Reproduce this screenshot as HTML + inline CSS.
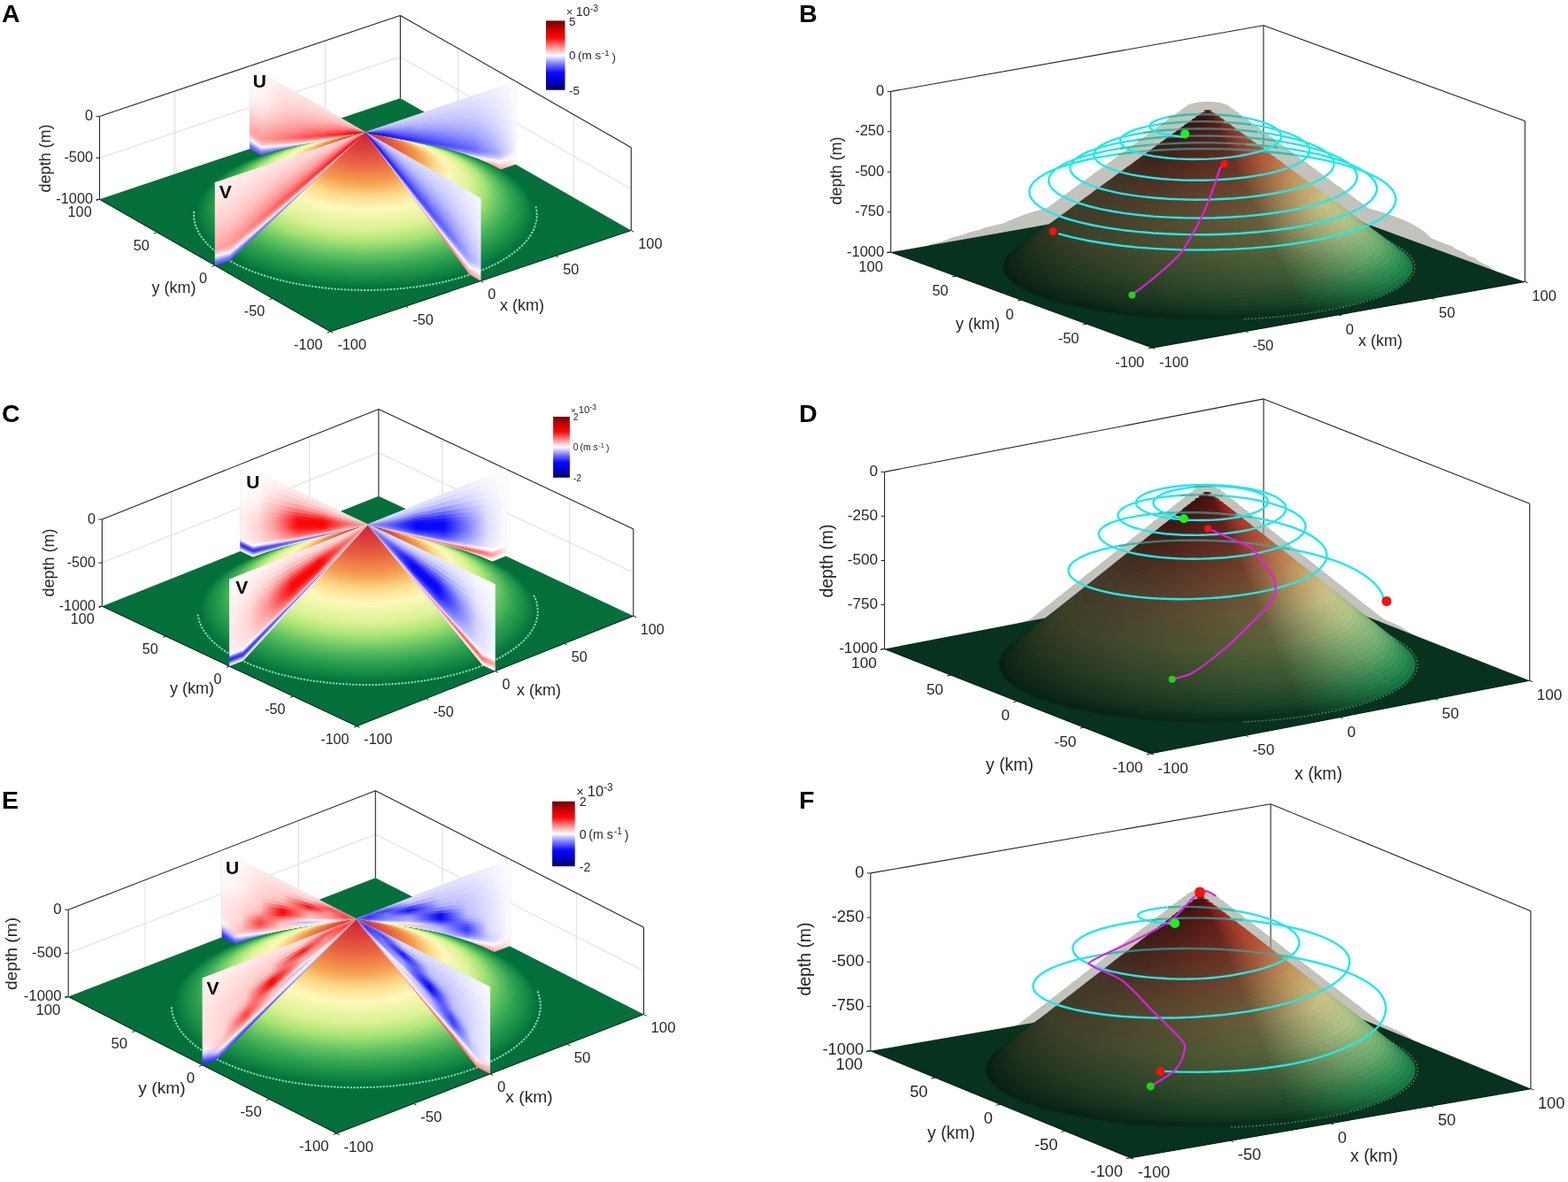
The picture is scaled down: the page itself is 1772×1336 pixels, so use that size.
<!DOCTYPE html><html><head><meta charset="utf-8"><title>Seamount flow figure</title><style>html,body{margin:0;padding:0;background:#fff;overflow:hidden}svg{display:block}</style></head><body><svg width="1772" height="1336" viewBox="0 0 1772 1336" font-family='"Liberation Sans", Arial, Helvetica, sans-serif'><defs><linearGradient id="cb1" x1="0" y1="0" x2="0" y2="1"><stop offset="0.000" stop-color="#6e0000"/><stop offset="0.050" stop-color="#920000"/><stop offset="0.100" stop-color="#b60000"/><stop offset="0.150" stop-color="#d30202"/><stop offset="0.200" stop-color="#e90606"/><stop offset="0.250" stop-color="#ff0a0a"/><stop offset="0.300" stop-color="#ff3e3e"/><stop offset="0.350" stop-color="#ff7272"/><stop offset="0.400" stop-color="#ffa3a3"/><stop offset="0.450" stop-color="#ffd1d1"/><stop offset="0.500" stop-color="#ffffff"/><stop offset="0.550" stop-color="#c9c9ff"/><stop offset="0.600" stop-color="#9393ff"/><stop offset="0.650" stop-color="#6262ff"/><stop offset="0.700" stop-color="#3636ff"/><stop offset="0.750" stop-color="#0a0aff"/><stop offset="0.800" stop-color="#0606e9"/><stop offset="0.850" stop-color="#0202d3"/><stop offset="0.900" stop-color="#0000b2"/><stop offset="0.950" stop-color="#000086"/><stop offset="1.000" stop-color="#00005a"/></linearGradient><linearGradient id="v2" x1="1" x2="0"><stop offset="0" stop-color="#ffffff"/><stop offset=".08" stop-color="#f0f0ff"/><stop offset=".2" stop-color="#bfbfff"/><stop offset=".35" stop-color="#9696ff"/><stop offset=".55" stop-color="#7575ff"/><stop offset=".72" stop-color="#6363ff"/><stop offset=".86" stop-color="#5c5cff"/><stop offset="1" stop-color="#5b5bff"/></linearGradient><linearGradient id="v3" x1="1" x2="0"><stop offset="0" stop-color="#ffecec"/><stop offset=".08" stop-color="#fff9f9"/><stop offset=".2" stop-color="#d4d4ff"/><stop offset=".35" stop-color="#aaaaff"/><stop offset=".55" stop-color="#8585ff"/><stop offset=".72" stop-color="#6e6eff"/><stop offset=".86" stop-color="#6565ff"/><stop offset="1" stop-color="#6161ff"/></linearGradient><linearGradient id="v4" x1="1" x2="0"><stop offset="0" stop-color="#ffd1d1"/><stop offset=".08" stop-color="#ffdddd"/><stop offset=".2" stop-color="#f4f4ff"/><stop offset=".35" stop-color="#c9c9ff"/><stop offset=".55" stop-color="#a0a0ff"/><stop offset=".72" stop-color="#8080ff"/><stop offset=".86" stop-color="#7272ff"/><stop offset="1" stop-color="#6b6bff"/></linearGradient><linearGradient id="v5" x1="1" x2="0"><stop offset="0" stop-color="#ffb3b3"/><stop offset=".08" stop-color="#ffbfbf"/><stop offset=".2" stop-color="#ffeaea"/><stop offset=".35" stop-color="#ededff"/><stop offset=".55" stop-color="#c1c1ff"/><stop offset=".72" stop-color="#9c9cff"/><stop offset=".86" stop-color="#8686ff"/><stop offset="1" stop-color="#7979ff"/></linearGradient><linearGradient id="v6" x1="1" x2="0"><stop offset="0" stop-color="#ff9898"/><stop offset=".08" stop-color="#ffa4a4"/><stop offset=".2" stop-color="#ffcece"/><stop offset=".35" stop-color="#fff0f0"/><stop offset=".55" stop-color="#e4e4ff"/><stop offset=".72" stop-color="#bbbbff"/><stop offset=".86" stop-color="#a0a0ff"/><stop offset="1" stop-color="#8e8eff"/></linearGradient><linearGradient id="v7" x1="1" x2="0"><stop offset="0" stop-color="#ff7c7c"/><stop offset=".08" stop-color="#ff8989"/><stop offset=".2" stop-color="#ffb2b2"/><stop offset=".35" stop-color="#ffd2d2"/><stop offset=".55" stop-color="#fff5f5"/><stop offset=".72" stop-color="#dfdfff"/><stop offset=".86" stop-color="#c0c0ff"/><stop offset="1" stop-color="#a8a8ff"/></linearGradient><linearGradient id="v8" x1="1" x2="0"><stop offset="0" stop-color="#ff6161"/><stop offset=".08" stop-color="#ff6d6d"/><stop offset=".2" stop-color="#ff9898"/><stop offset=".35" stop-color="#ffb5b5"/><stop offset=".55" stop-color="#ffd4d4"/><stop offset=".72" stop-color="#fff8f8"/><stop offset=".86" stop-color="#e4e4ff"/><stop offset="1" stop-color="#c7c7ff"/></linearGradient><linearGradient id="v9" x1="1" x2="0"><stop offset="0" stop-color="#ff4949"/><stop offset=".08" stop-color="#ff5454"/><stop offset=".2" stop-color="#ff8181"/><stop offset=".35" stop-color="#ff9d9d"/><stop offset=".55" stop-color="#ffb8b8"/><stop offset=".72" stop-color="#ffdada"/><stop offset=".86" stop-color="#fff9f9"/><stop offset="1" stop-color="#e6e6ff"/></linearGradient><linearGradient id="v10" x1="1" x2="0"><stop offset="0" stop-color="#ff3232"/><stop offset=".08" stop-color="#ff3d3d"/><stop offset=".2" stop-color="#ff6969"/><stop offset=".35" stop-color="#ff8888"/><stop offset=".55" stop-color="#ffa1a1"/><stop offset=".72" stop-color="#ffc0c0"/><stop offset=".86" stop-color="#ffdede"/><stop offset="1" stop-color="#fffafa"/></linearGradient><linearGradient id="v11" x1="1" x2="0"><stop offset="0" stop-color="#ff1212"/><stop offset=".08" stop-color="#ff1c1c"/><stop offset=".2" stop-color="#ff4949"/><stop offset=".35" stop-color="#ff6868"/><stop offset=".55" stop-color="#ff8484"/><stop offset=".72" stop-color="#ffa2a2"/><stop offset=".86" stop-color="#ffbdbd"/><stop offset="1" stop-color="#ffd9d9"/></linearGradient><linearGradient id="v12" x1="1" x2="0"><stop offset="0" stop-color="#f40808"/><stop offset=".08" stop-color="#f80909"/><stop offset=".2" stop-color="#ff2727"/><stop offset=".35" stop-color="#ff4848"/><stop offset=".55" stop-color="#ff6767"/><stop offset=".72" stop-color="#ff8888"/><stop offset=".86" stop-color="#ffa0a0"/><stop offset="1" stop-color="#ffb8b8"/></linearGradient><linearGradient id="v13" x1="1" x2="0"><stop offset="0" stop-color="#ed0707"/><stop offset=".08" stop-color="#f00707"/><stop offset=".2" stop-color="#ff1717"/><stop offset=".35" stop-color="#ff3a3a"/><stop offset=".55" stop-color="#ff5b5b"/><stop offset=".72" stop-color="#ff7c7c"/><stop offset=".86" stop-color="#ff9494"/><stop offset="1" stop-color="#ffa8a8"/></linearGradient><linearGradient id="v14" x1="1" x2="0"><stop offset="0" stop-color="#f10707"/><stop offset=".08" stop-color="#f50808"/><stop offset=".2" stop-color="#ff2323"/><stop offset=".35" stop-color="#ff4646"/><stop offset=".55" stop-color="#ff6565"/><stop offset=".72" stop-color="#ff8484"/><stop offset=".86" stop-color="#ff9999"/><stop offset="1" stop-color="#ffa9a9"/></linearGradient><linearGradient id="v15" x1="1" x2="0"><stop offset="0" stop-color="#f60808"/><stop offset=".08" stop-color="#fb0909"/><stop offset=".2" stop-color="#ff3232"/><stop offset=".35" stop-color="#ff5555"/><stop offset=".55" stop-color="#ff7272"/><stop offset=".72" stop-color="#ff8e8e"/><stop offset=".86" stop-color="#ffa0a0"/><stop offset="1" stop-color="#ffaeae"/></linearGradient><linearGradient id="v16" x1="1" x2="0"><stop offset="0" stop-color="#fb0909"/><stop offset=".08" stop-color="#ff0d0d"/><stop offset=".2" stop-color="#ff4040"/><stop offset=".35" stop-color="#ff6262"/><stop offset=".55" stop-color="#ff7e7e"/><stop offset=".72" stop-color="#ff9797"/><stop offset=".86" stop-color="#ffa8a8"/><stop offset="1" stop-color="#ffb5b5"/></linearGradient><linearGradient id="v17" x1="1" x2="0"><stop offset="0" stop-color="#ff0e0e"/><stop offset=".08" stop-color="#ff1a1a"/><stop offset=".2" stop-color="#ff4d4d"/><stop offset=".35" stop-color="#ff6f6f"/><stop offset=".55" stop-color="#ff8888"/><stop offset=".72" stop-color="#ff9f9f"/><stop offset=".86" stop-color="#ffb1b1"/><stop offset="1" stop-color="#ffbebe"/></linearGradient><linearGradient id="v18" x1="1" x2="0"><stop offset="0" stop-color="#ff1c1c"/><stop offset=".08" stop-color="#ff2828"/><stop offset=".2" stop-color="#ff5b5b"/><stop offset=".35" stop-color="#ff7c7c"/><stop offset=".55" stop-color="#ff9292"/><stop offset=".72" stop-color="#ffa7a7"/><stop offset=".86" stop-color="#ffbaba"/><stop offset="1" stop-color="#ffc7c7"/></linearGradient><linearGradient id="v19" x1="1" x2="0"><stop offset="0" stop-color="#ff2c2c"/><stop offset=".08" stop-color="#ff3838"/><stop offset=".2" stop-color="#ff6969"/><stop offset=".35" stop-color="#ff8989"/><stop offset=".55" stop-color="#ff9c9c"/><stop offset=".72" stop-color="#ffb0b0"/><stop offset=".86" stop-color="#ffc4c4"/><stop offset="1" stop-color="#ffd1d1"/></linearGradient><linearGradient id="v20" x1="1" x2="0"><stop offset="0" stop-color="#ff3e3e"/><stop offset=".08" stop-color="#ff4949"/><stop offset=".2" stop-color="#ff7878"/><stop offset=".35" stop-color="#ff9595"/><stop offset=".55" stop-color="#ffa6a6"/><stop offset=".72" stop-color="#ffb9b9"/><stop offset=".86" stop-color="#ffcfcf"/><stop offset="1" stop-color="#ffdbdb"/></linearGradient><linearGradient id="v21" x1="1" x2="0"><stop offset="0" stop-color="#ff5151"/><stop offset=".08" stop-color="#ff5c5c"/><stop offset=".2" stop-color="#ff8888"/><stop offset=".35" stop-color="#ffa0a0"/><stop offset=".55" stop-color="#ffb0b0"/><stop offset=".72" stop-color="#ffc1c1"/><stop offset=".86" stop-color="#ffd9d9"/><stop offset="1" stop-color="#ffe6e6"/></linearGradient><linearGradient id="v22" x1="1" x2="0"><stop offset="0" stop-color="#ff6767"/><stop offset=".08" stop-color="#ff7171"/><stop offset=".2" stop-color="#ff9696"/><stop offset=".35" stop-color="#ffacac"/><stop offset=".55" stop-color="#ffb9b9"/><stop offset=".72" stop-color="#ffc9c9"/><stop offset=".86" stop-color="#ffe2e2"/><stop offset="1" stop-color="#ffeeee"/></linearGradient><linearGradient id="v23" x1="1" x2="0"><stop offset="0" stop-color="#ff7e7e"/><stop offset=".08" stop-color="#ff8686"/><stop offset=".2" stop-color="#ffa4a4"/><stop offset=".35" stop-color="#ffb7b7"/><stop offset=".55" stop-color="#ffc3c3"/><stop offset=".72" stop-color="#ffd1d1"/><stop offset=".86" stop-color="#ffe9e9"/><stop offset="1" stop-color="#fff6f6"/></linearGradient><linearGradient id="v24" x1="1" x2="0"><stop offset="0" stop-color="#ff9696"/><stop offset=".08" stop-color="#ff9c9c"/><stop offset=".2" stop-color="#ffb3b3"/><stop offset=".35" stop-color="#ffc2c2"/><stop offset=".55" stop-color="#ffcccc"/><stop offset=".72" stop-color="#ffd9d9"/><stop offset=".86" stop-color="#ffefef"/><stop offset="1" stop-color="#fffafa"/></linearGradient><linearGradient id="v25" x1="1" x2="0"><stop offset="0" stop-color="#ffacac"/><stop offset=".08" stop-color="#ffb0b0"/><stop offset=".2" stop-color="#ffc1c1"/><stop offset=".35" stop-color="#ffcdcd"/><stop offset=".55" stop-color="#ffd5d5"/><stop offset=".72" stop-color="#ffdfdf"/><stop offset=".86" stop-color="#fff2f2"/><stop offset="1" stop-color="#fffbfb"/></linearGradient><linearGradient id="v26" x1="1" x2="0"><stop offset="0" stop-color="#ffbfbf"/><stop offset=".08" stop-color="#ffc2c2"/><stop offset=".2" stop-color="#ffcdcd"/><stop offset=".35" stop-color="#ffd5d5"/><stop offset=".55" stop-color="#ffdcdc"/><stop offset=".72" stop-color="#ffe5e5"/><stop offset=".86" stop-color="#fff4f4"/><stop offset="1" stop-color="#fffcfc"/></linearGradient><linearGradient id="v27" x1="1" x2="0"><stop offset="0" stop-color="#ffcece"/><stop offset=".08" stop-color="#ffcfcf"/><stop offset=".2" stop-color="#ffd7d7"/><stop offset=".35" stop-color="#ffdcdc"/><stop offset=".55" stop-color="#ffe2e2"/><stop offset=".72" stop-color="#ffe9e9"/><stop offset=".86" stop-color="#fff6f6"/><stop offset="1" stop-color="#fffcfc"/></linearGradient><linearGradient id="v28" x1="1" x2="0"><stop offset="0" stop-color="#ffffff"/><stop offset=".08" stop-color="#f0f0ff"/><stop offset=".2" stop-color="#bfbfff"/><stop offset=".35" stop-color="#9696ff"/><stop offset=".55" stop-color="#7575ff"/><stop offset=".72" stop-color="#6363ff"/><stop offset=".86" stop-color="#5c5cff"/><stop offset="1" stop-color="#5b5bff"/></linearGradient><linearGradient id="v29" x1="1" x2="0"><stop offset="0" stop-color="#ffecec"/><stop offset=".08" stop-color="#fff9f9"/><stop offset=".2" stop-color="#d4d4ff"/><stop offset=".35" stop-color="#aaaaff"/><stop offset=".55" stop-color="#8585ff"/><stop offset=".72" stop-color="#6e6eff"/><stop offset=".86" stop-color="#6565ff"/><stop offset="1" stop-color="#6161ff"/></linearGradient><linearGradient id="v30" x1="1" x2="0"><stop offset="0" stop-color="#ffd1d1"/><stop offset=".08" stop-color="#ffdddd"/><stop offset=".2" stop-color="#f4f4ff"/><stop offset=".35" stop-color="#c9c9ff"/><stop offset=".55" stop-color="#a0a0ff"/><stop offset=".72" stop-color="#8080ff"/><stop offset=".86" stop-color="#7272ff"/><stop offset="1" stop-color="#6b6bff"/></linearGradient><linearGradient id="v31" x1="1" x2="0"><stop offset="0" stop-color="#ffb3b3"/><stop offset=".08" stop-color="#ffbfbf"/><stop offset=".2" stop-color="#ffeaea"/><stop offset=".35" stop-color="#ededff"/><stop offset=".55" stop-color="#c1c1ff"/><stop offset=".72" stop-color="#9c9cff"/><stop offset=".86" stop-color="#8686ff"/><stop offset="1" stop-color="#7979ff"/></linearGradient><linearGradient id="v32" x1="1" x2="0"><stop offset="0" stop-color="#ff9898"/><stop offset=".08" stop-color="#ffa4a4"/><stop offset=".2" stop-color="#ffcece"/><stop offset=".35" stop-color="#fff0f0"/><stop offset=".55" stop-color="#e4e4ff"/><stop offset=".72" stop-color="#bbbbff"/><stop offset=".86" stop-color="#a0a0ff"/><stop offset="1" stop-color="#8e8eff"/></linearGradient><linearGradient id="v33" x1="1" x2="0"><stop offset="0" stop-color="#ff7c7c"/><stop offset=".08" stop-color="#ff8989"/><stop offset=".2" stop-color="#ffb2b2"/><stop offset=".35" stop-color="#ffd2d2"/><stop offset=".55" stop-color="#fff5f5"/><stop offset=".72" stop-color="#dfdfff"/><stop offset=".86" stop-color="#c0c0ff"/><stop offset="1" stop-color="#a8a8ff"/></linearGradient><linearGradient id="v34" x1="1" x2="0"><stop offset="0" stop-color="#ff6161"/><stop offset=".08" stop-color="#ff6d6d"/><stop offset=".2" stop-color="#ff9898"/><stop offset=".35" stop-color="#ffb5b5"/><stop offset=".55" stop-color="#ffd4d4"/><stop offset=".72" stop-color="#fff8f8"/><stop offset=".86" stop-color="#e4e4ff"/><stop offset="1" stop-color="#c7c7ff"/></linearGradient><linearGradient id="v35" x1="1" x2="0"><stop offset="0" stop-color="#ff4949"/><stop offset=".08" stop-color="#ff5454"/><stop offset=".2" stop-color="#ff8181"/><stop offset=".35" stop-color="#ff9d9d"/><stop offset=".55" stop-color="#ffb8b8"/><stop offset=".72" stop-color="#ffdada"/><stop offset=".86" stop-color="#fff9f9"/><stop offset="1" stop-color="#e6e6ff"/></linearGradient><linearGradient id="v36" x1="1" x2="0"><stop offset="0" stop-color="#ff3232"/><stop offset=".08" stop-color="#ff3d3d"/><stop offset=".2" stop-color="#ff6969"/><stop offset=".35" stop-color="#ff8888"/><stop offset=".55" stop-color="#ffa1a1"/><stop offset=".72" stop-color="#ffc0c0"/><stop offset=".86" stop-color="#ffdede"/><stop offset="1" stop-color="#fffafa"/></linearGradient><linearGradient id="v37" x1="1" x2="0"><stop offset="0" stop-color="#ff1212"/><stop offset=".08" stop-color="#ff1c1c"/><stop offset=".2" stop-color="#ff4949"/><stop offset=".35" stop-color="#ff6868"/><stop offset=".55" stop-color="#ff8484"/><stop offset=".72" stop-color="#ffa2a2"/><stop offset=".86" stop-color="#ffbdbd"/><stop offset="1" stop-color="#ffd9d9"/></linearGradient><linearGradient id="v38" x1="1" x2="0"><stop offset="0" stop-color="#f40808"/><stop offset=".08" stop-color="#f80909"/><stop offset=".2" stop-color="#ff2727"/><stop offset=".35" stop-color="#ff4848"/><stop offset=".55" stop-color="#ff6767"/><stop offset=".72" stop-color="#ff8888"/><stop offset=".86" stop-color="#ffa0a0"/><stop offset="1" stop-color="#ffb8b8"/></linearGradient><linearGradient id="v39" x1="1" x2="0"><stop offset="0" stop-color="#ed0707"/><stop offset=".08" stop-color="#f00707"/><stop offset=".2" stop-color="#ff1717"/><stop offset=".35" stop-color="#ff3a3a"/><stop offset=".55" stop-color="#ff5b5b"/><stop offset=".72" stop-color="#ff7c7c"/><stop offset=".86" stop-color="#ff9494"/><stop offset="1" stop-color="#ffa8a8"/></linearGradient><linearGradient id="v40" x1="1" x2="0"><stop offset="0" stop-color="#f10707"/><stop offset=".08" stop-color="#f50808"/><stop offset=".2" stop-color="#ff2323"/><stop offset=".35" stop-color="#ff4646"/><stop offset=".55" stop-color="#ff6565"/><stop offset=".72" stop-color="#ff8484"/><stop offset=".86" stop-color="#ff9999"/><stop offset="1" stop-color="#ffa9a9"/></linearGradient><linearGradient id="v41" x1="1" x2="0"><stop offset="0" stop-color="#f60808"/><stop offset=".08" stop-color="#fb0909"/><stop offset=".2" stop-color="#ff3232"/><stop offset=".35" stop-color="#ff5555"/><stop offset=".55" stop-color="#ff7272"/><stop offset=".72" stop-color="#ff8e8e"/><stop offset=".86" stop-color="#ffa0a0"/><stop offset="1" stop-color="#ffaeae"/></linearGradient><linearGradient id="v42" x1="1" x2="0"><stop offset="0" stop-color="#fb0909"/><stop offset=".08" stop-color="#ff0d0d"/><stop offset=".2" stop-color="#ff4040"/><stop offset=".35" stop-color="#ff6262"/><stop offset=".55" stop-color="#ff7e7e"/><stop offset=".72" stop-color="#ff9696"/><stop offset=".86" stop-color="#ffa7a7"/><stop offset="1" stop-color="#ffb4b4"/></linearGradient><linearGradient id="v43" x1="1" x2="0"><stop offset="0" stop-color="#ff0e0e"/><stop offset=".08" stop-color="#ff1a1a"/><stop offset=".2" stop-color="#ff4d4d"/><stop offset=".35" stop-color="#ff6f6f"/><stop offset=".55" stop-color="#ff8888"/><stop offset=".72" stop-color="#ff9e9e"/><stop offset=".86" stop-color="#ffaeae"/><stop offset="1" stop-color="#ffb9b9"/></linearGradient><linearGradient id="v44" x1="1" x2="0"><stop offset="0" stop-color="#ff1c1c"/><stop offset=".08" stop-color="#ff2828"/><stop offset=".2" stop-color="#ff5b5b"/><stop offset=".35" stop-color="#ff7c7c"/><stop offset=".55" stop-color="#ff9292"/><stop offset=".72" stop-color="#ffa6a6"/><stop offset=".86" stop-color="#ffb4b4"/><stop offset="1" stop-color="#ffbfbf"/></linearGradient><linearGradient id="v45" x1="1" x2="0"><stop offset="0" stop-color="#ff2c2c"/><stop offset=".08" stop-color="#ff3838"/><stop offset=".2" stop-color="#ff6969"/><stop offset=".35" stop-color="#ff8989"/><stop offset=".55" stop-color="#ff9c9c"/><stop offset=".72" stop-color="#ffaeae"/><stop offset=".86" stop-color="#ffbbbb"/><stop offset="1" stop-color="#ffc5c5"/></linearGradient><linearGradient id="v46" x1="1" x2="0"><stop offset="0" stop-color="#ff3e3e"/><stop offset=".08" stop-color="#ff4949"/><stop offset=".2" stop-color="#ff7878"/><stop offset=".35" stop-color="#ff9595"/><stop offset=".55" stop-color="#ffa6a6"/><stop offset=".72" stop-color="#ffb6b6"/><stop offset=".86" stop-color="#ffc2c2"/><stop offset="1" stop-color="#ffcaca"/></linearGradient><linearGradient id="v47" x1="1" x2="0"><stop offset="0" stop-color="#ff5151"/><stop offset=".08" stop-color="#ff5c5c"/><stop offset=".2" stop-color="#ff8888"/><stop offset=".35" stop-color="#ffa0a0"/><stop offset=".55" stop-color="#ffb0b0"/><stop offset=".72" stop-color="#ffbebe"/><stop offset=".86" stop-color="#ffc9c9"/><stop offset="1" stop-color="#ffd0d0"/></linearGradient><linearGradient id="v48" x1="1" x2="0"><stop offset="0" stop-color="#ff6767"/><stop offset=".08" stop-color="#ff7171"/><stop offset=".2" stop-color="#ff9696"/><stop offset=".35" stop-color="#ffacac"/><stop offset=".55" stop-color="#ffb9b9"/><stop offset=".72" stop-color="#ffc6c6"/><stop offset=".86" stop-color="#ffcfcf"/><stop offset="1" stop-color="#ffd6d6"/></linearGradient><linearGradient id="v49" x1="1" x2="0"><stop offset="0" stop-color="#ff7e7e"/><stop offset=".08" stop-color="#ff8686"/><stop offset=".2" stop-color="#ffa4a4"/><stop offset=".35" stop-color="#ffb7b7"/><stop offset=".55" stop-color="#ffc3c3"/><stop offset=".72" stop-color="#ffcece"/><stop offset=".86" stop-color="#ffd5d5"/><stop offset="1" stop-color="#ffdbdb"/></linearGradient><linearGradient id="v50" x1="1" x2="0"><stop offset="0" stop-color="#ff9696"/><stop offset=".08" stop-color="#ff9c9c"/><stop offset=".2" stop-color="#ffb3b3"/><stop offset=".35" stop-color="#ffc2c2"/><stop offset=".55" stop-color="#ffcccc"/><stop offset=".72" stop-color="#ffd5d5"/><stop offset=".86" stop-color="#ffdcdc"/><stop offset="1" stop-color="#ffe1e1"/></linearGradient><linearGradient id="v51" x1="1" x2="0"><stop offset="0" stop-color="#ffacac"/><stop offset=".08" stop-color="#ffb0b0"/><stop offset=".2" stop-color="#ffc1c1"/><stop offset=".35" stop-color="#ffcdcd"/><stop offset=".55" stop-color="#ffd5d5"/><stop offset=".72" stop-color="#ffdcdc"/><stop offset=".86" stop-color="#ffe2e2"/><stop offset="1" stop-color="#ffe6e6"/></linearGradient><linearGradient id="v52" x1="1" x2="0"><stop offset="0" stop-color="#ffbfbf"/><stop offset=".08" stop-color="#ffc2c2"/><stop offset=".2" stop-color="#ffcdcd"/><stop offset=".35" stop-color="#ffd5d5"/><stop offset=".55" stop-color="#ffdcdc"/><stop offset=".72" stop-color="#ffe2e2"/><stop offset=".86" stop-color="#ffe7e7"/><stop offset="1" stop-color="#ffeaea"/></linearGradient><linearGradient id="v53" x1="1" x2="0"><stop offset="0" stop-color="#ffcece"/><stop offset=".08" stop-color="#ffcfcf"/><stop offset=".2" stop-color="#ffd7d7"/><stop offset=".35" stop-color="#ffdcdc"/><stop offset=".55" stop-color="#ffe2e2"/><stop offset=".72" stop-color="#ffe7e7"/><stop offset=".86" stop-color="#ffebeb"/><stop offset="1" stop-color="#ffeeee"/></linearGradient><linearGradient id="v54" x1="0" x2="1"><stop offset="0" stop-color="#ffffff"/><stop offset=".08" stop-color="#fff3f3"/><stop offset=".2" stop-color="#ffc8c8"/><stop offset=".35" stop-color="#ffa6a6"/><stop offset=".55" stop-color="#ff8989"/><stop offset=".72" stop-color="#ff7373"/><stop offset=".86" stop-color="#ff9696"/><stop offset="1" stop-color="#fff0f0"/></linearGradient><linearGradient id="v55" x1="0" x2="1"><stop offset="0" stop-color="#e9e9ff"/><stop offset=".08" stop-color="#f7f7ff"/><stop offset=".2" stop-color="#ffdbdb"/><stop offset=".35" stop-color="#ffb7b7"/><stop offset=".55" stop-color="#ff9797"/><stop offset=".72" stop-color="#ff8080"/><stop offset=".86" stop-color="#ff9c9c"/><stop offset="1" stop-color="#fff1f1"/></linearGradient><linearGradient id="v56" x1="0" x2="1"><stop offset="0" stop-color="#c9c9ff"/><stop offset=".08" stop-color="#d7d7ff"/><stop offset=".2" stop-color="#fff5f5"/><stop offset=".35" stop-color="#ffd1d1"/><stop offset=".55" stop-color="#ffaeae"/><stop offset=".72" stop-color="#ff9393"/><stop offset=".86" stop-color="#ffa7a7"/><stop offset="1" stop-color="#fff2f2"/></linearGradient><linearGradient id="v57" x1="0" x2="1"><stop offset="0" stop-color="#a6a6ff"/><stop offset=".08" stop-color="#b4b4ff"/><stop offset=".2" stop-color="#e7e7ff"/><stop offset=".35" stop-color="#ffefef"/><stop offset=".55" stop-color="#ffcaca"/><stop offset=".72" stop-color="#ffaaaa"/><stop offset=".86" stop-color="#ffb4b4"/><stop offset="1" stop-color="#fff4f4"/></linearGradient><linearGradient id="v58" x1="0" x2="1"><stop offset="0" stop-color="#8686ff"/><stop offset=".08" stop-color="#9494ff"/><stop offset=".2" stop-color="#c5c5ff"/><stop offset=".35" stop-color="#eeeeff"/><stop offset=".55" stop-color="#ffe8e8"/><stop offset=".72" stop-color="#ffc5c5"/><stop offset=".86" stop-color="#ffc4c4"/><stop offset="1" stop-color="#fff5f5"/></linearGradient><linearGradient id="v59" x1="0" x2="1"><stop offset="0" stop-color="#6b6bff"/><stop offset=".08" stop-color="#7575ff"/><stop offset=".2" stop-color="#a4a4ff"/><stop offset=".35" stop-color="#cacaff"/><stop offset=".55" stop-color="#f3f3ff"/><stop offset=".72" stop-color="#ffe4e4"/><stop offset=".86" stop-color="#ffd8d8"/><stop offset="1" stop-color="#fff8f8"/></linearGradient><linearGradient id="v60" x1="0" x2="1"><stop offset="0" stop-color="#5454ff"/><stop offset=".08" stop-color="#5e5eff"/><stop offset=".2" stop-color="#8686ff"/><stop offset=".35" stop-color="#a8a8ff"/><stop offset=".55" stop-color="#ccccff"/><stop offset=".72" stop-color="#f7f7ff"/><stop offset=".86" stop-color="#ffeeee"/><stop offset="1" stop-color="#fffafa"/></linearGradient><linearGradient id="v61" x1="0" x2="1"><stop offset="0" stop-color="#3f3fff"/><stop offset=".08" stop-color="#4949ff"/><stop offset=".2" stop-color="#6e6eff"/><stop offset=".35" stop-color="#8c8cff"/><stop offset=".55" stop-color="#ababff"/><stop offset=".72" stop-color="#d4d4ff"/><stop offset=".86" stop-color="#fafaff"/><stop offset="1" stop-color="#fffdfd"/></linearGradient><linearGradient id="v62" x1="0" x2="1"><stop offset="0" stop-color="#2c2cff"/><stop offset=".08" stop-color="#3535ff"/><stop offset=".2" stop-color="#5b5bff"/><stop offset=".35" stop-color="#7474ff"/><stop offset=".55" stop-color="#9090ff"/><stop offset=".72" stop-color="#b5b5ff"/><stop offset=".86" stop-color="#e3e3ff"/><stop offset="1" stop-color="#fefeff"/></linearGradient><linearGradient id="v63" x1="0" x2="1"><stop offset="0" stop-color="#1111ff"/><stop offset=".08" stop-color="#1919ff"/><stop offset=".2" stop-color="#3f3fff"/><stop offset=".35" stop-color="#5a5aff"/><stop offset=".55" stop-color="#7171ff"/><stop offset=".72" stop-color="#9292ff"/><stop offset=".86" stop-color="#c7c7ff"/><stop offset="1" stop-color="#fbfbff"/></linearGradient><linearGradient id="v64" x1="0" x2="1"><stop offset="0" stop-color="#0808f4"/><stop offset=".08" stop-color="#0909f8"/><stop offset=".2" stop-color="#2222ff"/><stop offset=".35" stop-color="#3f3fff"/><stop offset=".55" stop-color="#5959ff"/><stop offset=".72" stop-color="#7474ff"/><stop offset=".86" stop-color="#aeaeff"/><stop offset="1" stop-color="#f7f7ff"/></linearGradient><linearGradient id="v65" x1="0" x2="1"><stop offset="0" stop-color="#0707ed"/><stop offset=".08" stop-color="#0707f0"/><stop offset=".2" stop-color="#1515ff"/><stop offset=".35" stop-color="#3232ff"/><stop offset=".55" stop-color="#4e4eff"/><stop offset=".72" stop-color="#6a6aff"/><stop offset=".86" stop-color="#a3a3ff"/><stop offset="1" stop-color="#f5f5ff"/></linearGradient><linearGradient id="v66" x1="0" x2="1"><stop offset="0" stop-color="#0707f1"/><stop offset=".08" stop-color="#0808f5"/><stop offset=".2" stop-color="#1f1fff"/><stop offset=".35" stop-color="#3d3dff"/><stop offset=".55" stop-color="#5757ff"/><stop offset=".72" stop-color="#7171ff"/><stop offset=".86" stop-color="#a7a7ff"/><stop offset="1" stop-color="#f5f5ff"/></linearGradient><linearGradient id="v67" x1="0" x2="1"><stop offset="0" stop-color="#0808f6"/><stop offset=".08" stop-color="#0909fb"/><stop offset=".2" stop-color="#2c2cff"/><stop offset=".35" stop-color="#4949ff"/><stop offset=".55" stop-color="#6262ff"/><stop offset=".72" stop-color="#7a7aff"/><stop offset=".86" stop-color="#aeaeff"/><stop offset="1" stop-color="#f5f5ff"/></linearGradient><linearGradient id="v68" x1="0" x2="1"><stop offset="0" stop-color="#0909fb"/><stop offset=".08" stop-color="#0d0dff"/><stop offset=".2" stop-color="#3838ff"/><stop offset=".35" stop-color="#5555ff"/><stop offset=".55" stop-color="#6c6cff"/><stop offset=".72" stop-color="#8484ff"/><stop offset=".86" stop-color="#b4b4ff"/><stop offset="1" stop-color="#f6f6ff"/></linearGradient><linearGradient id="v69" x1="0" x2="1"><stop offset="0" stop-color="#0e0eff"/><stop offset=".08" stop-color="#1818ff"/><stop offset=".2" stop-color="#4343ff"/><stop offset=".35" stop-color="#6060ff"/><stop offset=".55" stop-color="#7575ff"/><stop offset=".72" stop-color="#8d8dff"/><stop offset=".86" stop-color="#b9b9ff"/><stop offset="1" stop-color="#f7f7ff"/></linearGradient><linearGradient id="v70" x1="0" x2="1"><stop offset="0" stop-color="#1919ff"/><stop offset=".08" stop-color="#2424ff"/><stop offset=".2" stop-color="#4e4eff"/><stop offset=".35" stop-color="#6a6aff"/><stop offset=".55" stop-color="#7f7fff"/><stop offset=".72" stop-color="#9696ff"/><stop offset=".86" stop-color="#bfbfff"/><stop offset="1" stop-color="#f7f7ff"/></linearGradient><linearGradient id="v71" x1="0" x2="1"><stop offset="0" stop-color="#2727ff"/><stop offset=".08" stop-color="#3131ff"/><stop offset=".2" stop-color="#5a5aff"/><stop offset=".35" stop-color="#7575ff"/><stop offset=".55" stop-color="#8b8bff"/><stop offset=".72" stop-color="#a0a0ff"/><stop offset=".86" stop-color="#c5c5ff"/><stop offset="1" stop-color="#f8f8ff"/></linearGradient><linearGradient id="v72" x1="0" x2="1"><stop offset="0" stop-color="#3636ff"/><stop offset=".08" stop-color="#4040ff"/><stop offset=".2" stop-color="#6767ff"/><stop offset=".35" stop-color="#8282ff"/><stop offset=".55" stop-color="#9696ff"/><stop offset=".72" stop-color="#a9a9ff"/><stop offset=".86" stop-color="#cbcbff"/><stop offset="1" stop-color="#f9f9ff"/></linearGradient><linearGradient id="v73" x1="0" x2="1"><stop offset="0" stop-color="#4646ff"/><stop offset=".08" stop-color="#5050ff"/><stop offset=".2" stop-color="#7474ff"/><stop offset=".35" stop-color="#9090ff"/><stop offset=".55" stop-color="#a2a2ff"/><stop offset=".72" stop-color="#b3b3ff"/><stop offset=".86" stop-color="#d0d0ff"/><stop offset="1" stop-color="#fafaff"/></linearGradient><linearGradient id="v74" x1="0" x2="1"><stop offset="0" stop-color="#5858ff"/><stop offset=".08" stop-color="#6161ff"/><stop offset=".2" stop-color="#8484ff"/><stop offset=".35" stop-color="#9d9dff"/><stop offset=".55" stop-color="#adadff"/><stop offset=".72" stop-color="#bcbcff"/><stop offset=".86" stop-color="#d6d6ff"/><stop offset="1" stop-color="#fafaff"/></linearGradient><linearGradient id="v75" x1="0" x2="1"><stop offset="0" stop-color="#6c6cff"/><stop offset=".08" stop-color="#7373ff"/><stop offset=".2" stop-color="#9595ff"/><stop offset=".35" stop-color="#aaaaff"/><stop offset=".55" stop-color="#b8b8ff"/><stop offset=".72" stop-color="#c5c5ff"/><stop offset=".86" stop-color="#dbdbff"/><stop offset="1" stop-color="#fbfbff"/></linearGradient><linearGradient id="v76" x1="0" x2="1"><stop offset="0" stop-color="#8484ff"/><stop offset=".08" stop-color="#8b8bff"/><stop offset=".2" stop-color="#a6a6ff"/><stop offset=".35" stop-color="#b7b7ff"/><stop offset=".55" stop-color="#c3c3ff"/><stop offset=".72" stop-color="#ceceff"/><stop offset=".86" stop-color="#e1e1ff"/><stop offset="1" stop-color="#fbfbff"/></linearGradient><linearGradient id="v77" x1="0" x2="1"><stop offset="0" stop-color="#9e9eff"/><stop offset=".08" stop-color="#a3a3ff"/><stop offset=".2" stop-color="#b7b7ff"/><stop offset=".35" stop-color="#c4c4ff"/><stop offset=".55" stop-color="#cdcdff"/><stop offset=".72" stop-color="#d6d6ff"/><stop offset=".86" stop-color="#e6e6ff"/><stop offset="1" stop-color="#fcfcff"/></linearGradient><linearGradient id="v78" x1="0" x2="1"><stop offset="0" stop-color="#b4b4ff"/><stop offset=".08" stop-color="#b7b7ff"/><stop offset=".2" stop-color="#c5c5ff"/><stop offset=".35" stop-color="#ceceff"/><stop offset=".55" stop-color="#d6d6ff"/><stop offset=".72" stop-color="#ddddff"/><stop offset=".86" stop-color="#eaeaff"/><stop offset="1" stop-color="#fdfdff"/></linearGradient><linearGradient id="v79" x1="0" x2="1"><stop offset="0" stop-color="#c5c5ff"/><stop offset=".08" stop-color="#c7c7ff"/><stop offset=".2" stop-color="#d0d0ff"/><stop offset=".35" stop-color="#d6d6ff"/><stop offset=".55" stop-color="#ddddff"/><stop offset=".72" stop-color="#e3e3ff"/><stop offset=".86" stop-color="#eeeeff"/><stop offset="1" stop-color="#fdfdff"/></linearGradient><linearGradient id="v80" x1="0" x2="1"><stop offset="0" stop-color="#ffffff"/><stop offset=".08" stop-color="#fff3f3"/><stop offset=".2" stop-color="#ffc8c8"/><stop offset=".35" stop-color="#ffa6a6"/><stop offset=".55" stop-color="#ff8989"/><stop offset=".72" stop-color="#ff7373"/><stop offset=".86" stop-color="#ff8686"/><stop offset="1" stop-color="#ffbdbd"/></linearGradient><linearGradient id="v81" x1="0" x2="1"><stop offset="0" stop-color="#e9e9ff"/><stop offset=".08" stop-color="#f7f7ff"/><stop offset=".2" stop-color="#ffdbdb"/><stop offset=".35" stop-color="#ffb7b7"/><stop offset=".55" stop-color="#ff9797"/><stop offset=".72" stop-color="#ff8080"/><stop offset=".86" stop-color="#ff8e8e"/><stop offset="1" stop-color="#ffc0c0"/></linearGradient><linearGradient id="v82" x1="0" x2="1"><stop offset="0" stop-color="#c9c9ff"/><stop offset=".08" stop-color="#d7d7ff"/><stop offset=".2" stop-color="#fff5f5"/><stop offset=".35" stop-color="#ffd1d1"/><stop offset=".55" stop-color="#ffaeae"/><stop offset=".72" stop-color="#ff9393"/><stop offset=".86" stop-color="#ff9a9a"/><stop offset="1" stop-color="#ffc5c5"/></linearGradient><linearGradient id="v83" x1="0" x2="1"><stop offset="0" stop-color="#a6a6ff"/><stop offset=".08" stop-color="#b4b4ff"/><stop offset=".2" stop-color="#e7e7ff"/><stop offset=".35" stop-color="#ffefef"/><stop offset=".55" stop-color="#ffcaca"/><stop offset=".72" stop-color="#ffaaaa"/><stop offset=".86" stop-color="#ffa9a9"/><stop offset="1" stop-color="#ffcccc"/></linearGradient><linearGradient id="v84" x1="0" x2="1"><stop offset="0" stop-color="#8686ff"/><stop offset=".08" stop-color="#9494ff"/><stop offset=".2" stop-color="#c5c5ff"/><stop offset=".35" stop-color="#eeeeff"/><stop offset=".55" stop-color="#ffe8e8"/><stop offset=".72" stop-color="#ffc5c5"/><stop offset=".86" stop-color="#ffbcbc"/><stop offset="1" stop-color="#ffd4d4"/></linearGradient><linearGradient id="v85" x1="0" x2="1"><stop offset="0" stop-color="#6b6bff"/><stop offset=".08" stop-color="#7575ff"/><stop offset=".2" stop-color="#a4a4ff"/><stop offset=".35" stop-color="#cacaff"/><stop offset=".55" stop-color="#f3f3ff"/><stop offset=".72" stop-color="#ffe4e4"/><stop offset=".86" stop-color="#ffd2d2"/><stop offset="1" stop-color="#ffdede"/></linearGradient><linearGradient id="v86" x1="0" x2="1"><stop offset="0" stop-color="#5454ff"/><stop offset=".08" stop-color="#5e5eff"/><stop offset=".2" stop-color="#8686ff"/><stop offset=".35" stop-color="#a8a8ff"/><stop offset=".55" stop-color="#ccccff"/><stop offset=".72" stop-color="#f7f7ff"/><stop offset=".86" stop-color="#ffecec"/><stop offset="1" stop-color="#ffeaea"/></linearGradient><linearGradient id="v87" x1="0" x2="1"><stop offset="0" stop-color="#3f3fff"/><stop offset=".08" stop-color="#4949ff"/><stop offset=".2" stop-color="#6e6eff"/><stop offset=".35" stop-color="#8c8cff"/><stop offset=".55" stop-color="#ababff"/><stop offset=".72" stop-color="#d4d4ff"/><stop offset=".86" stop-color="#f9f9ff"/><stop offset="1" stop-color="#fff6f6"/></linearGradient><linearGradient id="v88" x1="0" x2="1"><stop offset="0" stop-color="#2c2cff"/><stop offset=".08" stop-color="#3535ff"/><stop offset=".2" stop-color="#5b5bff"/><stop offset=".35" stop-color="#7474ff"/><stop offset=".55" stop-color="#9090ff"/><stop offset=".72" stop-color="#b5b5ff"/><stop offset=".86" stop-color="#dfdfff"/><stop offset="1" stop-color="#fdfdff"/></linearGradient><linearGradient id="v89" x1="0" x2="1"><stop offset="0" stop-color="#1111ff"/><stop offset=".08" stop-color="#1919ff"/><stop offset=".2" stop-color="#3f3fff"/><stop offset=".35" stop-color="#5a5aff"/><stop offset=".55" stop-color="#7171ff"/><stop offset=".72" stop-color="#9292ff"/><stop offset=".86" stop-color="#bebeff"/><stop offset="1" stop-color="#ebebff"/></linearGradient><linearGradient id="v90" x1="0" x2="1"><stop offset="0" stop-color="#0808f4"/><stop offset=".08" stop-color="#0909f8"/><stop offset=".2" stop-color="#2222ff"/><stop offset=".35" stop-color="#3f3fff"/><stop offset=".55" stop-color="#5959ff"/><stop offset=".72" stop-color="#7474ff"/><stop offset=".86" stop-color="#a2a2ff"/><stop offset="1" stop-color="#dadaff"/></linearGradient><linearGradient id="v91" x1="0" x2="1"><stop offset="0" stop-color="#0707ed"/><stop offset=".08" stop-color="#0707f0"/><stop offset=".2" stop-color="#1515ff"/><stop offset=".35" stop-color="#3232ff"/><stop offset=".55" stop-color="#4e4eff"/><stop offset=".72" stop-color="#6a6aff"/><stop offset=".86" stop-color="#9696ff"/><stop offset="1" stop-color="#d1d1ff"/></linearGradient><linearGradient id="v92" x1="0" x2="1"><stop offset="0" stop-color="#0707f1"/><stop offset=".08" stop-color="#0808f5"/><stop offset=".2" stop-color="#1f1fff"/><stop offset=".35" stop-color="#3d3dff"/><stop offset=".55" stop-color="#5757ff"/><stop offset=".72" stop-color="#7171ff"/><stop offset=".86" stop-color="#9b9bff"/><stop offset="1" stop-color="#d2d2ff"/></linearGradient><linearGradient id="v93" x1="0" x2="1"><stop offset="0" stop-color="#0808f6"/><stop offset=".08" stop-color="#0909fb"/><stop offset=".2" stop-color="#2c2cff"/><stop offset=".35" stop-color="#4949ff"/><stop offset=".55" stop-color="#6262ff"/><stop offset=".72" stop-color="#7a7aff"/><stop offset=".86" stop-color="#a2a2ff"/><stop offset="1" stop-color="#d4d4ff"/></linearGradient><linearGradient id="v94" x1="0" x2="1"><stop offset="0" stop-color="#0909fb"/><stop offset=".08" stop-color="#0d0dff"/><stop offset=".2" stop-color="#3838ff"/><stop offset=".35" stop-color="#5555ff"/><stop offset=".55" stop-color="#6c6cff"/><stop offset=".72" stop-color="#8484ff"/><stop offset=".86" stop-color="#a9a9ff"/><stop offset="1" stop-color="#d7d7ff"/></linearGradient><linearGradient id="v95" x1="0" x2="1"><stop offset="0" stop-color="#0e0eff"/><stop offset=".08" stop-color="#1818ff"/><stop offset=".2" stop-color="#4343ff"/><stop offset=".35" stop-color="#6060ff"/><stop offset=".55" stop-color="#7575ff"/><stop offset=".72" stop-color="#8d8dff"/><stop offset=".86" stop-color="#afafff"/><stop offset="1" stop-color="#dadaff"/></linearGradient><linearGradient id="v96" x1="0" x2="1"><stop offset="0" stop-color="#1919ff"/><stop offset=".08" stop-color="#2424ff"/><stop offset=".2" stop-color="#4e4eff"/><stop offset=".35" stop-color="#6a6aff"/><stop offset=".55" stop-color="#7f7fff"/><stop offset=".72" stop-color="#9696ff"/><stop offset=".86" stop-color="#b6b6ff"/><stop offset="1" stop-color="#ddddff"/></linearGradient><linearGradient id="v97" x1="0" x2="1"><stop offset="0" stop-color="#2727ff"/><stop offset=".08" stop-color="#3131ff"/><stop offset=".2" stop-color="#5a5aff"/><stop offset=".35" stop-color="#7575ff"/><stop offset=".55" stop-color="#8b8bff"/><stop offset=".72" stop-color="#a0a0ff"/><stop offset=".86" stop-color="#bcbcff"/><stop offset="1" stop-color="#e0e0ff"/></linearGradient><linearGradient id="v98" x1="0" x2="1"><stop offset="0" stop-color="#3636ff"/><stop offset=".08" stop-color="#4040ff"/><stop offset=".2" stop-color="#6767ff"/><stop offset=".35" stop-color="#8282ff"/><stop offset=".55" stop-color="#9696ff"/><stop offset=".72" stop-color="#a9a9ff"/><stop offset=".86" stop-color="#c3c3ff"/><stop offset="1" stop-color="#e3e3ff"/></linearGradient><linearGradient id="v99" x1="0" x2="1"><stop offset="0" stop-color="#4646ff"/><stop offset=".08" stop-color="#5050ff"/><stop offset=".2" stop-color="#7474ff"/><stop offset=".35" stop-color="#9090ff"/><stop offset=".55" stop-color="#a2a2ff"/><stop offset=".72" stop-color="#b3b3ff"/><stop offset=".86" stop-color="#cacaff"/><stop offset="1" stop-color="#e6e6ff"/></linearGradient><linearGradient id="v100" x1="0" x2="1"><stop offset="0" stop-color="#5858ff"/><stop offset=".08" stop-color="#6161ff"/><stop offset=".2" stop-color="#8484ff"/><stop offset=".35" stop-color="#9d9dff"/><stop offset=".55" stop-color="#adadff"/><stop offset=".72" stop-color="#bcbcff"/><stop offset=".86" stop-color="#d0d0ff"/><stop offset="1" stop-color="#e9e9ff"/></linearGradient><linearGradient id="v101" x1="0" x2="1"><stop offset="0" stop-color="#6c6cff"/><stop offset=".08" stop-color="#7373ff"/><stop offset=".2" stop-color="#9595ff"/><stop offset=".35" stop-color="#aaaaff"/><stop offset=".55" stop-color="#b8b8ff"/><stop offset=".72" stop-color="#c5c5ff"/><stop offset=".86" stop-color="#d6d6ff"/><stop offset="1" stop-color="#ececff"/></linearGradient><linearGradient id="v102" x1="0" x2="1"><stop offset="0" stop-color="#8484ff"/><stop offset=".08" stop-color="#8b8bff"/><stop offset=".2" stop-color="#a6a6ff"/><stop offset=".35" stop-color="#b7b7ff"/><stop offset=".55" stop-color="#c3c3ff"/><stop offset=".72" stop-color="#ceceff"/><stop offset=".86" stop-color="#ddddff"/><stop offset="1" stop-color="#efefff"/></linearGradient><linearGradient id="v103" x1="0" x2="1"><stop offset="0" stop-color="#9e9eff"/><stop offset=".08" stop-color="#a3a3ff"/><stop offset=".2" stop-color="#b7b7ff"/><stop offset=".35" stop-color="#c4c4ff"/><stop offset=".55" stop-color="#cdcdff"/><stop offset=".72" stop-color="#d6d6ff"/><stop offset=".86" stop-color="#e2e2ff"/><stop offset="1" stop-color="#f2f2ff"/></linearGradient><linearGradient id="v104" x1="0" x2="1"><stop offset="0" stop-color="#b4b4ff"/><stop offset=".08" stop-color="#b7b7ff"/><stop offset=".2" stop-color="#c5c5ff"/><stop offset=".35" stop-color="#ceceff"/><stop offset=".55" stop-color="#d6d6ff"/><stop offset=".72" stop-color="#ddddff"/><stop offset=".86" stop-color="#e7e7ff"/><stop offset="1" stop-color="#f4f4ff"/></linearGradient><linearGradient id="v105" x1="0" x2="1"><stop offset="0" stop-color="#c5c5ff"/><stop offset=".08" stop-color="#c7c7ff"/><stop offset=".2" stop-color="#d0d0ff"/><stop offset=".35" stop-color="#d6d6ff"/><stop offset=".55" stop-color="#ddddff"/><stop offset=".72" stop-color="#e3e3ff"/><stop offset=".86" stop-color="#ebebff"/><stop offset="1" stop-color="#f6f6ff"/></linearGradient><linearGradient id="s106" gradientUnits="userSpaceOnUse" x1="-0.788" y1="0.616" x2="0.788" y2="-0.616"><stop offset="0" stop-color="#082014"/><stop offset="0.25" stop-color="#092416"/><stop offset="0.5" stop-color="#0a2818"/><stop offset="0.75" stop-color="#0c311d"/><stop offset="1.0" stop-color="#197d44"/></linearGradient><linearGradient id="s107" gradientUnits="userSpaceOnUse" x1="-0.788" y1="0.616" x2="0.788" y2="-0.616"><stop offset="0" stop-color="#0c2215"/><stop offset="0.25" stop-color="#0d2819"/><stop offset="0.5" stop-color="#0f2f1c"/><stop offset="0.75" stop-color="#113821"/><stop offset="1.0" stop-color="#21854b"/></linearGradient><linearGradient id="s108" gradientUnits="userSpaceOnUse" x1="-0.788" y1="0.616" x2="0.788" y2="-0.616"><stop offset="0" stop-color="#0f2517"/><stop offset="0.25" stop-color="#112d1b"/><stop offset="0.5" stop-color="#133620"/><stop offset="0.75" stop-color="#164025"/><stop offset="1.0" stop-color="#298d52"/></linearGradient><linearGradient id="s109" gradientUnits="userSpaceOnUse" x1="-0.788" y1="0.616" x2="0.788" y2="-0.616"><stop offset="0" stop-color="#132718"/><stop offset="0.25" stop-color="#16311d"/><stop offset="0.5" stop-color="#183b22"/><stop offset="0.75" stop-color="#1b4528"/><stop offset="1.0" stop-color="#349458"/></linearGradient><linearGradient id="s110" gradientUnits="userSpaceOnUse" x1="-0.788" y1="0.616" x2="0.788" y2="-0.616"><stop offset="0" stop-color="#162a19"/><stop offset="0.25" stop-color="#1a341f"/><stop offset="0.5" stop-color="#1d3e24"/><stop offset="0.75" stop-color="#21482a"/><stop offset="1.0" stop-color="#409a5d"/></linearGradient><linearGradient id="s111" gradientUnits="userSpaceOnUse" x1="-0.788" y1="0.616" x2="0.788" y2="-0.616"><stop offset="0" stop-color="#1a2c1b"/><stop offset="0.25" stop-color="#1e3620"/><stop offset="0.5" stop-color="#234125"/><stop offset="0.75" stop-color="#284c2c"/><stop offset="1.0" stop-color="#4ea062"/></linearGradient><linearGradient id="s112" gradientUnits="userSpaceOnUse" x1="-0.788" y1="0.616" x2="0.788" y2="-0.616"><stop offset="0" stop-color="#1e2e1c"/><stop offset="0.25" stop-color="#233922"/><stop offset="0.5" stop-color="#284427"/><stop offset="0.75" stop-color="#2e4f2e"/><stop offset="1.0" stop-color="#5aa668"/></linearGradient><linearGradient id="s113" gradientUnits="userSpaceOnUse" x1="-0.788" y1="0.616" x2="0.788" y2="-0.616"><stop offset="0" stop-color="#21311d"/><stop offset="0.25" stop-color="#273c23"/><stop offset="0.5" stop-color="#2d4729"/><stop offset="0.75" stop-color="#345330"/><stop offset="1.0" stop-color="#68ac6d"/></linearGradient><linearGradient id="s114" gradientUnits="userSpaceOnUse" x1="-0.788" y1="0.616" x2="0.788" y2="-0.616"><stop offset="0" stop-color="#25331f"/><stop offset="0.25" stop-color="#2b3e24"/><stop offset="0.5" stop-color="#314a2a"/><stop offset="0.75" stop-color="#395632"/><stop offset="1.0" stop-color="#73b172"/></linearGradient><linearGradient id="s115" gradientUnits="userSpaceOnUse" x1="-0.788" y1="0.616" x2="0.788" y2="-0.616"><stop offset="0" stop-color="#283420"/><stop offset="0.25" stop-color="#2e4026"/><stop offset="0.5" stop-color="#354b2b"/><stop offset="0.75" stop-color="#3d5733"/><stop offset="1.0" stop-color="#7cb475"/></linearGradient><linearGradient id="s116" gradientUnits="userSpaceOnUse" x1="-0.788" y1="0.616" x2="0.788" y2="-0.616"><stop offset="0" stop-color="#2b3621"/><stop offset="0.25" stop-color="#324127"/><stop offset="0.5" stop-color="#384d2c"/><stop offset="0.75" stop-color="#415935"/><stop offset="1.0" stop-color="#85b779"/></linearGradient><linearGradient id="s117" gradientUnits="userSpaceOnUse" x1="-0.788" y1="0.616" x2="0.788" y2="-0.616"><stop offset="0" stop-color="#2f3823"/><stop offset="0.25" stop-color="#354328"/><stop offset="0.5" stop-color="#3c4e2d"/><stop offset="0.75" stop-color="#455b36"/><stop offset="1.0" stop-color="#8fba7c"/></linearGradient><linearGradient id="s118" gradientUnits="userSpaceOnUse" x1="-0.788" y1="0.616" x2="0.788" y2="-0.616"><stop offset="0" stop-color="#323924"/><stop offset="0.25" stop-color="#394529"/><stop offset="0.5" stop-color="#40502e"/><stop offset="0.75" stop-color="#4a5d37"/><stop offset="1.0" stop-color="#98bd80"/></linearGradient><linearGradient id="s119" gradientUnits="userSpaceOnUse" x1="-0.788" y1="0.616" x2="0.788" y2="-0.616"><stop offset="0" stop-color="#353b25"/><stop offset="0.25" stop-color="#3c462a"/><stop offset="0.5" stop-color="#43522f"/><stop offset="0.75" stop-color="#4e5e39"/><stop offset="1.0" stop-color="#a1c083"/></linearGradient><linearGradient id="s120" gradientUnits="userSpaceOnUse" x1="-0.788" y1="0.616" x2="0.788" y2="-0.616"><stop offset="0" stop-color="#393c27"/><stop offset="0.25" stop-color="#40482c"/><stop offset="0.5" stop-color="#475330"/><stop offset="0.75" stop-color="#52603a"/><stop offset="1.0" stop-color="#abc387"/></linearGradient><linearGradient id="s121" gradientUnits="userSpaceOnUse" x1="-0.788" y1="0.616" x2="0.788" y2="-0.616"><stop offset="0" stop-color="#3c3e28"/><stop offset="0.25" stop-color="#43492d"/><stop offset="0.5" stop-color="#4a5532"/><stop offset="0.75" stop-color="#56623b"/><stop offset="1.0" stop-color="#b4c68a"/></linearGradient><linearGradient id="s122" gradientUnits="userSpaceOnUse" x1="-0.788" y1="0.616" x2="0.788" y2="-0.616"><stop offset="0" stop-color="#3d3d28"/><stop offset="0.25" stop-color="#45492d"/><stop offset="0.5" stop-color="#4d5432"/><stop offset="0.75" stop-color="#59613b"/><stop offset="1.0" stop-color="#b8c68a"/></linearGradient><linearGradient id="s123" gradientUnits="userSpaceOnUse" x1="-0.788" y1="0.616" x2="0.788" y2="-0.616"><stop offset="0" stop-color="#3e3d28"/><stop offset="0.25" stop-color="#47482d"/><stop offset="0.5" stop-color="#4f5332"/><stop offset="0.75" stop-color="#5c603b"/><stop offset="1.0" stop-color="#bcc68a"/></linearGradient><linearGradient id="s124" gradientUnits="userSpaceOnUse" x1="-0.788" y1="0.616" x2="0.788" y2="-0.616"><stop offset="0" stop-color="#3e3c28"/><stop offset="0.25" stop-color="#48472d"/><stop offset="0.5" stop-color="#525232"/><stop offset="0.75" stop-color="#5f603b"/><stop offset="1.0" stop-color="#c0c68a"/></linearGradient><linearGradient id="s125" gradientUnits="userSpaceOnUse" x1="-0.788" y1="0.616" x2="0.788" y2="-0.616"><stop offset="0" stop-color="#3f3c28"/><stop offset="0.25" stop-color="#4a472d"/><stop offset="0.5" stop-color="#555232"/><stop offset="0.75" stop-color="#615f3b"/><stop offset="1.0" stop-color="#c5c68a"/></linearGradient><linearGradient id="s126" gradientUnits="userSpaceOnUse" x1="-0.788" y1="0.616" x2="0.788" y2="-0.616"><stop offset="0" stop-color="#403b28"/><stop offset="0.25" stop-color="#4c462d"/><stop offset="0.5" stop-color="#575132"/><stop offset="0.75" stop-color="#645e3b"/><stop offset="1.0" stop-color="#c9c68a"/></linearGradient><linearGradient id="s127" gradientUnits="userSpaceOnUse" x1="-0.788" y1="0.616" x2="0.788" y2="-0.616"><stop offset="0" stop-color="#413a28"/><stop offset="0.25" stop-color="#4d452d"/><stop offset="0.5" stop-color="#5a5032"/><stop offset="0.75" stop-color="#675e3b"/><stop offset="1.0" stop-color="#cdc68a"/></linearGradient><linearGradient id="s128" gradientUnits="userSpaceOnUse" x1="-0.788" y1="0.616" x2="0.788" y2="-0.616"><stop offset="0" stop-color="#423a28"/><stop offset="0.25" stop-color="#4f452d"/><stop offset="0.5" stop-color="#5c4f32"/><stop offset="0.75" stop-color="#695c3b"/><stop offset="1.0" stop-color="#ccc084"/></linearGradient><linearGradient id="s129" gradientUnits="userSpaceOnUse" x1="-0.788" y1="0.616" x2="0.788" y2="-0.616"><stop offset="0" stop-color="#423928"/><stop offset="0.25" stop-color="#50432d"/><stop offset="0.5" stop-color="#5e4e31"/><stop offset="0.75" stop-color="#6b5a3a"/><stop offset="1.0" stop-color="#cbba7e"/></linearGradient><linearGradient id="s130" gradientUnits="userSpaceOnUse" x1="-0.788" y1="0.616" x2="0.788" y2="-0.616"><stop offset="0" stop-color="#433928"/><stop offset="0.25" stop-color="#51422c"/><stop offset="0.5" stop-color="#5f4b30"/><stop offset="0.75" stop-color="#6b5738"/><stop offset="1.0" stop-color="#cbb478"/></linearGradient><linearGradient id="s131" gradientUnits="userSpaceOnUse" x1="-0.788" y1="0.616" x2="0.788" y2="-0.616"><stop offset="0" stop-color="#443828"/><stop offset="0.25" stop-color="#52412b"/><stop offset="0.5" stop-color="#5f492f"/><stop offset="0.75" stop-color="#6c5536"/><stop offset="1.0" stop-color="#caaf73"/></linearGradient><linearGradient id="s132" gradientUnits="userSpaceOnUse" x1="-0.788" y1="0.616" x2="0.788" y2="-0.616"><stop offset="0" stop-color="#433627"/><stop offset="0.25" stop-color="#523e2a"/><stop offset="0.5" stop-color="#60472e"/><stop offset="0.75" stop-color="#6c5235"/><stop offset="1.0" stop-color="#c9a96d"/></linearGradient><linearGradient id="s133" gradientUnits="userSpaceOnUse" x1="-0.788" y1="0.616" x2="0.788" y2="-0.616"><stop offset="0" stop-color="#433425"/><stop offset="0.25" stop-color="#523c29"/><stop offset="0.5" stop-color="#61442d"/><stop offset="0.75" stop-color="#6d4f33"/><stop offset="1.0" stop-color="#c8a367"/></linearGradient><linearGradient id="s134" gradientUnits="userSpaceOnUse" x1="-0.788" y1="0.616" x2="0.788" y2="-0.616"><stop offset="0" stop-color="#423124"/><stop offset="0.25" stop-color="#523a28"/><stop offset="0.5" stop-color="#61422c"/><stop offset="0.75" stop-color="#6d4c32"/><stop offset="1.0" stop-color="#c79c62"/></linearGradient><linearGradient id="s135" gradientUnits="userSpaceOnUse" x1="-0.788" y1="0.616" x2="0.788" y2="-0.616"><stop offset="0" stop-color="#422f22"/><stop offset="0.25" stop-color="#523727"/><stop offset="0.5" stop-color="#62402b"/><stop offset="0.75" stop-color="#6e4930"/><stop offset="1.0" stop-color="#c6945d"/></linearGradient><linearGradient id="s136" gradientUnits="userSpaceOnUse" x1="-0.788" y1="0.616" x2="0.788" y2="-0.616"><stop offset="0" stop-color="#412d21"/><stop offset="0.25" stop-color="#523525"/><stop offset="0.5" stop-color="#623d2a"/><stop offset="0.75" stop-color="#6e462f"/><stop offset="1.0" stop-color="#c58b58"/></linearGradient><linearGradient id="s137" gradientUnits="userSpaceOnUse" x1="-0.788" y1="0.616" x2="0.788" y2="-0.616"><stop offset="0" stop-color="#402b20"/><stop offset="0.25" stop-color="#513324"/><stop offset="0.5" stop-color="#623a28"/><stop offset="0.75" stop-color="#6e432d"/><stop offset="1.0" stop-color="#c48354"/></linearGradient><linearGradient id="s138" gradientUnits="userSpaceOnUse" x1="-0.788" y1="0.616" x2="0.788" y2="-0.616"><stop offset="0" stop-color="#40291e"/><stop offset="0.25" stop-color="#503022"/><stop offset="0.5" stop-color="#613726"/><stop offset="0.75" stop-color="#6d3f2b"/><stop offset="1.0" stop-color="#c37b4f"/></linearGradient><linearGradient id="s139" gradientUnits="userSpaceOnUse" x1="-0.788" y1="0.616" x2="0.788" y2="-0.616"><stop offset="0" stop-color="#3f261d"/><stop offset="0.25" stop-color="#502d21"/><stop offset="0.5" stop-color="#603425"/><stop offset="0.75" stop-color="#6c3c29"/><stop offset="1.0" stop-color="#c2734a"/></linearGradient><linearGradient id="s140" gradientUnits="userSpaceOnUse" x1="-0.788" y1="0.616" x2="0.788" y2="-0.616"><stop offset="0" stop-color="#3f241b"/><stop offset="0.25" stop-color="#4f2b1f"/><stop offset="0.5" stop-color="#603223"/><stop offset="0.75" stop-color="#6b3827"/><stop offset="1.0" stop-color="#c06a45"/></linearGradient><linearGradient id="s141" gradientUnits="userSpaceOnUse" x1="-0.788" y1="0.616" x2="0.788" y2="-0.616"><stop offset="0" stop-color="#3e221a"/><stop offset="0.25" stop-color="#4f281e"/><stop offset="0.5" stop-color="#5f2f22"/><stop offset="0.75" stop-color="#6b3525"/><stop offset="1.0" stop-color="#bf6241"/></linearGradient><linearGradient id="s142" gradientUnits="userSpaceOnUse" x1="-0.788" y1="0.616" x2="0.788" y2="-0.616"><stop offset="0" stop-color="#3d2119"/><stop offset="0.25" stop-color="#4e261d"/><stop offset="0.5" stop-color="#5e2c20"/><stop offset="0.75" stop-color="#6a3123"/><stop offset="1.0" stop-color="#be5a3c"/></linearGradient><linearGradient id="s143" gradientUnits="userSpaceOnUse" x1="-0.788" y1="0.616" x2="0.788" y2="-0.616"><stop offset="0" stop-color="#3c1f18"/><stop offset="0.25" stop-color="#4d241b"/><stop offset="0.5" stop-color="#5e291e"/><stop offset="0.75" stop-color="#692e22"/><stop offset="1.0" stop-color="#bc5439"/></linearGradient><linearGradient id="s144" gradientUnits="userSpaceOnUse" x1="-0.788" y1="0.616" x2="0.788" y2="-0.616"><stop offset="0" stop-color="#3c1e17"/><stop offset="0.25" stop-color="#4c221a"/><stop offset="0.5" stop-color="#5d261d"/><stop offset="0.75" stop-color="#682b20"/><stop offset="1.0" stop-color="#ba4f36"/></linearGradient><linearGradient id="s145" gradientUnits="userSpaceOnUse" x1="-0.788" y1="0.616" x2="0.788" y2="-0.616"><stop offset="0" stop-color="#3b1c16"/><stop offset="0.25" stop-color="#4b2019"/><stop offset="0.5" stop-color="#5b241c"/><stop offset="0.75" stop-color="#67281f"/><stop offset="1.0" stop-color="#b74934"/></linearGradient><linearGradient id="s146" gradientUnits="userSpaceOnUse" x1="-0.788" y1="0.616" x2="0.788" y2="-0.616"><stop offset="0" stop-color="#3a1b15"/><stop offset="0.25" stop-color="#4a1e18"/><stop offset="0.5" stop-color="#5a221a"/><stop offset="0.75" stop-color="#65261d"/><stop offset="1.0" stop-color="#b54431"/></linearGradient><linearGradient id="s147" gradientUnits="userSpaceOnUse" x1="-0.788" y1="0.616" x2="0.788" y2="-0.616"><stop offset="0" stop-color="#391914"/><stop offset="0.25" stop-color="#491c17"/><stop offset="0.5" stop-color="#591f19"/><stop offset="0.75" stop-color="#64231c"/><stop offset="1.0" stop-color="#b33e2e"/></linearGradient><linearGradient id="s148" gradientUnits="userSpaceOnUse" x1="-0.788" y1="0.616" x2="0.788" y2="-0.616"><stop offset="0" stop-color="#381813"/><stop offset="0.25" stop-color="#481a16"/><stop offset="0.5" stop-color="#571d18"/><stop offset="0.75" stop-color="#62201a"/><stop offset="1.0" stop-color="#b1392b"/></linearGradient><linearGradient id="s149" gradientUnits="userSpaceOnUse" x1="-0.788" y1="0.616" x2="0.788" y2="-0.616"><stop offset="0" stop-color="#381613"/><stop offset="0.25" stop-color="#471815"/><stop offset="0.5" stop-color="#561b16"/><stop offset="0.75" stop-color="#611d19"/><stop offset="1.0" stop-color="#ae3329"/></linearGradient><linearGradient id="s150" gradientUnits="userSpaceOnUse" x1="-0.788" y1="0.616" x2="0.788" y2="-0.616"><stop offset="0" stop-color="#371512"/><stop offset="0.25" stop-color="#461713"/><stop offset="0.5" stop-color="#551815"/><stop offset="0.75" stop-color="#5f1b17"/><stop offset="1.0" stop-color="#ac2e26"/></linearGradient><linearGradient id="s151" gradientUnits="userSpaceOnUse" x1="-0.788" y1="0.616" x2="0.788" y2="-0.616"><stop offset="0" stop-color="#361311"/><stop offset="0.25" stop-color="#451512"/><stop offset="0.5" stop-color="#541614"/><stop offset="0.75" stop-color="#5e1816"/><stop offset="1.0" stop-color="#aa2823"/></linearGradient><linearGradient id="s152" gradientUnits="userSpaceOnUse" x1="-0.788" y1="0.616" x2="0.788" y2="-0.616"><stop offset="0" stop-color="#351210"/><stop offset="0.25" stop-color="#431311"/><stop offset="0.5" stop-color="#511412"/><stop offset="0.75" stop-color="#5b1614"/><stop offset="1.0" stop-color="#a62521"/></linearGradient><linearGradient id="s153" gradientUnits="userSpaceOnUse" x1="-0.788" y1="0.616" x2="0.788" y2="-0.616"><stop offset="0" stop-color="#34100f"/><stop offset="0.25" stop-color="#411110"/><stop offset="0.5" stop-color="#4e1211"/><stop offset="0.75" stop-color="#581412"/><stop offset="1.0" stop-color="#a2221f"/></linearGradient><linearGradient id="s154" gradientUnits="userSpaceOnUse" x1="-0.788" y1="0.616" x2="0.788" y2="-0.616"><stop offset="0" stop-color="#340f0e"/><stop offset="0.25" stop-color="#3f0f0f"/><stop offset="0.5" stop-color="#4b100f"/><stop offset="0.75" stop-color="#551211"/><stop offset="1.0" stop-color="#9e1f1d"/></linearGradient><linearGradient id="s155" gradientUnits="userSpaceOnUse" x1="-0.788" y1="0.616" x2="0.788" y2="-0.616"><stop offset="0" stop-color="#330d0d"/><stop offset="0.25" stop-color="#3d0e0d"/><stop offset="0.5" stop-color="#480e0e"/><stop offset="0.75" stop-color="#520f0f"/><stop offset="1.0" stop-color="#9a1c1b"/></linearGradient><linearGradient id="cb156" x1="0" y1="0" x2="0" y2="1"><stop offset="0.000" stop-color="#6e0000"/><stop offset="0.050" stop-color="#920000"/><stop offset="0.100" stop-color="#b60000"/><stop offset="0.150" stop-color="#d30202"/><stop offset="0.200" stop-color="#e90606"/><stop offset="0.250" stop-color="#ff0a0a"/><stop offset="0.300" stop-color="#ff3e3e"/><stop offset="0.350" stop-color="#ff7272"/><stop offset="0.400" stop-color="#ffa3a3"/><stop offset="0.450" stop-color="#ffd1d1"/><stop offset="0.500" stop-color="#ffffff"/><stop offset="0.550" stop-color="#c9c9ff"/><stop offset="0.600" stop-color="#9393ff"/><stop offset="0.650" stop-color="#6262ff"/><stop offset="0.700" stop-color="#3636ff"/><stop offset="0.750" stop-color="#0a0aff"/><stop offset="0.800" stop-color="#0606e9"/><stop offset="0.850" stop-color="#0202d3"/><stop offset="0.900" stop-color="#0000b2"/><stop offset="0.950" stop-color="#000086"/><stop offset="1.000" stop-color="#00005a"/></linearGradient><linearGradient id="v157" x1="1" x2="0"><stop offset="0" stop-color="#ffdddd"/><stop offset=".08" stop-color="#ffd5d5"/><stop offset=".2" stop-color="#ffd6d6"/><stop offset=".35" stop-color="#ffcccc"/><stop offset=".55" stop-color="#ffd1d1"/><stop offset=".72" stop-color="#ffeaea"/><stop offset=".86" stop-color="#fffafa"/><stop offset="1" stop-color="#fafaff"/></linearGradient><linearGradient id="v158" x1="1" x2="0"><stop offset="0" stop-color="#ffdbdb"/><stop offset=".08" stop-color="#ffd4d4"/><stop offset=".2" stop-color="#ffdfdf"/><stop offset=".35" stop-color="#ffdada"/><stop offset=".55" stop-color="#ffdfdf"/><stop offset=".72" stop-color="#fffbfb"/><stop offset=".86" stop-color="#efefff"/><stop offset="1" stop-color="#e4e4ff"/></linearGradient><linearGradient id="v159" x1="1" x2="0"><stop offset="0" stop-color="#ffdada"/><stop offset=".08" stop-color="#ffd4d4"/><stop offset=".2" stop-color="#fff2f2"/><stop offset=".35" stop-color="#fff6f6"/><stop offset=".55" stop-color="#fffcfc"/><stop offset=".72" stop-color="#e0e0ff"/><stop offset=".86" stop-color="#cacaff"/><stop offset="1" stop-color="#bebeff"/></linearGradient><linearGradient id="v160" x1="1" x2="0"><stop offset="0" stop-color="#ffd8d8"/><stop offset=".08" stop-color="#ffd5d5"/><stop offset=".2" stop-color="#ededff"/><stop offset=".35" stop-color="#d9d9ff"/><stop offset=".55" stop-color="#d3d3ff"/><stop offset=".72" stop-color="#acacff"/><stop offset=".86" stop-color="#9595ff"/><stop offset="1" stop-color="#8888ff"/></linearGradient><linearGradient id="v161" x1="1" x2="0"><stop offset="0" stop-color="#ffd7d7"/><stop offset=".08" stop-color="#ffd6d6"/><stop offset=".2" stop-color="#cacaff"/><stop offset=".35" stop-color="#a5a5ff"/><stop offset=".55" stop-color="#9e9eff"/><stop offset=".72" stop-color="#7575ff"/><stop offset=".86" stop-color="#6161ff"/><stop offset="1" stop-color="#5656ff"/></linearGradient><linearGradient id="v162" x1="1" x2="0"><stop offset="0" stop-color="#ffd5d5"/><stop offset=".08" stop-color="#ffd6d6"/><stop offset=".2" stop-color="#b0b0ff"/><stop offset=".35" stop-color="#7f7fff"/><stop offset=".55" stop-color="#7777ff"/><stop offset=".72" stop-color="#5252ff"/><stop offset=".86" stop-color="#3c3cff"/><stop offset="1" stop-color="#3131ff"/></linearGradient><linearGradient id="v163" x1="1" x2="0"><stop offset="0" stop-color="#ffd3d3"/><stop offset=".08" stop-color="#ffd3d3"/><stop offset=".2" stop-color="#b5b5ff"/><stop offset=".35" stop-color="#8888ff"/><stop offset=".55" stop-color="#8080ff"/><stop offset=".72" stop-color="#5555ff"/><stop offset=".86" stop-color="#3d3dff"/><stop offset="1" stop-color="#3131ff"/></linearGradient><linearGradient id="v164" x1="1" x2="0"><stop offset="0" stop-color="#ffd1d1"/><stop offset=".08" stop-color="#ffcdcd"/><stop offset=".2" stop-color="#dedeff"/><stop offset=".35" stop-color="#c6c6ff"/><stop offset=".55" stop-color="#bebeff"/><stop offset=".72" stop-color="#8686ff"/><stop offset=".86" stop-color="#6a6aff"/><stop offset="1" stop-color="#5d5dff"/></linearGradient><linearGradient id="v165" x1="1" x2="0"><stop offset="0" stop-color="#ffcfcf"/><stop offset=".08" stop-color="#ffc6c6"/><stop offset=".2" stop-color="#ffecec"/><stop offset=".35" stop-color="#ffe9e9"/><stop offset=".55" stop-color="#fff1f1"/><stop offset=".72" stop-color="#d3d3ff"/><stop offset=".86" stop-color="#b1b1ff"/><stop offset="1" stop-color="#a0a0ff"/></linearGradient><linearGradient id="v166" x1="1" x2="0"><stop offset="0" stop-color="#ffcccc"/><stop offset=".08" stop-color="#ffbdbd"/><stop offset=".2" stop-color="#ffb8b8"/><stop offset=".35" stop-color="#ff9999"/><stop offset=".55" stop-color="#ffa1a1"/><stop offset=".72" stop-color="#ffdcdc"/><stop offset=".86" stop-color="#fffdfd"/><stop offset="1" stop-color="#efefff"/></linearGradient><linearGradient id="v167" x1="1" x2="0"><stop offset="0" stop-color="#ffc8c8"/><stop offset=".08" stop-color="#ffb5b5"/><stop offset=".2" stop-color="#ff9c9c"/><stop offset=".35" stop-color="#ff6969"/><stop offset=".55" stop-color="#ff7474"/><stop offset=".72" stop-color="#ffbcbc"/><stop offset=".86" stop-color="#ffe2e2"/><stop offset="1" stop-color="#fff3f3"/></linearGradient><linearGradient id="v168" x1="1" x2="0"><stop offset="0" stop-color="#ffc4c4"/><stop offset=".08" stop-color="#ffafaf"/><stop offset=".2" stop-color="#ff9090"/><stop offset=".35" stop-color="#ff5050"/><stop offset=".55" stop-color="#ff5d5d"/><stop offset=".72" stop-color="#ffb2b2"/><stop offset=".86" stop-color="#ffdede"/><stop offset="1" stop-color="#fff1f1"/></linearGradient><linearGradient id="v169" x1="1" x2="0"><stop offset="0" stop-color="#ffbfbf"/><stop offset=".08" stop-color="#ffa8a8"/><stop offset=".2" stop-color="#ff8383"/><stop offset=".35" stop-color="#ff3838"/><stop offset=".55" stop-color="#ff4646"/><stop offset=".72" stop-color="#ffaaaa"/><stop offset=".86" stop-color="#ffdbdb"/><stop offset="1" stop-color="#fff0f0"/></linearGradient><linearGradient id="v170" x1="1" x2="0"><stop offset="0" stop-color="#ffbbbb"/><stop offset=".08" stop-color="#ffa2a2"/><stop offset=".2" stop-color="#ff7676"/><stop offset=".35" stop-color="#ff1f1f"/><stop offset=".55" stop-color="#ff2f2f"/><stop offset=".72" stop-color="#ffa2a2"/><stop offset=".86" stop-color="#ffd9d9"/><stop offset="1" stop-color="#ffefef"/></linearGradient><linearGradient id="v171" x1="1" x2="0"><stop offset="0" stop-color="#ffb7b7"/><stop offset=".08" stop-color="#ff9c9c"/><stop offset=".2" stop-color="#ff6a6a"/><stop offset=".35" stop-color="#ff0a0a"/><stop offset=".55" stop-color="#ff1b1b"/><stop offset=".72" stop-color="#ff9b9b"/><stop offset=".86" stop-color="#ffd7d7"/><stop offset="1" stop-color="#ffefef"/></linearGradient><linearGradient id="v172" x1="1" x2="0"><stop offset="0" stop-color="#ffb4b4"/><stop offset=".08" stop-color="#ff9797"/><stop offset=".2" stop-color="#ff6161"/><stop offset=".35" stop-color="#f80909"/><stop offset=".55" stop-color="#ff0c0c"/><stop offset=".72" stop-color="#ff9696"/><stop offset=".86" stop-color="#ffd6d6"/><stop offset="1" stop-color="#ffefef"/></linearGradient><linearGradient id="v173" x1="1" x2="0"><stop offset="0" stop-color="#ffb2b2"/><stop offset=".08" stop-color="#ff9494"/><stop offset=".2" stop-color="#ff5b5b"/><stop offset=".35" stop-color="#f40808"/><stop offset=".55" stop-color="#fb0909"/><stop offset=".72" stop-color="#ff9393"/><stop offset=".86" stop-color="#ffd7d7"/><stop offset="1" stop-color="#fff0f0"/></linearGradient><linearGradient id="v174" x1="1" x2="0"><stop offset="0" stop-color="#ffb1b1"/><stop offset=".08" stop-color="#ff9292"/><stop offset=".2" stop-color="#ff5959"/><stop offset=".35" stop-color="#f30808"/><stop offset=".55" stop-color="#fb0909"/><stop offset=".72" stop-color="#ff9393"/><stop offset=".86" stop-color="#ffd9d9"/><stop offset="1" stop-color="#fff1f1"/></linearGradient><linearGradient id="v175" x1="1" x2="0"><stop offset="0" stop-color="#ffb1b1"/><stop offset=".08" stop-color="#ff9393"/><stop offset=".2" stop-color="#ff5e5e"/><stop offset=".35" stop-color="#f70909"/><stop offset=".55" stop-color="#ff0a0a"/><stop offset=".72" stop-color="#ff9898"/><stop offset=".86" stop-color="#ffdddd"/><stop offset="1" stop-color="#fff3f3"/></linearGradient><linearGradient id="v176" x1="1" x2="0"><stop offset="0" stop-color="#ffb3b3"/><stop offset=".08" stop-color="#ff9898"/><stop offset=".2" stop-color="#ff6b6b"/><stop offset=".35" stop-color="#ff1010"/><stop offset=".55" stop-color="#ff2020"/><stop offset=".72" stop-color="#ffa1a1"/><stop offset=".86" stop-color="#ffe3e3"/><stop offset="1" stop-color="#fff6f6"/></linearGradient><linearGradient id="v177" x1="1" x2="0"><stop offset="0" stop-color="#ffb7b7"/><stop offset=".08" stop-color="#ff9f9f"/><stop offset=".2" stop-color="#ff7f7f"/><stop offset=".35" stop-color="#ff3636"/><stop offset=".55" stop-color="#ff4444"/><stop offset=".72" stop-color="#ffafaf"/><stop offset=".86" stop-color="#ffe9e9"/><stop offset="1" stop-color="#fff9f9"/></linearGradient><linearGradient id="v178" x1="1" x2="0"><stop offset="0" stop-color="#ffbebe"/><stop offset=".08" stop-color="#ffabab"/><stop offset=".2" stop-color="#ff9797"/><stop offset=".35" stop-color="#ff6666"/><stop offset=".55" stop-color="#ff7272"/><stop offset=".72" stop-color="#ffbfbf"/><stop offset=".86" stop-color="#ffefef"/><stop offset="1" stop-color="#fffbfb"/></linearGradient><linearGradient id="v179" x1="1" x2="0"><stop offset="0" stop-color="#ffc7c7"/><stop offset=".08" stop-color="#ffb9b9"/><stop offset=".2" stop-color="#ffb1b1"/><stop offset=".35" stop-color="#ff9898"/><stop offset=".55" stop-color="#ff9f9f"/><stop offset=".72" stop-color="#ffd0d0"/><stop offset=".86" stop-color="#fff4f4"/><stop offset="1" stop-color="#fffdfd"/></linearGradient><linearGradient id="v180" x1="1" x2="0"><stop offset="0" stop-color="#ffd2d2"/><stop offset=".08" stop-color="#ffc8c8"/><stop offset=".2" stop-color="#ffc8c8"/><stop offset=".35" stop-color="#ffbebe"/><stop offset=".55" stop-color="#ffc3c3"/><stop offset=".72" stop-color="#ffdfdf"/><stop offset=".86" stop-color="#fff7f7"/><stop offset="1" stop-color="#fffefe"/></linearGradient><linearGradient id="v181" x1="1" x2="0"><stop offset="0" stop-color="#ffdcdc"/><stop offset=".08" stop-color="#ffd6d6"/><stop offset=".2" stop-color="#ffd9d9"/><stop offset=".35" stop-color="#ffd7d7"/><stop offset=".55" stop-color="#ffdada"/><stop offset=".72" stop-color="#ffeaea"/><stop offset=".86" stop-color="#fff9f9"/><stop offset="1" stop-color="#fffefe"/></linearGradient><linearGradient id="v182" x1="1" x2="0"><stop offset="0" stop-color="#ffe5e5"/><stop offset=".08" stop-color="#ffe0e0"/><stop offset=".2" stop-color="#ffe4e4"/><stop offset=".35" stop-color="#ffe5e5"/><stop offset=".55" stop-color="#ffe7e7"/><stop offset=".72" stop-color="#fff0f0"/><stop offset=".86" stop-color="#fffafa"/><stop offset="1" stop-color="#fffefe"/></linearGradient><linearGradient id="v183" x1="1" x2="0"><stop offset="0" stop-color="#ffdddd"/><stop offset=".08" stop-color="#ffd5d5"/><stop offset=".2" stop-color="#ffd6d6"/><stop offset=".35" stop-color="#ffcccc"/><stop offset=".55" stop-color="#ffd1d1"/><stop offset=".72" stop-color="#ffeaea"/><stop offset=".86" stop-color="#fffafa"/><stop offset="1" stop-color="#fafaff"/></linearGradient><linearGradient id="v184" x1="1" x2="0"><stop offset="0" stop-color="#ffdbdb"/><stop offset=".08" stop-color="#ffd4d4"/><stop offset=".2" stop-color="#ffdfdf"/><stop offset=".35" stop-color="#ffdada"/><stop offset=".55" stop-color="#ffdfdf"/><stop offset=".72" stop-color="#fffbfb"/><stop offset=".86" stop-color="#efefff"/><stop offset="1" stop-color="#e4e4ff"/></linearGradient><linearGradient id="v185" x1="1" x2="0"><stop offset="0" stop-color="#ffdada"/><stop offset=".08" stop-color="#ffd4d4"/><stop offset=".2" stop-color="#fff2f2"/><stop offset=".35" stop-color="#fff6f6"/><stop offset=".55" stop-color="#fffcfc"/><stop offset=".72" stop-color="#e0e0ff"/><stop offset=".86" stop-color="#cacaff"/><stop offset="1" stop-color="#bebeff"/></linearGradient><linearGradient id="v186" x1="1" x2="0"><stop offset="0" stop-color="#ffd8d8"/><stop offset=".08" stop-color="#ffd5d5"/><stop offset=".2" stop-color="#ededff"/><stop offset=".35" stop-color="#d9d9ff"/><stop offset=".55" stop-color="#d3d3ff"/><stop offset=".72" stop-color="#acacff"/><stop offset=".86" stop-color="#9595ff"/><stop offset="1" stop-color="#8888ff"/></linearGradient><linearGradient id="v187" x1="1" x2="0"><stop offset="0" stop-color="#ffd7d7"/><stop offset=".08" stop-color="#ffd6d6"/><stop offset=".2" stop-color="#cacaff"/><stop offset=".35" stop-color="#a5a5ff"/><stop offset=".55" stop-color="#9e9eff"/><stop offset=".72" stop-color="#7575ff"/><stop offset=".86" stop-color="#6161ff"/><stop offset="1" stop-color="#5656ff"/></linearGradient><linearGradient id="v188" x1="1" x2="0"><stop offset="0" stop-color="#ffd5d5"/><stop offset=".08" stop-color="#ffd6d6"/><stop offset=".2" stop-color="#b0b0ff"/><stop offset=".35" stop-color="#7f7fff"/><stop offset=".55" stop-color="#7777ff"/><stop offset=".72" stop-color="#5252ff"/><stop offset=".86" stop-color="#3c3cff"/><stop offset="1" stop-color="#3131ff"/></linearGradient><linearGradient id="v189" x1="1" x2="0"><stop offset="0" stop-color="#ffd3d3"/><stop offset=".08" stop-color="#ffd3d3"/><stop offset=".2" stop-color="#b5b5ff"/><stop offset=".35" stop-color="#8888ff"/><stop offset=".55" stop-color="#8080ff"/><stop offset=".72" stop-color="#5555ff"/><stop offset=".86" stop-color="#3d3dff"/><stop offset="1" stop-color="#3131ff"/></linearGradient><linearGradient id="v190" x1="1" x2="0"><stop offset="0" stop-color="#ffd1d1"/><stop offset=".08" stop-color="#ffcdcd"/><stop offset=".2" stop-color="#dedeff"/><stop offset=".35" stop-color="#c6c6ff"/><stop offset=".55" stop-color="#bebeff"/><stop offset=".72" stop-color="#8686ff"/><stop offset=".86" stop-color="#6a6aff"/><stop offset="1" stop-color="#5d5dff"/></linearGradient><linearGradient id="v191" x1="1" x2="0"><stop offset="0" stop-color="#ffcfcf"/><stop offset=".08" stop-color="#ffc6c6"/><stop offset=".2" stop-color="#ffecec"/><stop offset=".35" stop-color="#ffe9e9"/><stop offset=".55" stop-color="#fff1f1"/><stop offset=".72" stop-color="#d3d3ff"/><stop offset=".86" stop-color="#b1b1ff"/><stop offset="1" stop-color="#a0a0ff"/></linearGradient><linearGradient id="v192" x1="1" x2="0"><stop offset="0" stop-color="#ffcccc"/><stop offset=".08" stop-color="#ffbdbd"/><stop offset=".2" stop-color="#ffb8b8"/><stop offset=".35" stop-color="#ff9999"/><stop offset=".55" stop-color="#ffa1a1"/><stop offset=".72" stop-color="#ffdcdc"/><stop offset=".86" stop-color="#fffdfd"/><stop offset="1" stop-color="#efefff"/></linearGradient><linearGradient id="v193" x1="1" x2="0"><stop offset="0" stop-color="#ffc8c8"/><stop offset=".08" stop-color="#ffb5b5"/><stop offset=".2" stop-color="#ff9c9c"/><stop offset=".35" stop-color="#ff6969"/><stop offset=".55" stop-color="#ff7474"/><stop offset=".72" stop-color="#ffbcbc"/><stop offset=".86" stop-color="#ffe2e2"/><stop offset="1" stop-color="#fff3f3"/></linearGradient><linearGradient id="v194" x1="1" x2="0"><stop offset="0" stop-color="#ffc4c4"/><stop offset=".08" stop-color="#ffafaf"/><stop offset=".2" stop-color="#ff9090"/><stop offset=".35" stop-color="#ff5050"/><stop offset=".55" stop-color="#ff5d5d"/><stop offset=".72" stop-color="#ffb2b2"/><stop offset=".86" stop-color="#ffdede"/><stop offset="1" stop-color="#fff1f1"/></linearGradient><linearGradient id="v195" x1="1" x2="0"><stop offset="0" stop-color="#ffbfbf"/><stop offset=".08" stop-color="#ffa8a8"/><stop offset=".2" stop-color="#ff8383"/><stop offset=".35" stop-color="#ff3838"/><stop offset=".55" stop-color="#ff4646"/><stop offset=".72" stop-color="#ffaaaa"/><stop offset=".86" stop-color="#ffdbdb"/><stop offset="1" stop-color="#fff0f0"/></linearGradient><linearGradient id="v196" x1="1" x2="0"><stop offset="0" stop-color="#ffbbbb"/><stop offset=".08" stop-color="#ffa2a2"/><stop offset=".2" stop-color="#ff7676"/><stop offset=".35" stop-color="#ff1f1f"/><stop offset=".55" stop-color="#ff2f2f"/><stop offset=".72" stop-color="#ffa2a2"/><stop offset=".86" stop-color="#ffd9d9"/><stop offset="1" stop-color="#ffefef"/></linearGradient><linearGradient id="v197" x1="1" x2="0"><stop offset="0" stop-color="#ffb7b7"/><stop offset=".08" stop-color="#ff9c9c"/><stop offset=".2" stop-color="#ff6a6a"/><stop offset=".35" stop-color="#ff0a0a"/><stop offset=".55" stop-color="#ff1b1b"/><stop offset=".72" stop-color="#ff9a9a"/><stop offset=".86" stop-color="#ffd6d6"/><stop offset="1" stop-color="#ffeeee"/></linearGradient><linearGradient id="v198" x1="1" x2="0"><stop offset="0" stop-color="#ffb4b4"/><stop offset=".08" stop-color="#ff9797"/><stop offset=".2" stop-color="#ff6161"/><stop offset=".35" stop-color="#f80909"/><stop offset=".55" stop-color="#ff0c0c"/><stop offset=".72" stop-color="#ff9595"/><stop offset=".86" stop-color="#ffd5d5"/><stop offset="1" stop-color="#ffeeee"/></linearGradient><linearGradient id="v199" x1="1" x2="0"><stop offset="0" stop-color="#ffb2b2"/><stop offset=".08" stop-color="#ff9494"/><stop offset=".2" stop-color="#ff5b5b"/><stop offset=".35" stop-color="#f40808"/><stop offset=".55" stop-color="#fb0909"/><stop offset=".72" stop-color="#ff9191"/><stop offset=".86" stop-color="#ffd4d4"/><stop offset="1" stop-color="#ffeeee"/></linearGradient><linearGradient id="v200" x1="1" x2="0"><stop offset="0" stop-color="#ffb1b1"/><stop offset=".08" stop-color="#ff9292"/><stop offset=".2" stop-color="#ff5959"/><stop offset=".35" stop-color="#f30808"/><stop offset=".55" stop-color="#fb0909"/><stop offset=".72" stop-color="#ff9191"/><stop offset=".86" stop-color="#ffd4d4"/><stop offset="1" stop-color="#ffeeee"/></linearGradient><linearGradient id="v201" x1="1" x2="0"><stop offset="0" stop-color="#ffb1b1"/><stop offset=".08" stop-color="#ff9393"/><stop offset=".2" stop-color="#ff5e5e"/><stop offset=".35" stop-color="#f70909"/><stop offset=".55" stop-color="#ff0a0a"/><stop offset=".72" stop-color="#ff9494"/><stop offset=".86" stop-color="#ffd5d5"/><stop offset="1" stop-color="#ffeeee"/></linearGradient><linearGradient id="v202" x1="1" x2="0"><stop offset="0" stop-color="#ffb3b3"/><stop offset=".08" stop-color="#ff9898"/><stop offset=".2" stop-color="#ff6b6b"/><stop offset=".35" stop-color="#ff1010"/><stop offset=".55" stop-color="#ff2020"/><stop offset=".72" stop-color="#ff9c9c"/><stop offset=".86" stop-color="#ffd7d7"/><stop offset="1" stop-color="#ffefef"/></linearGradient><linearGradient id="v203" x1="1" x2="0"><stop offset="0" stop-color="#ffb7b7"/><stop offset=".08" stop-color="#ff9f9f"/><stop offset=".2" stop-color="#ff7f7f"/><stop offset=".35" stop-color="#ff3636"/><stop offset=".55" stop-color="#ff4444"/><stop offset=".72" stop-color="#ffa9a9"/><stop offset=".86" stop-color="#ffdbdb"/><stop offset="1" stop-color="#fff0f0"/></linearGradient><linearGradient id="v204" x1="1" x2="0"><stop offset="0" stop-color="#ffbebe"/><stop offset=".08" stop-color="#ffabab"/><stop offset=".2" stop-color="#ff9797"/><stop offset=".35" stop-color="#ff6666"/><stop offset=".55" stop-color="#ff7272"/><stop offset=".72" stop-color="#ffbaba"/><stop offset=".86" stop-color="#ffe0e0"/><stop offset="1" stop-color="#fff1f1"/></linearGradient><linearGradient id="v205" x1="1" x2="0"><stop offset="0" stop-color="#ffc7c7"/><stop offset=".08" stop-color="#ffb9b9"/><stop offset=".2" stop-color="#ffb1b1"/><stop offset=".35" stop-color="#ff9898"/><stop offset=".55" stop-color="#ff9f9f"/><stop offset=".72" stop-color="#ffcccc"/><stop offset=".86" stop-color="#ffe6e6"/><stop offset="1" stop-color="#fff3f3"/></linearGradient><linearGradient id="v206" x1="1" x2="0"><stop offset="0" stop-color="#ffd2d2"/><stop offset=".08" stop-color="#ffc8c8"/><stop offset=".2" stop-color="#ffc8c8"/><stop offset=".35" stop-color="#ffbebe"/><stop offset=".55" stop-color="#ffc3c3"/><stop offset=".72" stop-color="#ffdcdc"/><stop offset=".86" stop-color="#ffecec"/><stop offset="1" stop-color="#fff6f6"/></linearGradient><linearGradient id="v207" x1="1" x2="0"><stop offset="0" stop-color="#ffdcdc"/><stop offset=".08" stop-color="#ffd6d6"/><stop offset=".2" stop-color="#ffd9d9"/><stop offset=".35" stop-color="#ffd7d7"/><stop offset=".55" stop-color="#ffdada"/><stop offset=".72" stop-color="#ffe7e7"/><stop offset=".86" stop-color="#fff1f1"/><stop offset="1" stop-color="#fff8f8"/></linearGradient><linearGradient id="v208" x1="1" x2="0"><stop offset="0" stop-color="#ffe5e5"/><stop offset=".08" stop-color="#ffe0e0"/><stop offset=".2" stop-color="#ffe4e4"/><stop offset=".35" stop-color="#ffe5e5"/><stop offset=".55" stop-color="#ffe7e7"/><stop offset=".72" stop-color="#ffefef"/><stop offset=".86" stop-color="#fff5f5"/><stop offset="1" stop-color="#fffafa"/></linearGradient><linearGradient id="v209" x1="0" x2="1"><stop offset="0" stop-color="#d7d7ff"/><stop offset=".08" stop-color="#cdcdff"/><stop offset=".2" stop-color="#ceceff"/><stop offset=".35" stop-color="#c3c3ff"/><stop offset=".55" stop-color="#c9c9ff"/><stop offset=".72" stop-color="#e6e6ff"/><stop offset=".86" stop-color="#fbfbff"/><stop offset="1" stop-color="#ffffff"/></linearGradient><linearGradient id="v210" x1="0" x2="1"><stop offset="0" stop-color="#d5d5ff"/><stop offset=".08" stop-color="#ccccff"/><stop offset=".2" stop-color="#dadaff"/><stop offset=".35" stop-color="#d4d4ff"/><stop offset=".55" stop-color="#dadaff"/><stop offset=".72" stop-color="#fafaff"/><stop offset=".86" stop-color="#fff5f5"/><stop offset="1" stop-color="#fffdfd"/></linearGradient><linearGradient id="v211" x1="0" x2="1"><stop offset="0" stop-color="#d3d3ff"/><stop offset=".08" stop-color="#ccccff"/><stop offset=".2" stop-color="#f0f0ff"/><stop offset=".35" stop-color="#f5f5ff"/><stop offset=".55" stop-color="#fbfbff"/><stop offset=".72" stop-color="#ffe4e4"/><stop offset=".86" stop-color="#ffdede"/><stop offset="1" stop-color="#fff9f9"/></linearGradient><linearGradient id="v212" x1="0" x2="1"><stop offset="0" stop-color="#d1d1ff"/><stop offset=".08" stop-color="#cdcdff"/><stop offset=".2" stop-color="#fff0f0"/><stop offset=".35" stop-color="#ffdfdf"/><stop offset=".55" stop-color="#ffd9d9"/><stop offset=".72" stop-color="#ffb9b9"/><stop offset=".86" stop-color="#ffbdbd"/><stop offset="1" stop-color="#fff5f5"/></linearGradient><linearGradient id="v213" x1="0" x2="1"><stop offset="0" stop-color="#d0d0ff"/><stop offset=".08" stop-color="#ceceff"/><stop offset=".2" stop-color="#ffd2d2"/><stop offset=".35" stop-color="#ffb3b3"/><stop offset=".55" stop-color="#ffadad"/><stop offset=".72" stop-color="#ff8989"/><stop offset=".86" stop-color="#ff9999"/><stop offset="1" stop-color="#fff0f0"/></linearGradient><linearGradient id="v214" x1="0" x2="1"><stop offset="0" stop-color="#ceceff"/><stop offset=".08" stop-color="#ceceff"/><stop offset=".2" stop-color="#ffbcbc"/><stop offset=".35" stop-color="#ff9292"/><stop offset=".55" stop-color="#ff8b8b"/><stop offset=".72" stop-color="#ff6060"/><stop offset=".86" stop-color="#ff7c7c"/><stop offset="1" stop-color="#ffecec"/></linearGradient><linearGradient id="v215" x1="0" x2="1"><stop offset="0" stop-color="#cbcbff"/><stop offset=".08" stop-color="#cbcbff"/><stop offset=".2" stop-color="#ffc0c0"/><stop offset=".35" stop-color="#ff9a9a"/><stop offset=".55" stop-color="#ff9393"/><stop offset=".72" stop-color="#ff6363"/><stop offset=".86" stop-color="#ff7d7d"/><stop offset="1" stop-color="#ffecec"/></linearGradient><linearGradient id="v216" x1="0" x2="1"><stop offset="0" stop-color="#c9c9ff"/><stop offset=".08" stop-color="#c4c4ff"/><stop offset=".2" stop-color="#ffe3e3"/><stop offset=".35" stop-color="#ffcfcf"/><stop offset=".55" stop-color="#ffc7c7"/><stop offset=".72" stop-color="#ff9898"/><stop offset=".86" stop-color="#ffa0a0"/><stop offset="1" stop-color="#fff1f1"/></linearGradient><linearGradient id="v217" x1="0" x2="1"><stop offset="0" stop-color="#c6c6ff"/><stop offset=".08" stop-color="#bcbcff"/><stop offset=".2" stop-color="#e9e9ff"/><stop offset=".35" stop-color="#e5e5ff"/><stop offset=".55" stop-color="#eeeeff"/><stop offset=".72" stop-color="#ffdada"/><stop offset=".86" stop-color="#ffcece"/><stop offset="1" stop-color="#fff7f7"/></linearGradient><linearGradient id="v218" x1="0" x2="1"><stop offset="0" stop-color="#c3c3ff"/><stop offset=".08" stop-color="#b2b2ff"/><stop offset=".2" stop-color="#acacff"/><stop offset=".35" stop-color="#8787ff"/><stop offset=".55" stop-color="#9191ff"/><stop offset=".72" stop-color="#d6d6ff"/><stop offset=".86" stop-color="#fefeff"/><stop offset="1" stop-color="#fffefe"/></linearGradient><linearGradient id="v219" x1="0" x2="1"><stop offset="0" stop-color="#bebeff"/><stop offset=".08" stop-color="#a8a8ff"/><stop offset=".2" stop-color="#8b8bff"/><stop offset=".35" stop-color="#5a5aff"/><stop offset=".55" stop-color="#6464ff"/><stop offset=".72" stop-color="#b0b0ff"/><stop offset=".86" stop-color="#e6e6ff"/><stop offset="1" stop-color="#fefeff"/></linearGradient><linearGradient id="v220" x1="0" x2="1"><stop offset="0" stop-color="#b9b9ff"/><stop offset=".08" stop-color="#a1a1ff"/><stop offset=".2" stop-color="#7d7dff"/><stop offset=".35" stop-color="#4545ff"/><stop offset=".55" stop-color="#5050ff"/><stop offset=".72" stop-color="#a5a5ff"/><stop offset=".86" stop-color="#e2e2ff"/><stop offset="1" stop-color="#fdfdff"/></linearGradient><linearGradient id="v221" x1="0" x2="1"><stop offset="0" stop-color="#b4b4ff"/><stop offset=".08" stop-color="#9999ff"/><stop offset=".2" stop-color="#7070ff"/><stop offset=".35" stop-color="#3131ff"/><stop offset=".55" stop-color="#3d3dff"/><stop offset=".72" stop-color="#9b9bff"/><stop offset=".86" stop-color="#e0e0ff"/><stop offset="1" stop-color="#fdfdff"/></linearGradient><linearGradient id="v222" x1="0" x2="1"><stop offset="0" stop-color="#afafff"/><stop offset=".08" stop-color="#9191ff"/><stop offset=".2" stop-color="#6565ff"/><stop offset=".35" stop-color="#1c1cff"/><stop offset=".55" stop-color="#2929ff"/><stop offset=".72" stop-color="#9191ff"/><stop offset=".86" stop-color="#dedeff"/><stop offset="1" stop-color="#fdfdff"/></linearGradient><linearGradient id="v223" x1="0" x2="1"><stop offset="0" stop-color="#ababff"/><stop offset=".08" stop-color="#8b8bff"/><stop offset=".2" stop-color="#5b5bff"/><stop offset=".35" stop-color="#0a0aff"/><stop offset=".55" stop-color="#1818ff"/><stop offset=".72" stop-color="#8989ff"/><stop offset=".86" stop-color="#dcdcff"/><stop offset="1" stop-color="#fdfdff"/></linearGradient><linearGradient id="v224" x1="0" x2="1"><stop offset="0" stop-color="#a8a8ff"/><stop offset=".08" stop-color="#8585ff"/><stop offset=".2" stop-color="#5353ff"/><stop offset=".35" stop-color="#0909f8"/><stop offset=".55" stop-color="#0b0bff"/><stop offset=".72" stop-color="#8282ff"/><stop offset=".86" stop-color="#dbdbff"/><stop offset="1" stop-color="#fdfdff"/></linearGradient><linearGradient id="v225" x1="0" x2="1"><stop offset="0" stop-color="#a5a5ff"/><stop offset=".08" stop-color="#8181ff"/><stop offset=".2" stop-color="#4e4eff"/><stop offset=".35" stop-color="#0808f4"/><stop offset=".55" stop-color="#0909fb"/><stop offset=".72" stop-color="#7e7eff"/><stop offset=".86" stop-color="#dadaff"/><stop offset="1" stop-color="#fdfdff"/></linearGradient><linearGradient id="v226" x1="0" x2="1"><stop offset="0" stop-color="#a3a3ff"/><stop offset=".08" stop-color="#7f7fff"/><stop offset=".2" stop-color="#4d4dff"/><stop offset=".35" stop-color="#0808f3"/><stop offset=".55" stop-color="#0909fb"/><stop offset=".72" stop-color="#7d7dff"/><stop offset=".86" stop-color="#dadaff"/><stop offset="1" stop-color="#fdfdff"/></linearGradient><linearGradient id="v227" x1="0" x2="1"><stop offset="0" stop-color="#a3a3ff"/><stop offset=".08" stop-color="#8181ff"/><stop offset=".2" stop-color="#5151ff"/><stop offset=".35" stop-color="#0909f7"/><stop offset=".55" stop-color="#0a0aff"/><stop offset=".72" stop-color="#8181ff"/><stop offset=".86" stop-color="#dbdbff"/><stop offset="1" stop-color="#fdfdff"/></linearGradient><linearGradient id="v228" x1="0" x2="1"><stop offset="0" stop-color="#a6a6ff"/><stop offset=".08" stop-color="#8686ff"/><stop offset=".2" stop-color="#5c5cff"/><stop offset=".35" stop-color="#0f0fff"/><stop offset=".55" stop-color="#1d1dff"/><stop offset=".72" stop-color="#8b8bff"/><stop offset=".86" stop-color="#ddddff"/><stop offset="1" stop-color="#fdfdff"/></linearGradient><linearGradient id="v229" x1="0" x2="1"><stop offset="0" stop-color="#ababff"/><stop offset=".08" stop-color="#8f8fff"/><stop offset=".2" stop-color="#6d6dff"/><stop offset=".35" stop-color="#2f2fff"/><stop offset=".55" stop-color="#3b3bff"/><stop offset=".72" stop-color="#9a9aff"/><stop offset=".86" stop-color="#e0e0ff"/><stop offset="1" stop-color="#fdfdff"/></linearGradient><linearGradient id="v230" x1="0" x2="1"><stop offset="0" stop-color="#b3b3ff"/><stop offset=".08" stop-color="#9c9cff"/><stop offset=".2" stop-color="#8585ff"/><stop offset=".35" stop-color="#5858ff"/><stop offset=".55" stop-color="#6262ff"/><stop offset=".72" stop-color="#aeaeff"/><stop offset=".86" stop-color="#e5e5ff"/><stop offset="1" stop-color="#fdfdff"/></linearGradient><linearGradient id="v231" x1="0" x2="1"><stop offset="0" stop-color="#bdbdff"/><stop offset=".08" stop-color="#adadff"/><stop offset=".2" stop-color="#a3a3ff"/><stop offset=".35" stop-color="#8686ff"/><stop offset=".55" stop-color="#8e8eff"/><stop offset=".72" stop-color="#c3c3ff"/><stop offset=".86" stop-color="#eaeaff"/><stop offset="1" stop-color="#fefeff"/></linearGradient><linearGradient id="v232" x1="0" x2="1"><stop offset="0" stop-color="#cacaff"/><stop offset=".08" stop-color="#bfbfff"/><stop offset=".2" stop-color="#bfbfff"/><stop offset=".35" stop-color="#b3b3ff"/><stop offset=".55" stop-color="#b9b9ff"/><stop offset=".72" stop-color="#d6d6ff"/><stop offset=".86" stop-color="#efefff"/><stop offset="1" stop-color="#fefeff"/></linearGradient><linearGradient id="v233" x1="0" x2="1"><stop offset="0" stop-color="#d6d6ff"/><stop offset=".08" stop-color="#ceceff"/><stop offset=".2" stop-color="#d2d2ff"/><stop offset=".35" stop-color="#d0d0ff"/><stop offset=".55" stop-color="#d4d4ff"/><stop offset=".72" stop-color="#e3e3ff"/><stop offset=".86" stop-color="#f3f3ff"/><stop offset="1" stop-color="#fefeff"/></linearGradient><linearGradient id="v234" x1="0" x2="1"><stop offset="0" stop-color="#e0e0ff"/><stop offset=".08" stop-color="#dbdbff"/><stop offset=".2" stop-color="#dfdfff"/><stop offset=".35" stop-color="#e0e0ff"/><stop offset=".55" stop-color="#e3e3ff"/><stop offset=".72" stop-color="#ececff"/><stop offset=".86" stop-color="#f6f6ff"/><stop offset="1" stop-color="#fefeff"/></linearGradient><linearGradient id="v235" x1="0" x2="1"><stop offset="0" stop-color="#d7d7ff"/><stop offset=".08" stop-color="#cdcdff"/><stop offset=".2" stop-color="#ceceff"/><stop offset=".35" stop-color="#c3c3ff"/><stop offset=".55" stop-color="#c9c9ff"/><stop offset=".72" stop-color="#e6e6ff"/><stop offset=".86" stop-color="#fafaff"/><stop offset="1" stop-color="#fffdfd"/></linearGradient><linearGradient id="v236" x1="0" x2="1"><stop offset="0" stop-color="#d5d5ff"/><stop offset=".08" stop-color="#ccccff"/><stop offset=".2" stop-color="#dadaff"/><stop offset=".35" stop-color="#d4d4ff"/><stop offset=".55" stop-color="#dadaff"/><stop offset=".72" stop-color="#fafaff"/><stop offset=".86" stop-color="#fff4f4"/><stop offset="1" stop-color="#fff5f5"/></linearGradient><linearGradient id="v237" x1="0" x2="1"><stop offset="0" stop-color="#d3d3ff"/><stop offset=".08" stop-color="#ccccff"/><stop offset=".2" stop-color="#f0f0ff"/><stop offset=".35" stop-color="#f5f5ff"/><stop offset=".55" stop-color="#fbfbff"/><stop offset=".72" stop-color="#ffe4e4"/><stop offset=".86" stop-color="#ffd9d9"/><stop offset="1" stop-color="#ffe6e6"/></linearGradient><linearGradient id="v238" x1="0" x2="1"><stop offset="0" stop-color="#d1d1ff"/><stop offset=".08" stop-color="#cdcdff"/><stop offset=".2" stop-color="#fff0f0"/><stop offset=".35" stop-color="#ffdfdf"/><stop offset=".55" stop-color="#ffd9d9"/><stop offset=".72" stop-color="#ffb9b9"/><stop offset=".86" stop-color="#ffb3b3"/><stop offset="1" stop-color="#ffd1d1"/></linearGradient><linearGradient id="v239" x1="0" x2="1"><stop offset="0" stop-color="#d0d0ff"/><stop offset=".08" stop-color="#ceceff"/><stop offset=".2" stop-color="#ffd2d2"/><stop offset=".35" stop-color="#ffb3b3"/><stop offset=".55" stop-color="#ffadad"/><stop offset=".72" stop-color="#ff8989"/><stop offset=".86" stop-color="#ff8b8b"/><stop offset="1" stop-color="#ffbbbb"/></linearGradient><linearGradient id="v240" x1="0" x2="1"><stop offset="0" stop-color="#ceceff"/><stop offset=".08" stop-color="#ceceff"/><stop offset=".2" stop-color="#ffbcbc"/><stop offset=".35" stop-color="#ff9292"/><stop offset=".55" stop-color="#ff8b8b"/><stop offset=".72" stop-color="#ff6060"/><stop offset=".86" stop-color="#ff6767"/><stop offset="1" stop-color="#ffaaaa"/></linearGradient><linearGradient id="v241" x1="0" x2="1"><stop offset="0" stop-color="#cbcbff"/><stop offset=".08" stop-color="#cbcbff"/><stop offset=".2" stop-color="#ffc0c0"/><stop offset=".35" stop-color="#ff9a9a"/><stop offset=".55" stop-color="#ff9393"/><stop offset=".72" stop-color="#ff6363"/><stop offset=".86" stop-color="#ff6868"/><stop offset="1" stop-color="#ffaaaa"/></linearGradient><linearGradient id="v242" x1="0" x2="1"><stop offset="0" stop-color="#c9c9ff"/><stop offset=".08" stop-color="#c4c4ff"/><stop offset=".2" stop-color="#ffe3e3"/><stop offset=".35" stop-color="#ffcfcf"/><stop offset=".55" stop-color="#ffc7c7"/><stop offset=".72" stop-color="#ff9898"/><stop offset=".86" stop-color="#ff9292"/><stop offset="1" stop-color="#ffbebe"/></linearGradient><linearGradient id="v243" x1="0" x2="1"><stop offset="0" stop-color="#c6c6ff"/><stop offset=".08" stop-color="#bcbcff"/><stop offset=".2" stop-color="#e9e9ff"/><stop offset=".35" stop-color="#e5e5ff"/><stop offset=".55" stop-color="#eeeeff"/><stop offset=".72" stop-color="#ffdada"/><stop offset=".86" stop-color="#ffc7c7"/><stop offset="1" stop-color="#ffdbdb"/></linearGradient><linearGradient id="v244" x1="0" x2="1"><stop offset="0" stop-color="#c3c3ff"/><stop offset=".08" stop-color="#b2b2ff"/><stop offset=".2" stop-color="#acacff"/><stop offset=".35" stop-color="#8787ff"/><stop offset=".55" stop-color="#9191ff"/><stop offset=".72" stop-color="#d6d6ff"/><stop offset=".86" stop-color="#fefeff"/><stop offset="1" stop-color="#fff9f9"/></linearGradient><linearGradient id="v245" x1="0" x2="1"><stop offset="0" stop-color="#bebeff"/><stop offset=".08" stop-color="#a8a8ff"/><stop offset=".2" stop-color="#8b8bff"/><stop offset=".35" stop-color="#5a5aff"/><stop offset=".55" stop-color="#6464ff"/><stop offset=".72" stop-color="#b0b0ff"/><stop offset=".86" stop-color="#e3e3ff"/><stop offset="1" stop-color="#f9f9ff"/></linearGradient><linearGradient id="v246" x1="0" x2="1"><stop offset="0" stop-color="#b9b9ff"/><stop offset=".08" stop-color="#a1a1ff"/><stop offset=".2" stop-color="#7d7dff"/><stop offset=".35" stop-color="#4545ff"/><stop offset=".55" stop-color="#5050ff"/><stop offset=".72" stop-color="#a5a5ff"/><stop offset=".86" stop-color="#dedeff"/><stop offset="1" stop-color="#f7f7ff"/></linearGradient><linearGradient id="v247" x1="0" x2="1"><stop offset="0" stop-color="#b4b4ff"/><stop offset=".08" stop-color="#9999ff"/><stop offset=".2" stop-color="#7070ff"/><stop offset=".35" stop-color="#3131ff"/><stop offset=".55" stop-color="#3d3dff"/><stop offset=".72" stop-color="#9b9bff"/><stop offset=".86" stop-color="#dcdcff"/><stop offset="1" stop-color="#f7f7ff"/></linearGradient><linearGradient id="v248" x1="0" x2="1"><stop offset="0" stop-color="#afafff"/><stop offset=".08" stop-color="#9191ff"/><stop offset=".2" stop-color="#6565ff"/><stop offset=".35" stop-color="#1c1cff"/><stop offset=".55" stop-color="#2929ff"/><stop offset=".72" stop-color="#9191ff"/><stop offset=".86" stop-color="#d9d9ff"/><stop offset="1" stop-color="#f7f7ff"/></linearGradient><linearGradient id="v249" x1="0" x2="1"><stop offset="0" stop-color="#ababff"/><stop offset=".08" stop-color="#8b8bff"/><stop offset=".2" stop-color="#5b5bff"/><stop offset=".35" stop-color="#0a0aff"/><stop offset=".55" stop-color="#1818ff"/><stop offset=".72" stop-color="#8989ff"/><stop offset=".86" stop-color="#d7d7ff"/><stop offset="1" stop-color="#f6f6ff"/></linearGradient><linearGradient id="v250" x1="0" x2="1"><stop offset="0" stop-color="#a8a8ff"/><stop offset=".08" stop-color="#8585ff"/><stop offset=".2" stop-color="#5353ff"/><stop offset=".35" stop-color="#0909f8"/><stop offset=".55" stop-color="#0b0bff"/><stop offset=".72" stop-color="#8282ff"/><stop offset=".86" stop-color="#d6d6ff"/><stop offset="1" stop-color="#f6f6ff"/></linearGradient><linearGradient id="v251" x1="0" x2="1"><stop offset="0" stop-color="#a5a5ff"/><stop offset=".08" stop-color="#8181ff"/><stop offset=".2" stop-color="#4e4eff"/><stop offset=".35" stop-color="#0808f4"/><stop offset=".55" stop-color="#0909fb"/><stop offset=".72" stop-color="#7e7eff"/><stop offset=".86" stop-color="#d5d5ff"/><stop offset="1" stop-color="#f6f6ff"/></linearGradient><linearGradient id="v252" x1="0" x2="1"><stop offset="0" stop-color="#a3a3ff"/><stop offset=".08" stop-color="#7f7fff"/><stop offset=".2" stop-color="#4d4dff"/><stop offset=".35" stop-color="#0808f3"/><stop offset=".55" stop-color="#0909fb"/><stop offset=".72" stop-color="#7d7dff"/><stop offset=".86" stop-color="#d4d4ff"/><stop offset="1" stop-color="#f6f6ff"/></linearGradient><linearGradient id="v253" x1="0" x2="1"><stop offset="0" stop-color="#a3a3ff"/><stop offset=".08" stop-color="#8181ff"/><stop offset=".2" stop-color="#5151ff"/><stop offset=".35" stop-color="#0909f7"/><stop offset=".55" stop-color="#0a0aff"/><stop offset=".72" stop-color="#8181ff"/><stop offset=".86" stop-color="#d5d5ff"/><stop offset="1" stop-color="#f6f6ff"/></linearGradient><linearGradient id="v254" x1="0" x2="1"><stop offset="0" stop-color="#a6a6ff"/><stop offset=".08" stop-color="#8686ff"/><stop offset=".2" stop-color="#5c5cff"/><stop offset=".35" stop-color="#0f0fff"/><stop offset=".55" stop-color="#1d1dff"/><stop offset=".72" stop-color="#8b8bff"/><stop offset=".86" stop-color="#d8d8ff"/><stop offset="1" stop-color="#f6f6ff"/></linearGradient><linearGradient id="v255" x1="0" x2="1"><stop offset="0" stop-color="#ababff"/><stop offset=".08" stop-color="#8f8fff"/><stop offset=".2" stop-color="#6d6dff"/><stop offset=".35" stop-color="#2f2fff"/><stop offset=".55" stop-color="#3b3bff"/><stop offset=".72" stop-color="#9a9aff"/><stop offset=".86" stop-color="#dcdcff"/><stop offset="1" stop-color="#f7f7ff"/></linearGradient><linearGradient id="v256" x1="0" x2="1"><stop offset="0" stop-color="#b3b3ff"/><stop offset=".08" stop-color="#9c9cff"/><stop offset=".2" stop-color="#8585ff"/><stop offset=".35" stop-color="#5858ff"/><stop offset=".55" stop-color="#6262ff"/><stop offset=".72" stop-color="#aeaeff"/><stop offset=".86" stop-color="#e1e1ff"/><stop offset="1" stop-color="#f8f8ff"/></linearGradient><linearGradient id="v257" x1="0" x2="1"><stop offset="0" stop-color="#bdbdff"/><stop offset=".08" stop-color="#adadff"/><stop offset=".2" stop-color="#a3a3ff"/><stop offset=".35" stop-color="#8686ff"/><stop offset=".55" stop-color="#8e8eff"/><stop offset=".72" stop-color="#c3c3ff"/><stop offset=".86" stop-color="#e7e7ff"/><stop offset="1" stop-color="#f9f9ff"/></linearGradient><linearGradient id="v258" x1="0" x2="1"><stop offset="0" stop-color="#cacaff"/><stop offset=".08" stop-color="#bfbfff"/><stop offset=".2" stop-color="#bfbfff"/><stop offset=".35" stop-color="#b3b3ff"/><stop offset=".55" stop-color="#b9b9ff"/><stop offset=".72" stop-color="#d6d6ff"/><stop offset=".86" stop-color="#ededff"/><stop offset="1" stop-color="#fafaff"/></linearGradient><linearGradient id="v259" x1="0" x2="1"><stop offset="0" stop-color="#d6d6ff"/><stop offset=".08" stop-color="#ceceff"/><stop offset=".2" stop-color="#d2d2ff"/><stop offset=".35" stop-color="#d0d0ff"/><stop offset=".55" stop-color="#d4d4ff"/><stop offset=".72" stop-color="#e3e3ff"/><stop offset=".86" stop-color="#f2f2ff"/><stop offset="1" stop-color="#fbfbff"/></linearGradient><linearGradient id="v260" x1="0" x2="1"><stop offset="0" stop-color="#e0e0ff"/><stop offset=".08" stop-color="#dbdbff"/><stop offset=".2" stop-color="#dfdfff"/><stop offset=".35" stop-color="#e0e0ff"/><stop offset=".55" stop-color="#e3e3ff"/><stop offset=".72" stop-color="#ececff"/><stop offset=".86" stop-color="#f5f5ff"/><stop offset="1" stop-color="#fcfcff"/></linearGradient><linearGradient id="s261" gradientUnits="userSpaceOnUse" x1="-0.788" y1="0.616" x2="0.788" y2="-0.616"><stop offset="0" stop-color="#082014"/><stop offset="0.25" stop-color="#092416"/><stop offset="0.5" stop-color="#0a2818"/><stop offset="0.75" stop-color="#0c311d"/><stop offset="1.0" stop-color="#197d44"/></linearGradient><linearGradient id="s262" gradientUnits="userSpaceOnUse" x1="-0.788" y1="0.616" x2="0.788" y2="-0.616"><stop offset="0" stop-color="#0c2215"/><stop offset="0.25" stop-color="#0d2819"/><stop offset="0.5" stop-color="#0f2f1c"/><stop offset="0.75" stop-color="#113821"/><stop offset="1.0" stop-color="#21854b"/></linearGradient><linearGradient id="s263" gradientUnits="userSpaceOnUse" x1="-0.788" y1="0.616" x2="0.788" y2="-0.616"><stop offset="0" stop-color="#0f2517"/><stop offset="0.25" stop-color="#112d1b"/><stop offset="0.5" stop-color="#133620"/><stop offset="0.75" stop-color="#164025"/><stop offset="1.0" stop-color="#298d52"/></linearGradient><linearGradient id="s264" gradientUnits="userSpaceOnUse" x1="-0.788" y1="0.616" x2="0.788" y2="-0.616"><stop offset="0" stop-color="#132718"/><stop offset="0.25" stop-color="#16311d"/><stop offset="0.5" stop-color="#183b22"/><stop offset="0.75" stop-color="#1b4528"/><stop offset="1.0" stop-color="#349458"/></linearGradient><linearGradient id="s265" gradientUnits="userSpaceOnUse" x1="-0.788" y1="0.616" x2="0.788" y2="-0.616"><stop offset="0" stop-color="#162a19"/><stop offset="0.25" stop-color="#1a341f"/><stop offset="0.5" stop-color="#1d3e24"/><stop offset="0.75" stop-color="#21482a"/><stop offset="1.0" stop-color="#409a5d"/></linearGradient><linearGradient id="s266" gradientUnits="userSpaceOnUse" x1="-0.788" y1="0.616" x2="0.788" y2="-0.616"><stop offset="0" stop-color="#1a2c1b"/><stop offset="0.25" stop-color="#1e3620"/><stop offset="0.5" stop-color="#234125"/><stop offset="0.75" stop-color="#284c2c"/><stop offset="1.0" stop-color="#4ea062"/></linearGradient><linearGradient id="s267" gradientUnits="userSpaceOnUse" x1="-0.788" y1="0.616" x2="0.788" y2="-0.616"><stop offset="0" stop-color="#1e2e1c"/><stop offset="0.25" stop-color="#233922"/><stop offset="0.5" stop-color="#284427"/><stop offset="0.75" stop-color="#2e4f2e"/><stop offset="1.0" stop-color="#5aa668"/></linearGradient><linearGradient id="s268" gradientUnits="userSpaceOnUse" x1="-0.788" y1="0.616" x2="0.788" y2="-0.616"><stop offset="0" stop-color="#21311d"/><stop offset="0.25" stop-color="#273c23"/><stop offset="0.5" stop-color="#2d4729"/><stop offset="0.75" stop-color="#345330"/><stop offset="1.0" stop-color="#68ac6d"/></linearGradient><linearGradient id="s269" gradientUnits="userSpaceOnUse" x1="-0.788" y1="0.616" x2="0.788" y2="-0.616"><stop offset="0" stop-color="#25331f"/><stop offset="0.25" stop-color="#2b3e24"/><stop offset="0.5" stop-color="#314a2a"/><stop offset="0.75" stop-color="#395632"/><stop offset="1.0" stop-color="#73b172"/></linearGradient><linearGradient id="s270" gradientUnits="userSpaceOnUse" x1="-0.788" y1="0.616" x2="0.788" y2="-0.616"><stop offset="0" stop-color="#283420"/><stop offset="0.25" stop-color="#2e4026"/><stop offset="0.5" stop-color="#354b2b"/><stop offset="0.75" stop-color="#3d5733"/><stop offset="1.0" stop-color="#7cb475"/></linearGradient><linearGradient id="s271" gradientUnits="userSpaceOnUse" x1="-0.788" y1="0.616" x2="0.788" y2="-0.616"><stop offset="0" stop-color="#2b3621"/><stop offset="0.25" stop-color="#324127"/><stop offset="0.5" stop-color="#384d2c"/><stop offset="0.75" stop-color="#415935"/><stop offset="1.0" stop-color="#85b779"/></linearGradient><linearGradient id="s272" gradientUnits="userSpaceOnUse" x1="-0.788" y1="0.616" x2="0.788" y2="-0.616"><stop offset="0" stop-color="#2f3823"/><stop offset="0.25" stop-color="#354328"/><stop offset="0.5" stop-color="#3c4e2d"/><stop offset="0.75" stop-color="#455b36"/><stop offset="1.0" stop-color="#8fba7c"/></linearGradient><linearGradient id="s273" gradientUnits="userSpaceOnUse" x1="-0.788" y1="0.616" x2="0.788" y2="-0.616"><stop offset="0" stop-color="#323924"/><stop offset="0.25" stop-color="#394529"/><stop offset="0.5" stop-color="#40502e"/><stop offset="0.75" stop-color="#4a5d37"/><stop offset="1.0" stop-color="#98bd80"/></linearGradient><linearGradient id="s274" gradientUnits="userSpaceOnUse" x1="-0.788" y1="0.616" x2="0.788" y2="-0.616"><stop offset="0" stop-color="#353b25"/><stop offset="0.25" stop-color="#3c462a"/><stop offset="0.5" stop-color="#43522f"/><stop offset="0.75" stop-color="#4e5e39"/><stop offset="1.0" stop-color="#a1c083"/></linearGradient><linearGradient id="s275" gradientUnits="userSpaceOnUse" x1="-0.788" y1="0.616" x2="0.788" y2="-0.616"><stop offset="0" stop-color="#393c27"/><stop offset="0.25" stop-color="#40482c"/><stop offset="0.5" stop-color="#475330"/><stop offset="0.75" stop-color="#52603a"/><stop offset="1.0" stop-color="#abc387"/></linearGradient><linearGradient id="s276" gradientUnits="userSpaceOnUse" x1="-0.788" y1="0.616" x2="0.788" y2="-0.616"><stop offset="0" stop-color="#3c3e28"/><stop offset="0.25" stop-color="#43492d"/><stop offset="0.5" stop-color="#4a5532"/><stop offset="0.75" stop-color="#56623b"/><stop offset="1.0" stop-color="#b4c68a"/></linearGradient><linearGradient id="s277" gradientUnits="userSpaceOnUse" x1="-0.788" y1="0.616" x2="0.788" y2="-0.616"><stop offset="0" stop-color="#3d3d28"/><stop offset="0.25" stop-color="#45492d"/><stop offset="0.5" stop-color="#4d5432"/><stop offset="0.75" stop-color="#59613b"/><stop offset="1.0" stop-color="#b8c68a"/></linearGradient><linearGradient id="s278" gradientUnits="userSpaceOnUse" x1="-0.788" y1="0.616" x2="0.788" y2="-0.616"><stop offset="0" stop-color="#3e3d28"/><stop offset="0.25" stop-color="#47482d"/><stop offset="0.5" stop-color="#4f5332"/><stop offset="0.75" stop-color="#5c603b"/><stop offset="1.0" stop-color="#bcc68a"/></linearGradient><linearGradient id="s279" gradientUnits="userSpaceOnUse" x1="-0.788" y1="0.616" x2="0.788" y2="-0.616"><stop offset="0" stop-color="#3e3c28"/><stop offset="0.25" stop-color="#48472d"/><stop offset="0.5" stop-color="#525232"/><stop offset="0.75" stop-color="#5f603b"/><stop offset="1.0" stop-color="#c0c68a"/></linearGradient><linearGradient id="s280" gradientUnits="userSpaceOnUse" x1="-0.788" y1="0.616" x2="0.788" y2="-0.616"><stop offset="0" stop-color="#3f3c28"/><stop offset="0.25" stop-color="#4a472d"/><stop offset="0.5" stop-color="#555232"/><stop offset="0.75" stop-color="#615f3b"/><stop offset="1.0" stop-color="#c5c68a"/></linearGradient><linearGradient id="s281" gradientUnits="userSpaceOnUse" x1="-0.788" y1="0.616" x2="0.788" y2="-0.616"><stop offset="0" stop-color="#403b28"/><stop offset="0.25" stop-color="#4c462d"/><stop offset="0.5" stop-color="#575132"/><stop offset="0.75" stop-color="#645e3b"/><stop offset="1.0" stop-color="#c9c68a"/></linearGradient><linearGradient id="s282" gradientUnits="userSpaceOnUse" x1="-0.788" y1="0.616" x2="0.788" y2="-0.616"><stop offset="0" stop-color="#413a28"/><stop offset="0.25" stop-color="#4d452d"/><stop offset="0.5" stop-color="#5a5032"/><stop offset="0.75" stop-color="#675e3b"/><stop offset="1.0" stop-color="#cdc68a"/></linearGradient><linearGradient id="s283" gradientUnits="userSpaceOnUse" x1="-0.788" y1="0.616" x2="0.788" y2="-0.616"><stop offset="0" stop-color="#423a28"/><stop offset="0.25" stop-color="#4f452d"/><stop offset="0.5" stop-color="#5c4f32"/><stop offset="0.75" stop-color="#695c3b"/><stop offset="1.0" stop-color="#ccc084"/></linearGradient><linearGradient id="s284" gradientUnits="userSpaceOnUse" x1="-0.788" y1="0.616" x2="0.788" y2="-0.616"><stop offset="0" stop-color="#423928"/><stop offset="0.25" stop-color="#50432d"/><stop offset="0.5" stop-color="#5e4e31"/><stop offset="0.75" stop-color="#6b5a3a"/><stop offset="1.0" stop-color="#cbba7e"/></linearGradient><linearGradient id="s285" gradientUnits="userSpaceOnUse" x1="-0.788" y1="0.616" x2="0.788" y2="-0.616"><stop offset="0" stop-color="#433928"/><stop offset="0.25" stop-color="#51422c"/><stop offset="0.5" stop-color="#5f4b30"/><stop offset="0.75" stop-color="#6b5738"/><stop offset="1.0" stop-color="#cbb478"/></linearGradient><linearGradient id="s286" gradientUnits="userSpaceOnUse" x1="-0.788" y1="0.616" x2="0.788" y2="-0.616"><stop offset="0" stop-color="#443828"/><stop offset="0.25" stop-color="#52412b"/><stop offset="0.5" stop-color="#5f492f"/><stop offset="0.75" stop-color="#6c5536"/><stop offset="1.0" stop-color="#caaf73"/></linearGradient><linearGradient id="s287" gradientUnits="userSpaceOnUse" x1="-0.788" y1="0.616" x2="0.788" y2="-0.616"><stop offset="0" stop-color="#433627"/><stop offset="0.25" stop-color="#523e2a"/><stop offset="0.5" stop-color="#60472e"/><stop offset="0.75" stop-color="#6c5235"/><stop offset="1.0" stop-color="#c9a96d"/></linearGradient><linearGradient id="s288" gradientUnits="userSpaceOnUse" x1="-0.788" y1="0.616" x2="0.788" y2="-0.616"><stop offset="0" stop-color="#433425"/><stop offset="0.25" stop-color="#523c29"/><stop offset="0.5" stop-color="#61442d"/><stop offset="0.75" stop-color="#6d4f33"/><stop offset="1.0" stop-color="#c8a367"/></linearGradient><linearGradient id="s289" gradientUnits="userSpaceOnUse" x1="-0.788" y1="0.616" x2="0.788" y2="-0.616"><stop offset="0" stop-color="#423124"/><stop offset="0.25" stop-color="#523a28"/><stop offset="0.5" stop-color="#61422c"/><stop offset="0.75" stop-color="#6d4c32"/><stop offset="1.0" stop-color="#c79c62"/></linearGradient><linearGradient id="s290" gradientUnits="userSpaceOnUse" x1="-0.788" y1="0.616" x2="0.788" y2="-0.616"><stop offset="0" stop-color="#422f22"/><stop offset="0.25" stop-color="#523727"/><stop offset="0.5" stop-color="#62402b"/><stop offset="0.75" stop-color="#6e4930"/><stop offset="1.0" stop-color="#c6945d"/></linearGradient><linearGradient id="s291" gradientUnits="userSpaceOnUse" x1="-0.788" y1="0.616" x2="0.788" y2="-0.616"><stop offset="0" stop-color="#412d21"/><stop offset="0.25" stop-color="#523525"/><stop offset="0.5" stop-color="#623d2a"/><stop offset="0.75" stop-color="#6e462f"/><stop offset="1.0" stop-color="#c58b58"/></linearGradient><linearGradient id="s292" gradientUnits="userSpaceOnUse" x1="-0.788" y1="0.616" x2="0.788" y2="-0.616"><stop offset="0" stop-color="#402b20"/><stop offset="0.25" stop-color="#513324"/><stop offset="0.5" stop-color="#623a28"/><stop offset="0.75" stop-color="#6e432d"/><stop offset="1.0" stop-color="#c48354"/></linearGradient><linearGradient id="s293" gradientUnits="userSpaceOnUse" x1="-0.788" y1="0.616" x2="0.788" y2="-0.616"><stop offset="0" stop-color="#40291e"/><stop offset="0.25" stop-color="#503022"/><stop offset="0.5" stop-color="#613726"/><stop offset="0.75" stop-color="#6d3f2b"/><stop offset="1.0" stop-color="#c37b4f"/></linearGradient><linearGradient id="s294" gradientUnits="userSpaceOnUse" x1="-0.788" y1="0.616" x2="0.788" y2="-0.616"><stop offset="0" stop-color="#3f261d"/><stop offset="0.25" stop-color="#502d21"/><stop offset="0.5" stop-color="#603425"/><stop offset="0.75" stop-color="#6c3c29"/><stop offset="1.0" stop-color="#c2734a"/></linearGradient><linearGradient id="s295" gradientUnits="userSpaceOnUse" x1="-0.788" y1="0.616" x2="0.788" y2="-0.616"><stop offset="0" stop-color="#3f241b"/><stop offset="0.25" stop-color="#4f2b1f"/><stop offset="0.5" stop-color="#603223"/><stop offset="0.75" stop-color="#6b3827"/><stop offset="1.0" stop-color="#c06a45"/></linearGradient><linearGradient id="s296" gradientUnits="userSpaceOnUse" x1="-0.788" y1="0.616" x2="0.788" y2="-0.616"><stop offset="0" stop-color="#3e221a"/><stop offset="0.25" stop-color="#4f281e"/><stop offset="0.5" stop-color="#5f2f22"/><stop offset="0.75" stop-color="#6b3525"/><stop offset="1.0" stop-color="#bf6241"/></linearGradient><linearGradient id="s297" gradientUnits="userSpaceOnUse" x1="-0.788" y1="0.616" x2="0.788" y2="-0.616"><stop offset="0" stop-color="#3d2119"/><stop offset="0.25" stop-color="#4e261d"/><stop offset="0.5" stop-color="#5e2c20"/><stop offset="0.75" stop-color="#6a3123"/><stop offset="1.0" stop-color="#be5a3c"/></linearGradient><linearGradient id="s298" gradientUnits="userSpaceOnUse" x1="-0.788" y1="0.616" x2="0.788" y2="-0.616"><stop offset="0" stop-color="#3c1f18"/><stop offset="0.25" stop-color="#4d241b"/><stop offset="0.5" stop-color="#5e291e"/><stop offset="0.75" stop-color="#692e22"/><stop offset="1.0" stop-color="#bc5439"/></linearGradient><linearGradient id="s299" gradientUnits="userSpaceOnUse" x1="-0.788" y1="0.616" x2="0.788" y2="-0.616"><stop offset="0" stop-color="#3c1e17"/><stop offset="0.25" stop-color="#4c221a"/><stop offset="0.5" stop-color="#5d261d"/><stop offset="0.75" stop-color="#682b20"/><stop offset="1.0" stop-color="#ba4f36"/></linearGradient><linearGradient id="s300" gradientUnits="userSpaceOnUse" x1="-0.788" y1="0.616" x2="0.788" y2="-0.616"><stop offset="0" stop-color="#3b1c16"/><stop offset="0.25" stop-color="#4b2019"/><stop offset="0.5" stop-color="#5b241c"/><stop offset="0.75" stop-color="#67281f"/><stop offset="1.0" stop-color="#b74934"/></linearGradient><linearGradient id="s301" gradientUnits="userSpaceOnUse" x1="-0.788" y1="0.616" x2="0.788" y2="-0.616"><stop offset="0" stop-color="#3a1b15"/><stop offset="0.25" stop-color="#4a1e18"/><stop offset="0.5" stop-color="#5a221a"/><stop offset="0.75" stop-color="#65261d"/><stop offset="1.0" stop-color="#b54431"/></linearGradient><linearGradient id="s302" gradientUnits="userSpaceOnUse" x1="-0.788" y1="0.616" x2="0.788" y2="-0.616"><stop offset="0" stop-color="#391914"/><stop offset="0.25" stop-color="#491c17"/><stop offset="0.5" stop-color="#591f19"/><stop offset="0.75" stop-color="#64231c"/><stop offset="1.0" stop-color="#b33e2e"/></linearGradient><linearGradient id="s303" gradientUnits="userSpaceOnUse" x1="-0.788" y1="0.616" x2="0.788" y2="-0.616"><stop offset="0" stop-color="#381813"/><stop offset="0.25" stop-color="#481a16"/><stop offset="0.5" stop-color="#571d18"/><stop offset="0.75" stop-color="#62201a"/><stop offset="1.0" stop-color="#b1392b"/></linearGradient><linearGradient id="s304" gradientUnits="userSpaceOnUse" x1="-0.788" y1="0.616" x2="0.788" y2="-0.616"><stop offset="0" stop-color="#381613"/><stop offset="0.25" stop-color="#471815"/><stop offset="0.5" stop-color="#561b16"/><stop offset="0.75" stop-color="#611d19"/><stop offset="1.0" stop-color="#ae3329"/></linearGradient><linearGradient id="s305" gradientUnits="userSpaceOnUse" x1="-0.788" y1="0.616" x2="0.788" y2="-0.616"><stop offset="0" stop-color="#371512"/><stop offset="0.25" stop-color="#461713"/><stop offset="0.5" stop-color="#551815"/><stop offset="0.75" stop-color="#5f1b17"/><stop offset="1.0" stop-color="#ac2e26"/></linearGradient><linearGradient id="s306" gradientUnits="userSpaceOnUse" x1="-0.788" y1="0.616" x2="0.788" y2="-0.616"><stop offset="0" stop-color="#361311"/><stop offset="0.25" stop-color="#451512"/><stop offset="0.5" stop-color="#541614"/><stop offset="0.75" stop-color="#5e1816"/><stop offset="1.0" stop-color="#aa2823"/></linearGradient><linearGradient id="s307" gradientUnits="userSpaceOnUse" x1="-0.788" y1="0.616" x2="0.788" y2="-0.616"><stop offset="0" stop-color="#351210"/><stop offset="0.25" stop-color="#431311"/><stop offset="0.5" stop-color="#511412"/><stop offset="0.75" stop-color="#5b1614"/><stop offset="1.0" stop-color="#a62521"/></linearGradient><linearGradient id="s308" gradientUnits="userSpaceOnUse" x1="-0.788" y1="0.616" x2="0.788" y2="-0.616"><stop offset="0" stop-color="#34100f"/><stop offset="0.25" stop-color="#411110"/><stop offset="0.5" stop-color="#4e1211"/><stop offset="0.75" stop-color="#581412"/><stop offset="1.0" stop-color="#a2221f"/></linearGradient><linearGradient id="s309" gradientUnits="userSpaceOnUse" x1="-0.788" y1="0.616" x2="0.788" y2="-0.616"><stop offset="0" stop-color="#340f0e"/><stop offset="0.25" stop-color="#3f0f0f"/><stop offset="0.5" stop-color="#4b100f"/><stop offset="0.75" stop-color="#551211"/><stop offset="1.0" stop-color="#9e1f1d"/></linearGradient><linearGradient id="s310" gradientUnits="userSpaceOnUse" x1="-0.788" y1="0.616" x2="0.788" y2="-0.616"><stop offset="0" stop-color="#330d0d"/><stop offset="0.25" stop-color="#3d0e0d"/><stop offset="0.5" stop-color="#480e0e"/><stop offset="0.75" stop-color="#520f0f"/><stop offset="1.0" stop-color="#9a1c1b"/></linearGradient><linearGradient id="cb311" x1="0" y1="0" x2="0" y2="1"><stop offset="0.000" stop-color="#6e0000"/><stop offset="0.050" stop-color="#920000"/><stop offset="0.100" stop-color="#b60000"/><stop offset="0.150" stop-color="#d30202"/><stop offset="0.200" stop-color="#e90606"/><stop offset="0.250" stop-color="#ff0a0a"/><stop offset="0.300" stop-color="#ff3e3e"/><stop offset="0.350" stop-color="#ff7272"/><stop offset="0.400" stop-color="#ffa3a3"/><stop offset="0.450" stop-color="#ffd1d1"/><stop offset="0.500" stop-color="#ffffff"/><stop offset="0.550" stop-color="#c9c9ff"/><stop offset="0.600" stop-color="#9393ff"/><stop offset="0.650" stop-color="#6262ff"/><stop offset="0.700" stop-color="#3636ff"/><stop offset="0.750" stop-color="#0a0aff"/><stop offset="0.800" stop-color="#0606e9"/><stop offset="0.850" stop-color="#0202d3"/><stop offset="0.900" stop-color="#0000b2"/><stop offset="0.950" stop-color="#000086"/><stop offset="1.000" stop-color="#00005a"/></linearGradient><linearGradient id="v312" x1="1" x2="0"><stop offset="0" stop-color="#9d9dff"/><stop offset=".08" stop-color="#a6a6ff"/><stop offset=".2" stop-color="#9595ff"/><stop offset=".35" stop-color="#7878ff"/><stop offset=".55" stop-color="#5353ff"/><stop offset=".72" stop-color="#3838ff"/><stop offset=".86" stop-color="#5353ff"/><stop offset="1" stop-color="#2929ff"/></linearGradient><linearGradient id="v313" x1="1" x2="0"><stop offset="0" stop-color="#b2b2ff"/><stop offset=".08" stop-color="#bcbcff"/><stop offset=".2" stop-color="#aaaaff"/><stop offset=".35" stop-color="#8b8bff"/><stop offset=".55" stop-color="#6161ff"/><stop offset=".72" stop-color="#4444ff"/><stop offset=".86" stop-color="#6060ff"/><stop offset="1" stop-color="#2d2dff"/></linearGradient><linearGradient id="v314" x1="1" x2="0"><stop offset="0" stop-color="#d3d3ff"/><stop offset=".08" stop-color="#dfdfff"/><stop offset=".2" stop-color="#cbcbff"/><stop offset=".35" stop-color="#acacff"/><stop offset=".55" stop-color="#7979ff"/><stop offset=".72" stop-color="#5959ff"/><stop offset=".86" stop-color="#7373ff"/><stop offset="1" stop-color="#3535ff"/></linearGradient><linearGradient id="v315" x1="1" x2="0"><stop offset="0" stop-color="#f6f6ff"/><stop offset=".08" stop-color="#fffcfc"/><stop offset=".2" stop-color="#f0f0ff"/><stop offset=".35" stop-color="#d1d1ff"/><stop offset=".55" stop-color="#9d9dff"/><stop offset=".72" stop-color="#7575ff"/><stop offset=".86" stop-color="#8e8eff"/><stop offset="1" stop-color="#4242ff"/></linearGradient><linearGradient id="v316" x1="1" x2="0"><stop offset="0" stop-color="#ffeded"/><stop offset=".08" stop-color="#ffe2e2"/><stop offset=".2" stop-color="#fff2f2"/><stop offset=".35" stop-color="#f3f3ff"/><stop offset=".55" stop-color="#c4c4ff"/><stop offset=".72" stop-color="#9c9cff"/><stop offset=".86" stop-color="#adadff"/><stop offset="1" stop-color="#5252ff"/></linearGradient><linearGradient id="v317" x1="1" x2="0"><stop offset="0" stop-color="#ffdbdb"/><stop offset=".08" stop-color="#ffcece"/><stop offset=".2" stop-color="#ffdede"/><stop offset=".35" stop-color="#fff1f1"/><stop offset=".55" stop-color="#ebebff"/><stop offset=".72" stop-color="#cacaff"/><stop offset=".86" stop-color="#d1d1ff"/><stop offset="1" stop-color="#6767ff"/></linearGradient><linearGradient id="v318" x1="1" x2="0"><stop offset="0" stop-color="#ffcfcf"/><stop offset=".08" stop-color="#ffc2c2"/><stop offset=".2" stop-color="#ffd5d5"/><stop offset=".35" stop-color="#ffe4e4"/><stop offset=".55" stop-color="#fff3f3"/><stop offset=".72" stop-color="#fafaff"/><stop offset=".86" stop-color="#f6f6ff"/><stop offset="1" stop-color="#8282ff"/></linearGradient><linearGradient id="v319" x1="1" x2="0"><stop offset="0" stop-color="#ffcaca"/><stop offset=".08" stop-color="#ffbcbc"/><stop offset=".2" stop-color="#ffd5d5"/><stop offset=".35" stop-color="#ffe4e4"/><stop offset=".55" stop-color="#ffe0e0"/><stop offset=".72" stop-color="#ffdede"/><stop offset=".86" stop-color="#ffecec"/><stop offset="1" stop-color="#a0a0ff"/></linearGradient><linearGradient id="v320" x1="1" x2="0"><stop offset="0" stop-color="#ffc6c6"/><stop offset=".08" stop-color="#ffb9b9"/><stop offset=".2" stop-color="#ffdada"/><stop offset=".35" stop-color="#ffecec"/><stop offset=".55" stop-color="#ffd4d4"/><stop offset=".72" stop-color="#ffbebe"/><stop offset=".86" stop-color="#ffd8d8"/><stop offset="1" stop-color="#bbbbff"/></linearGradient><linearGradient id="v321" x1="1" x2="0"><stop offset="0" stop-color="#ffc3c3"/><stop offset=".08" stop-color="#ffb6b6"/><stop offset=".2" stop-color="#ffe9e9"/><stop offset=".35" stop-color="#fbfbff"/><stop offset=".55" stop-color="#ffcccc"/><stop offset=".72" stop-color="#ff9898"/><stop offset=".86" stop-color="#ffc6c6"/><stop offset="1" stop-color="#dedeff"/></linearGradient><linearGradient id="v322" x1="1" x2="0"><stop offset="0" stop-color="#ffbdbd"/><stop offset=".08" stop-color="#ffb2b2"/><stop offset=".2" stop-color="#fefeff"/><stop offset=".35" stop-color="#d1d1ff"/><stop offset=".55" stop-color="#ffc9c9"/><stop offset=".72" stop-color="#ff6e6e"/><stop offset=".86" stop-color="#ffc0c0"/><stop offset="1" stop-color="#fefeff"/></linearGradient><linearGradient id="v323" x1="1" x2="0"><stop offset="0" stop-color="#ffb8b8"/><stop offset=".08" stop-color="#ffacac"/><stop offset=".2" stop-color="#f2f2ff"/><stop offset=".35" stop-color="#bbbbff"/><stop offset=".55" stop-color="#ffc4c4"/><stop offset=".72" stop-color="#ff5050"/><stop offset=".86" stop-color="#ffc6c6"/><stop offset="1" stop-color="#fff1f1"/></linearGradient><linearGradient id="v324" x1="1" x2="0"><stop offset="0" stop-color="#ffb1b1"/><stop offset=".08" stop-color="#ffa0a0"/><stop offset=".2" stop-color="#fffcfc"/><stop offset=".35" stop-color="#ceceff"/><stop offset=".55" stop-color="#ffb9b9"/><stop offset=".72" stop-color="#ff4141"/><stop offset=".86" stop-color="#ffcdcd"/><stop offset="1" stop-color="#ffe9e9"/></linearGradient><linearGradient id="v325" x1="1" x2="0"><stop offset="0" stop-color="#ffa8a8"/><stop offset=".08" stop-color="#ff8f8f"/><stop offset=".2" stop-color="#ffd8d8"/><stop offset=".35" stop-color="#fffcfc"/><stop offset=".55" stop-color="#ffa1a1"/><stop offset=".72" stop-color="#ff4a4a"/><stop offset=".86" stop-color="#ffd3d3"/><stop offset="1" stop-color="#ffe6e6"/></linearGradient><linearGradient id="v326" x1="1" x2="0"><stop offset="0" stop-color="#ffa0a0"/><stop offset=".08" stop-color="#ff7d7d"/><stop offset=".2" stop-color="#ffb6b6"/><stop offset=".35" stop-color="#ffd3d3"/><stop offset=".55" stop-color="#ff7979"/><stop offset=".72" stop-color="#ff6666"/><stop offset=".86" stop-color="#ffd6d6"/><stop offset="1" stop-color="#ffe5e5"/></linearGradient><linearGradient id="v327" x1="1" x2="0"><stop offset="0" stop-color="#ff9898"/><stop offset=".08" stop-color="#ff6e6e"/><stop offset=".2" stop-color="#ffa3a3"/><stop offset=".35" stop-color="#ffbebe"/><stop offset=".55" stop-color="#ff4444"/><stop offset=".72" stop-color="#ff8a8a"/><stop offset=".86" stop-color="#ffd8d8"/><stop offset="1" stop-color="#ffe6e6"/></linearGradient><linearGradient id="v328" x1="1" x2="0"><stop offset="0" stop-color="#ff9090"/><stop offset=".08" stop-color="#ff6060"/><stop offset=".2" stop-color="#ff9a9a"/><stop offset=".35" stop-color="#ffb6b6"/><stop offset=".55" stop-color="#ff0d0d"/><stop offset=".72" stop-color="#ffa8a8"/><stop offset=".86" stop-color="#ffd9d9"/><stop offset="1" stop-color="#ffe7e7"/></linearGradient><linearGradient id="v329" x1="1" x2="0"><stop offset="0" stop-color="#ff8888"/><stop offset=".08" stop-color="#ff5252"/><stop offset=".2" stop-color="#ff9494"/><stop offset=".35" stop-color="#ffb2b2"/><stop offset=".55" stop-color="#f20808"/><stop offset=".72" stop-color="#ffbcbc"/><stop offset=".86" stop-color="#ffdcdc"/><stop offset="1" stop-color="#ffeaea"/></linearGradient><linearGradient id="v330" x1="1" x2="0"><stop offset="0" stop-color="#ff8181"/><stop offset=".08" stop-color="#ff4646"/><stop offset=".2" stop-color="#ff9191"/><stop offset=".35" stop-color="#ffa7a7"/><stop offset=".55" stop-color="#fb0909"/><stop offset=".72" stop-color="#ffc7c7"/><stop offset=".86" stop-color="#ffdfdf"/><stop offset="1" stop-color="#ffeded"/></linearGradient><linearGradient id="v331" x1="1" x2="0"><stop offset="0" stop-color="#ff7b7b"/><stop offset=".08" stop-color="#ff3d3d"/><stop offset=".2" stop-color="#ff8f8f"/><stop offset=".35" stop-color="#ff8787"/><stop offset=".55" stop-color="#ff4c4c"/><stop offset=".72" stop-color="#ffcccc"/><stop offset=".86" stop-color="#ffe3e3"/><stop offset="1" stop-color="#fff1f1"/></linearGradient><linearGradient id="v332" x1="1" x2="0"><stop offset="0" stop-color="#ff7979"/><stop offset=".08" stop-color="#ff3939"/><stop offset=".2" stop-color="#ff8e8e"/><stop offset=".35" stop-color="#ff4545"/><stop offset=".55" stop-color="#ff9797"/><stop offset=".72" stop-color="#ffcfcf"/><stop offset=".86" stop-color="#ffe8e8"/><stop offset="1" stop-color="#fff5f5"/></linearGradient><linearGradient id="v333" x1="1" x2="0"><stop offset="0" stop-color="#ff7d7d"/><stop offset=".08" stop-color="#ff3d3d"/><stop offset=".2" stop-color="#ff8989"/><stop offset=".35" stop-color="#ff1212"/><stop offset=".55" stop-color="#ffbcbc"/><stop offset=".72" stop-color="#ffd3d3"/><stop offset=".86" stop-color="#ffeded"/><stop offset="1" stop-color="#fff9f9"/></linearGradient><linearGradient id="v334" x1="1" x2="0"><stop offset="0" stop-color="#ff8888"/><stop offset=".08" stop-color="#ff4c4c"/><stop offset=".2" stop-color="#ff6d6d"/><stop offset=".35" stop-color="#ff4747"/><stop offset=".55" stop-color="#ffc9c9"/><stop offset=".72" stop-color="#ffd8d8"/><stop offset=".86" stop-color="#fff1f1"/><stop offset="1" stop-color="#fffcfc"/></linearGradient><linearGradient id="v335" x1="1" x2="0"><stop offset="0" stop-color="#ff9a9a"/><stop offset=".08" stop-color="#ff6060"/><stop offset=".2" stop-color="#ff4a4a"/><stop offset=".35" stop-color="#ffaeae"/><stop offset=".55" stop-color="#ffd2d2"/><stop offset=".72" stop-color="#ffdede"/><stop offset=".86" stop-color="#fff3f3"/><stop offset="1" stop-color="#fffcfc"/></linearGradient><linearGradient id="v336" x1="1" x2="0"><stop offset="0" stop-color="#ffabab"/><stop offset=".08" stop-color="#ff6767"/><stop offset=".2" stop-color="#ff7777"/><stop offset=".35" stop-color="#ffd5d5"/><stop offset=".55" stop-color="#ffdbdb"/><stop offset=".72" stop-color="#ffe4e4"/><stop offset=".86" stop-color="#fff5f5"/><stop offset="1" stop-color="#fffdfd"/></linearGradient><linearGradient id="v337" x1="1" x2="0"><stop offset="0" stop-color="#ffb3b3"/><stop offset=".08" stop-color="#ff7b7b"/><stop offset=".2" stop-color="#ffb8b8"/><stop offset=".35" stop-color="#ffe0e0"/><stop offset=".55" stop-color="#ffe2e2"/><stop offset=".72" stop-color="#ffeaea"/><stop offset=".86" stop-color="#fff7f7"/><stop offset="1" stop-color="#fffdfd"/></linearGradient><linearGradient id="v338" x1="1" x2="0"><stop offset="0" stop-color="#9d9dff"/><stop offset=".08" stop-color="#a6a6ff"/><stop offset=".2" stop-color="#9595ff"/><stop offset=".35" stop-color="#7878ff"/><stop offset=".55" stop-color="#5353ff"/><stop offset=".72" stop-color="#3838ff"/><stop offset=".86" stop-color="#5353ff"/><stop offset="1" stop-color="#2929ff"/></linearGradient><linearGradient id="v339" x1="1" x2="0"><stop offset="0" stop-color="#b2b2ff"/><stop offset=".08" stop-color="#bcbcff"/><stop offset=".2" stop-color="#aaaaff"/><stop offset=".35" stop-color="#8b8bff"/><stop offset=".55" stop-color="#6161ff"/><stop offset=".72" stop-color="#4444ff"/><stop offset=".86" stop-color="#6060ff"/><stop offset="1" stop-color="#2d2dff"/></linearGradient><linearGradient id="v340" x1="1" x2="0"><stop offset="0" stop-color="#d3d3ff"/><stop offset=".08" stop-color="#dfdfff"/><stop offset=".2" stop-color="#cbcbff"/><stop offset=".35" stop-color="#acacff"/><stop offset=".55" stop-color="#7979ff"/><stop offset=".72" stop-color="#5959ff"/><stop offset=".86" stop-color="#7373ff"/><stop offset="1" stop-color="#3535ff"/></linearGradient><linearGradient id="v341" x1="1" x2="0"><stop offset="0" stop-color="#f6f6ff"/><stop offset=".08" stop-color="#fffcfc"/><stop offset=".2" stop-color="#f0f0ff"/><stop offset=".35" stop-color="#d1d1ff"/><stop offset=".55" stop-color="#9d9dff"/><stop offset=".72" stop-color="#7575ff"/><stop offset=".86" stop-color="#8e8eff"/><stop offset="1" stop-color="#4242ff"/></linearGradient><linearGradient id="v342" x1="1" x2="0"><stop offset="0" stop-color="#ffeded"/><stop offset=".08" stop-color="#ffe2e2"/><stop offset=".2" stop-color="#fff2f2"/><stop offset=".35" stop-color="#f3f3ff"/><stop offset=".55" stop-color="#c4c4ff"/><stop offset=".72" stop-color="#9c9cff"/><stop offset=".86" stop-color="#adadff"/><stop offset="1" stop-color="#5252ff"/></linearGradient><linearGradient id="v343" x1="1" x2="0"><stop offset="0" stop-color="#ffdbdb"/><stop offset=".08" stop-color="#ffcece"/><stop offset=".2" stop-color="#ffdede"/><stop offset=".35" stop-color="#fff1f1"/><stop offset=".55" stop-color="#ebebff"/><stop offset=".72" stop-color="#cacaff"/><stop offset=".86" stop-color="#d1d1ff"/><stop offset="1" stop-color="#6767ff"/></linearGradient><linearGradient id="v344" x1="1" x2="0"><stop offset="0" stop-color="#ffcfcf"/><stop offset=".08" stop-color="#ffc2c2"/><stop offset=".2" stop-color="#ffd5d5"/><stop offset=".35" stop-color="#ffe4e4"/><stop offset=".55" stop-color="#fff3f3"/><stop offset=".72" stop-color="#fafaff"/><stop offset=".86" stop-color="#f6f6ff"/><stop offset="1" stop-color="#8282ff"/></linearGradient><linearGradient id="v345" x1="1" x2="0"><stop offset="0" stop-color="#ffcaca"/><stop offset=".08" stop-color="#ffbcbc"/><stop offset=".2" stop-color="#ffd5d5"/><stop offset=".35" stop-color="#ffe4e4"/><stop offset=".55" stop-color="#ffe0e0"/><stop offset=".72" stop-color="#ffdede"/><stop offset=".86" stop-color="#ffecec"/><stop offset="1" stop-color="#a0a0ff"/></linearGradient><linearGradient id="v346" x1="1" x2="0"><stop offset="0" stop-color="#ffc6c6"/><stop offset=".08" stop-color="#ffb9b9"/><stop offset=".2" stop-color="#ffdada"/><stop offset=".35" stop-color="#ffecec"/><stop offset=".55" stop-color="#ffd4d4"/><stop offset=".72" stop-color="#ffbebe"/><stop offset=".86" stop-color="#ffd8d8"/><stop offset="1" stop-color="#bbbbff"/></linearGradient><linearGradient id="v347" x1="1" x2="0"><stop offset="0" stop-color="#ffc3c3"/><stop offset=".08" stop-color="#ffb6b6"/><stop offset=".2" stop-color="#ffe9e9"/><stop offset=".35" stop-color="#fbfbff"/><stop offset=".55" stop-color="#ffcccc"/><stop offset=".72" stop-color="#ff9898"/><stop offset=".86" stop-color="#ffc6c6"/><stop offset="1" stop-color="#dedeff"/></linearGradient><linearGradient id="v348" x1="1" x2="0"><stop offset="0" stop-color="#ffbdbd"/><stop offset=".08" stop-color="#ffb2b2"/><stop offset=".2" stop-color="#fefeff"/><stop offset=".35" stop-color="#d1d1ff"/><stop offset=".55" stop-color="#ffc9c9"/><stop offset=".72" stop-color="#ff6e6e"/><stop offset=".86" stop-color="#ffc0c0"/><stop offset="1" stop-color="#fefeff"/></linearGradient><linearGradient id="v349" x1="1" x2="0"><stop offset="0" stop-color="#ffb8b8"/><stop offset=".08" stop-color="#ffacac"/><stop offset=".2" stop-color="#f2f2ff"/><stop offset=".35" stop-color="#bbbbff"/><stop offset=".55" stop-color="#ffc4c4"/><stop offset=".72" stop-color="#ff5050"/><stop offset=".86" stop-color="#ffc6c6"/><stop offset="1" stop-color="#fff1f1"/></linearGradient><linearGradient id="v350" x1="1" x2="0"><stop offset="0" stop-color="#ffb1b1"/><stop offset=".08" stop-color="#ffa0a0"/><stop offset=".2" stop-color="#fffcfc"/><stop offset=".35" stop-color="#ceceff"/><stop offset=".55" stop-color="#ffb9b9"/><stop offset=".72" stop-color="#ff4141"/><stop offset=".86" stop-color="#ffcdcd"/><stop offset="1" stop-color="#ffe9e9"/></linearGradient><linearGradient id="v351" x1="1" x2="0"><stop offset="0" stop-color="#ffa8a8"/><stop offset=".08" stop-color="#ff8f8f"/><stop offset=".2" stop-color="#ffd8d8"/><stop offset=".35" stop-color="#fffcfc"/><stop offset=".55" stop-color="#ffa1a1"/><stop offset=".72" stop-color="#ff4a4a"/><stop offset=".86" stop-color="#ffd3d3"/><stop offset="1" stop-color="#ffe6e6"/></linearGradient><linearGradient id="v352" x1="1" x2="0"><stop offset="0" stop-color="#ffa0a0"/><stop offset=".08" stop-color="#ff7d7d"/><stop offset=".2" stop-color="#ffb6b6"/><stop offset=".35" stop-color="#ffd3d3"/><stop offset=".55" stop-color="#ff7979"/><stop offset=".72" stop-color="#ff6666"/><stop offset=".86" stop-color="#ffd5d5"/><stop offset="1" stop-color="#ffe5e5"/></linearGradient><linearGradient id="v353" x1="1" x2="0"><stop offset="0" stop-color="#ff9898"/><stop offset=".08" stop-color="#ff6e6e"/><stop offset=".2" stop-color="#ffa3a3"/><stop offset=".35" stop-color="#ffbebe"/><stop offset=".55" stop-color="#ff4444"/><stop offset=".72" stop-color="#ff8989"/><stop offset=".86" stop-color="#ffd6d6"/><stop offset="1" stop-color="#ffe4e4"/></linearGradient><linearGradient id="v354" x1="1" x2="0"><stop offset="0" stop-color="#ff9090"/><stop offset=".08" stop-color="#ff6060"/><stop offset=".2" stop-color="#ff9a9a"/><stop offset=".35" stop-color="#ffb6b6"/><stop offset=".55" stop-color="#ff0d0d"/><stop offset=".72" stop-color="#ffa6a6"/><stop offset=".86" stop-color="#ffd6d6"/><stop offset="1" stop-color="#ffe4e4"/></linearGradient><linearGradient id="v355" x1="1" x2="0"><stop offset="0" stop-color="#ff8888"/><stop offset=".08" stop-color="#ff5252"/><stop offset=".2" stop-color="#ff9494"/><stop offset=".35" stop-color="#ffb2b2"/><stop offset=".55" stop-color="#f20808"/><stop offset=".72" stop-color="#ffbbbb"/><stop offset=".86" stop-color="#ffd6d6"/><stop offset="1" stop-color="#ffe4e4"/></linearGradient><linearGradient id="v356" x1="1" x2="0"><stop offset="0" stop-color="#ff8181"/><stop offset=".08" stop-color="#ff4646"/><stop offset=".2" stop-color="#ff9191"/><stop offset=".35" stop-color="#ffa7a7"/><stop offset=".55" stop-color="#fb0909"/><stop offset=".72" stop-color="#ffc5c5"/><stop offset=".86" stop-color="#ffd7d7"/><stop offset="1" stop-color="#ffe4e4"/></linearGradient><linearGradient id="v357" x1="1" x2="0"><stop offset="0" stop-color="#ff7b7b"/><stop offset=".08" stop-color="#ff3d3d"/><stop offset=".2" stop-color="#ff8f8f"/><stop offset=".35" stop-color="#ff8787"/><stop offset=".55" stop-color="#ff4c4c"/><stop offset=".72" stop-color="#ffc9c9"/><stop offset=".86" stop-color="#ffd8d8"/><stop offset="1" stop-color="#ffe5e5"/></linearGradient><linearGradient id="v358" x1="1" x2="0"><stop offset="0" stop-color="#ff7979"/><stop offset=".08" stop-color="#ff3939"/><stop offset=".2" stop-color="#ff8e8e"/><stop offset=".35" stop-color="#ff4545"/><stop offset=".55" stop-color="#ff9797"/><stop offset=".72" stop-color="#ffcccc"/><stop offset=".86" stop-color="#ffd9d9"/><stop offset="1" stop-color="#ffe6e6"/></linearGradient><linearGradient id="v359" x1="1" x2="0"><stop offset="0" stop-color="#ff7d7d"/><stop offset=".08" stop-color="#ff3d3d"/><stop offset=".2" stop-color="#ff8989"/><stop offset=".35" stop-color="#ff1212"/><stop offset=".55" stop-color="#ffbcbc"/><stop offset=".72" stop-color="#ffcfcf"/><stop offset=".86" stop-color="#ffdcdc"/><stop offset="1" stop-color="#ffe8e8"/></linearGradient><linearGradient id="v360" x1="1" x2="0"><stop offset="0" stop-color="#ff8888"/><stop offset=".08" stop-color="#ff4c4c"/><stop offset=".2" stop-color="#ff6d6d"/><stop offset=".35" stop-color="#ff4747"/><stop offset=".55" stop-color="#ffc9c9"/><stop offset=".72" stop-color="#ffd5d5"/><stop offset=".86" stop-color="#ffe0e0"/><stop offset="1" stop-color="#ffeaea"/></linearGradient><linearGradient id="v361" x1="1" x2="0"><stop offset="0" stop-color="#ff9a9a"/><stop offset=".08" stop-color="#ff6060"/><stop offset=".2" stop-color="#ff4a4a"/><stop offset=".35" stop-color="#ffaeae"/><stop offset=".55" stop-color="#ffd2d2"/><stop offset=".72" stop-color="#ffdbdb"/><stop offset=".86" stop-color="#ffe4e4"/><stop offset="1" stop-color="#ffeded"/></linearGradient><linearGradient id="v362" x1="1" x2="0"><stop offset="0" stop-color="#ffabab"/><stop offset=".08" stop-color="#ff6767"/><stop offset=".2" stop-color="#ff7777"/><stop offset=".35" stop-color="#ffd5d5"/><stop offset=".55" stop-color="#ffdbdb"/><stop offset=".72" stop-color="#ffe2e2"/><stop offset=".86" stop-color="#ffe9e9"/><stop offset="1" stop-color="#fff1f1"/></linearGradient><linearGradient id="v363" x1="1" x2="0"><stop offset="0" stop-color="#ffb3b3"/><stop offset=".08" stop-color="#ff7b7b"/><stop offset=".2" stop-color="#ffb8b8"/><stop offset=".35" stop-color="#ffe0e0"/><stop offset=".55" stop-color="#ffe2e2"/><stop offset=".72" stop-color="#ffe8e8"/><stop offset=".86" stop-color="#ffeeee"/><stop offset="1" stop-color="#fff4f4"/></linearGradient><linearGradient id="v364" x1="0" x2="1"><stop offset="0" stop-color="#ffabab"/><stop offset=".08" stop-color="#ffb3b3"/><stop offset=".2" stop-color="#ffa4a4"/><stop offset=".35" stop-color="#ff8c8c"/><stop offset=".55" stop-color="#ff6060"/><stop offset=".72" stop-color="#ff4040"/><stop offset=".86" stop-color="#ff8f8f"/><stop offset="1" stop-color="#ffebeb"/></linearGradient><linearGradient id="v365" x1="0" x2="1"><stop offset="0" stop-color="#ffbdbd"/><stop offset=".08" stop-color="#ffc6c6"/><stop offset=".2" stop-color="#ffb6b6"/><stop offset=".35" stop-color="#ff9c9c"/><stop offset=".55" stop-color="#ff7070"/><stop offset=".72" stop-color="#ff4e4e"/><stop offset=".86" stop-color="#ff9999"/><stop offset="1" stop-color="#ffecec"/></linearGradient><linearGradient id="v366" x1="0" x2="1"><stop offset="0" stop-color="#ffdada"/><stop offset=".08" stop-color="#ffe3e3"/><stop offset=".2" stop-color="#ffd3d3"/><stop offset=".35" stop-color="#ffb8b8"/><stop offset=".55" stop-color="#ff8d8d"/><stop offset=".72" stop-color="#ff6767"/><stop offset=".86" stop-color="#ffa7a7"/><stop offset="1" stop-color="#ffeded"/></linearGradient><linearGradient id="v367" x1="0" x2="1"><stop offset="0" stop-color="#fff8f8"/><stop offset=".08" stop-color="#fbfbff"/><stop offset=".2" stop-color="#fff2f2"/><stop offset=".35" stop-color="#ffd8d8"/><stop offset=".55" stop-color="#ffacac"/><stop offset=".72" stop-color="#ff8888"/><stop offset=".86" stop-color="#ffb9b9"/><stop offset="1" stop-color="#ffeeee"/></linearGradient><linearGradient id="v368" x1="0" x2="1"><stop offset="0" stop-color="#eaeaff"/><stop offset=".08" stop-color="#ddddff"/><stop offset=".2" stop-color="#f0f0ff"/><stop offset=".35" stop-color="#fff5f5"/><stop offset=".55" stop-color="#ffcdcd"/><stop offset=".72" stop-color="#ffaaaa"/><stop offset=".86" stop-color="#ffcccc"/><stop offset="1" stop-color="#fff0f0"/></linearGradient><linearGradient id="v369" x1="0" x2="1"><stop offset="0" stop-color="#d4d4ff"/><stop offset=".08" stop-color="#c6c6ff"/><stop offset=".2" stop-color="#d9d9ff"/><stop offset=".35" stop-color="#efefff"/><stop offset=".55" stop-color="#ffeeee"/><stop offset=".72" stop-color="#ffd1d1"/><stop offset=".86" stop-color="#ffe3e3"/><stop offset="1" stop-color="#fff2f2"/></linearGradient><linearGradient id="v370" x1="0" x2="1"><stop offset="0" stop-color="#c7c7ff"/><stop offset=".08" stop-color="#b7b7ff"/><stop offset=".2" stop-color="#ceceff"/><stop offset=".35" stop-color="#e0e0ff"/><stop offset=".55" stop-color="#f1f1ff"/><stop offset=".72" stop-color="#fffbfb"/><stop offset=".86" stop-color="#fffafa"/><stop offset="1" stop-color="#fff4f4"/></linearGradient><linearGradient id="v371" x1="0" x2="1"><stop offset="0" stop-color="#c1c1ff"/><stop offset=".08" stop-color="#b0b0ff"/><stop offset=".2" stop-color="#cdcdff"/><stop offset=".35" stop-color="#dfdfff"/><stop offset=".55" stop-color="#dadaff"/><stop offset=".72" stop-color="#d8d8ff"/><stop offset=".86" stop-color="#eeeeff"/><stop offset="1" stop-color="#fff7f7"/></linearGradient><linearGradient id="v372" x1="0" x2="1"><stop offset="0" stop-color="#bdbdff"/><stop offset=".08" stop-color="#adadff"/><stop offset=".2" stop-color="#d4d4ff"/><stop offset=".35" stop-color="#e9e9ff"/><stop offset=".55" stop-color="#cdcdff"/><stop offset=".72" stop-color="#b3b3ff"/><stop offset=".86" stop-color="#ddddff"/><stop offset="1" stop-color="#fff9f9"/></linearGradient><linearGradient id="v373" x1="0" x2="1"><stop offset="0" stop-color="#b8b8ff"/><stop offset=".08" stop-color="#a9a9ff"/><stop offset=".2" stop-color="#e6e6ff"/><stop offset=".35" stop-color="#fffbfb"/><stop offset=".55" stop-color="#c4c4ff"/><stop offset=".72" stop-color="#8686ff"/><stop offset=".86" stop-color="#ceceff"/><stop offset="1" stop-color="#fffcfc"/></linearGradient><linearGradient id="v374" x1="0" x2="1"><stop offset="0" stop-color="#b2b2ff"/><stop offset=".08" stop-color="#a5a5ff"/><stop offset=".2" stop-color="#fffefe"/><stop offset=".35" stop-color="#ffd8d8"/><stop offset=".55" stop-color="#c0c0ff"/><stop offset=".72" stop-color="#5e5eff"/><stop offset=".86" stop-color="#c9c9ff"/><stop offset="1" stop-color="#ffffff"/></linearGradient><linearGradient id="v375" x1="0" x2="1"><stop offset="0" stop-color="#ababff"/><stop offset=".08" stop-color="#9e9eff"/><stop offset=".2" stop-color="#fff4f4"/><stop offset=".35" stop-color="#ffc5c5"/><stop offset=".55" stop-color="#babaff"/><stop offset=".72" stop-color="#4545ff"/><stop offset=".86" stop-color="#ceceff"/><stop offset="1" stop-color="#fdfdff"/></linearGradient><linearGradient id="v376" x1="0" x2="1"><stop offset="0" stop-color="#a3a3ff"/><stop offset=".08" stop-color="#9090ff"/><stop offset=".2" stop-color="#fbfbff"/><stop offset=".35" stop-color="#ffd5d5"/><stop offset=".55" stop-color="#acacff"/><stop offset=".72" stop-color="#3939ff"/><stop offset=".86" stop-color="#d4d4ff"/><stop offset="1" stop-color="#fcfcff"/></linearGradient><linearGradient id="v377" x1="0" x2="1"><stop offset="0" stop-color="#9999ff"/><stop offset=".08" stop-color="#7c7cff"/><stop offset=".2" stop-color="#d1d1ff"/><stop offset=".35" stop-color="#fcfcff"/><stop offset=".55" stop-color="#9090ff"/><stop offset=".72" stop-color="#4040ff"/><stop offset=".86" stop-color="#d9d9ff"/><stop offset="1" stop-color="#fcfcff"/></linearGradient><linearGradient id="v378" x1="0" x2="1"><stop offset="0" stop-color="#8f8fff"/><stop offset=".08" stop-color="#6c6cff"/><stop offset=".2" stop-color="#aaaaff"/><stop offset=".35" stop-color="#ccccff"/><stop offset=".55" stop-color="#6868ff"/><stop offset=".72" stop-color="#5858ff"/><stop offset=".86" stop-color="#dbdbff"/><stop offset="1" stop-color="#fcfcff"/></linearGradient><linearGradient id="v379" x1="0" x2="1"><stop offset="0" stop-color="#8686ff"/><stop offset=".08" stop-color="#5e5eff"/><stop offset=".2" stop-color="#9393ff"/><stop offset=".35" stop-color="#b3b3ff"/><stop offset=".55" stop-color="#3b3bff"/><stop offset=".72" stop-color="#7676ff"/><stop offset=".86" stop-color="#dcdcff"/><stop offset="1" stop-color="#fcfcff"/></linearGradient><linearGradient id="v380" x1="0" x2="1"><stop offset="0" stop-color="#7d7dff"/><stop offset=".08" stop-color="#5252ff"/><stop offset=".2" stop-color="#8888ff"/><stop offset=".35" stop-color="#a9a9ff"/><stop offset=".55" stop-color="#0c0cff"/><stop offset=".72" stop-color="#9797ff"/><stop offset=".86" stop-color="#dcdcff"/><stop offset="1" stop-color="#fcfcff"/></linearGradient><linearGradient id="v381" x1="0" x2="1"><stop offset="0" stop-color="#7575ff"/><stop offset=".08" stop-color="#4747ff"/><stop offset=".2" stop-color="#8282ff"/><stop offset=".35" stop-color="#a4a4ff"/><stop offset=".55" stop-color="#0808f2"/><stop offset=".72" stop-color="#afafff"/><stop offset=".86" stop-color="#dcdcff"/><stop offset="1" stop-color="#fcfcff"/></linearGradient><linearGradient id="v382" x1="0" x2="1"><stop offset="0" stop-color="#6e6eff"/><stop offset=".08" stop-color="#3d3dff"/><stop offset=".2" stop-color="#7e7eff"/><stop offset=".35" stop-color="#9797ff"/><stop offset=".55" stop-color="#0909fb"/><stop offset=".72" stop-color="#bbbbff"/><stop offset=".86" stop-color="#dcdcff"/><stop offset="1" stop-color="#fcfcff"/></linearGradient><linearGradient id="v383" x1="0" x2="1"><stop offset="0" stop-color="#6a6aff"/><stop offset=".08" stop-color="#3535ff"/><stop offset=".2" stop-color="#7b7bff"/><stop offset=".35" stop-color="#7474ff"/><stop offset=".55" stop-color="#4242ff"/><stop offset=".72" stop-color="#c0c0ff"/><stop offset=".86" stop-color="#ddddff"/><stop offset="1" stop-color="#fcfcff"/></linearGradient><linearGradient id="v384" x1="0" x2="1"><stop offset="0" stop-color="#6868ff"/><stop offset=".08" stop-color="#3232ff"/><stop offset=".2" stop-color="#7b7bff"/><stop offset=".35" stop-color="#3c3cff"/><stop offset=".55" stop-color="#8585ff"/><stop offset=".72" stop-color="#c3c3ff"/><stop offset=".86" stop-color="#dfdfff"/><stop offset="1" stop-color="#fcfcff"/></linearGradient><linearGradient id="v385" x1="0" x2="1"><stop offset="0" stop-color="#6b6bff"/><stop offset=".08" stop-color="#3636ff"/><stop offset=".2" stop-color="#7676ff"/><stop offset=".35" stop-color="#1010ff"/><stop offset=".55" stop-color="#b0b0ff"/><stop offset=".72" stop-color="#c7c7ff"/><stop offset=".86" stop-color="#e1e1ff"/><stop offset="1" stop-color="#fcfcff"/></linearGradient><linearGradient id="v386" x1="0" x2="1"><stop offset="0" stop-color="#7575ff"/><stop offset=".08" stop-color="#4242ff"/><stop offset=".2" stop-color="#5e5eff"/><stop offset=".35" stop-color="#3e3eff"/><stop offset=".55" stop-color="#c0c0ff"/><stop offset=".72" stop-color="#cdcdff"/><stop offset=".86" stop-color="#e4e4ff"/><stop offset="1" stop-color="#fdfdff"/></linearGradient><linearGradient id="v387" x1="0" x2="1"><stop offset="0" stop-color="#8989ff"/><stop offset=".08" stop-color="#5353ff"/><stop offset=".2" stop-color="#4040ff"/><stop offset=".35" stop-color="#9f9fff"/><stop offset=".55" stop-color="#cacaff"/><stop offset=".72" stop-color="#d5d5ff"/><stop offset=".86" stop-color="#e8e8ff"/><stop offset="1" stop-color="#fdfdff"/></linearGradient><linearGradient id="v388" x1="0" x2="1"><stop offset="0" stop-color="#9d9dff"/><stop offset=".08" stop-color="#5959ff"/><stop offset=".2" stop-color="#6666ff"/><stop offset=".35" stop-color="#cdcdff"/><stop offset=".55" stop-color="#d4d4ff"/><stop offset=".72" stop-color="#ddddff"/><stop offset=".86" stop-color="#ededff"/><stop offset="1" stop-color="#fdfdff"/></linearGradient><linearGradient id="v389" x1="0" x2="1"><stop offset="0" stop-color="#a6a6ff"/><stop offset=".08" stop-color="#6a6aff"/><stop offset=".2" stop-color="#acacff"/><stop offset=".35" stop-color="#dadaff"/><stop offset=".55" stop-color="#ddddff"/><stop offset=".72" stop-color="#e4e4ff"/><stop offset=".86" stop-color="#f0f0ff"/><stop offset="1" stop-color="#fefeff"/></linearGradient><linearGradient id="v390" x1="0" x2="1"><stop offset="0" stop-color="#ffabab"/><stop offset=".08" stop-color="#ffb3b3"/><stop offset=".2" stop-color="#ffa4a4"/><stop offset=".35" stop-color="#ff8c8c"/><stop offset=".55" stop-color="#ff6060"/><stop offset=".72" stop-color="#ff4040"/><stop offset=".86" stop-color="#ff7d7d"/><stop offset="1" stop-color="#ffa6a6"/></linearGradient><linearGradient id="v391" x1="0" x2="1"><stop offset="0" stop-color="#ffbdbd"/><stop offset=".08" stop-color="#ffc6c6"/><stop offset=".2" stop-color="#ffb6b6"/><stop offset=".35" stop-color="#ff9c9c"/><stop offset=".55" stop-color="#ff7070"/><stop offset=".72" stop-color="#ff4e4e"/><stop offset=".86" stop-color="#ff8a8a"/><stop offset="1" stop-color="#ffa8a8"/></linearGradient><linearGradient id="v392" x1="0" x2="1"><stop offset="0" stop-color="#ffdada"/><stop offset=".08" stop-color="#ffe3e3"/><stop offset=".2" stop-color="#ffd3d3"/><stop offset=".35" stop-color="#ffb8b8"/><stop offset=".55" stop-color="#ff8d8d"/><stop offset=".72" stop-color="#ff6767"/><stop offset=".86" stop-color="#ff9a9a"/><stop offset="1" stop-color="#ffacac"/></linearGradient><linearGradient id="v393" x1="0" x2="1"><stop offset="0" stop-color="#fff8f8"/><stop offset=".08" stop-color="#fbfbff"/><stop offset=".2" stop-color="#fff2f2"/><stop offset=".35" stop-color="#ffd8d8"/><stop offset=".55" stop-color="#ffacac"/><stop offset=".72" stop-color="#ff8888"/><stop offset=".86" stop-color="#ffafaf"/><stop offset="1" stop-color="#ffb2b2"/></linearGradient><linearGradient id="v394" x1="0" x2="1"><stop offset="0" stop-color="#eaeaff"/><stop offset=".08" stop-color="#ddddff"/><stop offset=".2" stop-color="#f0f0ff"/><stop offset=".35" stop-color="#fff5f5"/><stop offset=".55" stop-color="#ffcdcd"/><stop offset=".72" stop-color="#ffaaaa"/><stop offset=".86" stop-color="#ffc5c5"/><stop offset="1" stop-color="#ffb9b9"/></linearGradient><linearGradient id="v395" x1="0" x2="1"><stop offset="0" stop-color="#d4d4ff"/><stop offset=".08" stop-color="#c6c6ff"/><stop offset=".2" stop-color="#d9d9ff"/><stop offset=".35" stop-color="#efefff"/><stop offset=".55" stop-color="#ffeeee"/><stop offset=".72" stop-color="#ffd1d1"/><stop offset=".86" stop-color="#ffdfdf"/><stop offset="1" stop-color="#ffc3c3"/></linearGradient><linearGradient id="v396" x1="0" x2="1"><stop offset="0" stop-color="#c7c7ff"/><stop offset=".08" stop-color="#b7b7ff"/><stop offset=".2" stop-color="#ceceff"/><stop offset=".35" stop-color="#e0e0ff"/><stop offset=".55" stop-color="#f1f1ff"/><stop offset=".72" stop-color="#fffbfb"/><stop offset=".86" stop-color="#fff9f9"/><stop offset="1" stop-color="#ffcfcf"/></linearGradient><linearGradient id="v397" x1="0" x2="1"><stop offset="0" stop-color="#c1c1ff"/><stop offset=".08" stop-color="#b0b0ff"/><stop offset=".2" stop-color="#cdcdff"/><stop offset=".35" stop-color="#dfdfff"/><stop offset=".55" stop-color="#dadaff"/><stop offset=".72" stop-color="#d8d8ff"/><stop offset=".86" stop-color="#ececff"/><stop offset="1" stop-color="#ffdada"/></linearGradient><linearGradient id="v398" x1="0" x2="1"><stop offset="0" stop-color="#bdbdff"/><stop offset=".08" stop-color="#adadff"/><stop offset=".2" stop-color="#d4d4ff"/><stop offset=".35" stop-color="#e9e9ff"/><stop offset=".55" stop-color="#cdcdff"/><stop offset=".72" stop-color="#b3b3ff"/><stop offset=".86" stop-color="#d8d8ff"/><stop offset="1" stop-color="#ffe5e5"/></linearGradient><linearGradient id="v399" x1="0" x2="1"><stop offset="0" stop-color="#b8b8ff"/><stop offset=".08" stop-color="#a9a9ff"/><stop offset=".2" stop-color="#e6e6ff"/><stop offset=".35" stop-color="#fffbfb"/><stop offset=".55" stop-color="#c4c4ff"/><stop offset=".72" stop-color="#8686ff"/><stop offset=".86" stop-color="#c7c7ff"/><stop offset="1" stop-color="#fff2f2"/></linearGradient><linearGradient id="v400" x1="0" x2="1"><stop offset="0" stop-color="#b2b2ff"/><stop offset=".08" stop-color="#a5a5ff"/><stop offset=".2" stop-color="#fffefe"/><stop offset=".35" stop-color="#ffd8d8"/><stop offset=".55" stop-color="#c0c0ff"/><stop offset=".72" stop-color="#5e5eff"/><stop offset=".86" stop-color="#c2c2ff"/><stop offset="1" stop-color="#ffffff"/></linearGradient><linearGradient id="v401" x1="0" x2="1"><stop offset="0" stop-color="#ababff"/><stop offset=".08" stop-color="#9e9eff"/><stop offset=".2" stop-color="#fff4f4"/><stop offset=".35" stop-color="#ffc5c5"/><stop offset=".55" stop-color="#babaff"/><stop offset=".72" stop-color="#4545ff"/><stop offset=".86" stop-color="#c7c7ff"/><stop offset="1" stop-color="#f7f7ff"/></linearGradient><linearGradient id="v402" x1="0" x2="1"><stop offset="0" stop-color="#a3a3ff"/><stop offset=".08" stop-color="#9090ff"/><stop offset=".2" stop-color="#fbfbff"/><stop offset=".35" stop-color="#ffd5d5"/><stop offset=".55" stop-color="#acacff"/><stop offset=".72" stop-color="#3939ff"/><stop offset=".86" stop-color="#ceceff"/><stop offset="1" stop-color="#f4f4ff"/></linearGradient><linearGradient id="v403" x1="0" x2="1"><stop offset="0" stop-color="#9999ff"/><stop offset=".08" stop-color="#7c7cff"/><stop offset=".2" stop-color="#d1d1ff"/><stop offset=".35" stop-color="#fcfcff"/><stop offset=".55" stop-color="#9090ff"/><stop offset=".72" stop-color="#4040ff"/><stop offset=".86" stop-color="#d4d4ff"/><stop offset="1" stop-color="#f2f2ff"/></linearGradient><linearGradient id="v404" x1="0" x2="1"><stop offset="0" stop-color="#8f8fff"/><stop offset=".08" stop-color="#6c6cff"/><stop offset=".2" stop-color="#aaaaff"/><stop offset=".35" stop-color="#ccccff"/><stop offset=".55" stop-color="#6868ff"/><stop offset=".72" stop-color="#5858ff"/><stop offset=".86" stop-color="#d6d6ff"/><stop offset="1" stop-color="#f1f1ff"/></linearGradient><linearGradient id="v405" x1="0" x2="1"><stop offset="0" stop-color="#8686ff"/><stop offset=".08" stop-color="#5e5eff"/><stop offset=".2" stop-color="#9393ff"/><stop offset=".35" stop-color="#b3b3ff"/><stop offset=".55" stop-color="#3b3bff"/><stop offset=".72" stop-color="#7676ff"/><stop offset=".86" stop-color="#d7d7ff"/><stop offset="1" stop-color="#f1f1ff"/></linearGradient><linearGradient id="v406" x1="0" x2="1"><stop offset="0" stop-color="#7d7dff"/><stop offset=".08" stop-color="#5252ff"/><stop offset=".2" stop-color="#8888ff"/><stop offset=".35" stop-color="#a9a9ff"/><stop offset=".55" stop-color="#0c0cff"/><stop offset=".72" stop-color="#9797ff"/><stop offset=".86" stop-color="#d7d7ff"/><stop offset="1" stop-color="#f1f1ff"/></linearGradient><linearGradient id="v407" x1="0" x2="1"><stop offset="0" stop-color="#7575ff"/><stop offset=".08" stop-color="#4747ff"/><stop offset=".2" stop-color="#8282ff"/><stop offset=".35" stop-color="#a4a4ff"/><stop offset=".55" stop-color="#0808f2"/><stop offset=".72" stop-color="#afafff"/><stop offset=".86" stop-color="#d7d7ff"/><stop offset="1" stop-color="#f1f1ff"/></linearGradient><linearGradient id="v408" x1="0" x2="1"><stop offset="0" stop-color="#6e6eff"/><stop offset=".08" stop-color="#3d3dff"/><stop offset=".2" stop-color="#7e7eff"/><stop offset=".35" stop-color="#9797ff"/><stop offset=".55" stop-color="#0909fb"/><stop offset=".72" stop-color="#bbbbff"/><stop offset=".86" stop-color="#d7d7ff"/><stop offset="1" stop-color="#f1f1ff"/></linearGradient><linearGradient id="v409" x1="0" x2="1"><stop offset="0" stop-color="#6a6aff"/><stop offset=".08" stop-color="#3535ff"/><stop offset=".2" stop-color="#7b7bff"/><stop offset=".35" stop-color="#7474ff"/><stop offset=".55" stop-color="#4242ff"/><stop offset=".72" stop-color="#c0c0ff"/><stop offset=".86" stop-color="#d8d8ff"/><stop offset="1" stop-color="#f1f1ff"/></linearGradient><linearGradient id="v410" x1="0" x2="1"><stop offset="0" stop-color="#6868ff"/><stop offset=".08" stop-color="#3232ff"/><stop offset=".2" stop-color="#7b7bff"/><stop offset=".35" stop-color="#3c3cff"/><stop offset=".55" stop-color="#8585ff"/><stop offset=".72" stop-color="#c3c3ff"/><stop offset=".86" stop-color="#dadaff"/><stop offset="1" stop-color="#f2f2ff"/></linearGradient><linearGradient id="v411" x1="0" x2="1"><stop offset="0" stop-color="#6b6bff"/><stop offset=".08" stop-color="#3636ff"/><stop offset=".2" stop-color="#7676ff"/><stop offset=".35" stop-color="#1010ff"/><stop offset=".55" stop-color="#b0b0ff"/><stop offset=".72" stop-color="#c7c7ff"/><stop offset=".86" stop-color="#ddddff"/><stop offset="1" stop-color="#f3f3ff"/></linearGradient><linearGradient id="v412" x1="0" x2="1"><stop offset="0" stop-color="#7575ff"/><stop offset=".08" stop-color="#4242ff"/><stop offset=".2" stop-color="#5e5eff"/><stop offset=".35" stop-color="#3e3eff"/><stop offset=".55" stop-color="#c0c0ff"/><stop offset=".72" stop-color="#cdcdff"/><stop offset=".86" stop-color="#e0e0ff"/><stop offset="1" stop-color="#f4f4ff"/></linearGradient><linearGradient id="v413" x1="0" x2="1"><stop offset="0" stop-color="#8989ff"/><stop offset=".08" stop-color="#5353ff"/><stop offset=".2" stop-color="#4040ff"/><stop offset=".35" stop-color="#9f9fff"/><stop offset=".55" stop-color="#cacaff"/><stop offset=".72" stop-color="#d5d5ff"/><stop offset=".86" stop-color="#e5e5ff"/><stop offset="1" stop-color="#f6f6ff"/></linearGradient><linearGradient id="v414" x1="0" x2="1"><stop offset="0" stop-color="#9d9dff"/><stop offset=".08" stop-color="#5959ff"/><stop offset=".2" stop-color="#6666ff"/><stop offset=".35" stop-color="#cdcdff"/><stop offset=".55" stop-color="#d4d4ff"/><stop offset=".72" stop-color="#ddddff"/><stop offset=".86" stop-color="#eaeaff"/><stop offset="1" stop-color="#f7f7ff"/></linearGradient><linearGradient id="v415" x1="0" x2="1"><stop offset="0" stop-color="#a6a6ff"/><stop offset=".08" stop-color="#6a6aff"/><stop offset=".2" stop-color="#acacff"/><stop offset=".35" stop-color="#dadaff"/><stop offset=".55" stop-color="#ddddff"/><stop offset=".72" stop-color="#e4e4ff"/><stop offset=".86" stop-color="#eeeeff"/><stop offset="1" stop-color="#f9f9ff"/></linearGradient><linearGradient id="s416" gradientUnits="userSpaceOnUse" x1="-0.788" y1="0.616" x2="0.788" y2="-0.616"><stop offset="0" stop-color="#082014"/><stop offset="0.25" stop-color="#092416"/><stop offset="0.5" stop-color="#0a2818"/><stop offset="0.75" stop-color="#0c311d"/><stop offset="1.0" stop-color="#197d44"/></linearGradient><linearGradient id="s417" gradientUnits="userSpaceOnUse" x1="-0.788" y1="0.616" x2="0.788" y2="-0.616"><stop offset="0" stop-color="#0c2215"/><stop offset="0.25" stop-color="#0d2819"/><stop offset="0.5" stop-color="#0f2f1c"/><stop offset="0.75" stop-color="#113821"/><stop offset="1.0" stop-color="#21854b"/></linearGradient><linearGradient id="s418" gradientUnits="userSpaceOnUse" x1="-0.788" y1="0.616" x2="0.788" y2="-0.616"><stop offset="0" stop-color="#0f2517"/><stop offset="0.25" stop-color="#112d1b"/><stop offset="0.5" stop-color="#133620"/><stop offset="0.75" stop-color="#164025"/><stop offset="1.0" stop-color="#298d52"/></linearGradient><linearGradient id="s419" gradientUnits="userSpaceOnUse" x1="-0.788" y1="0.616" x2="0.788" y2="-0.616"><stop offset="0" stop-color="#132718"/><stop offset="0.25" stop-color="#16311d"/><stop offset="0.5" stop-color="#183b22"/><stop offset="0.75" stop-color="#1b4528"/><stop offset="1.0" stop-color="#349458"/></linearGradient><linearGradient id="s420" gradientUnits="userSpaceOnUse" x1="-0.788" y1="0.616" x2="0.788" y2="-0.616"><stop offset="0" stop-color="#162a19"/><stop offset="0.25" stop-color="#1a341f"/><stop offset="0.5" stop-color="#1d3e24"/><stop offset="0.75" stop-color="#21482a"/><stop offset="1.0" stop-color="#409a5d"/></linearGradient><linearGradient id="s421" gradientUnits="userSpaceOnUse" x1="-0.788" y1="0.616" x2="0.788" y2="-0.616"><stop offset="0" stop-color="#1a2c1b"/><stop offset="0.25" stop-color="#1e3620"/><stop offset="0.5" stop-color="#234125"/><stop offset="0.75" stop-color="#284c2c"/><stop offset="1.0" stop-color="#4ea062"/></linearGradient><linearGradient id="s422" gradientUnits="userSpaceOnUse" x1="-0.788" y1="0.616" x2="0.788" y2="-0.616"><stop offset="0" stop-color="#1e2e1c"/><stop offset="0.25" stop-color="#233922"/><stop offset="0.5" stop-color="#284427"/><stop offset="0.75" stop-color="#2e4f2e"/><stop offset="1.0" stop-color="#5aa668"/></linearGradient><linearGradient id="s423" gradientUnits="userSpaceOnUse" x1="-0.788" y1="0.616" x2="0.788" y2="-0.616"><stop offset="0" stop-color="#21311d"/><stop offset="0.25" stop-color="#273c23"/><stop offset="0.5" stop-color="#2d4729"/><stop offset="0.75" stop-color="#345330"/><stop offset="1.0" stop-color="#68ac6d"/></linearGradient><linearGradient id="s424" gradientUnits="userSpaceOnUse" x1="-0.788" y1="0.616" x2="0.788" y2="-0.616"><stop offset="0" stop-color="#25331f"/><stop offset="0.25" stop-color="#2b3e24"/><stop offset="0.5" stop-color="#314a2a"/><stop offset="0.75" stop-color="#395632"/><stop offset="1.0" stop-color="#73b172"/></linearGradient><linearGradient id="s425" gradientUnits="userSpaceOnUse" x1="-0.788" y1="0.616" x2="0.788" y2="-0.616"><stop offset="0" stop-color="#283420"/><stop offset="0.25" stop-color="#2e4026"/><stop offset="0.5" stop-color="#354b2b"/><stop offset="0.75" stop-color="#3d5733"/><stop offset="1.0" stop-color="#7cb475"/></linearGradient><linearGradient id="s426" gradientUnits="userSpaceOnUse" x1="-0.788" y1="0.616" x2="0.788" y2="-0.616"><stop offset="0" stop-color="#2b3621"/><stop offset="0.25" stop-color="#324127"/><stop offset="0.5" stop-color="#384d2c"/><stop offset="0.75" stop-color="#415935"/><stop offset="1.0" stop-color="#85b779"/></linearGradient><linearGradient id="s427" gradientUnits="userSpaceOnUse" x1="-0.788" y1="0.616" x2="0.788" y2="-0.616"><stop offset="0" stop-color="#2f3823"/><stop offset="0.25" stop-color="#354328"/><stop offset="0.5" stop-color="#3c4e2d"/><stop offset="0.75" stop-color="#455b36"/><stop offset="1.0" stop-color="#8fba7c"/></linearGradient><linearGradient id="s428" gradientUnits="userSpaceOnUse" x1="-0.788" y1="0.616" x2="0.788" y2="-0.616"><stop offset="0" stop-color="#323924"/><stop offset="0.25" stop-color="#394529"/><stop offset="0.5" stop-color="#40502e"/><stop offset="0.75" stop-color="#4a5d37"/><stop offset="1.0" stop-color="#98bd80"/></linearGradient><linearGradient id="s429" gradientUnits="userSpaceOnUse" x1="-0.788" y1="0.616" x2="0.788" y2="-0.616"><stop offset="0" stop-color="#353b25"/><stop offset="0.25" stop-color="#3c462a"/><stop offset="0.5" stop-color="#43522f"/><stop offset="0.75" stop-color="#4e5e39"/><stop offset="1.0" stop-color="#a1c083"/></linearGradient><linearGradient id="s430" gradientUnits="userSpaceOnUse" x1="-0.788" y1="0.616" x2="0.788" y2="-0.616"><stop offset="0" stop-color="#393c27"/><stop offset="0.25" stop-color="#40482c"/><stop offset="0.5" stop-color="#475330"/><stop offset="0.75" stop-color="#52603a"/><stop offset="1.0" stop-color="#abc387"/></linearGradient><linearGradient id="s431" gradientUnits="userSpaceOnUse" x1="-0.788" y1="0.616" x2="0.788" y2="-0.616"><stop offset="0" stop-color="#3c3e28"/><stop offset="0.25" stop-color="#43492d"/><stop offset="0.5" stop-color="#4a5532"/><stop offset="0.75" stop-color="#56623b"/><stop offset="1.0" stop-color="#b4c68a"/></linearGradient><linearGradient id="s432" gradientUnits="userSpaceOnUse" x1="-0.788" y1="0.616" x2="0.788" y2="-0.616"><stop offset="0" stop-color="#3d3d28"/><stop offset="0.25" stop-color="#45492d"/><stop offset="0.5" stop-color="#4d5432"/><stop offset="0.75" stop-color="#59613b"/><stop offset="1.0" stop-color="#b8c68a"/></linearGradient><linearGradient id="s433" gradientUnits="userSpaceOnUse" x1="-0.788" y1="0.616" x2="0.788" y2="-0.616"><stop offset="0" stop-color="#3e3d28"/><stop offset="0.25" stop-color="#47482d"/><stop offset="0.5" stop-color="#4f5332"/><stop offset="0.75" stop-color="#5c603b"/><stop offset="1.0" stop-color="#bcc68a"/></linearGradient><linearGradient id="s434" gradientUnits="userSpaceOnUse" x1="-0.788" y1="0.616" x2="0.788" y2="-0.616"><stop offset="0" stop-color="#3e3c28"/><stop offset="0.25" stop-color="#48472d"/><stop offset="0.5" stop-color="#525232"/><stop offset="0.75" stop-color="#5f603b"/><stop offset="1.0" stop-color="#c0c68a"/></linearGradient><linearGradient id="s435" gradientUnits="userSpaceOnUse" x1="-0.788" y1="0.616" x2="0.788" y2="-0.616"><stop offset="0" stop-color="#3f3c28"/><stop offset="0.25" stop-color="#4a472d"/><stop offset="0.5" stop-color="#555232"/><stop offset="0.75" stop-color="#615f3b"/><stop offset="1.0" stop-color="#c5c68a"/></linearGradient><linearGradient id="s436" gradientUnits="userSpaceOnUse" x1="-0.788" y1="0.616" x2="0.788" y2="-0.616"><stop offset="0" stop-color="#403b28"/><stop offset="0.25" stop-color="#4c462d"/><stop offset="0.5" stop-color="#575132"/><stop offset="0.75" stop-color="#645e3b"/><stop offset="1.0" stop-color="#c9c68a"/></linearGradient><linearGradient id="s437" gradientUnits="userSpaceOnUse" x1="-0.788" y1="0.616" x2="0.788" y2="-0.616"><stop offset="0" stop-color="#413a28"/><stop offset="0.25" stop-color="#4d452d"/><stop offset="0.5" stop-color="#5a5032"/><stop offset="0.75" stop-color="#675e3b"/><stop offset="1.0" stop-color="#cdc68a"/></linearGradient><linearGradient id="s438" gradientUnits="userSpaceOnUse" x1="-0.788" y1="0.616" x2="0.788" y2="-0.616"><stop offset="0" stop-color="#423a28"/><stop offset="0.25" stop-color="#4f452d"/><stop offset="0.5" stop-color="#5c4f32"/><stop offset="0.75" stop-color="#695c3b"/><stop offset="1.0" stop-color="#ccc084"/></linearGradient><linearGradient id="s439" gradientUnits="userSpaceOnUse" x1="-0.788" y1="0.616" x2="0.788" y2="-0.616"><stop offset="0" stop-color="#423928"/><stop offset="0.25" stop-color="#50432d"/><stop offset="0.5" stop-color="#5e4e31"/><stop offset="0.75" stop-color="#6b5a3a"/><stop offset="1.0" stop-color="#cbba7e"/></linearGradient><linearGradient id="s440" gradientUnits="userSpaceOnUse" x1="-0.788" y1="0.616" x2="0.788" y2="-0.616"><stop offset="0" stop-color="#433928"/><stop offset="0.25" stop-color="#51422c"/><stop offset="0.5" stop-color="#5f4b30"/><stop offset="0.75" stop-color="#6b5738"/><stop offset="1.0" stop-color="#cbb478"/></linearGradient><linearGradient id="s441" gradientUnits="userSpaceOnUse" x1="-0.788" y1="0.616" x2="0.788" y2="-0.616"><stop offset="0" stop-color="#443828"/><stop offset="0.25" stop-color="#52412b"/><stop offset="0.5" stop-color="#5f492f"/><stop offset="0.75" stop-color="#6c5536"/><stop offset="1.0" stop-color="#caaf73"/></linearGradient><linearGradient id="s442" gradientUnits="userSpaceOnUse" x1="-0.788" y1="0.616" x2="0.788" y2="-0.616"><stop offset="0" stop-color="#433627"/><stop offset="0.25" stop-color="#523e2a"/><stop offset="0.5" stop-color="#60472e"/><stop offset="0.75" stop-color="#6c5235"/><stop offset="1.0" stop-color="#c9a96d"/></linearGradient><linearGradient id="s443" gradientUnits="userSpaceOnUse" x1="-0.788" y1="0.616" x2="0.788" y2="-0.616"><stop offset="0" stop-color="#433425"/><stop offset="0.25" stop-color="#523c29"/><stop offset="0.5" stop-color="#61442d"/><stop offset="0.75" stop-color="#6d4f33"/><stop offset="1.0" stop-color="#c8a367"/></linearGradient><linearGradient id="s444" gradientUnits="userSpaceOnUse" x1="-0.788" y1="0.616" x2="0.788" y2="-0.616"><stop offset="0" stop-color="#423124"/><stop offset="0.25" stop-color="#523a28"/><stop offset="0.5" stop-color="#61422c"/><stop offset="0.75" stop-color="#6d4c32"/><stop offset="1.0" stop-color="#c79c62"/></linearGradient><linearGradient id="s445" gradientUnits="userSpaceOnUse" x1="-0.788" y1="0.616" x2="0.788" y2="-0.616"><stop offset="0" stop-color="#422f22"/><stop offset="0.25" stop-color="#523727"/><stop offset="0.5" stop-color="#62402b"/><stop offset="0.75" stop-color="#6e4930"/><stop offset="1.0" stop-color="#c6945d"/></linearGradient><linearGradient id="s446" gradientUnits="userSpaceOnUse" x1="-0.788" y1="0.616" x2="0.788" y2="-0.616"><stop offset="0" stop-color="#412d21"/><stop offset="0.25" stop-color="#523525"/><stop offset="0.5" stop-color="#623d2a"/><stop offset="0.75" stop-color="#6e462f"/><stop offset="1.0" stop-color="#c58b58"/></linearGradient><linearGradient id="s447" gradientUnits="userSpaceOnUse" x1="-0.788" y1="0.616" x2="0.788" y2="-0.616"><stop offset="0" stop-color="#402b20"/><stop offset="0.25" stop-color="#513324"/><stop offset="0.5" stop-color="#623a28"/><stop offset="0.75" stop-color="#6e432d"/><stop offset="1.0" stop-color="#c48354"/></linearGradient><linearGradient id="s448" gradientUnits="userSpaceOnUse" x1="-0.788" y1="0.616" x2="0.788" y2="-0.616"><stop offset="0" stop-color="#40291e"/><stop offset="0.25" stop-color="#503022"/><stop offset="0.5" stop-color="#613726"/><stop offset="0.75" stop-color="#6d3f2b"/><stop offset="1.0" stop-color="#c37b4f"/></linearGradient><linearGradient id="s449" gradientUnits="userSpaceOnUse" x1="-0.788" y1="0.616" x2="0.788" y2="-0.616"><stop offset="0" stop-color="#3f261d"/><stop offset="0.25" stop-color="#502d21"/><stop offset="0.5" stop-color="#603425"/><stop offset="0.75" stop-color="#6c3c29"/><stop offset="1.0" stop-color="#c2734a"/></linearGradient><linearGradient id="s450" gradientUnits="userSpaceOnUse" x1="-0.788" y1="0.616" x2="0.788" y2="-0.616"><stop offset="0" stop-color="#3f241b"/><stop offset="0.25" stop-color="#4f2b1f"/><stop offset="0.5" stop-color="#603223"/><stop offset="0.75" stop-color="#6b3827"/><stop offset="1.0" stop-color="#c06a45"/></linearGradient><linearGradient id="s451" gradientUnits="userSpaceOnUse" x1="-0.788" y1="0.616" x2="0.788" y2="-0.616"><stop offset="0" stop-color="#3e221a"/><stop offset="0.25" stop-color="#4f281e"/><stop offset="0.5" stop-color="#5f2f22"/><stop offset="0.75" stop-color="#6b3525"/><stop offset="1.0" stop-color="#bf6241"/></linearGradient><linearGradient id="s452" gradientUnits="userSpaceOnUse" x1="-0.788" y1="0.616" x2="0.788" y2="-0.616"><stop offset="0" stop-color="#3d2119"/><stop offset="0.25" stop-color="#4e261d"/><stop offset="0.5" stop-color="#5e2c20"/><stop offset="0.75" stop-color="#6a3123"/><stop offset="1.0" stop-color="#be5a3c"/></linearGradient><linearGradient id="s453" gradientUnits="userSpaceOnUse" x1="-0.788" y1="0.616" x2="0.788" y2="-0.616"><stop offset="0" stop-color="#3c1f18"/><stop offset="0.25" stop-color="#4d241b"/><stop offset="0.5" stop-color="#5e291e"/><stop offset="0.75" stop-color="#692e22"/><stop offset="1.0" stop-color="#bc5439"/></linearGradient><linearGradient id="s454" gradientUnits="userSpaceOnUse" x1="-0.788" y1="0.616" x2="0.788" y2="-0.616"><stop offset="0" stop-color="#3c1e17"/><stop offset="0.25" stop-color="#4c221a"/><stop offset="0.5" stop-color="#5d261d"/><stop offset="0.75" stop-color="#682b20"/><stop offset="1.0" stop-color="#ba4f36"/></linearGradient><linearGradient id="s455" gradientUnits="userSpaceOnUse" x1="-0.788" y1="0.616" x2="0.788" y2="-0.616"><stop offset="0" stop-color="#3b1c16"/><stop offset="0.25" stop-color="#4b2019"/><stop offset="0.5" stop-color="#5b241c"/><stop offset="0.75" stop-color="#67281f"/><stop offset="1.0" stop-color="#b74934"/></linearGradient><linearGradient id="s456" gradientUnits="userSpaceOnUse" x1="-0.788" y1="0.616" x2="0.788" y2="-0.616"><stop offset="0" stop-color="#3a1b15"/><stop offset="0.25" stop-color="#4a1e18"/><stop offset="0.5" stop-color="#5a221a"/><stop offset="0.75" stop-color="#65261d"/><stop offset="1.0" stop-color="#b54431"/></linearGradient><linearGradient id="s457" gradientUnits="userSpaceOnUse" x1="-0.788" y1="0.616" x2="0.788" y2="-0.616"><stop offset="0" stop-color="#391914"/><stop offset="0.25" stop-color="#491c17"/><stop offset="0.5" stop-color="#591f19"/><stop offset="0.75" stop-color="#64231c"/><stop offset="1.0" stop-color="#b33e2e"/></linearGradient><linearGradient id="s458" gradientUnits="userSpaceOnUse" x1="-0.788" y1="0.616" x2="0.788" y2="-0.616"><stop offset="0" stop-color="#381813"/><stop offset="0.25" stop-color="#481a16"/><stop offset="0.5" stop-color="#571d18"/><stop offset="0.75" stop-color="#62201a"/><stop offset="1.0" stop-color="#b1392b"/></linearGradient><linearGradient id="s459" gradientUnits="userSpaceOnUse" x1="-0.788" y1="0.616" x2="0.788" y2="-0.616"><stop offset="0" stop-color="#381613"/><stop offset="0.25" stop-color="#471815"/><stop offset="0.5" stop-color="#561b16"/><stop offset="0.75" stop-color="#611d19"/><stop offset="1.0" stop-color="#ae3329"/></linearGradient><linearGradient id="s460" gradientUnits="userSpaceOnUse" x1="-0.788" y1="0.616" x2="0.788" y2="-0.616"><stop offset="0" stop-color="#371512"/><stop offset="0.25" stop-color="#461713"/><stop offset="0.5" stop-color="#551815"/><stop offset="0.75" stop-color="#5f1b17"/><stop offset="1.0" stop-color="#ac2e26"/></linearGradient><linearGradient id="s461" gradientUnits="userSpaceOnUse" x1="-0.788" y1="0.616" x2="0.788" y2="-0.616"><stop offset="0" stop-color="#361311"/><stop offset="0.25" stop-color="#451512"/><stop offset="0.5" stop-color="#541614"/><stop offset="0.75" stop-color="#5e1816"/><stop offset="1.0" stop-color="#aa2823"/></linearGradient><linearGradient id="s462" gradientUnits="userSpaceOnUse" x1="-0.788" y1="0.616" x2="0.788" y2="-0.616"><stop offset="0" stop-color="#351210"/><stop offset="0.25" stop-color="#431311"/><stop offset="0.5" stop-color="#511412"/><stop offset="0.75" stop-color="#5b1614"/><stop offset="1.0" stop-color="#a62521"/></linearGradient><linearGradient id="s463" gradientUnits="userSpaceOnUse" x1="-0.788" y1="0.616" x2="0.788" y2="-0.616"><stop offset="0" stop-color="#34100f"/><stop offset="0.25" stop-color="#411110"/><stop offset="0.5" stop-color="#4e1211"/><stop offset="0.75" stop-color="#581412"/><stop offset="1.0" stop-color="#a2221f"/></linearGradient><linearGradient id="s464" gradientUnits="userSpaceOnUse" x1="-0.788" y1="0.616" x2="0.788" y2="-0.616"><stop offset="0" stop-color="#340f0e"/><stop offset="0.25" stop-color="#3f0f0f"/><stop offset="0.5" stop-color="#4b100f"/><stop offset="0.75" stop-color="#551211"/><stop offset="1.0" stop-color="#9e1f1d"/></linearGradient><linearGradient id="s465" gradientUnits="userSpaceOnUse" x1="-0.788" y1="0.616" x2="0.788" y2="-0.616"><stop offset="0" stop-color="#330d0d"/><stop offset="0.25" stop-color="#3d0e0d"/><stop offset="0.5" stop-color="#480e0e"/><stop offset="0.75" stop-color="#520f0f"/><stop offset="1.0" stop-color="#9a1c1b"/></linearGradient></defs><rect width="1772" height="1336" fill="#ffffff"/><line x1="197.5" y1="196.8" x2="197.5" y2="103.1" stroke="#dcdcdc" stroke-width="1" />
<line x1="282.4" y1="168.2" x2="282.4" y2="74.5" stroke="#dcdcdc" stroke-width="1" />
<line x1="367.4" y1="139.7" x2="367.4" y2="46" stroke="#dcdcdc" stroke-width="1" />
<line x1="648.1" y1="223.2" x2="648.1" y2="129.5" stroke="#dcdcdc" stroke-width="1" />
<line x1="582.8" y1="185.8" x2="582.8" y2="92.1" stroke="#dcdcdc" stroke-width="1" />
<line x1="517.6" y1="148.5" x2="517.6" y2="54.8" stroke="#dcdcdc" stroke-width="1" />
<line x1="112.5" y1="178.5" x2="452.4" y2="64.3" stroke="#dcdcdc" stroke-width="1" />
<line x1="452.4" y1="64.3" x2="713.3" y2="213.7" stroke="#dcdcdc" stroke-width="1" />
<line x1="112.5" y1="225.3" x2="112.5" y2="131.6" stroke="#262626" stroke-width="1.1" />
<line x1="112.5" y1="131.6" x2="452.4" y2="17.4" stroke="#262626" stroke-width="1.1" />
<line x1="452.4" y1="17.4" x2="713.3" y2="166.8" stroke="#262626" stroke-width="1.1" />
<line x1="452.4" y1="111.1" x2="452.4" y2="17.4" stroke="#262626" stroke-width="1.1" />
<line x1="713.3" y1="260.5" x2="713.3" y2="166.8" stroke="#262626" stroke-width="1.1" />
<polygon points="112.5,225.3 452.4,111.1 713.3,260.5 373.4,374.7" fill="#03703c"/>
<line x1="112.5" y1="225.3" x2="373.4" y2="374.7" stroke="#12261a" stroke-width="1.1" />
<line x1="373.4" y1="374.7" x2="713.3" y2="260.5" stroke="#12261a" stroke-width="1.1" />
<polygon points="412.9,150.1 295.5,175.7 282.4,168.2 282.4,166 295.5,173.4 412.9,150.1" fill="url(#v2)"/>
<polygon points="412.9,150.1 295.5,174.5 282.4,167.1 282.4,164.8 295.5,172.3 412.9,150.1" fill="url(#v3)"/>
<polygon points="412.9,150.1 295.5,173.4 282.4,166 282.4,163.7 295.5,171.2 412.9,150.1" fill="url(#v4)"/>
<polygon points="412.9,150.1 295.5,172.3 282.4,164.8 282.4,162.6 295.5,170 412.9,150.1" fill="url(#v5)"/>
<polygon points="412.9,150.1 295.5,171.2 282.4,163.7 282.4,161.2 295.5,168.6 412.9,150.1" fill="url(#v6)"/>
<polygon points="412.9,150.1 295.5,170 282.4,162.6 282.4,159.8 295.5,167.2 412.9,150.1" fill="url(#v7)"/>
<polygon points="412.9,150.1 295.5,168.6 282.4,161.2 282.4,158.4 295.5,165.8 412.9,150" fill="url(#v8)"/>
<polygon points="412.9,150.1 295.5,167.2 282.4,159.8 282.4,157 295.5,164.4 412.9,150" fill="url(#v9)"/>
<polygon points="412.9,150 295.5,165.8 282.4,158.4 282.4,154.1 295.5,161.6 412.9,150" fill="url(#v10)"/>
<polygon points="412.9,150 295.5,164.4 282.4,157 282.4,151.3 295.5,158.8 412.9,150" fill="url(#v11)"/>
<polygon points="412.9,150 295.5,161.6 282.4,154.1 282.4,148.5 295.5,156 412.9,149.9" fill="url(#v12)"/>
<polygon points="412.9,150 295.5,158.8 282.4,151.3 282.4,145.2 295.5,152.7 412.9,149.9" fill="url(#v13)"/>
<polygon points="412.9,149.9 295.5,156 282.4,148.5 282.4,142 295.5,149.4 412.9,149.9" fill="url(#v14)"/>
<polygon points="412.9,149.9 295.5,152.7 282.4,145.2 282.4,138.7 295.5,146.2 412.9,149.8" fill="url(#v15)"/>
<polygon points="412.9,149.9 295.5,149.4 282.4,142 282.4,135.4 295.5,142.9 412.9,149.8" fill="url(#v16)"/>
<polygon points="412.9,149.8 295.5,146.2 282.4,138.7 282.4,131.7 295.5,139.1 412.9,149.8" fill="url(#v17)"/>
<polygon points="412.9,149.8 295.5,142.9 282.4,135.4 282.4,127.4 295.5,134.9 412.9,149.7" fill="url(#v18)"/>
<polygon points="412.9,149.8 295.5,139.1 282.4,131.7 282.4,122.8 295.5,130.2 412.9,149.7" fill="url(#v19)"/>
<polygon points="412.9,149.7 295.5,134.9 282.4,127.4 282.4,117.6 295.5,125.1 412.9,149.6" fill="url(#v20)"/>
<polygon points="412.9,149.7 295.5,130.2 282.4,122.8 282.4,112 295.5,119.5 412.9,149.6" fill="url(#v21)"/>
<polygon points="412.9,149.6 295.5,125.1 282.4,117.6 282.4,105.4 295.5,112.9 412.9,149.5" fill="url(#v22)"/>
<polygon points="412.9,149.6 295.5,119.5 282.4,112 282.4,97.9 295.5,105.4 412.9,149.4" fill="url(#v23)"/>
<polygon points="412.9,149.5 295.5,112.9 282.4,105.4 282.4,89.5 295.5,97 412.9,149.3" fill="url(#v24)"/>
<polygon points="412.9,149.4 295.5,105.4 282.4,97.9 282.4,82 295.5,89.5 412.9,149.3" fill="url(#v25)"/>
<polygon points="412.9,149.3 295.5,97 282.4,89.5 282.4,74.5 295.5,82 412.9,149.2" fill="url(#v26)"/>
<polygon points="412.9,149.3 295.5,89.5 282.4,82 282.4,74.5 295.5,82 412.9,149.2" fill="url(#v27)"/>
<polygon points="412.9,150.1 565.9,191.5 582.8,185.8 582.8,183.6 565.9,189.3 412.9,150.1" fill="url(#v54)"/>
<polygon points="412.9,150.1 565.9,190.4 582.8,184.7 582.8,182.4 565.9,188.1 412.9,150.1" fill="url(#v55)"/>
<polygon points="412.9,150.1 565.9,189.3 582.8,183.6 582.8,181.3 565.9,187 412.9,150.1" fill="url(#v56)"/>
<polygon points="412.9,150.1 565.9,188.1 582.8,182.4 582.8,180.2 565.9,185.9 412.9,150.1" fill="url(#v57)"/>
<polygon points="412.9,150.1 565.9,187 582.8,181.3 582.8,178.8 565.9,184.5 412.9,150.1" fill="url(#v58)"/>
<polygon points="412.9,150.1 565.9,185.9 582.8,180.2 582.8,177.4 565.9,183.1 412.9,150.1" fill="url(#v59)"/>
<polygon points="412.9,150.1 565.9,184.5 582.8,178.8 582.8,176 565.9,181.7 412.9,150" fill="url(#v60)"/>
<polygon points="412.9,150.1 565.9,183.1 582.8,177.4 582.8,174.6 565.9,180.3 412.9,150" fill="url(#v61)"/>
<polygon points="412.9,150 565.9,181.7 582.8,176 582.8,171.7 565.9,177.5 412.9,150" fill="url(#v62)"/>
<polygon points="412.9,150 565.9,180.3 582.8,174.6 582.8,168.9 565.9,174.6 412.9,150" fill="url(#v63)"/>
<polygon points="412.9,150 565.9,177.5 582.8,171.7 582.8,166.1 565.9,171.8 412.9,149.9" fill="url(#v64)"/>
<polygon points="412.9,150 565.9,174.6 582.8,168.9 582.8,162.8 565.9,168.6 412.9,149.9" fill="url(#v65)"/>
<polygon points="412.9,149.9 565.9,171.8 582.8,166.1 582.8,159.6 565.9,165.3 412.9,149.9" fill="url(#v66)"/>
<polygon points="412.9,149.9 565.9,168.6 582.8,162.8 582.8,156.3 565.9,162 412.9,149.8" fill="url(#v67)"/>
<polygon points="412.9,149.9 565.9,165.3 582.8,159.6 582.8,153 565.9,158.7 412.9,149.8" fill="url(#v68)"/>
<polygon points="412.9,149.8 565.9,162 582.8,156.3 582.8,149.3 565.9,155 412.9,149.8" fill="url(#v69)"/>
<polygon points="412.9,149.8 565.9,158.7 582.8,153 582.8,145 565.9,150.8 412.9,149.7" fill="url(#v70)"/>
<polygon points="412.9,149.8 565.9,155 582.8,149.3 582.8,140.4 565.9,146.1 412.9,149.7" fill="url(#v71)"/>
<polygon points="412.9,149.7 565.9,150.8 582.8,145 582.8,135.2 565.9,140.9 412.9,149.6" fill="url(#v72)"/>
<polygon points="412.9,149.7 565.9,146.1 582.8,140.4 582.8,129.6 565.9,135.3 412.9,149.6" fill="url(#v73)"/>
<polygon points="412.9,149.6 565.9,140.9 582.8,135.2 582.8,123 565.9,128.7 412.9,149.5" fill="url(#v74)"/>
<polygon points="412.9,149.6 565.9,135.3 582.8,129.6 582.8,115.5 565.9,121.2 412.9,149.4" fill="url(#v75)"/>
<polygon points="412.9,149.5 565.9,128.7 582.8,123 582.8,107.1 565.9,112.8 412.9,149.3" fill="url(#v76)"/>
<polygon points="412.9,149.4 565.9,121.2 582.8,115.5 582.8,99.6 565.9,105.3 412.9,149.3" fill="url(#v77)"/>
<polygon points="412.9,149.3 565.9,112.8 582.8,107.1 582.8,92.1 565.9,97.8 412.9,149.2" fill="url(#v78)"/>
<polygon points="412.9,149.3 565.9,105.3 582.8,99.6 582.8,92.1 565.9,97.8 412.9,149.2" fill="url(#v79)"/>
<circle r="1" fill="#03703c" transform="matrix(152.9550,-51.3900,-117.4050,-67.2300,412.90,242.90)"/>
<circle r="1" fill="#07763e" transform="matrix(150.7699,-50.6559,-115.7278,-66.2696,412.90,241.57)"/>
<circle r="1" fill="#0b7d40" transform="matrix(148.5849,-49.9217,-114.0506,-65.3091,412.90,240.25)"/>
<circle r="1" fill="#108342" transform="matrix(146.3998,-49.1876,-112.3734,-64.3487,412.90,238.92)"/>
<circle r="1" fill="#158944" transform="matrix(144.2147,-48.4534,-110.6961,-63.3883,412.90,237.60)"/>
<circle r="1" fill="#1a8e47" transform="matrix(142.0296,-47.7193,-109.0189,-62.4279,412.90,236.27)"/>
<circle r="1" fill="#209349" transform="matrix(139.8446,-46.9851,-107.3417,-61.4674,412.90,234.95)"/>
<circle r="1" fill="#25984b" transform="matrix(137.6595,-46.2510,-105.6645,-60.5070,412.90,233.62)"/>
<circle r="1" fill="#2b9d4e" transform="matrix(135.4744,-45.5169,-103.9873,-59.5466,412.90,232.30)"/>
<circle r="1" fill="#30a250" transform="matrix(133.2894,-44.7827,-102.3101,-58.5861,412.90,230.97)"/>
<circle r="1" fill="#39a853" transform="matrix(131.1043,-44.0486,-100.6329,-57.6257,412.90,229.65)"/>
<circle r="1" fill="#41ad56" transform="matrix(128.9192,-43.3144,-98.9556,-56.6653,412.90,228.32)"/>
<circle r="1" fill="#4ab359" transform="matrix(126.7341,-42.5803,-97.2784,-55.7049,412.90,227.00)"/>
<circle r="1" fill="#52b95c" transform="matrix(124.5491,-41.8461,-95.6012,-54.7444,412.90,225.67)"/>
<circle r="1" fill="#5bbe5f" transform="matrix(122.3640,-41.1120,-93.9240,-53.7840,412.90,224.35)"/>
<circle r="1" fill="#64c462" transform="matrix(120.1789,-40.3779,-92.2468,-52.8236,412.90,223.02)"/>
<circle r="1" fill="#70ca66" transform="matrix(117.9939,-39.6437,-90.5696,-51.8631,412.90,221.70)"/>
<circle r="1" fill="#7ccf69" transform="matrix(115.8088,-38.9096,-88.8924,-50.9027,412.90,220.37)"/>
<circle r="1" fill="#88d56c" transform="matrix(113.6237,-38.1754,-87.2151,-49.9423,412.90,219.05)"/>
<circle r="1" fill="#94da6f" transform="matrix(111.4386,-37.4413,-85.5379,-48.9819,412.90,217.72)"/>
<circle r="1" fill="#9fe072" transform="matrix(109.2536,-36.7071,-83.8607,-48.0214,412.90,216.40)"/>
<circle r="1" fill="#aae576" transform="matrix(107.0685,-35.9730,-82.1835,-47.0610,412.90,215.07)"/>
<circle r="1" fill="#b3e77b" transform="matrix(104.8834,-35.2389,-80.5063,-46.1006,412.90,213.75)"/>
<circle r="1" fill="#bce981" transform="matrix(102.6984,-34.5047,-78.8291,-45.1401,412.90,212.42)"/>
<circle r="1" fill="#c5ec87" transform="matrix(100.5133,-33.7706,-77.1519,-44.1797,412.90,211.10)"/>
<circle r="1" fill="#ceee8d" transform="matrix(98.3282,-33.0364,-75.4746,-43.2193,412.90,209.77)"/>
<circle r="1" fill="#d7f193" transform="matrix(96.1431,-32.3023,-73.7974,-42.2589,412.90,208.45)"/>
<circle r="1" fill="#def298" transform="matrix(93.9581,-31.5681,-72.1202,-41.2984,412.90,207.12)"/>
<circle r="1" fill="#e1f39c" transform="matrix(91.7730,-30.8340,-70.4430,-40.3380,412.90,205.79)"/>
<circle r="1" fill="#e5f4a0" transform="matrix(89.5879,-30.0999,-68.7658,-39.3776,412.90,204.47)"/>
<circle r="1" fill="#e9f5a4" transform="matrix(87.4029,-29.3657,-67.0886,-38.4171,412.90,203.14)"/>
<circle r="1" fill="#edf6a8" transform="matrix(85.2178,-28.6316,-65.4114,-37.4567,412.90,201.82)"/>
<circle r="1" fill="#f0f6ac" transform="matrix(83.0327,-27.8974,-63.7341,-36.4963,412.90,200.49)"/>
<circle r="1" fill="#f4f7b0" transform="matrix(80.8476,-27.1633,-62.0569,-35.5359,412.90,199.17)"/>
<circle r="1" fill="#f8f8b4" transform="matrix(78.6626,-26.4291,-60.3797,-34.5754,412.90,197.84)"/>
<circle r="1" fill="#fcf9b9" transform="matrix(76.4775,-25.6950,-58.7025,-33.6150,412.90,196.52)"/>
<circle r="1" fill="#fdf5b5" transform="matrix(74.2924,-24.9609,-57.0253,-32.6546,412.90,195.19)"/>
<circle r="1" fill="#fcf0ac" transform="matrix(72.1074,-24.2267,-55.3481,-31.6941,412.90,193.87)"/>
<circle r="1" fill="#fceaa4" transform="matrix(69.9223,-23.4926,-53.6709,-30.7337,412.90,192.54)"/>
<circle r="1" fill="#fce59b" transform="matrix(67.7372,-22.7584,-51.9936,-29.7733,412.90,191.22)"/>
<circle r="1" fill="#fbdf93" transform="matrix(65.5521,-22.0243,-50.3164,-28.8129,412.90,189.89)"/>
<circle r="1" fill="#fbda8b" transform="matrix(63.3671,-21.2901,-48.6392,-27.8524,412.90,188.57)"/>
<circle r="1" fill="#fad181" transform="matrix(61.1820,-20.5560,-46.9620,-26.8920,412.90,187.24)"/>
<circle r="1" fill="#f9c878" transform="matrix(58.9969,-19.8219,-45.2848,-25.9316,412.90,185.92)"/>
<circle r="1" fill="#f8be6e" transform="matrix(56.8119,-19.0877,-43.6076,-24.9711,412.90,184.59)"/>
<circle r="1" fill="#f7b565" transform="matrix(54.6268,-18.3536,-41.9304,-24.0107,412.90,183.27)"/>
<circle r="1" fill="#f5ab5b" transform="matrix(52.4417,-17.6194,-40.2531,-23.0503,412.90,181.94)"/>
<circle r="1" fill="#f4a252" transform="matrix(50.2566,-16.8853,-38.5759,-22.0899,412.90,180.62)"/>
<circle r="1" fill="#f39a4f" transform="matrix(48.0716,-16.1511,-36.8987,-21.1294,412.90,179.29)"/>
<circle r="1" fill="#f2934d" transform="matrix(45.8865,-15.4170,-35.2215,-20.1690,412.90,177.97)"/>
<circle r="1" fill="#f08c4b" transform="matrix(43.7014,-14.6829,-33.5443,-19.2086,412.90,176.64)"/>
<circle r="1" fill="#ef8449" transform="matrix(41.5164,-13.9487,-31.8671,-18.2481,412.90,175.32)"/>
<circle r="1" fill="#ed7d47" transform="matrix(39.3313,-13.2146,-30.1899,-17.2877,412.90,173.99)"/>
<circle r="1" fill="#ec7645" transform="matrix(37.1462,-12.4804,-28.5126,-16.3273,412.90,172.67)"/>
<circle r="1" fill="#eb6f44" transform="matrix(34.9611,-11.7463,-26.8354,-15.3669,412.90,171.34)"/>
<circle r="1" fill="#e96742" transform="matrix(32.7761,-11.0121,-25.1582,-14.4064,412.90,170.01)"/>
<circle r="1" fill="#e86040" transform="matrix(30.5910,-10.2780,-23.4810,-13.4460,412.90,168.69)"/>
<circle r="1" fill="#e65b3f" transform="matrix(28.4059,-9.5439,-21.8038,-12.4856,412.90,167.36)"/>
<circle r="1" fill="#e4563f" transform="matrix(26.2209,-8.8097,-20.1266,-11.5251,412.90,166.04)"/>
<circle r="1" fill="#e2523e" transform="matrix(24.0358,-8.0756,-18.4494,-10.5647,412.90,164.71)"/>
<circle r="1" fill="#e04d3d" transform="matrix(21.8507,-7.3414,-16.7721,-9.6043,412.90,163.39)"/>
<circle r="1" fill="#de483d" transform="matrix(19.6656,-6.6073,-15.0949,-8.6439,412.90,162.06)"/>
<circle r="1" fill="#dc433c" transform="matrix(17.4806,-5.8731,-13.4177,-7.6834,412.90,160.74)"/>
<circle r="1" fill="#da3e3b" transform="matrix(15.2955,-5.1390,-11.7405,-6.7230,412.90,159.41)"/>
<circle r="1" fill="#d83a3b" transform="matrix(13.1104,-4.4049,-10.0633,-5.7626,412.90,158.09)"/>
<circle r="1" fill="#d6353a" transform="matrix(10.9254,-3.6707,-8.3861,-4.8021,412.90,156.76)"/>
<circle r="1" fill="#d33039" transform="matrix(8.7403,-2.9366,-6.7089,-3.8417,412.90,155.44)"/>
<circle r="1" fill="#d12b38" transform="matrix(6.5552,-2.2024,-5.0316,-2.8813,412.90,154.11)"/>
<circle r="1" fill="#cf2737" transform="matrix(4.3701,-1.4683,-3.3544,-1.9209,412.90,152.79)"/>
<circle r="1" fill="#cb2235" transform="matrix(2.1851,-0.7341,-1.6772,-0.9604,412.90,151.46)"/>
<path d="M219.3,239 L219.2,240.6 L219.1,242.2 L219.1,243.7 L219.2,245.3 L219.3,246.9 L219.6,248.4 L219.8,250 L220.2,251.6 L220.6,253.1 L221,254.7 L221.6,256.2 L222.2,257.8 L222.8,259.3 L223.6,260.8 L224.3,262.4 L225.2,263.9 L226.1,265.4 L227.1,266.9 L228.2,268.4 L229.3,269.9 L230.4,271.4 L231.7,272.8 L233,274.3 L234.3,275.8 L235.7,277.2 L237.2,278.6 L238.7,280 L240.3,281.4 L242,282.8 L243.7,284.2 L245.5,285.6 L247.3,286.9 L249.2,288.3 L251.1,289.6 L253.1,290.9 L255.2,292.2 L257.3,293.4 L259.4,294.7 L261.6,295.9 L263.9,297.1 L266.2,298.3 L268.5,299.5 L270.9,300.7 L273.4,301.8 L275.9,302.9 L278.4,304 L281,305.1 L283.7,306.2 L286.4,307.2 L289.1,308.2 L291.9,309.2 L294.7,310.2 L297.5,311.1 L300.4,312 L303.3,312.9 L306.3,313.8 L309.3,314.7 L312.3,315.5 L315.4,316.3 L318.5,317.1 L321.6,317.8 L324.8,318.6 L328,319.3 L331.2,319.9 L334.5,320.6 L337.7,321.2 L341,321.8 L344.4,322.4 L347.7,322.9 L351.1,323.4 L354.5,323.9 L357.9,324.4 L361.3,324.8 L364.8,325.2 L368.2,325.6 L371.7,326 L375.2,326.3 L378.7,326.6 L382.2,326.8 L385.8,327.1 L389.3,327.3 L392.9,327.5 L396.4,327.6 L400,327.7 L403.5,327.8 L407.1,327.9 L410.7,327.9 L414.2,327.9 L417.8,327.9 L421.4,327.9 L424.9,327.8 L428.5,327.7 L432.1,327.5 L435.6,327.4 L439.2,327.2 L442.7,327 L446.2,326.7 L449.7,326.4 L453.2,326.1 L456.7,325.8 L460.2,325.4 L463.6,325 L467.1,324.6 L470.5,324.2 L473.9,323.7 L477.3,323.2 L480.6,322.6 L484,322.1 L487.3,321.5 L490.5,320.9 L493.8,320.2 L497,319.6 L500.2,318.9 L503.4,318.2 L506.5,317.4 L509.7,316.7 L512.7,315.9 L515.8,315.1 L518.8,314.2 L521.8,313.4 L524.7,312.5 L527.6,311.6 L530.4,310.6 L533.3,309.7 L536,308.7 L538.8,307.7 L541.5,306.6 L544.1,305.6 L546.7,304.5 L549.3,303.4 L551.8,302.3 L554.3,301.2 L556.7,300 L559,298.9 L561.4,297.7 L563.6,296.5 L565.9,295.3 L568,294 L570.1,292.7 L572.2,291.5 L574.2,290.2 L576.1,288.9 L578,287.5 L579.9,286.2 L581.7,284.8 L583.4,283.5 L585.1,282.1 L586.7,280.7 L588.2,279.3 L589.7,277.9 L591.1,276.4 L592.5,275 L593.8,273.5 L595.1,272.1 L596.3,270.6 L597.4,269.1 L598.4,267.6 L599.4,266.1 L600.4,264.6 L601.2,263.1 L602.1,261.5 L602.8,260 L603.5,258.5 L604.1,256.9 L604.6,255.4 L605.1,253.8 L605.5,252.3 L605.9,250.7 L606.2,249.2 L606.4,247.6 L606.6,246 L606.7,244.5 L606.7,242.9 L606.6,241.3 L606.5,239.8 L606.4,238.2 L606.1,236.6 L605.8,235.1 L605.5,233.5 L605,232" fill="none" stroke="#90f0c0" stroke-width="2" stroke-dasharray="2.2 1.5" opacity="0.9"/>
<polygon points="412.9,150.1 259.9,294.3 242.9,300 242.9,297.8 259.9,292 412.9,150.1" fill="url(#v28)"/>
<polygon points="412.9,150.1 259.9,293.2 242.9,298.9 242.9,296.6 259.9,290.9 412.9,150.1" fill="url(#v29)"/>
<polygon points="412.9,150.1 259.9,292 242.9,297.8 242.9,295.5 259.9,289.8 412.9,150.1" fill="url(#v30)"/>
<polygon points="412.9,150.1 259.9,290.9 242.9,296.6 242.9,294.4 259.9,288.7 412.9,150.1" fill="url(#v31)"/>
<polygon points="412.9,150.1 259.9,289.8 242.9,295.5 242.9,293 259.9,287.3 412.9,150.1" fill="url(#v32)"/>
<polygon points="412.9,150.1 259.9,288.7 242.9,294.4 242.9,291.6 259.9,285.9 412.9,150.1" fill="url(#v33)"/>
<polygon points="412.9,150.1 259.9,287.3 242.9,293 242.9,290.2 259.9,284.5 412.9,150" fill="url(#v34)"/>
<polygon points="412.9,150.1 259.9,285.9 242.9,291.6 242.9,288.8 259.9,283 412.9,150" fill="url(#v35)"/>
<polygon points="412.9,150 259.9,284.5 242.9,290.2 242.9,285.9 259.9,280.2 412.9,150" fill="url(#v36)"/>
<polygon points="412.9,150 259.9,283 242.9,288.8 242.9,283.1 259.9,277.4 412.9,150" fill="url(#v37)"/>
<polygon points="412.9,150 259.9,280.2 242.9,285.9 242.9,280.3 259.9,274.6 412.9,149.9" fill="url(#v38)"/>
<polygon points="412.9,150 259.9,277.4 242.9,283.1 242.9,277 259.9,271.3 412.9,149.9" fill="url(#v39)"/>
<polygon points="412.9,149.9 259.9,274.6 242.9,280.3 242.9,273.8 259.9,268.1 412.9,149.9" fill="url(#v40)"/>
<polygon points="412.9,149.9 259.9,271.3 242.9,277 242.9,270.5 259.9,264.8 412.9,149.8" fill="url(#v41)"/>
<polygon points="412.9,149.9 259.9,268.1 242.9,273.8 242.9,267.2 259.9,261.5 412.9,149.8" fill="url(#v42)"/>
<polygon points="412.9,149.8 259.9,264.8 242.9,270.5 242.9,263.5 259.9,257.7 412.9,149.8" fill="url(#v43)"/>
<polygon points="412.9,149.8 259.9,261.5 242.9,267.2 242.9,259.2 259.9,253.5 412.9,149.7" fill="url(#v44)"/>
<polygon points="412.9,149.8 259.9,257.7 242.9,263.5 242.9,254.6 259.9,248.8 412.9,149.7" fill="url(#v45)"/>
<polygon points="412.9,149.7 259.9,253.5 242.9,259.2 242.9,249.4 259.9,243.7 412.9,149.6" fill="url(#v46)"/>
<polygon points="412.9,149.7 259.9,248.8 242.9,254.6 242.9,243.8 259.9,238.1 412.9,149.6" fill="url(#v47)"/>
<polygon points="412.9,149.6 259.9,243.7 242.9,249.4 242.9,237.2 259.9,231.5 412.9,149.5" fill="url(#v48)"/>
<polygon points="412.9,149.6 259.9,238.1 242.9,243.8 242.9,229.7 259.9,224 412.9,149.4" fill="url(#v49)"/>
<polygon points="412.9,149.5 259.9,231.5 242.9,237.2 242.9,221.3 259.9,215.6 412.9,149.3" fill="url(#v50)"/>
<polygon points="412.9,149.4 259.9,224 242.9,229.7 242.9,213.8 259.9,208.1 412.9,149.3" fill="url(#v51)"/>
<polygon points="412.9,149.3 259.9,215.6 242.9,221.3 242.9,206.3 259.9,200.6 412.9,149.2" fill="url(#v52)"/>
<polygon points="412.9,149.3 259.9,208.1 242.9,213.8 242.9,206.3 259.9,200.6 412.9,149.2" fill="url(#v53)"/>
<polygon points="412.9,150.1 530.3,310.1 543.3,317.6 543.3,315.4 530.3,307.9 412.9,150.1" fill="url(#v80)"/>
<polygon points="412.9,150.1 530.3,309 543.3,316.5 543.3,314.2 530.3,306.8 412.9,150.1" fill="url(#v81)"/>
<polygon points="412.9,150.1 530.3,307.9 543.3,315.4 543.3,313.1 530.3,305.6 412.9,150.1" fill="url(#v82)"/>
<polygon points="412.9,150.1 530.3,306.8 543.3,314.2 543.3,312 530.3,304.5 412.9,150.1" fill="url(#v83)"/>
<polygon points="412.9,150.1 530.3,305.6 543.3,313.1 543.3,310.6 530.3,303.1 412.9,150.1" fill="url(#v84)"/>
<polygon points="412.9,150.1 530.3,304.5 543.3,312 543.3,309.2 530.3,301.7 412.9,150.1" fill="url(#v85)"/>
<polygon points="412.9,150.1 530.3,303.1 543.3,310.6 543.3,307.8 530.3,300.3 412.9,150" fill="url(#v86)"/>
<polygon points="412.9,150.1 530.3,301.7 543.3,309.2 543.3,306.4 530.3,298.9 412.9,150" fill="url(#v87)"/>
<polygon points="412.9,150 530.3,300.3 543.3,307.8 543.3,303.5 530.3,296.1 412.9,150" fill="url(#v88)"/>
<polygon points="412.9,150 530.3,298.9 543.3,306.4 543.3,300.7 530.3,293.3 412.9,150" fill="url(#v89)"/>
<polygon points="412.9,150 530.3,296.1 543.3,303.5 543.3,297.9 530.3,290.5 412.9,149.9" fill="url(#v90)"/>
<polygon points="412.9,150 530.3,293.3 543.3,300.7 543.3,294.6 530.3,287.2 412.9,149.9" fill="url(#v91)"/>
<polygon points="412.9,149.9 530.3,290.5 543.3,297.9 543.3,291.4 530.3,283.9 412.9,149.9" fill="url(#v92)"/>
<polygon points="412.9,149.9 530.3,287.2 543.3,294.6 543.3,288.1 530.3,280.6 412.9,149.8" fill="url(#v93)"/>
<polygon points="412.9,149.9 530.3,283.9 543.3,291.4 543.3,284.8 530.3,277.3 412.9,149.8" fill="url(#v94)"/>
<polygon points="412.9,149.8 530.3,280.6 543.3,288.1 543.3,281.1 530.3,273.6 412.9,149.8" fill="url(#v95)"/>
<polygon points="412.9,149.8 530.3,277.3 543.3,284.8 543.3,276.8 530.3,269.4 412.9,149.7" fill="url(#v96)"/>
<polygon points="412.9,149.8 530.3,273.6 543.3,281.1 543.3,272.2 530.3,264.7 412.9,149.7" fill="url(#v97)"/>
<polygon points="412.9,149.7 530.3,269.4 543.3,276.8 543.3,267 530.3,259.5 412.9,149.6" fill="url(#v98)"/>
<polygon points="412.9,149.7 530.3,264.7 543.3,272.2 543.3,261.4 530.3,253.9 412.9,149.6" fill="url(#v99)"/>
<polygon points="412.9,149.6 530.3,259.5 543.3,267 543.3,254.8 530.3,247.4 412.9,149.5" fill="url(#v100)"/>
<polygon points="412.9,149.6 530.3,253.9 543.3,261.4 543.3,247.3 530.3,239.9 412.9,149.4" fill="url(#v101)"/>
<polygon points="412.9,149.5 530.3,247.4 543.3,254.8 543.3,238.9 530.3,231.4 412.9,149.3" fill="url(#v102)"/>
<polygon points="412.9,149.4 530.3,239.9 543.3,247.3 543.3,231.4 530.3,223.9 412.9,149.3" fill="url(#v103)"/>
<polygon points="412.9,149.3 530.3,231.4 543.3,238.9 543.3,223.9 530.3,216.4 412.9,149.2" fill="url(#v104)"/>
<polygon points="412.9,149.3 530.3,223.9 543.3,231.4 543.3,223.9 530.3,216.4 412.9,149.2" fill="url(#v105)"/>
<line x1="112.5" y1="131.6" x2="108.5" y2="131.6" stroke="#262626" stroke-width="1" />
<text x="105" y="136.2" font-size="16.3" text-anchor="end" font-weight="normal" fill="#262626" >0</text>
<line x1="112.5" y1="178.5" x2="108.5" y2="178.5" stroke="#262626" stroke-width="1" />
<text x="105" y="183.1" font-size="16.3" text-anchor="end" font-weight="normal" fill="#262626" >-500</text>
<line x1="112.5" y1="225.3" x2="108.5" y2="225.3" stroke="#262626" stroke-width="1" />
<text x="105" y="229.9" font-size="16.3" text-anchor="end" font-weight="normal" fill="#262626" >-1000</text>
<line x1="112.5" y1="225.3" x2="108.8" y2="226.6" stroke="#262626" stroke-width="1" />
<text x="103.7" y="245.3" font-size="16.3" text-anchor="end" font-weight="normal" fill="#262626" >100</text>
<line x1="177.7" y1="262.6" x2="174" y2="263.9" stroke="#262626" stroke-width="1" />
<text x="168.9" y="282.6" font-size="16.3" text-anchor="end" font-weight="normal" fill="#262626" >50</text>
<line x1="242.9" y1="300" x2="239.2" y2="301.3" stroke="#262626" stroke-width="1" />
<text x="234.1" y="320" font-size="16.3" text-anchor="end" font-weight="normal" fill="#262626" >0</text>
<line x1="308.2" y1="337.4" x2="304.4" y2="338.6" stroke="#262626" stroke-width="1" />
<text x="299.4" y="357.4" font-size="16.3" text-anchor="end" font-weight="normal" fill="#262626" >-50</text>
<line x1="373.4" y1="374.7" x2="369.7" y2="376" stroke="#262626" stroke-width="1" />
<text x="364.6" y="394.7" font-size="16.3" text-anchor="end" font-weight="normal" fill="#262626" >-100</text>
<line x1="373.4" y1="374.7" x2="376.3" y2="376.3" stroke="#262626" stroke-width="1" />
<text x="381.4" y="395.2" font-size="16.3" text-anchor="start" font-weight="normal" fill="#262626" >-100</text>
<line x1="458.4" y1="346.2" x2="461.2" y2="347.8" stroke="#262626" stroke-width="1" />
<text x="466.4" y="366.7" font-size="16.3" text-anchor="start" font-weight="normal" fill="#262626" >-50</text>
<line x1="543.3" y1="317.6" x2="546.2" y2="319.2" stroke="#262626" stroke-width="1" />
<text x="551.3" y="338.1" font-size="16.3" text-anchor="start" font-weight="normal" fill="#262626" >0</text>
<line x1="628.3" y1="289.1" x2="631.2" y2="290.7" stroke="#262626" stroke-width="1" />
<text x="636.3" y="309.6" font-size="16.3" text-anchor="start" font-weight="normal" fill="#262626" >50</text>
<line x1="713.3" y1="260.5" x2="716.2" y2="262.1" stroke="#262626" stroke-width="1" />
<text x="721.3" y="281" font-size="16.3" text-anchor="start" font-weight="normal" fill="#262626" >100</text>
<text x="196.6" y="330.7" font-size="18" text-anchor="middle" font-weight="normal" fill="#262626" >y (km)</text>
<text x="590" y="351" font-size="18" text-anchor="middle" font-weight="normal" fill="#262626" >x (km)</text>
<text x="51.3" y="179" font-size="18" text-anchor="middle" font-weight="normal" fill="#262626" transform="rotate(-90 51.3 179)" dy="6">depth (m)</text>
<rect x="617" y="23.4" width="21.5" height="78.3" fill="url(#cb1)"/>
<text x="643" y="28.8" font-size="13.5" text-anchor="start" font-weight="normal" fill="#262626" >5</text>
<text x="643" y="67.4" font-size="13.5" text-anchor="start" font-weight="normal" fill="#262626" >0</text>
<text x="653" y="67.4" font-size="13.5" text-anchor="start" font-weight="normal" fill="#262626" >(m s<tspan dx="0.8" dy="-0.42em" font-size="0.72em">-1</tspan><tspan dx="2.7" dy="0.42em">)</tspan></text>
<text x="643" y="107.1" font-size="13.5" text-anchor="start" font-weight="normal" fill="#262626" >-5</text>
<text x="640" y="18" font-size="14.4" text-anchor="start" font-weight="normal" fill="#262626" ><tspan font-size="0.85em">×</tspan><tspan dx="3.6">10</tspan><tspan dy="-0.5em" font-size="0.72em">-3</tspan></text>
<text x="285.8" y="98.6" font-size="21" text-anchor="start" font-weight="bold" fill="#000" >U</text>
<text x="247.8" y="223.8" font-size="21" text-anchor="start" font-weight="bold" fill="#000" >V</text>
<line x1="1006.7" y1="285.1" x2="1006.7" y2="103.4" stroke="#262626" stroke-width="1.1" />
<line x1="1006.7" y1="103.4" x2="1427.9" y2="28.7" stroke="#262626" stroke-width="1.1" />
<line x1="1427.9" y1="28.7" x2="1723.3" y2="136.7" stroke="#262626" stroke-width="1.1" />
<line x1="1427.9" y1="210.4" x2="1427.9" y2="28.7" stroke="#262626" stroke-width="1.1" />
<line x1="1723.3" y1="318.4" x2="1723.3" y2="136.7" stroke="#262626" stroke-width="1.1" />
<g fill="#9c9c92" opacity="0.6">
<polygon points="1575.6,263.4 1562.4,258.6 1549.3,253.8 1536.3,249 1523.5,244.3 1510.9,239.8 1498.7,235.3 1486.8,231 1475.4,226.8 1464.5,222.8 1450,219.7 1427.6,218.3 1404.9,217.4 1383.3,217.3 1368,220 1352.1,222.8 1335.5,225.8 1318.3,228.8 1300.6,232 1282.5,235.2 1264.1,238.4 1245.5,241.8 1226.7,245.1 1207.9,248.4 1189.1,251.7 1170.5,255.1 1152.1,258.3 1134,261.5 1116.3,264.7 1099.1,267.7 1082.5,270.7 1066.6,273.5 1051.3,276.2 1044.1,281.4 1039.8,287.1 1037,292.9 1043.3,297.5 1054.2,301.5 1065.6,305.7 1077.5,310 1089.7,314.5 1102.3,319 1115.1,323.7 1128.1,328.5 1141.2,333.3 1154.4,338.1 1167.6,342.9 1180.7,347.7 1193.7,352.5 1206.5,357.2 1219.1,361.7 1231.3,366.2 1243.2,370.6 1254.6,374.7 1265.5,378.7 1280,381.8 1302.4,383.2 1325.1,384.1 1346.7,384.2 1362,381.5 1377.9,378.7 1394.5,375.7 1411.7,372.7 1429.4,369.5 1447.5,366.3 1465.9,363.1 1484.5,359.7 1503.3,356.4 1522.1,353.1 1540.9,349.8 1559.5,346.4 1577.9,343.2 1596,340 1613.7,336.8 1630.9,333.8 1647.5,330.8 1663.4,328 1678.7,325.3 1685.9,320.1 1690.2,314.4 1693,308.6 1686.7,304 1675.8,300 1664.4,295.9 1652.5,291.5 1640.3,287 1627.7,282.5 1614.9,277.8 1601.9,273 1588.8,268.2"/>
<polygon points="1575.6,262.4 1562.6,257.7 1549.7,252.9 1536.9,248.3 1524.3,243.6 1511.9,239.1 1499.9,234.7 1488.2,230.5 1477,226.3 1466.2,222.4 1448.7,220 1426.6,218.6 1404.3,217.7 1381.7,217.2 1365.7,219.4 1350,222.2 1333.6,225.1 1316.7,228.1 1299.3,231.2 1281.5,234.4 1263.4,237.6 1245,240.8 1226.6,244.1 1208,247.4 1189.6,250.7 1171.2,253.9 1153.1,257.1 1135.3,260.3 1117.9,263.4 1101,266.4 1084.6,269.3 1068.9,272.1 1055,275.1 1049.1,280.7 1044.8,286.3 1042.1,292.1 1045,297.1 1055.8,301 1067,305.2 1078.7,309.4 1090.7,313.8 1103.1,318.3 1115.7,323 1128.5,327.6 1141.4,332.4 1154.4,337.1 1167.4,341.8 1180.3,346.6 1193.1,351.2 1205.7,355.9 1218.1,360.4 1230.1,364.8 1241.8,369 1253,373.2 1263.8,377.1 1281.3,379.5 1303.4,380.9 1325.7,381.8 1348.3,382.3 1364.3,380.1 1380,377.3 1396.4,374.4 1413.3,371.4 1430.7,368.3 1448.5,365.1 1466.6,361.9 1485,358.7 1503.4,355.4 1522,352.1 1540.4,348.8 1558.8,345.6 1576.9,342.4 1594.7,339.2 1612.1,336.1 1629,333.1 1645.4,330.2 1661.1,327.4 1675,324.4 1680.9,318.8 1685.2,313.2 1687.9,307.4 1685,302.4 1674.2,298.5 1663,294.3 1651.3,290.1 1639.3,285.7 1626.9,281.2 1614.3,276.5 1601.5,271.9 1588.6,267.1"/>
<polygon points="1575.6,261.4 1562.8,256.7 1550.1,252.1 1537.5,247.5 1525.1,242.9 1513,238.5 1501.1,234.2 1489.6,230 1478.5,225.9 1467.9,222 1447.3,220.2 1425.6,218.9 1403.6,218 1381.5,217.5 1363.3,218.9 1347.9,221.6 1331.8,224.4 1315.1,227.4 1298,230.4 1280.5,233.5 1262.6,236.7 1244.6,239.9 1226.4,243.1 1208.2,246.4 1190,249.6 1172,252.8 1154.1,256 1136.6,259.1 1119.5,262.1 1102.8,265.1 1086.7,267.9 1071.3,270.7 1059.9,274.5 1054.2,280 1049.9,285.6 1047.2,291.2 1046.7,296.7 1057.3,300.6 1068.4,304.7 1079.9,308.9 1091.8,313.2 1103.9,317.6 1116.3,322.2 1128.9,326.8 1141.6,331.4 1154.4,336.1 1167.2,340.8 1179.9,345.4 1192.5,350 1204.9,354.6 1217,359 1228.9,363.3 1240.4,367.5 1251.5,371.6 1262.1,375.5 1282.7,377.3 1304.4,378.6 1326.4,379.5 1348.5,380 1366.7,378.7 1382.1,375.9 1398.2,373.1 1414.9,370.1 1432,367.1 1449.5,364 1467.4,360.8 1485.4,357.6 1503.6,354.4 1521.8,351.1 1540,347.9 1558,344.7 1575.9,341.5 1593.4,338.4 1610.5,335.4 1627.2,332.4 1643.3,329.6 1658.7,326.9 1670.1,323 1675.8,317.5 1680.1,312 1682.8,306.3 1683.3,300.8 1672.7,296.9 1661.6,292.8 1650.1,288.6 1638.2,284.3 1626.1,279.9 1613.7,275.3 1601.1,270.7 1588.4,266.1"/>
<polygon points="1575.6,260.4 1563,255.8 1550.5,251.2 1538.1,246.7 1525.9,242.2 1514,237.9 1502.3,233.6 1491,229.5 1480.1,225.5 1466.9,222.2 1446,220.5 1424.6,219.2 1403,218.3 1381.2,217.8 1361,218.3 1345.8,221 1329.9,223.8 1313.5,226.7 1296.7,229.7 1279.5,232.7 1261.9,235.8 1244.2,239 1226.3,242.2 1208.3,245.3 1190.4,248.5 1172.7,251.7 1155.1,254.8 1137.9,257.8 1121.1,260.8 1104.7,263.7 1088.8,266.5 1073.6,269.2 1064.8,273.9 1059.2,279.3 1055,284.8 1052.4,290.3 1051.2,295.9 1058.9,300.2 1069.8,304.2 1081.1,308.3 1092.8,312.6 1104.7,316.9 1116.9,321.4 1129.3,325.9 1141.8,330.5 1154.4,335.1 1167,339.7 1179.5,344.3 1191.9,348.8 1204.1,353.3 1216,357.6 1227.7,361.9 1239,366 1249.9,370 1263.1,373.3 1284,375 1305.4,376.3 1327,377.2 1348.8,377.7 1369,377.2 1384.2,374.5 1400.1,371.7 1416.5,368.8 1433.3,365.8 1450.5,362.8 1468.1,359.7 1485.8,356.5 1503.7,353.3 1521.7,350.2 1539.6,347 1557.3,343.8 1574.9,340.7 1592.1,337.7 1608.9,334.7 1625.3,331.8 1641.2,329 1656.4,326.3 1665.2,321.6 1670.8,316.2 1675,310.7 1677.6,305.2 1678.8,299.6 1671.1,295.3 1660.2,291.3 1648.9,287.2 1637.2,282.9 1625.3,278.6 1613.1,274.1 1600.7,269.6 1588.2,265"/>
<polygon points="1575.6,259.4 1563.2,254.9 1550.9,250.4 1538.7,245.9 1526.7,241.5 1515,237.2 1503.5,233 1492.4,229 1481.7,225.1 1465.3,222.4 1444.7,220.8 1423.7,219.5 1402.4,218.6 1380.9,218.1 1359.4,218 1343.7,220.3 1328.1,223.1 1312,226 1295.4,228.9 1278.4,231.9 1261.2,235 1243.7,238.1 1226.1,241.2 1208.5,244.3 1190.9,247.4 1173.4,250.5 1156.2,253.6 1139.2,256.6 1122.6,259.5 1106.5,262.4 1090.9,265.2 1076.7,268.1 1069.7,273.3 1064.2,278.6 1060.1,284 1057.5,289.4 1056.4,294.9 1060.5,299.8 1071.2,303.7 1082.3,307.7 1093.8,311.9 1105.5,316.2 1117.5,320.6 1129.7,325.1 1142,329.6 1154.4,334.1 1166.8,338.6 1179.1,343.1 1191.3,347.6 1203.3,352 1215,356.3 1226.5,360.5 1237.6,364.5 1248.3,368.4 1264.7,371.1 1285.3,372.7 1306.3,374 1327.6,374.9 1349.1,375.4 1370.6,375.5 1386.3,373.2 1401.9,370.4 1418,367.5 1434.6,364.6 1451.6,361.6 1468.8,358.5 1486.3,355.4 1503.9,352.3 1521.5,349.2 1539.1,346.1 1556.6,343 1573.8,339.9 1590.8,336.9 1607.4,334 1623.5,331.1 1639.1,328.3 1653.3,325.4 1660.3,320.2 1665.8,314.9 1669.9,309.5 1672.5,304.1 1673.6,298.6 1669.5,293.7 1658.8,289.8 1647.7,285.8 1636.2,281.6 1624.5,277.3 1612.5,272.9 1600.3,268.4 1588,263.9"/>
<polygon points="1575.6,258.4 1563.4,254 1551.3,249.5 1539.4,245.2 1527.6,240.8 1516,236.6 1504.7,232.5 1493.8,228.5 1483.2,224.6 1463.6,222.6 1443.3,221 1422.7,219.8 1401.8,218.9 1380.7,218.4 1359.5,218.3 1341.6,219.7 1326.2,222.4 1310.4,225.2 1294.1,228.1 1277.4,231.1 1260.5,234.1 1243.3,237.1 1226,240.2 1208.6,243.3 1191.3,246.4 1174.1,249.4 1157.2,252.4 1140.5,255.4 1124.2,258.3 1108.4,261.1 1093,263.8 1081.5,267.6 1074.7,272.7 1069.2,277.9 1065.2,283.2 1062.6,288.6 1061.5,294 1062,299.3 1072.6,303.2 1083.5,307.2 1094.8,311.3 1106.4,315.5 1118.2,319.9 1130.1,324.2 1142.2,328.7 1154.4,333.1 1166.6,337.5 1178.7,342 1190.6,346.4 1202.4,350.7 1214,354.9 1225.3,359 1236.2,363 1246.8,366.9 1266.4,368.9 1286.7,370.5 1307.3,371.7 1328.2,372.6 1349.3,373.1 1370.5,373.2 1388.4,371.8 1403.8,369.1 1419.6,366.3 1435.9,363.4 1452.6,360.4 1469.5,357.4 1486.7,354.4 1504,351.3 1521.4,348.2 1538.7,345.1 1555.9,342.1 1572.8,339.1 1589.5,336.1 1605.8,333.2 1621.6,330.4 1637,327.7 1648.5,323.9 1655.3,318.8 1660.8,313.6 1664.8,308.3 1667.4,303 1668.5,297.6 1668,292.2 1657.4,288.3 1646.5,284.3 1635.2,280.2 1623.6,276 1611.8,271.7 1599.9,267.3 1587.8,262.8"/>
<polygon points="1575.6,257.4 1563.6,253 1551.8,248.7 1540,244.4 1528.4,240.1 1517,236 1505.9,231.9 1495.2,228 1481.4,224.8 1461.9,222.9 1442,221.3 1421.7,220.1 1401.1,219.2 1380.4,218.7 1359.6,218.6 1339.4,219.1 1324.4,221.8 1308.8,224.5 1292.8,227.4 1276.4,230.3 1259.7,233.2 1242.8,236.2 1225.8,239.2 1208.8,242.3 1191.8,245.3 1174.9,248.3 1158.2,251.2 1141.8,254.1 1125.8,257 1110.2,259.7 1095.2,262.4 1086.4,267.1 1079.6,272.1 1074.2,277.2 1070.3,282.4 1067.7,287.7 1066.7,293 1067,298.3 1074,302.7 1084.7,306.6 1095.8,310.7 1107.2,314.8 1118.8,319.1 1130.6,323.4 1142.4,327.7 1154.4,332.1 1166.4,336.5 1178.2,340.8 1190,345.1 1201.6,349.4 1213,353.5 1224.1,357.6 1234.8,361.5 1248.6,364.7 1268.1,366.6 1288,368.2 1308.3,369.4 1328.9,370.3 1349.6,370.8 1370.4,370.9 1390.6,370.4 1405.6,367.7 1421.2,365 1437.2,362.1 1453.6,359.2 1470.3,356.3 1487.2,353.3 1504.2,350.3 1521.2,347.2 1538.2,344.2 1555.1,341.2 1571.8,338.3 1588.2,335.4 1604.2,332.5 1619.8,329.8 1634.8,327.1 1643.6,322.5 1650.4,317.4 1655.8,312.3 1659.7,307.1 1662.3,301.8 1663.3,296.5 1663,291.2 1656,286.8 1645.3,282.9 1634.2,278.8 1622.8,274.7 1611.2,270.4 1599.4,266.1 1587.6,261.8"/>
<polygon points="1575.6,256.4 1563.9,252.1 1552.2,247.8 1540.6,243.6 1529.2,239.4 1518,235.4 1507.1,231.4 1496.6,227.5 1479.4,225 1460.3,223.1 1440.7,221.6 1420.7,220.4 1400.5,219.5 1380.1,219 1359.7,218.9 1339.2,219.2 1322.5,221.1 1307.2,223.8 1291.5,226.6 1275.4,229.5 1259,232.4 1242.4,235.3 1225.7,238.3 1208.9,241.2 1192.2,244.2 1175.6,247.1 1159.2,250.1 1143.1,252.9 1127.4,255.7 1112.1,258.4 1099.1,261.7 1091.2,266.5 1084.5,271.5 1079.2,276.5 1075.3,281.6 1072.9,286.8 1071.8,292 1072.2,297.2 1075.4,302.2 1085.9,306.1 1096.8,310.1 1108,314.1 1119.4,318.3 1131,322.5 1142.7,326.8 1154.4,331.1 1166.1,335.4 1177.8,339.7 1189.4,343.9 1200.8,348.1 1212,352.2 1222.9,356.1 1233.4,360 1250.6,362.5 1269.7,364.4 1289.3,365.9 1309.3,367.1 1329.5,368 1349.9,368.5 1370.3,368.6 1390.8,368.4 1407.5,366.4 1422.8,363.7 1438.5,360.9 1454.6,358.1 1471,355.1 1487.6,352.2 1504.3,349.2 1521.1,346.3 1537.8,343.3 1554.4,340.4 1570.8,337.5 1586.9,334.6 1602.6,331.8 1617.9,329.1 1630.9,325.8 1638.8,321 1645.5,316.1 1650.8,311 1654.7,305.9 1657.1,300.7 1658.2,295.5 1657.8,290.3 1654.6,285.3 1644.1,281.4 1633.2,277.5 1622,273.4 1610.6,269.2 1599,265 1587.3,260.7"/>
<polygon points="1575.6,255.4 1564.1,251.2 1552.6,247 1541.2,242.8 1530,238.7 1519,234.7 1508.3,230.8 1495.6,227.4 1477.4,225.2 1458.6,223.4 1439.4,221.8 1419.8,220.7 1399.9,219.8 1379.9,219.3 1359.8,219.2 1339.7,219.5 1320.7,220.4 1305.7,223.1 1290.2,225.8 1274.4,228.6 1258.3,231.5 1242,234.4 1225.5,237.3 1209.1,240.2 1192.6,243.1 1176.3,246 1160.2,248.9 1144.4,251.7 1128.9,254.4 1113.9,257.1 1103.8,261.3 1096,266 1089.4,270.9 1084.2,275.8 1080.4,280.8 1078,285.9 1076.9,291 1077.3,296.2 1079.1,301.3 1087.1,305.5 1097.8,309.4 1108.8,313.4 1120,317.5 1131.4,321.7 1142.9,325.9 1154.4,330.1 1165.9,334.3 1177.4,338.5 1188.8,342.7 1200,346.8 1211,350.8 1221.7,354.7 1234.4,358.1 1252.6,360.3 1271.4,362.1 1290.6,363.7 1310.2,364.9 1330.1,365.7 1350.1,366.2 1370.2,366.3 1390.3,366 1409.3,365.1 1424.3,362.4 1439.8,359.7 1455.6,356.9 1471.7,354 1488,351.1 1504.5,348.2 1520.9,345.3 1537.4,342.4 1553.7,339.5 1569.8,336.6 1585.6,333.8 1601.1,331.1 1616.1,328.4 1626.2,324.2 1634,319.5 1640.6,314.7 1645.8,309.7 1649.6,304.7 1652,299.6 1653.1,294.5 1652.7,289.3 1650.9,284.2 1642.9,280 1632.2,276.1 1621.2,272.1 1610,268 1598.6,263.8 1587.1,259.6"/>
<polygon points="1575.6,254.4 1564.3,250.3 1553,246.1 1541.8,242.1 1530.8,238 1520,234.1 1509.5,230.2 1493.3,227.6 1475.4,225.4 1456.9,223.6 1438,222.1 1418.8,220.9 1399.3,220.1 1379.6,219.7 1359.8,219.5 1340.1,219.8 1320.5,220.4 1304.1,222.4 1288.9,225.1 1273.3,227.8 1257.5,230.6 1241.5,233.5 1225.4,236.3 1209.2,239.2 1193.1,242.1 1177.1,244.9 1161.3,247.7 1145.7,250.5 1130.5,253.1 1117.4,256.4 1108.5,260.9 1100.8,265.5 1094.3,270.2 1089.3,275.1 1085.5,280 1083.1,285 1082.1,290.1 1082.4,295.1 1084.2,300.1 1088.3,304.9 1098.8,308.8 1109.6,312.7 1120.6,316.8 1131.8,320.8 1143.1,325 1154.4,329.1 1165.7,333.3 1177,337.4 1188.2,341.5 1199.2,345.5 1210,349.4 1220.5,353.3 1236.7,355.9 1254.6,358.1 1273.1,359.9 1292,361.4 1311.2,362.6 1330.7,363.4 1350.4,363.9 1370.2,364 1389.9,363.7 1409.5,363.2 1425.9,361.1 1441.1,358.5 1456.7,355.7 1472.5,352.9 1488.5,350.1 1504.6,347.2 1520.8,344.3 1536.9,341.5 1552.9,338.6 1568.7,335.8 1584.3,333.1 1599.5,330.4 1612.6,327.1 1621.5,322.7 1629.2,318 1635.7,313.3 1640.7,308.4 1644.5,303.5 1646.9,298.5 1647.9,293.4 1647.6,288.4 1645.8,283.4 1641.7,278.6 1631.2,274.7 1620.4,270.8 1609.4,266.8 1598.2,262.7 1586.9,258.6"/>
<polygon points="1575.6,254.4 1564.5,250.3 1553.4,246.3 1542.4,242.3 1531.6,238.3 1521,234.5 1507.9,231.2 1490.9,228.8 1473.4,226.6 1455.2,224.8 1436.7,223.4 1417.8,222.2 1398.6,221.4 1379.3,221 1359.9,220.9 1340.6,221.1 1321.3,221.7 1302.5,222.6 1287.6,225.3 1272.3,228 1256.8,230.8 1241.1,233.5 1225.2,236.3 1209.4,239.2 1193.5,242 1177.8,244.8 1162.3,247.5 1147,250.2 1132.1,252.9 1121.9,257 1113.1,261.4 1105.6,266 1099.3,270.6 1094.3,275.4 1090.6,280.3 1088.2,285.2 1087.2,290.1 1087.6,295.1 1089.3,300 1092.3,304.9 1099.8,309.2 1110.4,313 1121.2,317 1132.2,321 1143.3,325 1154.4,329.1 1165.5,333.2 1176.6,337.2 1187.6,341.2 1198.4,345.2 1209,349.1 1222.1,352.3 1239.1,354.8 1256.6,356.9 1274.8,358.7 1293.3,360.1 1312.2,361.3 1331.4,362.1 1350.7,362.5 1370.1,362.7 1389.4,362.4 1408.7,361.9 1427.5,360.9 1442.4,358.2 1457.7,355.5 1473.2,352.8 1488.9,350 1504.8,347.2 1520.6,344.3 1536.5,341.5 1552.2,338.8 1567.7,336 1583,333.3 1597.9,330.6 1608.1,326.5 1616.9,322.1 1624.4,317.5 1630.7,312.9 1635.7,308.1 1639.4,303.3 1641.8,298.3 1642.8,293.4 1642.4,288.5 1640.7,283.5 1637.7,278.6 1630.2,274.4 1619.6,270.5 1608.8,266.5 1597.8,262.5 1586.7,258.5"/>
<polygon points="1575.6,254.4 1564.7,250.4 1553.8,246.4 1543,242.5 1532.4,238.6 1521.2,235 1505.3,232.3 1488.6,229.9 1471.3,227.8 1453.6,226.1 1435.4,224.6 1416.8,223.5 1398,222.7 1379.1,222.3 1360,222.2 1341,222.4 1322.1,223 1303.5,223.9 1286.3,225.5 1271.3,228.2 1256.1,230.9 1240.6,233.6 1225.1,236.4 1209.5,239.1 1194,241.9 1178.5,244.6 1163.3,247.3 1148.3,250 1136.2,253.5 1126.4,257.7 1117.8,262 1110.4,266.4 1104.2,271 1099.3,275.7 1095.7,280.5 1093.4,285.3 1092.4,290.1 1092.7,295 1094.4,299.8 1097.4,304.6 1101.7,309.4 1111.2,313.3 1121.8,317.2 1132.6,321.1 1143.5,325.1 1154.4,329.1 1165.3,333.1 1176.2,337.1 1187,341 1197.6,344.9 1208.8,348.5 1224.7,351.2 1241.4,353.6 1258.7,355.7 1276.4,357.4 1294.6,358.9 1313.2,360 1332,360.8 1350.9,361.2 1370,361.3 1389,361.1 1407.9,360.6 1426.5,359.7 1443.7,358 1458.7,355.3 1473.9,352.6 1489.4,349.9 1504.9,347.1 1520.5,344.4 1536,341.6 1551.5,338.9 1566.7,336.2 1581.7,333.5 1593.8,330 1603.6,325.8 1612.2,321.5 1619.6,317.1 1625.8,312.5 1630.7,307.8 1634.3,303 1636.6,298.2 1637.6,293.4 1637.3,288.5 1635.6,283.7 1632.6,278.9 1628.3,274.1 1618.8,270.2 1608.2,266.3 1597.4,262.4 1586.5,258.4"/>
<polygon points="1575.6,254.4 1564.9,250.5 1554.2,246.6 1543.7,242.7 1533.2,238.9 1518.3,236 1502.6,233.4 1486.3,231.1 1469.3,229.1 1451.9,227.3 1434,225.9 1415.8,224.8 1397.4,224 1378.8,223.6 1360.1,223.5 1341.5,223.7 1323,224.3 1304.6,225.1 1286.6,226.3 1270.3,228.4 1255.3,231 1240.2,233.7 1224.9,236.4 1209.7,239.1 1194.4,241.8 1179.3,244.5 1164.3,247.2 1151.2,250.3 1140.5,254.2 1130.9,258.3 1122.5,262.5 1115.2,266.9 1109.1,271.4 1104.3,276 1100.7,280.7 1098.5,285.4 1097.5,290.2 1097.9,294.9 1099.5,299.7 1102.4,304.4 1106.6,309.1 1112.1,313.6 1122.5,317.4 1133,321.3 1143.7,325.2 1154.4,329.1 1165.1,333 1175.8,336.9 1186.3,340.8 1196.8,344.6 1211.7,347.5 1227.4,350.1 1243.7,352.4 1260.7,354.5 1278.1,356.2 1296,357.6 1314.2,358.7 1332.6,359.5 1351.2,359.9 1369.9,360 1388.5,359.8 1407,359.3 1425.4,358.4 1443.4,357.2 1459.7,355.2 1474.7,352.5 1489.8,349.8 1505.1,347.1 1520.3,344.4 1535.6,341.7 1550.7,339 1565.7,336.4 1578.8,333.2 1589.5,329.3 1599.1,325.2 1607.5,321 1614.8,316.6 1620.9,312.1 1625.7,307.5 1629.3,302.8 1631.5,298.1 1632.5,293.3 1632.1,288.6 1630.5,283.8 1627.6,279.1 1623.4,274.5 1617.9,269.9 1607.5,266.1 1597,262.2 1586.3,258.3"/>
<polygon points="1575.6,254.4 1565.1,250.6 1554.6,246.7 1543.8,243 1530,240 1515.3,237.1 1500,234.6 1483.9,232.3 1467.3,230.3 1450.2,228.6 1432.7,227.2 1414.9,226.1 1396.8,225.3 1378.5,224.9 1360.2,224.8 1341.9,225 1323.8,225.6 1305.8,226.4 1288.1,227.6 1270.8,229.1 1254.6,231.1 1239.8,233.8 1224.8,236.4 1209.8,239.1 1194.8,241.7 1180,244.4 1166.9,247.5 1155.3,251.1 1144.8,255 1135.4,259 1127.1,263.1 1120,267.4 1114,271.8 1109.3,276.3 1105.8,280.9 1103.6,285.5 1102.7,290.2 1103,294.9 1104.6,299.5 1107.5,304.2 1111.6,308.7 1117,313.2 1123.6,317.6 1133.4,321.4 1143.9,325.3 1154.4,329.1 1164.9,332.9 1175.4,336.8 1186.2,340.5 1200,343.6 1214.7,346.4 1230,349 1246.1,351.3 1262.7,353.3 1279.8,355 1297.3,356.3 1315.1,357.4 1333.2,358.2 1351.5,358.6 1369.8,358.7 1388.1,358.5 1406.2,358 1424.2,357.1 1441.9,355.9 1459.2,354.4 1475.4,352.4 1490.2,349.7 1505.2,347.1 1520.2,344.4 1535.2,341.8 1550,339.1 1563.1,336 1574.7,332.4 1585.2,328.6 1594.6,324.6 1602.9,320.4 1610,316.1 1616,311.7 1620.7,307.2 1624.2,302.6 1626.4,298 1627.3,293.3 1627,288.6 1625.4,284 1622.5,279.4 1618.4,274.8 1613,270.3 1606.4,265.9 1596.6,262.1 1586.1,258.2"/>
<polygon points="1575.6,244.4 1564.8,240.7 1553,237.3 1540.3,234 1526.7,231 1512.4,228.2 1497.3,225.7 1481.6,223.4 1465.3,221.5 1448.6,219.8 1431.4,218.4 1413.9,217.4 1396.2,216.6 1378.3,216.2 1360.3,216.1 1342.4,216.3 1324.6,216.9 1306.9,217.7 1289.6,218.9 1272.6,220.3 1256.1,222.1 1240.1,224.2 1224.7,226.5 1210,229.1 1196.1,232 1183,235.1 1170.7,238.4 1159.4,241.9 1149.2,245.7 1139.9,249.6 1131.8,253.7 1124.8,257.9 1119,262.2 1114.3,266.6 1110.9,271.1 1108.7,275.7 1107.8,280.2 1108.1,284.8 1109.7,289.4 1112.5,293.9 1116.6,298.4 1121.8,302.8 1128.3,307.1 1135.9,311.2 1144.6,315.3 1154.4,319.1 1165.2,322.8 1177,326.3 1189.7,329.5 1203.3,332.6 1217.6,335.3 1232.7,337.8 1248.4,340.1 1264.7,342.1 1281.4,343.7 1298.6,345.1 1316.1,346.1 1333.8,346.9 1351.7,347.3 1369.7,347.4 1387.6,347.2 1405.4,346.7 1423.1,345.8 1440.4,344.7 1457.4,343.2 1473.9,341.4 1489.9,339.4 1505.3,337 1520,334.4 1533.9,331.6 1547,328.5 1559.3,325.1 1570.6,321.6 1580.8,317.8 1590.1,313.9 1598.2,309.9 1605.2,305.6 1611,301.3 1615.7,296.9 1619.1,292.4 1621.3,287.9 1622.2,283.3 1621.9,278.7 1620.3,274.1 1617.5,269.6 1613.4,265.1 1608.2,260.7 1601.7,256.5 1594.1,252.3 1585.4,248.3"/>
<circle r="1" transform="matrix(206.3880,-36.6030,-144.7460,-52.9200,1365.00,281.76)"/>
<circle r="1" transform="matrix(202.1760,-35.8560,-141.7920,-51.8400,1365.00,281.76)"/>
<circle r="1" transform="matrix(197.9640,-35.1090,-138.8380,-50.7600,1365.00,281.76)"/>
<circle r="1" transform="matrix(193.7520,-34.3620,-135.8840,-49.6800,1365.00,281.76)"/>
<circle r="1" transform="matrix(189.5400,-33.6150,-132.9300,-48.6000,1365.00,281.76)"/>
<circle r="1" transform="matrix(185.3280,-32.8680,-129.9760,-47.5200,1365.00,277.77)"/>
<circle r="1" transform="matrix(181.1160,-32.1210,-127.0220,-46.4400,1365.00,273.77)"/>
<circle r="1" transform="matrix(176.9040,-31.3740,-124.0680,-45.3600,1365.00,269.77)"/>
<circle r="1" transform="matrix(172.6920,-30.6270,-121.1140,-44.2800,1365.00,265.77)"/>
<circle r="1" transform="matrix(168.4800,-29.8800,-118.1600,-43.2000,1365.00,261.78)"/>
<circle r="1" transform="matrix(164.2680,-29.1330,-115.2060,-42.1200,1365.00,257.78)"/>
<circle r="1" transform="matrix(160.0560,-28.3860,-112.2520,-41.0400,1365.00,253.78)"/>
<circle r="1" transform="matrix(155.8440,-27.6390,-109.2980,-39.9600,1365.00,249.78)"/>
<circle r="1" transform="matrix(151.6320,-26.8920,-106.3440,-38.8800,1365.00,245.79)"/>
<circle r="1" transform="matrix(147.4200,-26.1450,-103.3900,-37.8000,1365.00,241.79)"/>
<circle r="1" transform="matrix(143.2080,-25.3980,-100.4360,-36.7200,1365.00,237.79)"/>
<circle r="1" transform="matrix(138.9960,-24.6510,-97.4820,-35.6400,1365.00,233.79)"/>
<circle r="1" transform="matrix(134.7840,-23.9040,-94.5280,-34.5600,1365.00,229.80)"/>
<circle r="1" transform="matrix(130.5720,-23.1570,-91.5740,-33.4800,1365.00,225.80)"/>
<circle r="1" transform="matrix(126.3600,-22.4100,-88.6200,-32.4000,1365.00,221.80)"/>
<circle r="1" transform="matrix(122.1480,-21.6630,-85.6660,-31.3200,1365.00,217.80)"/>
<circle r="1" transform="matrix(117.9360,-20.9160,-82.7120,-30.2400,1365.00,213.81)"/>
<circle r="1" transform="matrix(113.7240,-20.1690,-79.7580,-29.1600,1365.00,209.81)"/>
<circle r="1" transform="matrix(109.5120,-19.4220,-76.8040,-28.0800,1365.00,205.81)"/>
<circle r="1" transform="matrix(105.3000,-18.6750,-73.8500,-27.0000,1365.00,201.81)"/>
<circle r="1" transform="matrix(101.0880,-17.9280,-70.8960,-25.9200,1365.00,197.82)"/>
<circle r="1" transform="matrix(96.8760,-17.1810,-67.9420,-24.8400,1365.00,193.82)"/>
<circle r="1" transform="matrix(92.6640,-16.4340,-64.9880,-23.7600,1365.00,189.82)"/>
<circle r="1" transform="matrix(88.4520,-15.6870,-62.0340,-22.6800,1365.00,185.83)"/>
<circle r="1" transform="matrix(84.2400,-14.9400,-59.0800,-21.6000,1365.00,181.83)"/>
<circle r="1" transform="matrix(80.0280,-14.1930,-56.1260,-20.5200,1365.00,177.83)"/>
<circle r="1" transform="matrix(75.8160,-13.4460,-53.1720,-19.4400,1365.00,173.83)"/>
<circle r="1" transform="matrix(71.6040,-12.6990,-50.2180,-18.3600,1365.00,169.84)"/>
<circle r="1" transform="matrix(67.3920,-11.9520,-47.2640,-17.2800,1365.00,165.84)"/>
<circle r="1" transform="matrix(63.1800,-11.2050,-44.3100,-16.2000,1365.00,161.84)"/>
<circle r="1" transform="matrix(58.9680,-10.4580,-41.3560,-15.1200,1365.00,157.84)"/>
<circle r="1" transform="matrix(54.7560,-9.7110,-38.4020,-14.0400,1365.00,153.85)"/>
<circle r="1" transform="matrix(50.5440,-8.9640,-35.4480,-12.9600,1365.00,149.85)"/>
<circle r="1" transform="matrix(46.3320,-8.2170,-32.4940,-11.8800,1365.00,145.85)"/>
<circle r="1" transform="matrix(42.1200,-7.4700,-29.5400,-10.8000,1365.00,141.85)"/>
<circle r="1" transform="matrix(37.9080,-6.7230,-26.5860,-9.7200,1365.00,137.86)"/>
<circle r="1" transform="matrix(33.6960,-5.9760,-23.6320,-8.6400,1365.00,133.86)"/>
<circle r="1" transform="matrix(29.4840,-5.2290,-20.6780,-7.5600,1365.00,129.86)"/>
<circle r="1" transform="matrix(25.2720,-4.4820,-17.7240,-6.4800,1365.00,125.86)"/>
<circle r="1" transform="matrix(21.0600,-3.7350,-14.7700,-5.4000,1365.00,121.87)"/>
<circle r="1" transform="matrix(16.8480,-2.9880,-11.8160,-4.3200,1365.00,120.05)"/>
<circle r="1" transform="matrix(12.6360,-2.2410,-8.8620,-3.2400,1365.00,120.05)"/>
<circle r="1" transform="matrix(8.4240,-1.4940,-5.9080,-2.1600,1365.00,120.05)"/>
<circle r="1" transform="matrix(4.2120,-0.7470,-2.9540,-1.0800,1365.00,120.05)"/>
<circle r="1" transform="matrix(1.0530,-0.1867,-0.7385,-0.2700,1365.00,120.05)"/>
</g>
<polygon points="1006.7,285.1 1427.9,210.4 1723.3,318.4 1302.1,393.1" fill="#07321e"/>
<line x1="1006.7" y1="285.1" x2="1302.1" y2="393.1" stroke="#0a1a10" stroke-width="1.1" />
<line x1="1302.1" y1="393.1" x2="1723.3" y2="318.4" stroke="#0a1a10" stroke-width="1.1" />
<circle r="1" fill="url(#s106)" transform="matrix(189.5400,-33.6150,-132.9300,-48.6000,1365.00,301.75)"/>
<circle r="1" fill="url(#s107)" transform="matrix(185.7492,-32.9427,-130.2714,-47.6280,1365.00,298.15)"/>
<circle r="1" fill="url(#s108)" transform="matrix(181.9584,-32.2704,-127.6128,-46.6560,1365.00,294.55)"/>
<circle r="1" fill="url(#s109)" transform="matrix(178.1676,-31.5981,-124.9542,-45.6840,1365.00,290.96)"/>
<circle r="1" fill="url(#s110)" transform="matrix(174.3768,-30.9258,-122.2956,-44.7120,1365.00,287.36)"/>
<circle r="1" fill="url(#s111)" transform="matrix(170.5860,-30.2535,-119.6370,-43.7400,1365.00,283.76)"/>
<circle r="1" fill="url(#s112)" transform="matrix(166.7952,-29.5812,-116.9784,-42.7680,1365.00,280.16)"/>
<circle r="1" fill="url(#s113)" transform="matrix(163.0044,-28.9089,-114.3198,-41.7960,1365.00,276.57)"/>
<circle r="1" fill="url(#s114)" transform="matrix(159.2136,-28.2366,-111.6612,-40.8240,1365.00,272.97)"/>
<circle r="1" fill="url(#s115)" transform="matrix(155.4228,-27.5643,-109.0026,-39.8520,1365.00,269.37)"/>
<circle r="1" fill="url(#s116)" transform="matrix(151.6320,-26.8920,-106.3440,-38.8800,1365.00,265.77)"/>
<circle r="1" fill="url(#s117)" transform="matrix(147.8412,-26.2197,-103.6854,-37.9080,1365.00,262.18)"/>
<circle r="1" fill="url(#s118)" transform="matrix(144.0504,-25.5474,-101.0268,-36.9360,1365.00,258.58)"/>
<circle r="1" fill="url(#s119)" transform="matrix(140.2596,-24.8751,-98.3682,-35.9640,1365.00,254.98)"/>
<circle r="1" fill="url(#s120)" transform="matrix(136.4688,-24.2028,-95.7096,-34.9920,1365.00,251.38)"/>
<circle r="1" fill="url(#s121)" transform="matrix(132.6780,-23.5305,-93.0510,-34.0200,1365.00,247.79)"/>
<circle r="1" fill="url(#s122)" transform="matrix(128.8872,-22.8582,-90.3924,-33.0480,1365.00,244.19)"/>
<circle r="1" fill="url(#s123)" transform="matrix(125.0964,-22.1859,-87.7338,-32.0760,1365.00,240.59)"/>
<circle r="1" fill="url(#s124)" transform="matrix(121.3056,-21.5136,-85.0752,-31.1040,1365.00,236.99)"/>
<circle r="1" fill="url(#s125)" transform="matrix(117.5148,-20.8413,-82.4166,-30.1320,1365.00,233.39)"/>
<circle r="1" fill="url(#s126)" transform="matrix(113.7240,-20.1690,-79.7580,-29.1600,1365.00,229.80)"/>
<circle r="1" fill="url(#s127)" transform="matrix(109.9332,-19.4967,-77.0994,-28.1880,1365.00,226.20)"/>
<circle r="1" fill="url(#s128)" transform="matrix(106.1424,-18.8244,-74.4408,-27.2160,1365.00,222.60)"/>
<circle r="1" fill="url(#s129)" transform="matrix(102.3516,-18.1521,-71.7822,-26.2440,1365.00,219.00)"/>
<circle r="1" fill="url(#s130)" transform="matrix(98.5608,-17.4798,-69.1236,-25.2720,1365.00,215.41)"/>
<circle r="1" fill="url(#s131)" transform="matrix(94.7700,-16.8075,-66.4650,-24.3000,1365.00,211.81)"/>
<circle r="1" fill="url(#s132)" transform="matrix(90.9792,-16.1352,-63.8064,-23.3280,1365.00,208.21)"/>
<circle r="1" fill="url(#s133)" transform="matrix(87.1884,-15.4629,-61.1478,-22.3560,1365.00,204.61)"/>
<circle r="1" fill="url(#s134)" transform="matrix(83.3976,-14.7906,-58.4892,-21.3840,1365.00,201.02)"/>
<circle r="1" fill="url(#s135)" transform="matrix(79.6068,-14.1183,-55.8306,-20.4120,1365.00,197.42)"/>
<circle r="1" fill="url(#s136)" transform="matrix(75.8160,-13.4460,-53.1720,-19.4400,1365.00,193.82)"/>
<circle r="1" fill="url(#s137)" transform="matrix(72.0252,-12.7737,-50.5134,-18.4680,1365.00,190.22)"/>
<circle r="1" fill="url(#s138)" transform="matrix(68.2344,-12.1014,-47.8548,-17.4960,1365.00,186.62)"/>
<circle r="1" fill="url(#s139)" transform="matrix(64.4436,-11.4291,-45.1962,-16.5240,1365.00,183.03)"/>
<circle r="1" fill="url(#s140)" transform="matrix(60.6528,-10.7568,-42.5376,-15.5520,1365.00,179.43)"/>
<circle r="1" fill="url(#s141)" transform="matrix(56.8620,-10.0845,-39.8790,-14.5800,1365.00,175.83)"/>
<circle r="1" fill="url(#s142)" transform="matrix(53.0712,-9.4122,-37.2204,-13.6080,1365.00,172.23)"/>
<circle r="1" fill="url(#s143)" transform="matrix(49.2804,-8.7399,-34.5618,-12.6360,1365.00,168.64)"/>
<circle r="1" fill="url(#s144)" transform="matrix(45.4896,-8.0676,-31.9032,-11.6640,1365.00,165.04)"/>
<circle r="1" fill="url(#s145)" transform="matrix(41.6988,-7.3953,-29.2446,-10.6920,1365.00,161.44)"/>
<circle r="1" fill="url(#s146)" transform="matrix(37.9080,-6.7230,-26.5860,-9.7200,1365.00,157.84)"/>
<circle r="1" fill="url(#s147)" transform="matrix(34.1172,-6.0507,-23.9274,-8.7480,1365.00,154.25)"/>
<circle r="1" fill="url(#s148)" transform="matrix(30.3264,-5.3784,-21.2688,-7.7760,1365.00,150.65)"/>
<circle r="1" fill="url(#s149)" transform="matrix(26.5356,-4.7061,-18.6102,-6.8040,1365.00,147.05)"/>
<circle r="1" fill="url(#s150)" transform="matrix(22.7448,-4.0338,-15.9516,-5.8320,1365.00,143.45)"/>
<circle r="1" fill="url(#s151)" transform="matrix(18.9540,-3.3615,-13.2930,-4.8600,1365.00,139.86)"/>
<circle r="1" fill="url(#s152)" transform="matrix(15.1632,-2.6892,-10.6344,-3.8880,1365.00,136.26)"/>
<circle r="1" fill="url(#s153)" transform="matrix(11.3724,-2.0169,-7.9758,-2.9160,1365.00,132.66)"/>
<circle r="1" fill="url(#s154)" transform="matrix(7.5816,-1.3446,-5.3172,-1.9440,1365.00,129.06)"/>
<circle r="1" fill="url(#s155)" transform="matrix(3.7908,-0.6723,-2.6586,-0.9720,1365.00,125.46)"/>
<path d="M1405.8,360.6 L1410.7,360.4 L1415.6,360.1 L1420.4,359.8 L1425.2,359.5 L1430.1,359.2 L1434.8,358.8 L1439.6,358.4 L1444.3,358 L1449,357.6 L1453.6,357.1 L1458.2,356.6 L1462.7,356.1 L1467.3,355.6 L1471.7,355 L1476.1,354.4 L1480.5,353.8 L1484.8,353.2 L1489.1,352.5 L1493.3,351.9 L1497.4,351.2 L1501.5,350.4 L1505.5,349.7 L1509.5,348.9 L1513.3,348.1 L1517.2,347.3 L1520.9,346.5 L1524.6,345.6 L1528.2,344.8 L1531.7,343.9 L1535.2,343 L1538.6,342 L1541.9,341.1 L1545.1,340.1 L1548.2,339.1 L1551.3,338.1 L1554.3,337.1 L1557.2,336.1 L1560,335 L1562.7,334 L1565.3,332.9 L1567.8,331.8 L1570.2,330.7 L1572.6,329.6 L1574.8,328.4 L1577,327.3 L1579,326.1 L1581,325 L1582.9,323.8 L1584.6,322.6 L1586.3,321.4 L1587.8,320.2 L1589.3,319 L1590.7,317.8 L1591.9,316.5 L1593.1,315.3 L1594.1,314 L1595.1,312.8 L1595.9,311.5 L1596.6,310.3 L1597.3,309 L1597.8,307.8 L1598.2,306.5 L1598.5,305.2 L1598.7,303.9 L1598.8,302.7 L1598.8,301.4 L1598.7,300.1 L1598.5,298.9 L1598.1,297.6 L1597.7,296.3 L1597.2,295 L1596.5,293.8 L1595.8,292.5 L1594.9,291.3 L1594,290 L1592.9,288.8 L1591.7,287.5 L1590.5,286.3 L1589.1,285.1 L1587.6,283.9 L1586,282.6 L1584.3,281.4 L1582.6,280.2 L1580.7,279.1 L1578.7,277.9 L1576.6,276.7 L1574.5,275.6 L1572.2,274.4 L1569.9,273.3 L1567.4,272.2" fill="none" stroke="#b0d8bc" stroke-width="1.4" stroke-dasharray="2 2" opacity="0.45"/>
<path d="M1424.6,170.7 L1404.2,169.3 L1383.5,168.4 L1362.7,168.1 L1341.9,168.3 L1321.4,169 L1301.5,170.2 L1282.3,172 M1408.3,162.9 L1389.8,161.9 L1371.2,161.4 L1352.5,161.3 L1334.1,161.7 L1316,162.6 L1298.5,163.9 M1410,155.5 L1393.9,154.4 L1377.7,153.7 L1361.3,153.4 L1345.1,153.6 L1329.2,154.2 L1313.7,155.1 M1395.2,146.6 L1381.7,145.9 L1368,145.5 L1354.4,145.4 L1341,145.7 L1327.9,146.4 M1383,138 L1372.2,137.5 L1361.4,137.3 L1350.7,137.4 L1340.4,137.8 M1373.3,129.5 L1365.8,129.2 L1358.4,129.1 L1351.2,129.3" fill="none" stroke="#3aa8a0" stroke-width="2.4" opacity="0.7" stroke-linejoin="round"/>
<path d="M1463.6,175.1 L1444.5,172.7 L1424.6,170.7 M1282.3,172 L1263.9,174.2 M1444,166.4 L1426.4,164.4 L1408.3,162.9 M1298.5,163.9 L1281.8,165.6 L1265.9,167.8 M1440.9,159 L1425.7,157 L1410,155.5 M1313.7,155.1 L1298.8,156.5 L1284.7,158.2 M1421.6,149.2 L1408.6,147.7 L1395.2,146.6 M1327.9,146.4 L1315.3,147.3 L1303.2,148.6 L1291.9,150.2 M1414.4,141.1 L1404.2,139.8 L1393.7,138.7 L1383,138 M1340.4,137.8 L1330.3,138.4 L1320.7,139.2 L1311.7,140.3 M1402.8,132.5 L1395.7,131.4 L1388.3,130.6 L1380.8,129.9 L1373.3,129.5 M1351.2,129.3 L1344.2,129.6 L1337.5,130 L1331.2,130.7 L1325.4,131.4 L1320.1,132.4" fill="none" stroke="#26c4ac" stroke-width="2.5" stroke-linejoin="round"/>
<path d="M1196,264.1 L1211.3,268.1 L1228.1,271.7 L1246.3,274.8 L1265.6,277.5 L1285.9,279.6 L1307,281.1 L1328.5,282.1 L1350.4,282.5 L1372.3,282.3 L1394.1,281.6 L1415.6,280.4 L1436.4,278.6 L1456.5,276.3 L1475.5,273.4 L1493.4,270.1 L1510,266.4 L1525,262.3 L1538.3,257.8 L1549.9,252.9 L1559.5,247.9 L1567.2,242.6 L1572.7,237.1 L1576.2,231.5 L1577.5,225.9 L1576.7,220.2 L1573.7,214.7 L1568.7,209.2 L1561.6,203.9 L1552.5,198.8 L1541.6,193.9 L1528.9,189.4 L1514.6,185.2 L1498.8,181.4 L1481.8,178 L1463.6,175.1 M1263.9,174.2 L1246.7,176.9 L1230.7,180 L1216.1,183.5 L1203.1,187.3 L1191.7,191.4 L1182.1,195.9 L1174.5,200.5 L1168.7,205.3 L1165,210.2 L1163.3,215.2 L1163.6,220.2 L1166,225.1 L1170.4,230 L1176.7,234.7 L1184.9,239.2 L1194.9,243.5 L1206.6,247.5 L1219.9,251.1 L1234.6,254.5 L1250.5,257.4 L1267.5,259.9 L1285.5,261.9 L1304.2,263.5 L1323.5,264.5 L1343.1,265.1 L1362.8,265.2 L1382.6,264.7 L1402,263.8 L1421.1,262.3 L1439.5,260.4 L1457,258 L1473.6,255.2 L1489.1,252 L1503.2,248.4 L1515.9,244.4 L1527,240.2 L1536.4,235.7 L1544.1,231 L1549.9,226.1 L1553.8,221 L1555.9,216 L1555.9,210.8 L1554.1,205.8 L1550.3,200.8 L1544.7,195.9 L1537.3,191.2 L1528.2,186.7 L1517.4,182.4 L1505.2,178.5 L1491.5,174.9 L1476.7,171.6 L1460.8,168.8 L1444,166.4 M1265.9,167.8 L1251.1,170.4 L1237.5,173.3 L1225.3,176.6 L1214.5,180.1 L1205.3,183.9 L1197.7,188 L1191.9,192.1 L1187.8,196.4 L1185.5,200.8 L1185.1,205.2 L1186.5,209.6 L1189.6,213.9 L1194.6,218.2 L1201.2,222.2 L1209.5,226.1 L1219.2,229.7 L1230.5,233 L1243,236.1 L1256.8,238.8 L1271.5,241.1 L1287.2,243 L1303.5,244.6 L1320.5,245.6 L1337.8,246.3 L1355.3,246.5 L1372.8,246.2 L1390.2,245.5 L1407.3,244.4 L1423.8,242.8 L1439.7,240.8 L1454.8,238.4 L1468.9,235.7 L1481.9,232.6 L1493.7,229.2 L1504.1,225.5 L1513.1,221.5 L1520.5,217.4 L1526.3,213.1 L1530.5,208.6 L1533,204.1 L1533.7,199.5 L1532.7,195 L1530.1,190.5 L1525.8,186.1 L1519.8,181.8 L1512.4,177.8 L1503.4,173.9 L1493.2,170.3 L1481.6,166.9 L1469,163.9 L1455.4,161.3 L1440.9,159 M1284.7,158.2 L1271.5,160.2 L1259.2,162.6 L1248.1,165.3 L1238.3,168.3 L1229.7,171.4 L1222.6,174.8 L1217,178.3 L1212.9,182 L1210.3,185.7 L1209.3,189.5 L1209.9,193.2 L1212.1,196.9 L1215.8,200.6 L1221,204.1 L1227.6,207.4 L1235.5,210.6 L1244.8,213.5 L1255.2,216.2 L1266.6,218.6 L1279,220.6 L1292.2,222.4 L1306,223.8 L1320.3,224.8 L1335.1,225.4 L1350,225.7 L1365,225.6 L1380,225 L1394.7,224.2 L1409,222.9 L1422.8,221.3 L1435.9,219.3 L1448.2,217 L1459.7,214.4 L1470.1,211.6 L1479.3,208.5 L1487.4,205.1 L1494.2,201.6 L1499.6,198 L1503.7,194.2 L1506.3,190.3 L1507.5,186.4 L1507.2,182.5 L1505.5,178.7 L1502.4,174.9 L1497.9,171.2 L1492.1,167.6 L1485,164.3 L1476.8,161.1 L1467.5,158.1 L1457.2,155.5 L1446,153.1 L1434.1,151 L1421.6,149.2 M1291.9,150.2 L1281.4,152 L1271.8,154.1 L1263.2,156.4 L1255.6,159 L1249.3,161.7 L1244.1,164.5 L1240.2,167.4 L1237.6,170.5 L1236.3,173.5 L1236.3,176.6 L1237.7,179.6 L1240.2,182.6 L1244.1,185.5 L1249.1,188.3 L1255.3,190.9 L1262.5,193.3 L1270.7,195.6 L1279.8,197.6 L1289.7,199.3 L1300.3,200.8 L1311.5,202 L1323.1,202.9 L1335.1,203.5 L1347.3,203.8 L1359.6,203.7 L1371.8,203.4 L1383.9,202.7 L1395.7,201.8 L1407.2,200.5 L1418.1,198.9 L1428.4,197.1 L1437.9,195 L1446.7,192.7 L1454.6,190.2 L1461.5,187.5 L1467.4,184.7 L1472.2,181.7 L1475.9,178.6 L1478.4,175.5 L1479.7,172.3 L1479.9,169.1 L1478.9,165.9 L1476.8,162.7 L1473.5,159.7 L1469.2,156.7 L1463.8,153.9 L1457.5,151.2 L1450.3,148.8 L1442.3,146.5 L1433.6,144.4 L1424.3,142.6 L1414.4,141.1 M1311.7,140.3 L1303.3,141.6 L1295.6,143.1 L1288.6,144.8 L1282.5,146.7 L1277.4,148.7 L1273.1,150.8 L1269.8,153 L1267.5,155.2 L1266.3,157.5 L1266,159.8 L1266.7,162.1 L1268.5,164.3 L1271.1,166.4 L1274.7,168.5 L1279.2,170.5 L1284.5,172.3 L1290.6,173.9 L1297.3,175.4 L1304.7,176.7 L1312.6,177.8 L1320.9,178.7 L1329.6,179.4 L1338.6,179.8 L1347.7,180 L1356.9,179.9 L1366.1,179.6 L1375.1,179.1 L1384,178.4 L1392.5,177.4 L1400.7,176.2 L1408.4,174.8 L1415.6,173.2 L1422.2,171.5 L1428.2,169.6 L1433.4,167.6 L1437.9,165.4 L1441.6,163.2 L1444.4,160.9 L1446.5,158.5 L1447.6,156.1 L1447.9,153.7 L1447.4,151.3 L1446,149 L1443.9,146.7 L1440.9,144.4 L1437.2,142.3 L1432.8,140.3 L1427.8,138.4 L1422.3,136.7 L1416.2,135.1 L1409.7,133.7 L1402.8,132.5 M1320.1,132.4 L1315.3,133.4 L1311,134.6 L1307.4,135.8 L1304.5,137.1 L1302.2,138.5 L1300.5,139.9 L1299.6,141.3 L1299.3,142.7 L1299.7,144.1 L1300.8,145.5 L1302.5,146.9 L1304.8,148.1 L1307.7,149.3 L1311.1,150.4 L1315,151.4 L1319.3,152.3 L1324,153.1 L1329,153.8 L1334.2,154.5 L1339.7,155" fill="none" stroke="#22e8e8" stroke-width="2.4" stroke-linejoin="round"/>
<path d="M1383.6,184.9 C1382.8,186 1380.2,187.7 1378.5,191.3 C1376.8,194.9 1375.6,200.6 1373.5,206.5 C1371.4,212.4 1368.8,219.6 1365.8,226.8 C1362.8,234 1359.5,242.1 1355.7,249.7 C1351.9,257.3 1346.8,266.1 1343,272.5 C1339.2,278.9 1338.5,281.6 1332.8,287.8 C1327.1,294.1 1317.9,302.4 1309,310 C1300.1,317.6 1284.2,329.5 1279.3,333.4" fill="none" stroke="#e020e0" stroke-width="2.2" stroke-linejoin="round" stroke-linecap="round"/>
<circle cx="1190" cy="261.5" r="4.5" fill="#ff1010"/>
<circle cx="1383.6" cy="184.9" r="4" fill="#ff1010"/>
<circle cx="1339.2" cy="151.4" r="5" fill="#20f020"/>
<circle cx="1279.3" cy="333.4" r="4" fill="#20d020"/>
<line x1="1006.7" y1="103.4" x2="1002.7" y2="103.4" stroke="#262626" stroke-width="1" />
<text x="999.2" y="108" font-size="16.5" text-anchor="end" font-weight="normal" fill="#262626" >0</text>
<line x1="1006.7" y1="148.8" x2="1002.7" y2="148.8" stroke="#262626" stroke-width="1" />
<text x="999.2" y="153.4" font-size="16.5" text-anchor="end" font-weight="normal" fill="#262626" >-250</text>
<line x1="1006.7" y1="194.3" x2="1002.7" y2="194.3" stroke="#262626" stroke-width="1" />
<text x="999.2" y="198.9" font-size="16.5" text-anchor="end" font-weight="normal" fill="#262626" >-500</text>
<line x1="1006.7" y1="239.7" x2="1002.7" y2="239.7" stroke="#262626" stroke-width="1" />
<text x="999.2" y="244.3" font-size="16.5" text-anchor="end" font-weight="normal" fill="#262626" >-750</text>
<line x1="1006.7" y1="285.1" x2="1002.7" y2="285.1" stroke="#262626" stroke-width="1" />
<text x="999.2" y="289.7" font-size="16.5" text-anchor="end" font-weight="normal" fill="#262626" >-1000</text>
<line x1="1006.7" y1="285.1" x2="1002.1" y2="285.9" stroke="#262626" stroke-width="1" />
<text x="997.9" y="306.6" font-size="16.5" text-anchor="end" font-weight="normal" fill="#262626" >100</text>
<line x1="1080.6" y1="312.1" x2="1075.9" y2="312.9" stroke="#262626" stroke-width="1" />
<text x="1071.8" y="333.6" font-size="16.5" text-anchor="end" font-weight="normal" fill="#262626" >50</text>
<line x1="1154.4" y1="339.1" x2="1149.8" y2="339.9" stroke="#262626" stroke-width="1" />
<text x="1145.6" y="360.6" font-size="16.5" text-anchor="end" font-weight="normal" fill="#262626" >0</text>
<line x1="1228.2" y1="366.1" x2="1223.6" y2="366.9" stroke="#262626" stroke-width="1" />
<text x="1219.5" y="387.6" font-size="16.5" text-anchor="end" font-weight="normal" fill="#262626" >-50</text>
<line x1="1302.1" y1="393.1" x2="1297.5" y2="393.9" stroke="#262626" stroke-width="1" />
<text x="1293.3" y="414.6" font-size="16.5" text-anchor="end" font-weight="normal" fill="#262626" >-100</text>
<line x1="1302.1" y1="393.1" x2="1305.3" y2="394.3" stroke="#262626" stroke-width="1" />
<text x="1310.1" y="415.1" font-size="16.5" text-anchor="start" font-weight="normal" fill="#262626" >-100</text>
<line x1="1407.4" y1="374.4" x2="1410.6" y2="375.6" stroke="#262626" stroke-width="1" />
<text x="1415.4" y="396.4" font-size="16.5" text-anchor="start" font-weight="normal" fill="#262626" >-50</text>
<line x1="1512.7" y1="355.8" x2="1515.9" y2="356.9" stroke="#262626" stroke-width="1" />
<text x="1520.7" y="377.8" font-size="16.5" text-anchor="start" font-weight="normal" fill="#262626" >0</text>
<line x1="1618" y1="337.1" x2="1621.2" y2="338.3" stroke="#262626" stroke-width="1" />
<text x="1626" y="359.1" font-size="16.5" text-anchor="start" font-weight="normal" fill="#262626" >50</text>
<line x1="1723.3" y1="318.4" x2="1726.5" y2="319.6" stroke="#262626" stroke-width="1" />
<text x="1731.3" y="340.4" font-size="16.5" text-anchor="start" font-weight="normal" fill="#262626" >100</text>
<text x="1105" y="372" font-size="18" text-anchor="middle" font-weight="normal" fill="#262626" >y (km)</text>
<text x="1560" y="391" font-size="18" text-anchor="middle" font-weight="normal" fill="#262626" >x (km)</text>
<text x="945" y="193" font-size="18" text-anchor="middle" font-weight="normal" fill="#262626" transform="rotate(-90 945 193)" dy="6">depth (m)</text>
<line x1="193.5" y1="654.1" x2="193.5" y2="555.9" stroke="#dcdcdc" stroke-width="1" />
<line x1="271.6" y1="623" x2="271.6" y2="524.7" stroke="#dcdcdc" stroke-width="1" />
<line x1="349.8" y1="591.9" x2="349.8" y2="493.6" stroke="#dcdcdc" stroke-width="1" />
<line x1="643.8" y1="662.3" x2="643.8" y2="564" stroke="#dcdcdc" stroke-width="1" />
<line x1="571.8" y1="628.5" x2="571.8" y2="530.2" stroke="#dcdcdc" stroke-width="1" />
<line x1="499.9" y1="594.6" x2="499.9" y2="496.3" stroke="#dcdcdc" stroke-width="1" />
<line x1="115.4" y1="636.1" x2="427.9" y2="511.6" stroke="#dcdcdc" stroke-width="1" />
<line x1="427.9" y1="511.6" x2="715.8" y2="647.1" stroke="#dcdcdc" stroke-width="1" />
<line x1="115.4" y1="685.3" x2="115.4" y2="587" stroke="#262626" stroke-width="1.1" />
<line x1="115.4" y1="587" x2="427.9" y2="462.4" stroke="#262626" stroke-width="1.1" />
<line x1="427.9" y1="462.4" x2="715.8" y2="597.9" stroke="#262626" stroke-width="1.1" />
<line x1="427.9" y1="560.7" x2="427.9" y2="462.4" stroke="#262626" stroke-width="1.1" />
<line x1="715.8" y1="696.2" x2="715.8" y2="597.9" stroke="#262626" stroke-width="1.1" />
<polygon points="115.4,685.3 427.9,560.7 715.8,696.2 403.3,820.8" fill="#03703c"/>
<line x1="115.4" y1="685.3" x2="403.3" y2="820.8" stroke="#12261a" stroke-width="1.1" />
<line x1="403.3" y1="820.8" x2="715.8" y2="696.2" stroke="#12261a" stroke-width="1.1" />
<polygon points="415.6,593.4 286,629.8 271.6,623 271.6,620.6 286,627.4 415.6,593.4" fill="url(#v157)"/>
<polygon points="415.6,593.4 286,628.6 271.6,621.8 271.6,619.5 286,626.2 415.6,593.4" fill="url(#v158)"/>
<polygon points="415.6,593.4 286,627.4 271.6,620.6 271.6,618.3 286,625.1 415.6,593.4" fill="url(#v159)"/>
<polygon points="415.6,593.4 286,626.2 271.6,619.5 271.6,617.1 286,623.9 415.6,593.4" fill="url(#v160)"/>
<polygon points="415.6,593.4 286,625.1 271.6,618.3 271.6,615.6 286,622.4 415.6,593.4" fill="url(#v161)"/>
<polygon points="415.6,593.4 286,623.9 271.6,617.1 271.6,614.2 286,620.9 415.6,593.3" fill="url(#v162)"/>
<polygon points="415.6,593.4 286,622.4 271.6,615.6 271.6,612.7 286,619.5 415.6,593.3" fill="url(#v163)"/>
<polygon points="415.6,593.3 286,620.9 271.6,614.2 271.6,611.2 286,618 415.6,593.3" fill="url(#v164)"/>
<polygon points="415.6,593.3 286,619.5 271.6,612.7 271.6,608.3 286,615 415.6,593.3" fill="url(#v165)"/>
<polygon points="415.6,593.3 286,618 271.6,611.2 271.6,605.3 286,612.1 415.6,593.3" fill="url(#v166)"/>
<polygon points="415.6,593.3 286,615 271.6,608.3 271.6,602.4 286,609.1 415.6,593.2" fill="url(#v167)"/>
<polygon points="415.6,593.3 286,612.1 271.6,605.3 271.6,598.9 286,605.7 415.6,593.2" fill="url(#v168)"/>
<polygon points="415.6,593.2 286,609.1 271.6,602.4 271.6,595.5 286,602.3 415.6,593.2" fill="url(#v169)"/>
<polygon points="415.6,593.2 286,605.7 271.6,598.9 271.6,592 286,598.8 415.6,593.1" fill="url(#v170)"/>
<polygon points="415.6,593.2 286,602.3 271.6,595.5 271.6,588.6 286,595.4 415.6,593.1" fill="url(#v171)"/>
<polygon points="415.6,593.1 286,598.8 271.6,592 271.6,584.7 286,591.4 415.6,593" fill="url(#v172)"/>
<polygon points="415.6,593.1 286,595.4 271.6,588.6 271.6,580.2 286,587 415.6,593" fill="url(#v173)"/>
<polygon points="415.6,593 286,591.4 271.6,584.7 271.6,575.3 286,582.1 415.6,593" fill="url(#v174)"/>
<polygon points="415.6,593 286,587 271.6,580.2 271.6,569.9 286,576.7 415.6,592.9" fill="url(#v175)"/>
<polygon points="415.6,593 286,582.1 271.6,575.3 271.6,564 286,570.8 415.6,592.8" fill="url(#v176)"/>
<polygon points="415.6,592.9 286,576.7 271.6,569.9 271.6,557.1 286,563.9 415.6,592.8" fill="url(#v177)"/>
<polygon points="415.6,592.8 286,570.8 271.6,564 271.6,549.3 286,556 415.6,592.7" fill="url(#v178)"/>
<polygon points="415.6,592.8 286,563.9 271.6,557.1 271.6,540.4 286,547.2 415.6,592.6" fill="url(#v179)"/>
<polygon points="415.6,592.7 286,556 271.6,549.3 271.6,532.6 286,539.3 415.6,592.5" fill="url(#v180)"/>
<polygon points="415.6,592.6 286,547.2 271.6,540.4 271.6,524.7 286,531.5 415.6,592.5" fill="url(#v181)"/>
<polygon points="415.6,592.5 286,539.3 271.6,532.6 271.6,524.7 286,531.5 415.6,592.5" fill="url(#v182)"/>
<polygon points="415.6,593.4 556.2,634.7 571.8,628.5 571.8,626.1 556.2,632.3 415.6,593.4" fill="url(#v209)"/>
<polygon points="415.6,593.4 556.2,633.5 571.8,627.3 571.8,624.9 556.2,631.1 415.6,593.4" fill="url(#v210)"/>
<polygon points="415.6,593.4 556.2,632.3 571.8,626.1 571.8,623.7 556.2,630 415.6,593.4" fill="url(#v211)"/>
<polygon points="415.6,593.4 556.2,631.1 571.8,624.9 571.8,622.6 556.2,628.8 415.6,593.4" fill="url(#v212)"/>
<polygon points="415.6,593.4 556.2,630 571.8,623.7 571.8,621.1 556.2,627.3 415.6,593.4" fill="url(#v213)"/>
<polygon points="415.6,593.4 556.2,628.8 571.8,622.6 571.8,619.6 556.2,625.8 415.6,593.3" fill="url(#v214)"/>
<polygon points="415.6,593.4 556.2,627.3 571.8,621.1 571.8,618.1 556.2,624.4 415.6,593.3" fill="url(#v215)"/>
<polygon points="415.6,593.3 556.2,625.8 571.8,619.6 571.8,616.7 556.2,622.9 415.6,593.3" fill="url(#v216)"/>
<polygon points="415.6,593.3 556.2,624.4 571.8,618.1 571.8,613.7 556.2,619.9 415.6,593.3" fill="url(#v217)"/>
<polygon points="415.6,593.3 556.2,622.9 571.8,616.7 571.8,610.8 556.2,617 415.6,593.3" fill="url(#v218)"/>
<polygon points="415.6,593.3 556.2,619.9 571.8,613.7 571.8,607.8 556.2,614 415.6,593.2" fill="url(#v219)"/>
<polygon points="415.6,593.3 556.2,617 571.8,610.8 571.8,604.4 556.2,610.6 415.6,593.2" fill="url(#v220)"/>
<polygon points="415.6,593.2 556.2,614 571.8,607.8 571.8,600.9 556.2,607.2 415.6,593.2" fill="url(#v221)"/>
<polygon points="415.6,593.2 556.2,610.6 571.8,604.4 571.8,597.5 556.2,603.7 415.6,593.1" fill="url(#v222)"/>
<polygon points="415.6,593.2 556.2,607.2 571.8,600.9 571.8,594 556.2,600.3 415.6,593.1" fill="url(#v223)"/>
<polygon points="415.6,593.1 556.2,603.7 571.8,597.5 571.8,590.1 556.2,596.3 415.6,593" fill="url(#v224)"/>
<polygon points="415.6,593.1 556.2,600.3 571.8,594 571.8,585.7 556.2,591.9 415.6,593" fill="url(#v225)"/>
<polygon points="415.6,593 556.2,596.3 571.8,590.1 571.8,580.8 556.2,587 415.6,593" fill="url(#v226)"/>
<polygon points="415.6,593 556.2,591.9 571.8,585.7 571.8,575.4 556.2,581.6 415.6,592.9" fill="url(#v227)"/>
<polygon points="415.6,593 556.2,587 571.8,580.8 571.8,569.5 556.2,575.7 415.6,592.8" fill="url(#v228)"/>
<polygon points="415.6,592.9 556.2,581.6 571.8,575.4 571.8,562.6 556.2,568.8 415.6,592.8" fill="url(#v229)"/>
<polygon points="415.6,592.8 556.2,575.7 571.8,569.5 571.8,554.7 556.2,561 415.6,592.7" fill="url(#v230)"/>
<polygon points="415.6,592.8 556.2,568.8 571.8,562.6 571.8,545.9 556.2,552.1 415.6,592.6" fill="url(#v231)"/>
<polygon points="415.6,592.7 556.2,561 571.8,554.7 571.8,538 556.2,544.2 415.6,592.5" fill="url(#v232)"/>
<polygon points="415.6,592.6 556.2,552.1 571.8,545.9 571.8,530.2 556.2,536.4 415.6,592.5" fill="url(#v233)"/>
<polygon points="415.6,592.5 556.2,544.2 571.8,538 571.8,530.2 556.2,536.4 415.6,592.5" fill="url(#v234)"/>
<circle r="1" fill="#03703c" transform="matrix(140.6250,-56.0700,-129.5550,-60.9750,415.60,690.75)"/>
<circle r="1" fill="#07763e" transform="matrix(138.6161,-55.2690,-127.7042,-60.1039,415.60,689.36)"/>
<circle r="1" fill="#0b7d40" transform="matrix(136.6071,-54.4680,-125.8534,-59.2329,415.60,687.97)"/>
<circle r="1" fill="#108342" transform="matrix(134.5982,-53.6670,-124.0026,-58.3618,415.60,686.58)"/>
<circle r="1" fill="#158944" transform="matrix(132.5893,-52.8660,-122.1519,-57.4907,415.60,685.19)"/>
<circle r="1" fill="#1a8e47" transform="matrix(130.5804,-52.0650,-120.3011,-56.6196,415.60,683.80)"/>
<circle r="1" fill="#209349" transform="matrix(128.5714,-51.2640,-118.4503,-55.7486,415.60,682.41)"/>
<circle r="1" fill="#25984b" transform="matrix(126.5625,-50.4630,-116.5995,-54.8775,415.60,681.02)"/>
<circle r="1" fill="#2b9d4e" transform="matrix(124.5536,-49.6620,-114.7487,-54.0064,415.60,679.63)"/>
<circle r="1" fill="#30a250" transform="matrix(122.5446,-48.8610,-112.8979,-53.1354,415.60,678.24)"/>
<circle r="1" fill="#39a853" transform="matrix(120.5357,-48.0600,-111.0471,-52.2643,415.60,676.85)"/>
<circle r="1" fill="#41ad56" transform="matrix(118.5268,-47.2590,-109.1964,-51.3932,415.60,675.46)"/>
<circle r="1" fill="#4ab359" transform="matrix(116.5179,-46.4580,-107.3456,-50.5221,415.60,674.07)"/>
<circle r="1" fill="#52b95c" transform="matrix(114.5089,-45.6570,-105.4948,-49.6511,415.60,672.68)"/>
<circle r="1" fill="#5bbe5f" transform="matrix(112.5000,-44.8560,-103.6440,-48.7800,415.60,671.29)"/>
<circle r="1" fill="#64c462" transform="matrix(110.4911,-44.0550,-101.7932,-47.9089,415.60,669.90)"/>
<circle r="1" fill="#70ca66" transform="matrix(108.4821,-43.2540,-99.9424,-47.0379,415.60,668.51)"/>
<circle r="1" fill="#7ccf69" transform="matrix(106.4732,-42.4530,-98.0916,-46.1668,415.60,667.12)"/>
<circle r="1" fill="#88d56c" transform="matrix(104.4643,-41.6520,-96.2409,-45.2957,415.60,665.73)"/>
<circle r="1" fill="#94da6f" transform="matrix(102.4554,-40.8510,-94.3901,-44.4246,415.60,664.34)"/>
<circle r="1" fill="#9fe072" transform="matrix(100.4464,-40.0500,-92.5393,-43.5536,415.60,662.95)"/>
<circle r="1" fill="#aae576" transform="matrix(98.4375,-39.2490,-90.6885,-42.6825,415.60,661.55)"/>
<circle r="1" fill="#b3e77b" transform="matrix(96.4286,-38.4480,-88.8377,-41.8114,415.60,660.16)"/>
<circle r="1" fill="#bce981" transform="matrix(94.4196,-37.6470,-86.9869,-40.9404,415.60,658.77)"/>
<circle r="1" fill="#c5ec87" transform="matrix(92.4107,-36.8460,-85.1361,-40.0693,415.60,657.38)"/>
<circle r="1" fill="#ceee8d" transform="matrix(90.4018,-36.0450,-83.2854,-39.1982,415.60,655.99)"/>
<circle r="1" fill="#d7f193" transform="matrix(88.3929,-35.2440,-81.4346,-38.3271,415.60,654.60)"/>
<circle r="1" fill="#def298" transform="matrix(86.3839,-34.4430,-79.5838,-37.4561,415.60,653.21)"/>
<circle r="1" fill="#e1f39c" transform="matrix(84.3750,-33.6420,-77.7330,-36.5850,415.60,651.82)"/>
<circle r="1" fill="#e5f4a0" transform="matrix(82.3661,-32.8410,-75.8822,-35.7139,415.60,650.43)"/>
<circle r="1" fill="#e9f5a4" transform="matrix(80.3571,-32.0400,-74.0314,-34.8429,415.60,649.04)"/>
<circle r="1" fill="#edf6a8" transform="matrix(78.3482,-31.2390,-72.1806,-33.9718,415.60,647.65)"/>
<circle r="1" fill="#f0f6ac" transform="matrix(76.3393,-30.4380,-70.3299,-33.1007,415.60,646.26)"/>
<circle r="1" fill="#f4f7b0" transform="matrix(74.3304,-29.6370,-68.4791,-32.2296,415.60,644.87)"/>
<circle r="1" fill="#f8f8b4" transform="matrix(72.3214,-28.8360,-66.6283,-31.3586,415.60,643.48)"/>
<circle r="1" fill="#fcf9b9" transform="matrix(70.3125,-28.0350,-64.7775,-30.4875,415.60,642.09)"/>
<circle r="1" fill="#fdf5b5" transform="matrix(68.3036,-27.2340,-62.9267,-29.6164,415.60,640.70)"/>
<circle r="1" fill="#fcf0ac" transform="matrix(66.2946,-26.4330,-61.0759,-28.7454,415.60,639.31)"/>
<circle r="1" fill="#fceaa4" transform="matrix(64.2857,-25.6320,-59.2251,-27.8743,415.60,637.92)"/>
<circle r="1" fill="#fce59b" transform="matrix(62.2768,-24.8310,-57.3744,-27.0032,415.60,636.53)"/>
<circle r="1" fill="#fbdf93" transform="matrix(60.2679,-24.0300,-55.5236,-26.1321,415.60,635.14)"/>
<circle r="1" fill="#fbda8b" transform="matrix(58.2589,-23.2290,-53.6728,-25.2611,415.60,633.75)"/>
<circle r="1" fill="#fad181" transform="matrix(56.2500,-22.4280,-51.8220,-24.3900,415.60,632.36)"/>
<circle r="1" fill="#f9c878" transform="matrix(54.2411,-21.6270,-49.9712,-23.5189,415.60,630.97)"/>
<circle r="1" fill="#f8be6e" transform="matrix(52.2321,-20.8260,-48.1204,-22.6479,415.60,629.58)"/>
<circle r="1" fill="#f7b565" transform="matrix(50.2232,-20.0250,-46.2696,-21.7768,415.60,628.19)"/>
<circle r="1" fill="#f5ab5b" transform="matrix(48.2143,-19.2240,-44.4189,-20.9057,415.60,626.80)"/>
<circle r="1" fill="#f4a252" transform="matrix(46.2054,-18.4230,-42.5681,-20.0346,415.60,625.41)"/>
<circle r="1" fill="#f39a4f" transform="matrix(44.1964,-17.6220,-40.7173,-19.1636,415.60,624.02)"/>
<circle r="1" fill="#f2934d" transform="matrix(42.1875,-16.8210,-38.8665,-18.2925,415.60,622.63)"/>
<circle r="1" fill="#f08c4b" transform="matrix(40.1786,-16.0200,-37.0157,-17.4214,415.60,621.24)"/>
<circle r="1" fill="#ef8449" transform="matrix(38.1696,-15.2190,-35.1649,-16.5504,415.60,619.85)"/>
<circle r="1" fill="#ed7d47" transform="matrix(36.1607,-14.4180,-33.3141,-15.6793,415.60,618.46)"/>
<circle r="1" fill="#ec7645" transform="matrix(34.1518,-13.6170,-31.4634,-14.8082,415.60,617.07)"/>
<circle r="1" fill="#eb6f44" transform="matrix(32.1429,-12.8160,-29.6126,-13.9371,415.60,615.68)"/>
<circle r="1" fill="#e96742" transform="matrix(30.1339,-12.0150,-27.7618,-13.0661,415.60,614.29)"/>
<circle r="1" fill="#e86040" transform="matrix(28.1250,-11.2140,-25.9110,-12.1950,415.60,612.90)"/>
<circle r="1" fill="#e65b3f" transform="matrix(26.1161,-10.4130,-24.0602,-11.3239,415.60,611.51)"/>
<circle r="1" fill="#e4563f" transform="matrix(24.1071,-9.6120,-22.2094,-10.4529,415.60,610.12)"/>
<circle r="1" fill="#e2523e" transform="matrix(22.0982,-8.8110,-20.3586,-9.5818,415.60,608.73)"/>
<circle r="1" fill="#e04d3d" transform="matrix(20.0893,-8.0100,-18.5079,-8.7107,415.60,607.34)"/>
<circle r="1" fill="#de483d" transform="matrix(18.0804,-7.2090,-16.6571,-7.8396,415.60,605.95)"/>
<circle r="1" fill="#dc433c" transform="matrix(16.0714,-6.4080,-14.8063,-6.9686,415.60,604.55)"/>
<circle r="1" fill="#da3e3b" transform="matrix(14.0625,-5.6070,-12.9555,-6.0975,415.60,603.16)"/>
<circle r="1" fill="#d83a3b" transform="matrix(12.0536,-4.8060,-11.1047,-5.2264,415.60,601.77)"/>
<circle r="1" fill="#d6353a" transform="matrix(10.0446,-4.0050,-9.2539,-4.3554,415.60,600.38)"/>
<circle r="1" fill="#d33039" transform="matrix(8.0357,-3.2040,-7.4031,-3.4843,415.60,598.99)"/>
<circle r="1" fill="#d12b38" transform="matrix(6.0268,-2.4030,-5.5524,-2.6132,415.60,597.60)"/>
<circle r="1" fill="#cf2737" transform="matrix(4.0179,-1.6020,-3.7016,-1.7421,415.60,596.21)"/>
<circle r="1" fill="#cb2235" transform="matrix(2.0089,-0.8010,-1.8508,-0.8711,415.60,594.82)"/>
<path d="M223.6,694.5 L223.8,696.1 L224.1,697.6 L224.4,699.1 L224.8,700.6 L225.3,702.2 L225.8,703.7 L226.4,705.2 L227,706.7 L227.7,708.2 L228.5,709.7 L229.4,711.2 L230.3,712.7 L231.2,714.1 L232.3,715.6 L233.4,717.1 L234.5,718.5 L235.7,720 L237,721.4 L238.3,722.8 L239.7,724.2 L241.2,725.6 L242.7,727 L244.3,728.4 L245.9,729.7 L247.6,731.1 L249.3,732.4 L251.2,733.8 L253,735.1 L254.9,736.3 L256.9,737.6 L258.9,738.9 L261,740.1 L263.1,741.4 L265.3,742.6 L267.5,743.8 L269.8,744.9 L272.1,746.1 L274.5,747.2 L277,748.3 L279.4,749.4 L281.9,750.5 L284.5,751.6 L287.1,752.6 L289.8,753.6 L292.5,754.6 L295.2,755.6 L298,756.5 L300.8,757.5 L303.7,758.4 L306.6,759.3 L309.5,760.1 L312.5,761 L315.5,761.8 L318.5,762.6 L321.6,763.3 L324.7,764.1 L327.8,764.8 L331,765.5 L334.2,766.1 L337.4,766.8 L340.6,767.4 L343.9,768 L347.2,768.5 L350.5,769.1 L353.9,769.6 L357.2,770 L360.6,770.5 L364,770.9 L367.4,771.3 L370.9,771.7 L374.3,772 L377.8,772.4 L381.3,772.6 L384.8,772.9 L388.3,773.1 L391.8,773.3 L395.3,773.5 L398.8,773.7 L402.3,773.8 L405.9,773.9 L409.4,774 L412.9,774 L416.5,774 L420,774 L423.6,773.9 L427.1,773.9 L430.6,773.8 L434.2,773.6 L437.7,773.5 L441.2,773.3 L444.7,773.1 L448.2,772.8 L451.7,772.5 L455.1,772.2 L458.6,771.9 L462,771.6 L465.5,771.2 L468.9,770.8 L472.3,770.3 L475.6,769.9 L479,769.4 L482.3,768.8 L485.6,768.3 L488.9,767.7 L492.2,767.1 L495.4,766.5 L498.6,765.9 L501.8,765.2 L505,764.5 L508.1,763.8 L511.2,763 L514.2,762.2 L517.2,761.4 L520.2,760.6 L523.2,759.8 L526.1,758.9 L529,758 L531.8,757.1 L534.6,756.2 L537.4,755.2 L540.1,754.2 L542.8,753.2 L545.4,752.2 L548,751.1 L550.5,750.1 L553,749 L555.5,747.9 L557.9,746.8 L560.2,745.6 L562.5,744.5 L564.8,743.3 L567,742.1 L569.2,740.9 L571.3,739.6 L573.3,738.4 L575.3,737.1 L577.2,735.8 L579.1,734.5 L581,733.2 L582.7,731.9 L584.5,730.6 L586.1,729.2 L587.7,727.8 L589.3,726.5 L590.8,725.1 L592.2,723.7 L593.5,722.2 L594.8,720.8 L596.1,719.4 L597.3,717.9 L598.4,716.5 L599.5,715 L600.5,713.6 L601.4,712.1 L602.3,710.6 L603.1,709.1 L603.8,707.6 L604.5,706.1 L605.1,704.6 L605.7,703.1 L606.2,701.6 L606.6,700 L606.9,698.5 L607.2,697 L607.5,695.4 L607.6,693.9 L607.7,692.4 L607.8,690.8 L607.7,689.3 L607.6,687.8 L607.5,686.2 L607.2,684.7 L607,683.2 L606.6,681.7 L606.2,680.1 L605.7,678.6 L605.1,677.1 L604.5,675.6 L603.8,674.1 L603.1,672.6" fill="none" stroke="#90f0c0" stroke-width="2" stroke-dasharray="2.2 1.5" opacity="0.9"/>
<polygon points="415.6,593.4 275,746.8 259.3,753 259.3,750.7 275,744.5 415.6,593.4" fill="url(#v183)"/>
<polygon points="415.6,593.4 275,745.6 259.3,751.9 259.3,749.5 275,743.3 415.6,593.4" fill="url(#v184)"/>
<polygon points="415.6,593.4 275,744.5 259.3,750.7 259.3,748.3 275,742.1 415.6,593.4" fill="url(#v185)"/>
<polygon points="415.6,593.4 275,743.3 259.3,749.5 259.3,747.2 275,740.9 415.6,593.4" fill="url(#v186)"/>
<polygon points="415.6,593.4 275,742.1 259.3,748.3 259.3,745.7 275,739.4 415.6,593.4" fill="url(#v187)"/>
<polygon points="415.6,593.4 275,740.9 259.3,747.2 259.3,744.2 275,738 415.6,593.3" fill="url(#v188)"/>
<polygon points="415.6,593.4 275,739.4 259.3,745.7 259.3,742.7 275,736.5 415.6,593.3" fill="url(#v189)"/>
<polygon points="415.6,593.3 275,738 259.3,744.2 259.3,741.3 275,735 415.6,593.3" fill="url(#v190)"/>
<polygon points="415.6,593.3 275,736.5 259.3,742.7 259.3,738.3 275,732.1 415.6,593.3" fill="url(#v191)"/>
<polygon points="415.6,593.3 275,735 259.3,741.3 259.3,735.4 275,729.1 415.6,593.3" fill="url(#v192)"/>
<polygon points="415.6,593.3 275,732.1 259.3,738.3 259.3,732.4 275,726.2 415.6,593.2" fill="url(#v193)"/>
<polygon points="415.6,593.3 275,729.1 259.3,735.4 259.3,729 275,722.7 415.6,593.2" fill="url(#v194)"/>
<polygon points="415.6,593.2 275,726.2 259.3,732.4 259.3,725.5 275,719.3 415.6,593.2" fill="url(#v195)"/>
<polygon points="415.6,593.2 275,722.7 259.3,729 259.3,722.1 275,715.9 415.6,593.1" fill="url(#v196)"/>
<polygon points="415.6,593.2 275,719.3 259.3,725.5 259.3,718.6 275,712.4 415.6,593.1" fill="url(#v197)"/>
<polygon points="415.6,593.1 275,715.9 259.3,722.1 259.3,714.7 275,708.5 415.6,593" fill="url(#v198)"/>
<polygon points="415.6,593.1 275,712.4 259.3,718.6 259.3,710.3 275,704.1 415.6,593" fill="url(#v199)"/>
<polygon points="415.6,593 275,708.5 259.3,714.7 259.3,705.4 275,699.1 415.6,593" fill="url(#v200)"/>
<polygon points="415.6,593 275,704.1 259.3,710.3 259.3,700 275,693.7 415.6,592.9" fill="url(#v201)"/>
<polygon points="415.6,593 275,699.1 259.3,705.4 259.3,694.1 275,687.8 415.6,592.8" fill="url(#v202)"/>
<polygon points="415.6,592.9 275,693.7 259.3,700 259.3,687.2 275,681 415.6,592.8" fill="url(#v203)"/>
<polygon points="415.6,592.8 275,687.8 259.3,694.1 259.3,679.3 275,673.1 415.6,592.7" fill="url(#v204)"/>
<polygon points="415.6,592.8 275,681 259.3,687.2 259.3,670.5 275,664.2 415.6,592.6" fill="url(#v205)"/>
<polygon points="415.6,592.7 275,673.1 259.3,679.3 259.3,662.6 275,656.4 415.6,592.5" fill="url(#v206)"/>
<polygon points="415.6,592.6 275,664.2 259.3,670.5 259.3,654.8 275,648.5 415.6,592.5" fill="url(#v207)"/>
<polygon points="415.6,592.5 275,656.4 259.3,662.6 259.3,654.8 275,648.5 415.6,592.5" fill="url(#v208)"/>
<polygon points="415.6,593.4 545.2,751.7 559.5,758.5 559.5,756.1 545.2,749.4 415.6,593.4" fill="url(#v235)"/>
<polygon points="415.6,593.4 545.2,750.5 559.5,757.3 559.5,755 545.2,748.2 415.6,593.4" fill="url(#v236)"/>
<polygon points="415.6,593.4 545.2,749.4 559.5,756.1 559.5,753.8 545.2,747 415.6,593.4" fill="url(#v237)"/>
<polygon points="415.6,593.4 545.2,748.2 559.5,755 559.5,752.6 545.2,745.8 415.6,593.4" fill="url(#v238)"/>
<polygon points="415.6,593.4 545.2,747 559.5,753.8 559.5,751.1 545.2,744.4 415.6,593.4" fill="url(#v239)"/>
<polygon points="415.6,593.4 545.2,745.8 559.5,752.6 559.5,749.7 545.2,742.9 415.6,593.3" fill="url(#v240)"/>
<polygon points="415.6,593.4 545.2,744.4 559.5,751.1 559.5,748.2 545.2,741.4 415.6,593.3" fill="url(#v241)"/>
<polygon points="415.6,593.3 545.2,742.9 559.5,749.7 559.5,746.7 545.2,739.9 415.6,593.3" fill="url(#v242)"/>
<polygon points="415.6,593.3 545.2,741.4 559.5,748.2 559.5,743.8 545.2,737 415.6,593.3" fill="url(#v243)"/>
<polygon points="415.6,593.3 545.2,739.9 559.5,746.7 559.5,740.8 545.2,734 415.6,593.3" fill="url(#v244)"/>
<polygon points="415.6,593.3 545.2,737 559.5,743.8 559.5,737.9 545.2,731.1 415.6,593.2" fill="url(#v245)"/>
<polygon points="415.6,593.3 545.2,734 559.5,740.8 559.5,734.4 545.2,727.6 415.6,593.2" fill="url(#v246)"/>
<polygon points="415.6,593.2 545.2,731.1 559.5,737.9 559.5,731 545.2,724.2 415.6,593.2" fill="url(#v247)"/>
<polygon points="415.6,593.2 545.2,727.6 559.5,734.4 559.5,727.5 545.2,720.8 415.6,593.1" fill="url(#v248)"/>
<polygon points="415.6,593.2 545.2,724.2 559.5,731 559.5,724.1 545.2,717.3 415.6,593.1" fill="url(#v249)"/>
<polygon points="415.6,593.1 545.2,720.8 559.5,727.5 559.5,720.2 545.2,713.4 415.6,593" fill="url(#v250)"/>
<polygon points="415.6,593.1 545.2,717.3 559.5,724.1 559.5,715.7 545.2,709 415.6,593" fill="url(#v251)"/>
<polygon points="415.6,593 545.2,713.4 559.5,720.2 559.5,710.8 545.2,704 415.6,593" fill="url(#v252)"/>
<polygon points="415.6,593 545.2,709 559.5,715.7 559.5,705.4 545.2,698.6 415.6,592.9" fill="url(#v253)"/>
<polygon points="415.6,593 545.2,704 559.5,710.8 559.5,699.5 545.2,692.7 415.6,592.8" fill="url(#v254)"/>
<polygon points="415.6,592.9 545.2,698.6 559.5,705.4 559.5,692.6 545.2,685.9 415.6,592.8" fill="url(#v255)"/>
<polygon points="415.6,592.8 545.2,692.7 559.5,699.5 559.5,684.8 545.2,678 415.6,592.7" fill="url(#v256)"/>
<polygon points="415.6,592.8 545.2,685.9 559.5,692.6 559.5,675.9 545.2,669.2 415.6,592.6" fill="url(#v257)"/>
<polygon points="415.6,592.7 545.2,678 559.5,684.8 559.5,668.1 545.2,661.3 415.6,592.5" fill="url(#v258)"/>
<polygon points="415.6,592.6 545.2,669.2 559.5,675.9 559.5,660.2 545.2,653.4 415.6,592.5" fill="url(#v259)"/>
<polygon points="415.6,592.5 545.2,661.3 559.5,668.1 559.5,660.2 545.2,653.4 415.6,592.5" fill="url(#v260)"/>
<line x1="115.4" y1="587" x2="111.4" y2="587" stroke="#262626" stroke-width="1" />
<text x="107.9" y="591.6" font-size="16.1" text-anchor="end" font-weight="normal" fill="#262626" >0</text>
<line x1="115.4" y1="636.1" x2="111.4" y2="636.1" stroke="#262626" stroke-width="1" />
<text x="107.9" y="640.8" font-size="16.1" text-anchor="end" font-weight="normal" fill="#262626" >-500</text>
<line x1="115.4" y1="685.3" x2="111.4" y2="685.3" stroke="#262626" stroke-width="1" />
<text x="107.9" y="689.9" font-size="16.1" text-anchor="end" font-weight="normal" fill="#262626" >-1000</text>
<line x1="115.4" y1="685.3" x2="112" y2="686.7" stroke="#262626" stroke-width="1" />
<text x="106.6" y="705.3" font-size="16.1" text-anchor="end" font-weight="normal" fill="#262626" >100</text>
<line x1="187.4" y1="719.2" x2="183.9" y2="720.5" stroke="#262626" stroke-width="1" />
<text x="178.6" y="739.2" font-size="16.1" text-anchor="end" font-weight="normal" fill="#262626" >50</text>
<line x1="259.3" y1="753" x2="255.9" y2="754.4" stroke="#262626" stroke-width="1" />
<text x="250.5" y="773" font-size="16.1" text-anchor="end" font-weight="normal" fill="#262626" >0</text>
<line x1="331.3" y1="786.9" x2="327.9" y2="788.3" stroke="#262626" stroke-width="1" />
<text x="322.5" y="806.9" font-size="16.1" text-anchor="end" font-weight="normal" fill="#262626" >-50</text>
<line x1="403.3" y1="820.8" x2="399.9" y2="822.2" stroke="#262626" stroke-width="1" />
<text x="394.5" y="840.8" font-size="16.1" text-anchor="end" font-weight="normal" fill="#262626" >-100</text>
<line x1="403.3" y1="820.8" x2="406.5" y2="822.3" stroke="#262626" stroke-width="1" />
<text x="411.3" y="841.3" font-size="16.1" text-anchor="start" font-weight="normal" fill="#262626" >-100</text>
<line x1="481.4" y1="789.6" x2="484.6" y2="791.1" stroke="#262626" stroke-width="1" />
<text x="489.4" y="810.1" font-size="16.1" text-anchor="start" font-weight="normal" fill="#262626" >-50</text>
<line x1="559.5" y1="758.5" x2="562.7" y2="760" stroke="#262626" stroke-width="1" />
<text x="567.5" y="779" font-size="16.1" text-anchor="start" font-weight="normal" fill="#262626" >0</text>
<line x1="637.7" y1="727.4" x2="640.8" y2="728.8" stroke="#262626" stroke-width="1" />
<text x="645.7" y="747.9" font-size="16.1" text-anchor="start" font-weight="normal" fill="#262626" >50</text>
<line x1="715.8" y1="696.2" x2="719" y2="697.7" stroke="#262626" stroke-width="1" />
<text x="723.8" y="716.7" font-size="16.1" text-anchor="start" font-weight="normal" fill="#262626" >100</text>
<text x="217" y="784" font-size="18" text-anchor="middle" font-weight="normal" fill="#262626" >y (km)</text>
<text x="609" y="786" font-size="18" text-anchor="middle" font-weight="normal" fill="#262626" >x (km)</text>
<text x="55.2" y="636" font-size="18" text-anchor="middle" font-weight="normal" fill="#262626" transform="rotate(-90 55.2 636)" dy="6">depth (m)</text>
<rect x="625.1" y="471" width="18.8" height="68.8" fill="url(#cb156)"/>
<text x="647.8" y="475.2" font-size="10.4" text-anchor="start" font-weight="normal" fill="#262626" >2</text>
<text x="647.8" y="509.1" font-size="10.4" text-anchor="start" font-weight="normal" fill="#262626" >0</text>
<text x="655.5" y="509.1" font-size="10.4" text-anchor="start" font-weight="normal" fill="#262626" >(m s<tspan dx="0.6" dy="-0.42em" font-size="0.72em">-1</tspan><tspan dx="2.1" dy="0.42em">)</tspan></text>
<text x="647.8" y="544" font-size="10.4" text-anchor="start" font-weight="normal" fill="#262626" >-2</text>
<text x="645" y="467.3" font-size="11.6" text-anchor="start" font-weight="normal" fill="#262626" ><tspan font-size="0.85em">×</tspan><tspan dx="2.9">10</tspan><tspan dy="-0.5em" font-size="0.72em">-3</tspan></text>
<text x="278.2" y="552" font-size="21" text-anchor="start" font-weight="bold" fill="#000" >U</text>
<text x="266.3" y="671.2" font-size="21" text-anchor="start" font-weight="bold" fill="#000" >V</text>
<line x1="999.6" y1="733.5" x2="999.6" y2="533.4" stroke="#262626" stroke-width="1.1" />
<line x1="999.6" y1="533.4" x2="1428" y2="450.9" stroke="#262626" stroke-width="1.1" />
<line x1="1428" y1="450.9" x2="1728.7" y2="569.2" stroke="#262626" stroke-width="1.1" />
<line x1="1428" y1="651" x2="1428" y2="450.9" stroke="#262626" stroke-width="1.1" />
<line x1="1728.7" y1="769.3" x2="1728.7" y2="569.2" stroke="#262626" stroke-width="1.1" />
<g fill="#9c9c92" opacity="0.6">
<circle r="1" transform="matrix(201.3480,-38.7750,-141.3290,-55.6010,1364.15,739.39)"/>
<circle r="1" transform="matrix(197.0640,-37.9500,-138.3220,-54.4180,1364.15,739.39)"/>
<circle r="1" transform="matrix(192.7800,-37.1250,-135.3150,-53.2350,1364.15,739.39)"/>
<circle r="1" transform="matrix(188.4960,-36.3000,-132.3080,-52.0520,1364.15,734.99)"/>
<circle r="1" transform="matrix(184.2120,-35.4750,-129.3010,-50.8690,1364.15,730.59)"/>
<circle r="1" transform="matrix(179.9280,-34.6500,-126.2940,-49.6860,1364.15,726.19)"/>
<circle r="1" transform="matrix(175.6440,-33.8250,-123.2870,-48.5030,1364.15,721.79)"/>
<circle r="1" transform="matrix(171.3600,-33.0000,-120.2800,-47.3200,1364.15,717.38)"/>
<circle r="1" transform="matrix(167.0760,-32.1750,-117.2730,-46.1370,1364.15,712.98)"/>
<circle r="1" transform="matrix(162.7920,-31.3500,-114.2660,-44.9540,1364.15,708.58)"/>
<circle r="1" transform="matrix(158.5080,-30.5250,-111.2590,-43.7710,1364.15,704.18)"/>
<circle r="1" transform="matrix(154.2240,-29.7000,-108.2520,-42.5880,1364.15,699.77)"/>
<circle r="1" transform="matrix(149.9400,-28.8750,-105.2450,-41.4050,1364.15,695.37)"/>
<circle r="1" transform="matrix(145.6560,-28.0500,-102.2380,-40.2220,1364.15,690.97)"/>
<circle r="1" transform="matrix(141.3720,-27.2250,-99.2310,-39.0390,1364.15,686.57)"/>
<circle r="1" transform="matrix(137.0880,-26.4000,-96.2240,-37.8560,1364.15,682.17)"/>
<circle r="1" transform="matrix(132.8040,-25.5750,-93.2170,-36.6730,1364.15,677.76)"/>
<circle r="1" transform="matrix(128.5200,-24.7500,-90.2100,-35.4900,1364.15,673.36)"/>
<circle r="1" transform="matrix(124.2360,-23.9250,-87.2030,-34.3070,1364.15,668.96)"/>
<circle r="1" transform="matrix(119.9520,-23.1000,-84.1960,-33.1240,1364.15,664.56)"/>
<circle r="1" transform="matrix(115.6680,-22.2750,-81.1890,-31.9410,1364.15,660.15)"/>
<circle r="1" transform="matrix(111.3840,-21.4500,-78.1820,-30.7580,1364.15,655.75)"/>
<circle r="1" transform="matrix(107.1000,-20.6250,-75.1750,-29.5750,1364.15,651.35)"/>
<circle r="1" transform="matrix(102.8160,-19.8000,-72.1680,-28.3920,1364.15,646.95)"/>
<circle r="1" transform="matrix(98.5320,-18.9750,-69.1610,-27.2090,1364.15,642.55)"/>
<circle r="1" transform="matrix(94.2480,-18.1500,-66.1540,-26.0260,1364.15,638.14)"/>
<circle r="1" transform="matrix(89.9640,-17.3250,-63.1470,-24.8430,1364.15,633.74)"/>
<circle r="1" transform="matrix(85.6800,-16.5000,-60.1400,-23.6600,1364.15,629.34)"/>
<circle r="1" transform="matrix(81.3960,-15.6750,-57.1330,-22.4770,1364.15,624.94)"/>
<circle r="1" transform="matrix(77.1120,-14.8500,-54.1260,-21.2940,1364.15,620.53)"/>
<circle r="1" transform="matrix(72.8280,-14.0250,-51.1190,-20.1110,1364.15,616.13)"/>
<circle r="1" transform="matrix(68.5440,-13.2000,-48.1120,-18.9280,1364.15,611.73)"/>
<circle r="1" transform="matrix(64.2600,-12.3750,-45.1050,-17.7450,1364.15,607.33)"/>
<circle r="1" transform="matrix(59.9760,-11.5500,-42.0980,-16.5620,1364.15,602.93)"/>
<circle r="1" transform="matrix(55.6920,-10.7250,-39.0910,-15.3790,1364.15,598.52)"/>
<circle r="1" transform="matrix(51.4080,-9.9000,-36.0840,-14.1960,1364.15,594.12)"/>
<circle r="1" transform="matrix(47.1240,-9.0750,-33.0770,-13.0130,1364.15,589.72)"/>
<circle r="1" transform="matrix(42.8400,-8.2500,-30.0700,-11.8300,1364.15,585.32)"/>
<circle r="1" transform="matrix(38.5560,-7.4250,-27.0630,-10.6470,1364.15,580.91)"/>
<circle r="1" transform="matrix(34.2720,-6.6000,-24.0560,-9.4640,1364.15,576.51)"/>
<circle r="1" transform="matrix(29.9880,-5.7750,-21.0490,-8.2810,1364.15,572.11)"/>
<circle r="1" transform="matrix(25.7040,-4.9500,-18.0420,-7.0980,1364.15,567.71)"/>
<circle r="1" transform="matrix(21.4200,-4.1250,-15.0350,-5.9150,1364.15,563.31)"/>
<circle r="1" transform="matrix(17.1360,-3.3000,-12.0280,-4.7320,1364.15,558.90)"/>
<circle r="1" transform="matrix(12.8520,-2.4750,-9.0210,-3.5490,1364.15,554.50)"/>
<circle r="1" transform="matrix(8.5680,-1.6500,-6.0140,-2.3660,1364.15,551.30)"/>
<circle r="1" transform="matrix(4.2840,-0.8250,-3.0070,-1.1830,1364.15,551.30)"/>
<circle r="1" transform="matrix(1.0710,-0.2062,-0.7518,-0.2958,1364.15,551.30)"/>
</g>
<polygon points="999.6,733.5 1428,651 1728.7,769.3 1300.3,851.8" fill="#07321e"/>
<line x1="999.6" y1="733.5" x2="1300.3" y2="851.8" stroke="#0a1a10" stroke-width="1.1" />
<line x1="1300.3" y1="851.8" x2="1728.7" y2="769.3" stroke="#0a1a10" stroke-width="1.1" />
<circle r="1" fill="url(#s261)" transform="matrix(192.7800,-37.1250,-135.3150,-53.2350,1364.15,751.40)"/>
<circle r="1" fill="url(#s262)" transform="matrix(188.9244,-36.3825,-132.6087,-52.1703,1364.15,747.44)"/>
<circle r="1" fill="url(#s263)" transform="matrix(185.0688,-35.6400,-129.9024,-51.1056,1364.15,743.48)"/>
<circle r="1" fill="url(#s264)" transform="matrix(181.2132,-34.8975,-127.1961,-50.0409,1364.15,739.51)"/>
<circle r="1" fill="url(#s265)" transform="matrix(177.3576,-34.1550,-124.4898,-48.9762,1364.15,735.55)"/>
<circle r="1" fill="url(#s266)" transform="matrix(173.5020,-33.4125,-121.7835,-47.9115,1364.15,731.59)"/>
<circle r="1" fill="url(#s267)" transform="matrix(169.6464,-32.6700,-119.0772,-46.8468,1364.15,727.63)"/>
<circle r="1" fill="url(#s268)" transform="matrix(165.7908,-31.9275,-116.3709,-45.7821,1364.15,723.67)"/>
<circle r="1" fill="url(#s269)" transform="matrix(161.9352,-31.1850,-113.6646,-44.7174,1364.15,719.70)"/>
<circle r="1" fill="url(#s270)" transform="matrix(158.0796,-30.4425,-110.9583,-43.6527,1364.15,715.74)"/>
<circle r="1" fill="url(#s271)" transform="matrix(154.2240,-29.7000,-108.2520,-42.5880,1364.15,711.78)"/>
<circle r="1" fill="url(#s272)" transform="matrix(150.3684,-28.9575,-105.5457,-41.5233,1364.15,707.82)"/>
<circle r="1" fill="url(#s273)" transform="matrix(146.5128,-28.2150,-102.8394,-40.4586,1364.15,703.86)"/>
<circle r="1" fill="url(#s274)" transform="matrix(142.6572,-27.4725,-100.1331,-39.3939,1364.15,699.89)"/>
<circle r="1" fill="url(#s275)" transform="matrix(138.8016,-26.7300,-97.4268,-38.3292,1364.15,695.93)"/>
<circle r="1" fill="url(#s276)" transform="matrix(134.9460,-25.9875,-94.7205,-37.2645,1364.15,691.97)"/>
<circle r="1" fill="url(#s277)" transform="matrix(131.0904,-25.2450,-92.0142,-36.1998,1364.15,688.01)"/>
<circle r="1" fill="url(#s278)" transform="matrix(127.2348,-24.5025,-89.3079,-35.1351,1364.15,684.05)"/>
<circle r="1" fill="url(#s279)" transform="matrix(123.3792,-23.7600,-86.6016,-34.0704,1364.15,680.08)"/>
<circle r="1" fill="url(#s280)" transform="matrix(119.5236,-23.0175,-83.8953,-33.0057,1364.15,676.12)"/>
<circle r="1" fill="url(#s281)" transform="matrix(115.6680,-22.2750,-81.1890,-31.9410,1364.15,672.16)"/>
<circle r="1" fill="url(#s282)" transform="matrix(111.8124,-21.5325,-78.4827,-30.8763,1364.15,668.20)"/>
<circle r="1" fill="url(#s283)" transform="matrix(107.9568,-20.7900,-75.7764,-29.8116,1364.15,664.24)"/>
<circle r="1" fill="url(#s284)" transform="matrix(104.1012,-20.0475,-73.0701,-28.7469,1364.15,660.27)"/>
<circle r="1" fill="url(#s285)" transform="matrix(100.2456,-19.3050,-70.3638,-27.6822,1364.15,656.31)"/>
<circle r="1" fill="url(#s286)" transform="matrix(96.3900,-18.5625,-67.6575,-26.6175,1364.15,652.35)"/>
<circle r="1" fill="url(#s287)" transform="matrix(92.5344,-17.8200,-64.9512,-25.5528,1364.15,648.39)"/>
<circle r="1" fill="url(#s288)" transform="matrix(88.6788,-17.0775,-62.2449,-24.4881,1364.15,644.43)"/>
<circle r="1" fill="url(#s289)" transform="matrix(84.8232,-16.3350,-59.5386,-23.4234,1364.15,640.46)"/>
<circle r="1" fill="url(#s290)" transform="matrix(80.9676,-15.5925,-56.8323,-22.3587,1364.15,636.50)"/>
<circle r="1" fill="url(#s291)" transform="matrix(77.1120,-14.8500,-54.1260,-21.2940,1364.15,632.54)"/>
<circle r="1" fill="url(#s292)" transform="matrix(73.2564,-14.1075,-51.4197,-20.2293,1364.15,628.58)"/>
<circle r="1" fill="url(#s293)" transform="matrix(69.4008,-13.3650,-48.7134,-19.1646,1364.15,624.62)"/>
<circle r="1" fill="url(#s294)" transform="matrix(65.5452,-12.6225,-46.0071,-18.0999,1364.15,620.65)"/>
<circle r="1" fill="url(#s295)" transform="matrix(61.6896,-11.8800,-43.3008,-17.0352,1364.15,616.69)"/>
<circle r="1" fill="url(#s296)" transform="matrix(57.8340,-11.1375,-40.5945,-15.9705,1364.15,612.73)"/>
<circle r="1" fill="url(#s297)" transform="matrix(53.9784,-10.3950,-37.8882,-14.9058,1364.15,608.77)"/>
<circle r="1" fill="url(#s298)" transform="matrix(50.1228,-9.6525,-35.1819,-13.8411,1364.15,604.81)"/>
<circle r="1" fill="url(#s299)" transform="matrix(46.2672,-8.9100,-32.4756,-12.7764,1364.15,600.84)"/>
<circle r="1" fill="url(#s300)" transform="matrix(42.4116,-8.1675,-29.7693,-11.7117,1364.15,596.88)"/>
<circle r="1" fill="url(#s301)" transform="matrix(38.5560,-7.4250,-27.0630,-10.6470,1364.15,592.92)"/>
<circle r="1" fill="url(#s302)" transform="matrix(34.7004,-6.6825,-24.3567,-9.5823,1364.15,588.96)"/>
<circle r="1" fill="url(#s303)" transform="matrix(30.8448,-5.9400,-21.6504,-8.5176,1364.15,585.00)"/>
<circle r="1" fill="url(#s304)" transform="matrix(26.9892,-5.1975,-18.9441,-7.4529,1364.15,581.03)"/>
<circle r="1" fill="url(#s305)" transform="matrix(23.1336,-4.4550,-16.2378,-6.3882,1364.15,577.07)"/>
<circle r="1" fill="url(#s306)" transform="matrix(19.2780,-3.7125,-13.5315,-5.3235,1364.15,573.11)"/>
<circle r="1" fill="url(#s307)" transform="matrix(15.4224,-2.9700,-10.8252,-4.2588,1364.15,569.15)"/>
<circle r="1" fill="url(#s308)" transform="matrix(11.5668,-2.2275,-8.1189,-3.1941,1364.15,565.19)"/>
<circle r="1" fill="url(#s309)" transform="matrix(7.7112,-1.4850,-5.4126,-2.1294,1364.15,561.22)"/>
<circle r="1" fill="url(#s310)" transform="matrix(3.8556,-0.7425,-2.7063,-1.0647,1364.15,557.26)"/>
<path d="M1405.7,816 L1410.7,815.7 L1415.7,815.4 L1420.6,815.1 L1425.5,814.8 L1430.4,814.4 L1435.3,814 L1440.1,813.6 L1444.9,813.1 L1449.7,812.6 L1454.4,812.1 L1459,811.6 L1463.7,811 L1468.3,810.4 L1472.8,809.8 L1477.3,809.2 L1481.7,808.5 L1486.1,807.8 L1490.4,807.1 L1494.7,806.3 L1498.9,805.5 L1503.1,804.7 L1507.2,803.9 L1511.2,803.1 L1515.1,802.2 L1519,801.3 L1522.8,800.4 L1526.6,799.4 L1530.3,798.5 L1533.9,797.5 L1537.4,796.5 L1540.8,795.4 L1544.2,794.4 L1547.4,793.3 L1550.6,792.3 L1553.7,791.2 L1556.8,790 L1559.7,788.9 L1562.5,787.7 L1565.3,786.6 L1568,785.4 L1570.5,784.2 L1573,783 L1575.4,781.7 L1577.7,780.5 L1579.9,779.2 L1582,777.9 L1583.9,776.7 L1585.8,775.4 L1587.6,774.1 L1589.3,772.7 L1590.9,771.4 L1592.4,770.1 L1593.8,768.7 L1595,767.4 L1596.2,766 L1597.3,764.7 L1598.2,763.3 L1599.1,761.9 L1599.8,760.5 L1600.5,759.1 L1601,757.7 L1601.4,756.4 L1601.7,755 L1601.9,753.6 L1602,752.2 L1602,750.8 L1601.9,749.4 L1601.7,748 L1601.3,746.6 L1600.9,745.2 L1600.3,743.8 L1599.7,742.4 L1598.9,741 L1598,739.6 L1597.1,738.3 L1596,736.9 L1594.8,735.5 L1593.5,734.2 L1592.1,732.8 L1590.6,731.5 L1589,730.2 L1587.3,728.9 L1585.5,727.6 L1583.6,726.3 L1581.5,725 L1579.4,723.7 L1577.2,722.4 L1574.9,721.2 L1572.5,720 L1570,718.7" fill="none" stroke="#b0d8bc" stroke-width="1.4" stroke-dasharray="2 2" opacity="0.45"/>
<path d="M1445.5,618.4 L1432.6,616.5 L1419.5,614.8 L1406.3,613.4 L1393.1,612.3 L1380.1,611.5 L1367.1,611 L1354.3,610.7 L1341.7,610.7 L1329.4,610.9 L1317.4,611.4 L1305.7,612.1 L1294.4,613.1 L1283.5,614.3 M1396,582.1 L1386.1,581.1 L1376.2,580.3 L1366.2,579.7 L1356.2,579.3 L1346.3,579.1 L1336.6,579.2 L1327.1,579.4 M1365.6,559.6 L1357.4,559.4 L1349.3,559.4" fill="none" stroke="#3aa8a0" stroke-width="2.4" opacity="0.7" stroke-linejoin="round"/>
<path d="M1458.2,620.7 L1445.5,618.4 M1283.5,614.3 L1273.2,615.7 L1263.4,617.3 M1415.3,584.8 L1405.8,583.4 L1396,582.1 M1327.1,579.4 L1317.9,579.8 L1309,580.4 M1382,560.4 L1373.8,559.9 L1365.6,559.6 M1349.3,559.4 L1341.3,559.6 L1333.4,560 M1369.8,549.6 L1364.8,549.6 L1359.8,549.8 L1354.8,550.1 L1349.9,550.5" fill="none" stroke="#26c4ac" stroke-width="2.5" stroke-linejoin="round"/>
<path d="M1563.5,676 L1561.6,670.7 L1558.4,665.3 L1553.9,660 L1548.2,654.8 L1541.3,649.8 L1533.3,644.8 L1524.5,640.3 L1515,636.2 L1504.8,632.5 L1494,629.1 L1482.5,626 L1470.6,623.2 L1458.2,620.7 M1263.4,617.3 L1254.2,619.1 L1245.7,621.1 L1238,623.3 L1231.1,625.6 L1225,628.1 L1219.7,630.7 L1215.3,633.4 L1211.9,636.1 L1209.4,638.9 L1207.9,641.8 L1207.4,644.6 L1207.8,647.5 L1209.2,650.3 L1211.5,653.1 L1214.8,655.8 L1218.9,658.4 L1223.9,660.9 L1229.8,663.3 L1236.4,665.5 L1243.7,667.6 L1251.8,669.5 L1260.4,671.2 L1269.6,672.7 L1279.3,674 L1289.5,675.1 L1300,676 L1310.8,676.6 L1321.9,677 L1333.2,677.2 L1344.6,677.1 L1356,676.7 L1367.4,676.1 L1378.7,675.3 L1389.8,674.2 L1400.6,672.9 L1411.2,671.4 L1421.4,669.6 L1431.1,667.6 L1440.4,665.5 L1449.1,663.1 L1457.3,660.6 L1464.8,657.9 L1471.7,655.1 L1477.8,652.1 L1483.2,649 L1487.9,645.8 L1491.8,642.6 L1494.8,639.3 L1497.1,635.9 L1498.7,632.5 L1499.4,629.1 L1499.3,625.7 L1498.4,622.3 L1496.8,618.9 L1494.4,615.6 L1491.2,612.4 L1487.3,609.2 L1482.8,606.1 L1477.5,603.1 L1471.5,600.3 L1465,597.6 L1457.9,595 L1450.2,592.6 L1442.1,590.4 L1433.5,588.3 L1424.6,586.5 L1415.3,584.8 M1309,580.4 L1300.4,581.3 L1292.3,582.2 L1284.7,583.4 L1277.6,584.7 L1271,586.1 L1265,587.7 L1259.7,589.4 L1255,591.2 L1250.9,593.1 L1247.6,595.1 L1245,597.1 L1243.1,599.2 L1242,601.4 L1241.6,603.6 L1241.9,605.8 L1243,608.1 L1244.8,610.3 L1247.2,612.5 L1250.4,614.7 L1254.3,616.8 L1258.8,618.8 L1263.9,620.7 L1269.6,622.5 L1275.8,624.1 L1282.5,625.7 L1289.7,627 L1297.3,628.2 L1305.3,629.3 L1313.6,630.1 L1322.1,630.8 L1330.9,631.3 L1339.8,631.6 L1348.8,631.7 L1357.9,631.6 L1367,631.3 L1376,630.8 L1384.9,630.2 L1393.6,629.3 L1402.1,628.3 L1410.4,627.1 L1418.3,625.7 L1425.9,624.1 L1433,622.4 L1439.7,620.6 L1445.9,618.6 L1451.6,616.5 L1456.8,614.2 L1461.3,611.9 L1465.3,609.5 L1468.6,607 L1471.3,604.5 L1473.3,601.9 L1474.7,599.3 L1475.4,596.7 L1475.4,594 L1474.7,591.4 L1473.4,588.8 L1471.5,586.2 L1468.9,583.7 L1465.7,581.3 L1461.9,578.9 L1457.5,576.6 L1452.6,574.4 L1447.2,572.4 L1441.3,570.4 L1434.9,568.6 L1428.2,567 L1421.1,565.5 L1413.8,564.1 L1406.1,562.9 L1398.2,561.9 L1390.2,561 L1382,560.4 M1333.4,560 L1325.8,560.5 L1318.5,561.2 L1311.5,562.1 L1304.8,563.1 L1298.6,564.2 L1292.7,565.4 L1287.3,566.8 L1282.4,568.3 L1278,569.8 L1274.2,571.5 L1270.9,573.2 L1268.2,575 L1266.1,576.8 L1264.6,578.7 L1263.7,580.6 L1263.4,582.5 L1263.7,584.4 L1264.6,586.3 L1266.2,588.1 L1268.3,589.9 L1270.9,591.7 L1274.2,593.4 L1277.9,595 L1282.2,596.5 L1286.9,597.9 L1292,599.2 L1297.6,600.4 L1303.5,601.5 L1309.8,602.4 L1316.3,603.2 L1323.1,603.8 L1330.1,604.3 L1337.3,604.7 L1344.5,604.8 L1351.9,604.9 L1359.3,604.7 L1366.6,604.4 L1373.9,604 L1381.1,603.4 L1388.2,602.6 L1395.1,601.7 L1401.7,600.7 L1408.1,599.5 L1414.1,598.2 L1419.9,596.8 L1425.2,595.2 L1430.2,593.6 L1434.7,591.8 L1438.8,590 L1442.4,588.1 L1445.5,586.1 L1448.1,584 L1450.2,582 L1451.7,579.9 L1452.8,577.8 L1453.2,575.7 L1453.2,573.6 L1452.6,571.5 L1451.6,569.5 L1450,567.5 L1447.9,565.6 L1445.3,563.7 L1442.2,561.9 L1438.7,560.2 L1434.8,558.6 L1430.4,557 L1425.7,555.6 L1420.6,554.3 L1415.2,553 L1409.5,551.9 L1403.6,551 L1397.5,550.1 L1391.2,549.4 L1384.8,548.9 L1378.3,548.4 L1371.7,548.1 L1365.1,548 L1358.6,548 L1352.1,548.1 L1345.7,548.4 L1339.5,548.8 L1333.4,549.3 L1327.6,550 L1322,550.8 L1316.7,551.7 L1311.7,552.7 L1307,553.8 L1302.7,555 L1298.8,556.3 L1295.3,557.6 L1292.3,559 L1289.7,560.5 L1287.5,562 L1285.9,563.6 L1284.7,565.2 L1284,566.8 L1283.9,568.4 L1284.2,570.1 L1284.9,571.7 L1286.2,573.2 L1288,574.8 L1290.1,576.3 L1292.8,577.7 L1295.8,579.1 L1299.2,580.4 L1303,581.6 L1307.2,582.8 L1311.6,583.8 L1316.4,584.7 L1321.3,585.5 L1326.5,586.3 L1331.9,586.9 L1337.5,587.3 L1343.1,587.7 L1348.9,587.9 L1354.7,588 L1360.5,588 L1366.3,587.9 L1372,587.6 L1377.6,587.2 L1383.1,586.7 L1388.5,586.1 L1393.6,585.4 L1398.6,584.5 L1403.3,583.6 L1407.7,582.6 L1411.8,581.4 L1415.6,580.2 L1419.1,579 L1422.2,577.6 L1424.9,576.2 L1427.2,574.8 L1429.2,573.3 L1430.7,571.8 L1431.9,570.3 L1432.6,568.8 L1432.9,567.3 L1432.8,565.8 L1432.3,564.4 L1431.5,563 L1430.2,561.6 L1428.5,560.3 L1426.5,559 L1424.1,557.8 L1421.4,556.7 L1418.3,555.6 L1414.9,554.6 L1411.3,553.7 L1407.4,552.8 L1403.2,552.1 L1398.9,551.4 L1394.3,550.8 L1389.6,550.4 L1384.8,550 L1379.8,549.8 L1374.8,549.6 L1369.8,549.6 M1349.9,550.5 L1345.2,551 L1340.6,551.6 L1336.1,552.3 L1331.9,553 L1327.8,553.9 L1324,554.8 L1320.5,555.9 L1317.3,556.9 L1314.3,558.1 L1311.7,559.3 L1309.4,560.6 L1307.5,561.9 L1305.9,563.2 L1304.7,564.6 L1303.9,566 L1303.4,567.5 L1303.4,568.9 L1303.7,570.4 L1304.5,571.8 L1305.6,573.2 L1307,574.6 L1308.9,576 L1311,577.3 L1313.5,578.6 L1316.2,579.8 L1319.1,581 L1322.3,582.1 L1325.7,583 L1329.3,583.9 L1333,584.7 L1336.8,585.5 L1340.7,586.1" fill="none" stroke="#22e8e8" stroke-width="2.4" stroke-linejoin="round"/>
<path d="M1365,597.6 C1365.9,598 1366.7,598.1 1370.6,599.8 C1374.5,601.5 1381.4,604.5 1388.6,607.7 C1395.8,610.9 1407.5,614.9 1413.5,619 C1419.5,623.1 1421.4,628.5 1424.8,632.6 C1428.2,636.7 1431.2,639.7 1433.8,643.8 C1436.4,647.9 1439.5,652.9 1440.6,657.4 C1441.7,661.9 1441.7,666.5 1440.6,671 C1439.5,675.5 1436.5,680.7 1433.8,684.5 C1431.1,688.3 1431.1,687.2 1424.5,693.8 C1417.9,700.4 1403.4,715.5 1394,724.2 C1384.6,732.9 1376,739.8 1368,746 C1360,752.2 1353.5,757.6 1346.3,761.2 C1339.1,764.8 1328.2,766.6 1324.6,767.7" fill="none" stroke="#e020e0" stroke-width="2.2" stroke-linejoin="round" stroke-linecap="round"/>
<circle cx="1567" cy="679.5" r="5.5" fill="#ff1010"/>
<circle cx="1365" cy="597.6" r="4" fill="#ff1010"/>
<circle cx="1337.9" cy="586.3" r="5" fill="#20f020"/>
<circle cx="1324.6" cy="767.7" r="4" fill="#20d020"/>
<line x1="999.6" y1="533.4" x2="995.6" y2="533.4" stroke="#262626" stroke-width="1" />
<text x="992.1" y="538" font-size="17.2" text-anchor="end" font-weight="normal" fill="#262626" >0</text>
<line x1="999.6" y1="583.4" x2="995.6" y2="583.4" stroke="#262626" stroke-width="1" />
<text x="992.1" y="588" font-size="17.2" text-anchor="end" font-weight="normal" fill="#262626" >-250</text>
<line x1="999.6" y1="633.5" x2="995.6" y2="633.5" stroke="#262626" stroke-width="1" />
<text x="992.1" y="638.1" font-size="17.2" text-anchor="end" font-weight="normal" fill="#262626" >-500</text>
<line x1="999.6" y1="683.5" x2="995.6" y2="683.5" stroke="#262626" stroke-width="1" />
<text x="992.1" y="688.1" font-size="17.2" text-anchor="end" font-weight="normal" fill="#262626" >-750</text>
<line x1="999.6" y1="733.5" x2="995.6" y2="733.5" stroke="#262626" stroke-width="1" />
<text x="992.1" y="738.1" font-size="17.2" text-anchor="end" font-weight="normal" fill="#262626" >-1000</text>
<line x1="999.6" y1="733.5" x2="994.9" y2="734.4" stroke="#262626" stroke-width="1" />
<text x="990.8" y="755" font-size="17.2" text-anchor="end" font-weight="normal" fill="#262626" >100</text>
<line x1="1074.8" y1="763.1" x2="1070.1" y2="764" stroke="#262626" stroke-width="1" />
<text x="1066" y="784.6" font-size="17.2" text-anchor="end" font-weight="normal" fill="#262626" >50</text>
<line x1="1149.9" y1="792.6" x2="1145.2" y2="793.6" stroke="#262626" stroke-width="1" />
<text x="1141.1" y="814.1" font-size="17.2" text-anchor="end" font-weight="normal" fill="#262626" >0</text>
<line x1="1225.1" y1="822.2" x2="1220.4" y2="823.1" stroke="#262626" stroke-width="1" />
<text x="1216.3" y="843.7" font-size="17.2" text-anchor="end" font-weight="normal" fill="#262626" >-50</text>
<line x1="1300.3" y1="851.8" x2="1295.6" y2="852.7" stroke="#262626" stroke-width="1" />
<text x="1291.5" y="873.3" font-size="17.2" text-anchor="end" font-weight="normal" fill="#262626" >-100</text>
<line x1="1300.3" y1="851.8" x2="1303.6" y2="853.1" stroke="#262626" stroke-width="1" />
<text x="1308.3" y="873.8" font-size="17.2" text-anchor="start" font-weight="normal" fill="#262626" >-100</text>
<line x1="1407.4" y1="831.2" x2="1410.7" y2="832.5" stroke="#262626" stroke-width="1" />
<text x="1415.4" y="853.2" font-size="17.2" text-anchor="start" font-weight="normal" fill="#262626" >-50</text>
<line x1="1514.5" y1="810.5" x2="1517.8" y2="811.9" stroke="#262626" stroke-width="1" />
<text x="1522.5" y="832.5" font-size="17.2" text-anchor="start" font-weight="normal" fill="#262626" >0</text>
<line x1="1621.6" y1="789.9" x2="1624.9" y2="791.2" stroke="#262626" stroke-width="1" />
<text x="1629.6" y="811.9" font-size="17.2" text-anchor="start" font-weight="normal" fill="#262626" >50</text>
<line x1="1728.7" y1="769.3" x2="1732" y2="770.6" stroke="#262626" stroke-width="1" />
<text x="1736.7" y="791.3" font-size="17.2" text-anchor="start" font-weight="normal" fill="#262626" >100</text>
<text x="1141" y="871" font-size="19.4" text-anchor="middle" font-weight="normal" fill="#262626" >y (km)</text>
<text x="1490" y="881" font-size="19.4" text-anchor="middle" font-weight="normal" fill="#262626" >x (km)</text>
<text x="935" y="634" font-size="19.4" text-anchor="middle" font-weight="normal" fill="#262626" transform="rotate(-90 935 634)" dy="6">depth (m)</text>
<line x1="164" y1="1093" x2="164" y2="994.6" stroke="#dcdcdc" stroke-width="1" />
<line x1="250.8" y1="1059.4" x2="250.8" y2="961" stroke="#dcdcdc" stroke-width="1" />
<line x1="337.5" y1="1025.8" x2="337.5" y2="927.4" stroke="#dcdcdc" stroke-width="1" />
<line x1="651.7" y1="1108" x2="651.7" y2="1009.6" stroke="#dcdcdc" stroke-width="1" />
<line x1="575.9" y1="1069.4" x2="575.9" y2="971" stroke="#dcdcdc" stroke-width="1" />
<line x1="500.1" y1="1030.8" x2="500.1" y2="932.4" stroke="#dcdcdc" stroke-width="1" />
<line x1="77.2" y1="1077.4" x2="424.3" y2="943" stroke="#dcdcdc" stroke-width="1" />
<line x1="424.3" y1="943" x2="727.5" y2="1097.4" stroke="#dcdcdc" stroke-width="1" />
<line x1="77.2" y1="1126.6" x2="77.2" y2="1028.2" stroke="#262626" stroke-width="1.1" />
<line x1="77.2" y1="1028.2" x2="424.3" y2="893.8" stroke="#262626" stroke-width="1.1" />
<line x1="424.3" y1="893.8" x2="727.5" y2="1048.2" stroke="#262626" stroke-width="1.1" />
<line x1="424.3" y1="992.2" x2="424.3" y2="893.8" stroke="#262626" stroke-width="1.1" />
<line x1="727.5" y1="1146.6" x2="727.5" y2="1048.2" stroke="#262626" stroke-width="1.1" />
<polygon points="77.2,1126.6 424.3,992.2 727.5,1146.6 380.4,1281" fill="#03703c"/>
<line x1="77.2" y1="1126.6" x2="380.4" y2="1281" stroke="#12261a" stroke-width="1.1" />
<line x1="380.4" y1="1281" x2="727.5" y2="1146.6" stroke="#12261a" stroke-width="1.1" />
<polygon points="402.4,1039.2 265.9,1067.1 250.8,1059.4 250.8,1057 265.9,1064.8 402.4,1039.2" fill="url(#v312)"/>
<polygon points="402.4,1039.2 265.9,1065.9 250.8,1058.2 250.8,1055.9 265.9,1063.6 402.4,1039.1" fill="url(#v313)"/>
<polygon points="402.4,1039.2 265.9,1064.8 250.8,1057 250.8,1054.7 265.9,1062.4 402.4,1039.1" fill="url(#v314)"/>
<polygon points="402.4,1039.1 265.9,1063.6 250.8,1055.9 250.8,1053.5 265.9,1061.2 402.4,1039.1" fill="url(#v315)"/>
<polygon points="402.4,1039.1 265.9,1062.4 250.8,1054.7 250.8,1052 265.9,1059.7 402.4,1039.1" fill="url(#v316)"/>
<polygon points="402.4,1039.1 265.9,1061.2 250.8,1053.5 250.8,1050.5 265.9,1058.3 402.4,1039.1" fill="url(#v317)"/>
<polygon points="402.4,1039.1 265.9,1059.7 250.8,1052 250.8,1049.1 265.9,1056.8 402.4,1039.1" fill="url(#v318)"/>
<polygon points="402.4,1039.1 265.9,1058.3 250.8,1050.5 250.8,1047.6 265.9,1055.3 402.4,1039.1" fill="url(#v319)"/>
<polygon points="402.4,1039.1 265.9,1056.8 250.8,1049.1 250.8,1044.6 265.9,1052.4 402.4,1039" fill="url(#v320)"/>
<polygon points="402.4,1039.1 265.9,1055.3 250.8,1047.6 250.8,1041.7 265.9,1049.4 402.4,1039" fill="url(#v321)"/>
<polygon points="402.4,1039 265.9,1052.4 250.8,1044.6 250.8,1038.7 265.9,1046.5 402.4,1039" fill="url(#v322)"/>
<polygon points="402.4,1039 265.9,1049.4 250.8,1041.7 250.8,1035.3 265.9,1043 402.4,1038.9" fill="url(#v323)"/>
<polygon points="402.4,1039 265.9,1046.5 250.8,1038.7 250.8,1031.8 265.9,1039.6 402.4,1038.9" fill="url(#v324)"/>
<polygon points="402.4,1038.9 265.9,1043 250.8,1035.3 250.8,1028.4 265.9,1036.1 402.4,1038.9" fill="url(#v325)"/>
<polygon points="402.4,1038.9 265.9,1039.6 250.8,1031.8 250.8,1025 265.9,1032.7 402.4,1038.8" fill="url(#v326)"/>
<polygon points="402.4,1038.9 265.9,1036.1 250.8,1028.4 250.8,1021 265.9,1028.7 402.4,1038.8" fill="url(#v327)"/>
<polygon points="402.4,1038.8 265.9,1032.7 250.8,1025 250.8,1016.6 265.9,1024.3 402.4,1038.8" fill="url(#v328)"/>
<polygon points="402.4,1038.8 265.9,1028.7 250.8,1021 250.8,1011.7 265.9,1019.4 402.4,1038.7" fill="url(#v329)"/>
<polygon points="402.4,1038.8 265.9,1024.3 250.8,1016.6 250.8,1006.3 265.9,1014 402.4,1038.7" fill="url(#v330)"/>
<polygon points="402.4,1038.7 265.9,1019.4 250.8,1011.7 250.8,1000.4 265.9,1008.1 402.4,1038.6" fill="url(#v331)"/>
<polygon points="402.4,1038.7 265.9,1014 250.8,1006.3 250.8,993.5 265.9,1001.2 402.4,1038.5" fill="url(#v332)"/>
<polygon points="402.4,1038.6 265.9,1008.1 250.8,1000.4 250.8,985.6 265.9,993.3 402.4,1038.4" fill="url(#v333)"/>
<polygon points="402.4,1038.5 265.9,1001.2 250.8,993.5 250.8,976.7 265.9,984.5 402.4,1038.4" fill="url(#v334)"/>
<polygon points="402.4,1038.4 265.9,993.3 250.8,985.6 250.8,968.9 265.9,976.6 402.4,1038.3" fill="url(#v335)"/>
<polygon points="402.4,1038.4 265.9,984.5 250.8,976.7 250.8,961 265.9,968.7 402.4,1038.2" fill="url(#v336)"/>
<polygon points="402.4,1038.3 265.9,976.6 250.8,968.9 250.8,961 265.9,968.7 402.4,1038.2" fill="url(#v337)"/>
<polygon points="402.4,1039.2 558.5,1076.1 575.9,1069.4 575.9,1067 558.5,1073.8 402.4,1039.2" fill="url(#v364)"/>
<polygon points="402.4,1039.2 558.5,1074.9 575.9,1068.2 575.9,1065.9 558.5,1072.6 402.4,1039.1" fill="url(#v365)"/>
<polygon points="402.4,1039.2 558.5,1073.8 575.9,1067 575.9,1064.7 558.5,1071.4 402.4,1039.1" fill="url(#v366)"/>
<polygon points="402.4,1039.1 558.5,1072.6 575.9,1065.9 575.9,1063.5 558.5,1070.2 402.4,1039.1" fill="url(#v367)"/>
<polygon points="402.4,1039.1 558.5,1071.4 575.9,1064.7 575.9,1062 558.5,1068.7 402.4,1039.1" fill="url(#v368)"/>
<polygon points="402.4,1039.1 558.5,1070.2 575.9,1063.5 575.9,1060.5 558.5,1067.3 402.4,1039.1" fill="url(#v369)"/>
<polygon points="402.4,1039.1 558.5,1068.7 575.9,1062 575.9,1059.1 558.5,1065.8 402.4,1039.1" fill="url(#v370)"/>
<polygon points="402.4,1039.1 558.5,1067.3 575.9,1060.5 575.9,1057.6 558.5,1064.3 402.4,1039.1" fill="url(#v371)"/>
<polygon points="402.4,1039.1 558.5,1065.8 575.9,1059.1 575.9,1054.6 558.5,1061.4 402.4,1039" fill="url(#v372)"/>
<polygon points="402.4,1039.1 558.5,1064.3 575.9,1057.6 575.9,1051.7 558.5,1058.4 402.4,1039" fill="url(#v373)"/>
<polygon points="402.4,1039 558.5,1061.4 575.9,1054.6 575.9,1048.7 558.5,1055.5 402.4,1039" fill="url(#v374)"/>
<polygon points="402.4,1039 558.5,1058.4 575.9,1051.7 575.9,1045.3 558.5,1052 402.4,1038.9" fill="url(#v375)"/>
<polygon points="402.4,1039 558.5,1055.5 575.9,1048.7 575.9,1041.8 558.5,1048.6 402.4,1038.9" fill="url(#v376)"/>
<polygon points="402.4,1038.9 558.5,1052 575.9,1045.3 575.9,1038.4 558.5,1045.1 402.4,1038.9" fill="url(#v377)"/>
<polygon points="402.4,1038.9 558.5,1048.6 575.9,1041.8 575.9,1035 558.5,1041.7 402.4,1038.8" fill="url(#v378)"/>
<polygon points="402.4,1038.9 558.5,1045.1 575.9,1038.4 575.9,1031 558.5,1037.7 402.4,1038.8" fill="url(#v379)"/>
<polygon points="402.4,1038.8 558.5,1041.7 575.9,1035 575.9,1026.6 558.5,1033.3 402.4,1038.8" fill="url(#v380)"/>
<polygon points="402.4,1038.8 558.5,1037.7 575.9,1031 575.9,1021.7 558.5,1028.4 402.4,1038.7" fill="url(#v381)"/>
<polygon points="402.4,1038.8 558.5,1033.3 575.9,1026.6 575.9,1016.3 558.5,1023 402.4,1038.7" fill="url(#v382)"/>
<polygon points="402.4,1038.7 558.5,1028.4 575.9,1021.7 575.9,1010.4 558.5,1017.1 402.4,1038.6" fill="url(#v383)"/>
<polygon points="402.4,1038.7 558.5,1023 575.9,1016.3 575.9,1003.5 558.5,1010.2 402.4,1038.5" fill="url(#v384)"/>
<polygon points="402.4,1038.6 558.5,1017.1 575.9,1010.4 575.9,995.6 558.5,1002.3 402.4,1038.4" fill="url(#v385)"/>
<polygon points="402.4,1038.5 558.5,1010.2 575.9,1003.5 575.9,986.7 558.5,993.5 402.4,1038.4" fill="url(#v386)"/>
<polygon points="402.4,1038.4 558.5,1002.3 575.9,995.6 575.9,978.9 558.5,985.6 402.4,1038.3" fill="url(#v387)"/>
<polygon points="402.4,1038.4 558.5,993.5 575.9,986.7 575.9,971 558.5,977.7 402.4,1038.2" fill="url(#v388)"/>
<polygon points="402.4,1038.3 558.5,985.6 575.9,978.9 575.9,971 558.5,977.7 402.4,1038.2" fill="url(#v389)"/>
<circle r="1" fill="#03703c" transform="matrix(156.1950,-60.4800,-136.4400,-69.4800,402.35,1136.60)"/>
<circle r="1" fill="#07763e" transform="matrix(153.9636,-59.6160,-134.4909,-68.4874,402.35,1135.21)"/>
<circle r="1" fill="#0b7d40" transform="matrix(151.7323,-58.7520,-132.5417,-67.4949,402.35,1133.82)"/>
<circle r="1" fill="#108342" transform="matrix(149.5009,-57.8880,-130.5926,-66.5023,402.35,1132.43)"/>
<circle r="1" fill="#158944" transform="matrix(147.2696,-57.0240,-128.6434,-65.5097,402.35,1131.03)"/>
<circle r="1" fill="#1a8e47" transform="matrix(145.0382,-56.1600,-126.6943,-64.5171,402.35,1129.64)"/>
<circle r="1" fill="#209349" transform="matrix(142.8069,-55.2960,-124.7451,-63.5246,402.35,1128.25)"/>
<circle r="1" fill="#25984b" transform="matrix(140.5755,-54.4320,-122.7960,-62.5320,402.35,1126.86)"/>
<circle r="1" fill="#2b9d4e" transform="matrix(138.3441,-53.5680,-120.8469,-61.5394,402.35,1125.47)"/>
<circle r="1" fill="#30a250" transform="matrix(136.1128,-52.7040,-118.8977,-60.5469,402.35,1124.08)"/>
<circle r="1" fill="#39a853" transform="matrix(133.8814,-51.8400,-116.9486,-59.5543,402.35,1122.68)"/>
<circle r="1" fill="#41ad56" transform="matrix(131.6501,-50.9760,-114.9994,-58.5617,402.35,1121.29)"/>
<circle r="1" fill="#4ab359" transform="matrix(129.4187,-50.1120,-113.0503,-57.5691,402.35,1119.90)"/>
<circle r="1" fill="#52b95c" transform="matrix(127.1874,-49.2480,-111.1011,-56.5766,402.35,1118.51)"/>
<circle r="1" fill="#5bbe5f" transform="matrix(124.9560,-48.3840,-109.1520,-55.5840,402.35,1117.12)"/>
<circle r="1" fill="#64c462" transform="matrix(122.7246,-47.5200,-107.2029,-54.5914,402.35,1115.73)"/>
<circle r="1" fill="#70ca66" transform="matrix(120.4933,-46.6560,-105.2537,-53.5989,402.35,1114.33)"/>
<circle r="1" fill="#7ccf69" transform="matrix(118.2619,-45.7920,-103.3046,-52.6063,402.35,1112.94)"/>
<circle r="1" fill="#88d56c" transform="matrix(116.0306,-44.9280,-101.3554,-51.6137,402.35,1111.55)"/>
<circle r="1" fill="#94da6f" transform="matrix(113.7992,-44.0640,-99.4063,-50.6211,402.35,1110.16)"/>
<circle r="1" fill="#9fe072" transform="matrix(111.5679,-43.2000,-97.4571,-49.6286,402.35,1108.77)"/>
<circle r="1" fill="#aae576" transform="matrix(109.3365,-42.3360,-95.5080,-48.6360,402.35,1107.38)"/>
<circle r="1" fill="#b3e77b" transform="matrix(107.1051,-41.4720,-93.5589,-47.6434,402.35,1105.98)"/>
<circle r="1" fill="#bce981" transform="matrix(104.8738,-40.6080,-91.6097,-46.6509,402.35,1104.59)"/>
<circle r="1" fill="#c5ec87" transform="matrix(102.6424,-39.7440,-89.6606,-45.6583,402.35,1103.20)"/>
<circle r="1" fill="#ceee8d" transform="matrix(100.4111,-38.8800,-87.7114,-44.6657,402.35,1101.81)"/>
<circle r="1" fill="#d7f193" transform="matrix(98.1797,-38.0160,-85.7623,-43.6731,402.35,1100.42)"/>
<circle r="1" fill="#def298" transform="matrix(95.9484,-37.1520,-83.8131,-42.6806,402.35,1099.03)"/>
<circle r="1" fill="#e1f39c" transform="matrix(93.7170,-36.2880,-81.8640,-41.6880,402.35,1097.63)"/>
<circle r="1" fill="#e5f4a0" transform="matrix(91.4856,-35.4240,-79.9149,-40.6954,402.35,1096.24)"/>
<circle r="1" fill="#e9f5a4" transform="matrix(89.2543,-34.5600,-77.9657,-39.7029,402.35,1094.85)"/>
<circle r="1" fill="#edf6a8" transform="matrix(87.0229,-33.6960,-76.0166,-38.7103,402.35,1093.46)"/>
<circle r="1" fill="#f0f6ac" transform="matrix(84.7916,-32.8320,-74.0674,-37.7177,402.35,1092.07)"/>
<circle r="1" fill="#f4f7b0" transform="matrix(82.5602,-31.9680,-72.1183,-36.7251,402.35,1090.68)"/>
<circle r="1" fill="#f8f8b4" transform="matrix(80.3289,-31.1040,-70.1691,-35.7326,402.35,1089.28)"/>
<circle r="1" fill="#fcf9b9" transform="matrix(78.0975,-30.2400,-68.2200,-34.7400,402.35,1087.89)"/>
<circle r="1" fill="#fdf5b5" transform="matrix(75.8661,-29.3760,-66.2709,-33.7474,402.35,1086.50)"/>
<circle r="1" fill="#fcf0ac" transform="matrix(73.6348,-28.5120,-64.3217,-32.7549,402.35,1085.11)"/>
<circle r="1" fill="#fceaa4" transform="matrix(71.4034,-27.6480,-62.3726,-31.7623,402.35,1083.72)"/>
<circle r="1" fill="#fce59b" transform="matrix(69.1721,-26.7840,-60.4234,-30.7697,402.35,1082.33)"/>
<circle r="1" fill="#fbdf93" transform="matrix(66.9407,-25.9200,-58.4743,-29.7771,402.35,1080.93)"/>
<circle r="1" fill="#fbda8b" transform="matrix(64.7094,-25.0560,-56.5251,-28.7846,402.35,1079.54)"/>
<circle r="1" fill="#fad181" transform="matrix(62.4780,-24.1920,-54.5760,-27.7920,402.35,1078.15)"/>
<circle r="1" fill="#f9c878" transform="matrix(60.2466,-23.3280,-52.6269,-26.7994,402.35,1076.76)"/>
<circle r="1" fill="#f8be6e" transform="matrix(58.0153,-22.4640,-50.6777,-25.8069,402.35,1075.37)"/>
<circle r="1" fill="#f7b565" transform="matrix(55.7839,-21.6000,-48.7286,-24.8143,402.35,1073.98)"/>
<circle r="1" fill="#f5ab5b" transform="matrix(53.5526,-20.7360,-46.7794,-23.8217,402.35,1072.58)"/>
<circle r="1" fill="#f4a252" transform="matrix(51.3212,-19.8720,-44.8303,-22.8291,402.35,1071.19)"/>
<circle r="1" fill="#f39a4f" transform="matrix(49.0899,-19.0080,-42.8811,-21.8366,402.35,1069.80)"/>
<circle r="1" fill="#f2934d" transform="matrix(46.8585,-18.1440,-40.9320,-20.8440,402.35,1068.41)"/>
<circle r="1" fill="#f08c4b" transform="matrix(44.6271,-17.2800,-38.9829,-19.8514,402.35,1067.02)"/>
<circle r="1" fill="#ef8449" transform="matrix(42.3958,-16.4160,-37.0337,-18.8589,402.35,1065.63)"/>
<circle r="1" fill="#ed7d47" transform="matrix(40.1644,-15.5520,-35.0846,-17.8663,402.35,1064.23)"/>
<circle r="1" fill="#ec7645" transform="matrix(37.9331,-14.6880,-33.1354,-16.8737,402.35,1062.84)"/>
<circle r="1" fill="#eb6f44" transform="matrix(35.7017,-13.8240,-31.1863,-15.8811,402.35,1061.45)"/>
<circle r="1" fill="#e96742" transform="matrix(33.4704,-12.9600,-29.2371,-14.8886,402.35,1060.06)"/>
<circle r="1" fill="#e86040" transform="matrix(31.2390,-12.0960,-27.2880,-13.8960,402.35,1058.67)"/>
<circle r="1" fill="#e65b3f" transform="matrix(29.0076,-11.2320,-25.3389,-12.9034,402.35,1057.28)"/>
<circle r="1" fill="#e4563f" transform="matrix(26.7763,-10.3680,-23.3897,-11.9109,402.35,1055.88)"/>
<circle r="1" fill="#e2523e" transform="matrix(24.5449,-9.5040,-21.4406,-10.9183,402.35,1054.49)"/>
<circle r="1" fill="#e04d3d" transform="matrix(22.3136,-8.6400,-19.4914,-9.9257,402.35,1053.10)"/>
<circle r="1" fill="#de483d" transform="matrix(20.0822,-7.7760,-17.5423,-8.9331,402.35,1051.71)"/>
<circle r="1" fill="#dc433c" transform="matrix(17.8509,-6.9120,-15.5931,-7.9406,402.35,1050.32)"/>
<circle r="1" fill="#da3e3b" transform="matrix(15.6195,-6.0480,-13.6440,-6.9480,402.35,1048.93)"/>
<circle r="1" fill="#d83a3b" transform="matrix(13.3881,-5.1840,-11.6949,-5.9554,402.35,1047.53)"/>
<circle r="1" fill="#d6353a" transform="matrix(11.1568,-4.3200,-9.7457,-4.9629,402.35,1046.14)"/>
<circle r="1" fill="#d33039" transform="matrix(8.9254,-3.4560,-7.7966,-3.9703,402.35,1044.75)"/>
<circle r="1" fill="#d12b38" transform="matrix(6.6941,-2.5920,-5.8474,-2.9777,402.35,1043.36)"/>
<circle r="1" fill="#cf2737" transform="matrix(4.4627,-1.7280,-3.8983,-1.9851,402.35,1041.97)"/>
<circle r="1" fill="#cb2235" transform="matrix(2.2314,-0.8640,-1.9491,-0.9926,402.35,1040.58)"/>
<path d="M194,1138.3 L194.1,1140 L194.3,1141.7 L194.5,1143.4 L194.8,1145.1 L195.2,1146.8 L195.7,1148.5 L196.2,1150.2 L196.8,1151.9 L197.5,1153.5 L198.2,1155.2 L199.1,1156.9 L199.9,1158.5 L200.9,1160.2 L201.9,1161.8 L203,1163.5 L204.1,1165.1 L205.4,1166.7 L206.7,1168.3 L208,1169.9 L209.4,1171.5 L210.9,1173.1 L212.5,1174.6 L214.1,1176.2 L215.8,1177.7 L217.5,1179.2 L219.3,1180.7 L221.2,1182.2 L223.1,1183.7 L225.1,1185.2 L227.2,1186.6 L229.3,1188 L231.4,1189.5 L233.7,1190.8 L235.9,1192.2 L238.3,1193.6 L240.7,1194.9 L243.1,1196.2 L245.6,1197.5 L248.2,1198.8 L250.8,1200 L253.5,1201.3 L256.2,1202.5 L258.9,1203.7 L261.8,1204.8 L264.6,1206 L267.5,1207.1 L270.5,1208.2 L273.5,1209.3 L276.5,1210.3 L279.6,1211.3 L282.7,1212.3 L285.9,1213.3 L289.1,1214.2 L292.3,1215.1 L295.6,1216 L298.9,1216.9 L302.3,1217.7 L305.7,1218.5 L309.1,1219.3 L312.5,1220.1 L316,1220.8 L319.5,1221.5 L323.1,1222.2 L326.6,1222.8 L330.2,1223.4 L333.8,1224 L337.5,1224.5 L341.1,1225 L344.8,1225.5 L348.5,1226 L352.2,1226.4 L356,1226.8 L359.7,1227.2 L363.5,1227.5 L367.2,1227.8 L371,1228.1 L374.8,1228.3 L378.7,1228.6 L382.5,1228.7 L386.3,1228.9 L390.1,1229 L394,1229.1 L397.8,1229.2 L401.6,1229.2 L405.5,1229.2 L409.3,1229.1 L413.2,1229.1 L417,1229 L420.8,1228.8 L424.6,1228.7 L428.5,1228.5 L432.3,1228.2 L436.1,1228 L439.8,1227.7 L443.6,1227.4 L447.4,1227 L451.1,1226.6 L454.8,1226.2 L458.5,1225.8 L462.2,1225.3 L465.9,1224.8 L469.5,1224.3 L473.2,1223.7 L476.8,1223.1 L480.3,1222.5 L483.9,1221.9 L487.4,1221.2 L490.9,1220.5 L494.4,1219.7 L497.8,1219 L501.2,1218.2 L504.5,1217.4 L507.9,1216.5 L511.2,1215.6 L514.4,1214.7 L517.6,1213.8 L520.8,1212.9 L524,1211.9 L527.1,1210.9 L530.1,1209.8 L533.1,1208.8 L536.1,1207.7 L539,1206.6 L541.9,1205.5 L544.7,1204.3 L547.5,1203.2 L550.2,1202 L552.9,1200.7 L555.5,1199.5 L558.1,1198.2 L560.6,1196.9 L563.1,1195.6 L565.5,1194.3 L567.9,1193 L570.2,1191.6 L572.4,1190.2 L574.6,1188.8 L576.8,1187.4 L578.8,1186 L580.9,1184.5 L582.8,1183.1 L584.7,1181.6 L586.5,1180.1 L588.3,1178.6 L590,1177 L591.6,1175.5 L593.2,1174 L594.7,1172.4 L596.2,1170.8 L597.5,1169.2 L598.9,1167.6 L600.1,1166 L601.3,1164.4 L602.4,1162.7 L603.4,1161.1 L604.4,1159.5 L605.3,1157.8 L606.2,1156.1 L606.9,1154.5 L607.6,1152.8 L608.3,1151.1 L608.8,1149.4 L609.3,1147.7 L609.7,1146 L610.1,1144.3 L610.4,1142.6 L610.6,1140.9 L610.7,1139.2 L610.8,1137.5 L610.8,1135.8 L610.7,1134.1 L610.6,1132.4 L610.3,1130.7 L610,1129 L609.7,1127.3 L609.3,1125.6 L608.8,1123.9 L608.2,1122.2 L607.6,1120.6 L606.9,1118.9" fill="none" stroke="#90f0c0" stroke-width="2" stroke-dasharray="2.2 1.5" opacity="0.9"/>
<polygon points="402.4,1039.2 246.2,1197.1 228.8,1203.8 228.8,1201.4 246.2,1194.7 402.4,1039.2" fill="url(#v338)"/>
<polygon points="402.4,1039.2 246.2,1195.9 228.8,1202.6 228.8,1200.3 246.2,1193.5 402.4,1039.1" fill="url(#v339)"/>
<polygon points="402.4,1039.2 246.2,1194.7 228.8,1201.4 228.8,1199.1 246.2,1192.4 402.4,1039.1" fill="url(#v340)"/>
<polygon points="402.4,1039.1 246.2,1193.5 228.8,1200.3 228.8,1197.9 246.2,1191.2 402.4,1039.1" fill="url(#v341)"/>
<polygon points="402.4,1039.1 246.2,1192.4 228.8,1199.1 228.8,1196.4 246.2,1189.7 402.4,1039.1" fill="url(#v342)"/>
<polygon points="402.4,1039.1 246.2,1191.2 228.8,1197.9 228.8,1194.9 246.2,1188.2 402.4,1039.1" fill="url(#v343)"/>
<polygon points="402.4,1039.1 246.2,1189.7 228.8,1196.4 228.8,1193.5 246.2,1186.7 402.4,1039.1" fill="url(#v344)"/>
<polygon points="402.4,1039.1 246.2,1188.2 228.8,1194.9 228.8,1192 246.2,1185.3 402.4,1039.1" fill="url(#v345)"/>
<polygon points="402.4,1039.1 246.2,1186.7 228.8,1193.5 228.8,1189 246.2,1182.3 402.4,1039" fill="url(#v346)"/>
<polygon points="402.4,1039.1 246.2,1185.3 228.8,1192 228.8,1186.1 246.2,1179.4 402.4,1039" fill="url(#v347)"/>
<polygon points="402.4,1039 246.2,1182.3 228.8,1189 228.8,1183.1 246.2,1176.4 402.4,1039" fill="url(#v348)"/>
<polygon points="402.4,1039 246.2,1179.4 228.8,1186.1 228.8,1179.7 246.2,1173 402.4,1038.9" fill="url(#v349)"/>
<polygon points="402.4,1039 246.2,1176.4 228.8,1183.1 228.8,1176.2 246.2,1169.5 402.4,1038.9" fill="url(#v350)"/>
<polygon points="402.4,1038.9 246.2,1173 228.8,1179.7 228.8,1172.8 246.2,1166.1 402.4,1038.9" fill="url(#v351)"/>
<polygon points="402.4,1038.9 246.2,1169.5 228.8,1176.2 228.8,1169.4 246.2,1162.6 402.4,1038.8" fill="url(#v352)"/>
<polygon points="402.4,1038.9 246.2,1166.1 228.8,1172.8 228.8,1165.4 246.2,1158.7 402.4,1038.8" fill="url(#v353)"/>
<polygon points="402.4,1038.8 246.2,1162.6 228.8,1169.4 228.8,1161 246.2,1154.3 402.4,1038.8" fill="url(#v354)"/>
<polygon points="402.4,1038.8 246.2,1158.7 228.8,1165.4 228.8,1156.1 246.2,1149.4 402.4,1038.7" fill="url(#v355)"/>
<polygon points="402.4,1038.8 246.2,1154.3 228.8,1161 228.8,1150.7 246.2,1143.9 402.4,1038.7" fill="url(#v356)"/>
<polygon points="402.4,1038.7 246.2,1149.4 228.8,1156.1 228.8,1144.8 246.2,1138 402.4,1038.6" fill="url(#v357)"/>
<polygon points="402.4,1038.7 246.2,1143.9 228.8,1150.7 228.8,1137.9 246.2,1131.2 402.4,1038.5" fill="url(#v358)"/>
<polygon points="402.4,1038.6 246.2,1138 228.8,1144.8 228.8,1130 246.2,1123.3 402.4,1038.4" fill="url(#v359)"/>
<polygon points="402.4,1038.5 246.2,1131.2 228.8,1137.9 228.8,1121.1 246.2,1114.4 402.4,1038.4" fill="url(#v360)"/>
<polygon points="402.4,1038.4 246.2,1123.3 228.8,1130 228.8,1113.3 246.2,1106.6 402.4,1038.3" fill="url(#v361)"/>
<polygon points="402.4,1038.4 246.2,1114.4 228.8,1121.1 228.8,1105.4 246.2,1098.7 402.4,1038.2" fill="url(#v362)"/>
<polygon points="402.4,1038.3 246.2,1106.6 228.8,1113.3 228.8,1105.4 246.2,1098.7 402.4,1038.2" fill="url(#v363)"/>
<polygon points="402.4,1039.2 538.8,1206.1 554,1213.8 554,1211.4 538.8,1203.7 402.4,1039.2" fill="url(#v390)"/>
<polygon points="402.4,1039.2 538.8,1204.9 554,1212.6 554,1210.3 538.8,1202.5 402.4,1039.1" fill="url(#v391)"/>
<polygon points="402.4,1039.2 538.8,1203.7 554,1211.4 554,1209.1 538.8,1201.4 402.4,1039.1" fill="url(#v392)"/>
<polygon points="402.4,1039.1 538.8,1202.5 554,1210.3 554,1207.9 538.8,1200.2 402.4,1039.1" fill="url(#v393)"/>
<polygon points="402.4,1039.1 538.8,1201.4 554,1209.1 554,1206.4 538.8,1198.7 402.4,1039.1" fill="url(#v394)"/>
<polygon points="402.4,1039.1 538.8,1200.2 554,1207.9 554,1204.9 538.8,1197.2 402.4,1039.1" fill="url(#v395)"/>
<polygon points="402.4,1039.1 538.8,1198.7 554,1206.4 554,1203.5 538.8,1195.7 402.4,1039.1" fill="url(#v396)"/>
<polygon points="402.4,1039.1 538.8,1197.2 554,1204.9 554,1202 538.8,1194.3 402.4,1039.1" fill="url(#v397)"/>
<polygon points="402.4,1039.1 538.8,1195.7 554,1203.5 554,1199 538.8,1191.3 402.4,1039" fill="url(#v398)"/>
<polygon points="402.4,1039.1 538.8,1194.3 554,1202 554,1196.1 538.8,1188.4 402.4,1039" fill="url(#v399)"/>
<polygon points="402.4,1039 538.8,1191.3 554,1199 554,1193.1 538.8,1185.4 402.4,1039" fill="url(#v400)"/>
<polygon points="402.4,1039 538.8,1188.4 554,1196.1 554,1189.7 538.8,1182 402.4,1038.9" fill="url(#v401)"/>
<polygon points="402.4,1039 538.8,1185.4 554,1193.1 554,1186.2 538.8,1178.5 402.4,1038.9" fill="url(#v402)"/>
<polygon points="402.4,1038.9 538.8,1182 554,1189.7 554,1182.8 538.8,1175.1 402.4,1038.9" fill="url(#v403)"/>
<polygon points="402.4,1038.9 538.8,1178.5 554,1186.2 554,1179.4 538.8,1171.6 402.4,1038.8" fill="url(#v404)"/>
<polygon points="402.4,1038.9 538.8,1175.1 554,1182.8 554,1175.4 538.8,1167.7 402.4,1038.8" fill="url(#v405)"/>
<polygon points="402.4,1038.8 538.8,1171.6 554,1179.4 554,1171 538.8,1163.3 402.4,1038.8" fill="url(#v406)"/>
<polygon points="402.4,1038.8 538.8,1167.7 554,1175.4 554,1166.1 538.8,1158.4 402.4,1038.7" fill="url(#v407)"/>
<polygon points="402.4,1038.8 538.8,1163.3 554,1171 554,1160.7 538.8,1152.9 402.4,1038.7" fill="url(#v408)"/>
<polygon points="402.4,1038.7 538.8,1158.4 554,1166.1 554,1154.8 538.8,1147 402.4,1038.6" fill="url(#v409)"/>
<polygon points="402.4,1038.7 538.8,1152.9 554,1160.7 554,1147.9 538.8,1140.2 402.4,1038.5" fill="url(#v410)"/>
<polygon points="402.4,1038.6 538.8,1147 554,1154.8 554,1140 538.8,1132.3 402.4,1038.4" fill="url(#v411)"/>
<polygon points="402.4,1038.5 538.8,1140.2 554,1147.9 554,1131.1 538.8,1123.4 402.4,1038.4" fill="url(#v412)"/>
<polygon points="402.4,1038.4 538.8,1132.3 554,1140 554,1123.3 538.8,1115.6 402.4,1038.3" fill="url(#v413)"/>
<polygon points="402.4,1038.4 538.8,1123.4 554,1131.1 554,1115.4 538.8,1107.7 402.4,1038.2" fill="url(#v414)"/>
<polygon points="402.4,1038.3 538.8,1115.6 554,1123.3 554,1115.4 538.8,1107.7 402.4,1038.2" fill="url(#v415)"/>
<line x1="77.2" y1="1028.2" x2="73.2" y2="1028.2" stroke="#262626" stroke-width="1" />
<text x="69.7" y="1032.8" font-size="16.8" text-anchor="end" font-weight="normal" fill="#262626" >0</text>
<line x1="77.2" y1="1077.4" x2="73.2" y2="1077.4" stroke="#262626" stroke-width="1" />
<text x="69.7" y="1082" font-size="16.8" text-anchor="end" font-weight="normal" fill="#262626" >-500</text>
<line x1="77.2" y1="1126.6" x2="73.2" y2="1126.6" stroke="#262626" stroke-width="1" />
<text x="69.7" y="1131.2" font-size="16.8" text-anchor="end" font-weight="normal" fill="#262626" >-1000</text>
<line x1="77.2" y1="1126.6" x2="73.4" y2="1128.1" stroke="#262626" stroke-width="1" />
<text x="68.4" y="1146.6" font-size="16.8" text-anchor="end" font-weight="normal" fill="#262626" >100</text>
<line x1="153" y1="1165.2" x2="149.2" y2="1166.7" stroke="#262626" stroke-width="1" />
<text x="144.2" y="1185.2" font-size="16.8" text-anchor="end" font-weight="normal" fill="#262626" >50</text>
<line x1="228.8" y1="1203.8" x2="225" y2="1205.3" stroke="#262626" stroke-width="1" />
<text x="220" y="1223.8" font-size="16.8" text-anchor="end" font-weight="normal" fill="#262626" >0</text>
<line x1="304.6" y1="1242.4" x2="300.8" y2="1243.9" stroke="#262626" stroke-width="1" />
<text x="295.8" y="1262.4" font-size="16.8" text-anchor="end" font-weight="normal" fill="#262626" >-50</text>
<line x1="380.4" y1="1281" x2="376.6" y2="1282.5" stroke="#262626" stroke-width="1" />
<text x="371.6" y="1301" font-size="16.8" text-anchor="end" font-weight="normal" fill="#262626" >-100</text>
<line x1="380.4" y1="1281" x2="383.7" y2="1282.7" stroke="#262626" stroke-width="1" />
<text x="388.4" y="1301.5" font-size="16.8" text-anchor="start" font-weight="normal" fill="#262626" >-100</text>
<line x1="467.2" y1="1247.4" x2="470.5" y2="1249.1" stroke="#262626" stroke-width="1" />
<text x="475.2" y="1267.9" font-size="16.8" text-anchor="start" font-weight="normal" fill="#262626" >-50</text>
<line x1="554" y1="1213.8" x2="557.3" y2="1215.5" stroke="#262626" stroke-width="1" />
<text x="562" y="1234.3" font-size="16.8" text-anchor="start" font-weight="normal" fill="#262626" >0</text>
<line x1="640.7" y1="1180.2" x2="644.1" y2="1181.9" stroke="#262626" stroke-width="1" />
<text x="648.7" y="1200.7" font-size="16.8" text-anchor="start" font-weight="normal" fill="#262626" >50</text>
<line x1="727.5" y1="1146.6" x2="730.8" y2="1148.3" stroke="#262626" stroke-width="1" />
<text x="735.5" y="1167.1" font-size="16.8" text-anchor="start" font-weight="normal" fill="#262626" >100</text>
<text x="183" y="1236" font-size="19.2" text-anchor="middle" font-weight="normal" fill="#262626" >y (km)</text>
<text x="598" y="1246" font-size="19.2" text-anchor="middle" font-weight="normal" fill="#262626" >x (km)</text>
<text x="12.5" y="1078" font-size="19.2" text-anchor="middle" font-weight="normal" fill="#262626" transform="rotate(-90 12.5 1078)" dy="6">depth (m)</text>
<rect x="624.1" y="905.8" width="25.6" height="73.4" fill="url(#cb311)"/>
<text x="654.8" y="911.4" font-size="14.2" text-anchor="start" font-weight="normal" fill="#262626" >2</text>
<text x="654.8" y="947.6" font-size="14.2" text-anchor="start" font-weight="normal" fill="#262626" >0</text>
<text x="665.3" y="947.6" font-size="14.2" text-anchor="start" font-weight="normal" fill="#262626" >(m s<tspan dx="0.9" dy="-0.42em" font-size="0.72em">-1</tspan><tspan dx="2.8" dy="0.42em">)</tspan></text>
<text x="654.8" y="984.8" font-size="14.2" text-anchor="start" font-weight="normal" fill="#262626" >-2</text>
<text x="651.5" y="900" font-size="16.5" text-anchor="start" font-weight="normal" fill="#262626" ><tspan font-size="0.85em">×</tspan><tspan dx="4.1">10</tspan><tspan dy="-0.5em" font-size="0.72em">-3</tspan></text>
<text x="255.1" y="988.3" font-size="21" text-anchor="start" font-weight="bold" fill="#000" >U</text>
<text x="233.6" y="1123.8" font-size="21" text-anchor="start" font-weight="bold" fill="#000" >V</text>
<line x1="983.8" y1="1187.8" x2="983.8" y2="986.9" stroke="#262626" stroke-width="1.1" />
<line x1="983.8" y1="986.9" x2="1436" y2="908.7" stroke="#262626" stroke-width="1.1" />
<line x1="1436" y1="908.7" x2="1729.9" y2="1029.7" stroke="#262626" stroke-width="1.1" />
<line x1="1436" y1="1109.6" x2="1436" y2="908.7" stroke="#262626" stroke-width="1.1" />
<line x1="1729.9" y1="1230.6" x2="1729.9" y2="1029.7" stroke="#262626" stroke-width="1.1" />
<g fill="#9c9c92" opacity="0.6">
<circle r="1" transform="matrix(212.5340,-36.7540,-138.1330,-56.8700,1356.85,1197.15)"/>
<circle r="1" transform="matrix(208.0120,-35.9720,-135.1940,-55.6600,1356.85,1197.15)"/>
<circle r="1" transform="matrix(203.4900,-35.1900,-132.2550,-54.4500,1356.85,1197.15)"/>
<circle r="1" transform="matrix(198.9680,-34.4080,-129.3160,-53.2400,1356.85,1192.73)"/>
<circle r="1" transform="matrix(194.4460,-33.6260,-126.3770,-52.0300,1356.85,1188.31)"/>
<circle r="1" transform="matrix(189.9240,-32.8440,-123.4380,-50.8200,1356.85,1183.89)"/>
<circle r="1" transform="matrix(185.4020,-32.0620,-120.4990,-49.6100,1356.85,1179.47)"/>
<circle r="1" transform="matrix(180.8800,-31.2800,-117.5600,-48.4000,1356.85,1175.05)"/>
<circle r="1" transform="matrix(176.3580,-30.4980,-114.6210,-47.1900,1356.85,1170.63)"/>
<circle r="1" transform="matrix(171.8360,-29.7160,-111.6820,-45.9800,1356.85,1166.21)"/>
<circle r="1" transform="matrix(167.3140,-28.9340,-108.7430,-44.7700,1356.85,1161.79)"/>
<circle r="1" transform="matrix(162.7920,-28.1520,-105.8040,-43.5600,1356.85,1157.37)"/>
<circle r="1" transform="matrix(158.2700,-27.3700,-102.8650,-42.3500,1356.85,1152.95)"/>
<circle r="1" transform="matrix(153.7480,-26.5880,-99.9260,-41.1400,1356.85,1148.53)"/>
<circle r="1" transform="matrix(149.2260,-25.8060,-96.9870,-39.9300,1356.85,1144.11)"/>
<circle r="1" transform="matrix(144.7040,-25.0240,-94.0480,-38.7200,1356.85,1139.69)"/>
<circle r="1" transform="matrix(140.1820,-24.2420,-91.1090,-37.5100,1356.85,1135.27)"/>
<circle r="1" transform="matrix(135.6600,-23.4600,-88.1700,-36.3000,1356.85,1130.85)"/>
<circle r="1" transform="matrix(131.1380,-22.6780,-85.2310,-35.0900,1356.85,1126.43)"/>
<circle r="1" transform="matrix(126.6160,-21.8960,-82.2920,-33.8800,1356.85,1122.01)"/>
<circle r="1" transform="matrix(122.0940,-21.1140,-79.3530,-32.6700,1356.85,1117.59)"/>
<circle r="1" transform="matrix(117.5720,-20.3320,-76.4140,-31.4600,1356.85,1113.17)"/>
<circle r="1" transform="matrix(113.0500,-19.5500,-73.4750,-30.2500,1356.85,1108.75)"/>
<circle r="1" transform="matrix(108.5280,-18.7680,-70.5360,-29.0400,1356.85,1104.33)"/>
<circle r="1" transform="matrix(104.0060,-17.9860,-67.5970,-27.8300,1356.85,1099.91)"/>
<circle r="1" transform="matrix(99.4840,-17.2040,-64.6580,-26.6200,1356.85,1095.49)"/>
<circle r="1" transform="matrix(94.9620,-16.4220,-61.7190,-25.4100,1356.85,1091.07)"/>
<circle r="1" transform="matrix(90.4400,-15.6400,-58.7800,-24.2000,1356.85,1086.65)"/>
<circle r="1" transform="matrix(85.9180,-14.8580,-55.8410,-22.9900,1356.85,1082.23)"/>
<circle r="1" transform="matrix(81.3960,-14.0760,-52.9020,-21.7800,1356.85,1077.81)"/>
<circle r="1" transform="matrix(76.8740,-13.2940,-49.9630,-20.5700,1356.85,1073.39)"/>
<circle r="1" transform="matrix(72.3520,-12.5120,-47.0240,-19.3600,1356.85,1068.97)"/>
<circle r="1" transform="matrix(67.8300,-11.7300,-44.0850,-18.1500,1356.85,1064.55)"/>
<circle r="1" transform="matrix(63.3080,-10.9480,-41.1460,-16.9400,1356.85,1060.13)"/>
<circle r="1" transform="matrix(58.7860,-10.1660,-38.2070,-15.7300,1356.85,1055.71)"/>
<circle r="1" transform="matrix(54.2640,-9.3840,-35.2680,-14.5200,1356.85,1051.29)"/>
<circle r="1" transform="matrix(49.7420,-8.6020,-32.3290,-13.3100,1356.85,1046.87)"/>
<circle r="1" transform="matrix(45.2200,-7.8200,-29.3900,-12.1000,1356.85,1042.45)"/>
<circle r="1" transform="matrix(40.6980,-7.0380,-26.4510,-10.8900,1356.85,1038.03)"/>
<circle r="1" transform="matrix(36.1760,-6.2560,-23.5120,-9.6800,1356.85,1033.61)"/>
<circle r="1" transform="matrix(31.6540,-5.4740,-20.5730,-8.4700,1356.85,1029.19)"/>
<circle r="1" transform="matrix(27.1320,-4.6920,-17.6340,-7.2600,1356.85,1024.77)"/>
<circle r="1" transform="matrix(22.6100,-3.9100,-14.6950,-6.0500,1356.85,1020.35)"/>
<circle r="1" transform="matrix(18.0880,-3.1280,-11.7560,-4.8400,1356.85,1015.93)"/>
<circle r="1" transform="matrix(13.5660,-2.3460,-8.8170,-3.6300,1356.85,1011.51)"/>
<circle r="1" transform="matrix(9.0440,-1.5640,-5.8780,-2.4200,1356.85,1008.30)"/>
<circle r="1" transform="matrix(4.5220,-0.7820,-2.9390,-1.2100,1356.85,1008.30)"/>
<circle r="1" transform="matrix(1.1305,-0.1955,-0.7348,-0.3025,1356.85,1008.30)"/>
</g>
<polygon points="983.8,1187.8 1436,1109.6 1729.9,1230.6 1277.7,1308.8" fill="#07321e"/>
<line x1="983.8" y1="1187.8" x2="1277.7" y2="1308.8" stroke="#0a1a10" stroke-width="1.1" />
<line x1="1277.7" y1="1308.8" x2="1729.9" y2="1230.6" stroke="#0a1a10" stroke-width="1.1" />
<circle r="1" fill="url(#s416)" transform="matrix(203.4900,-35.1900,-132.2550,-54.4500,1356.85,1209.20)"/>
<circle r="1" fill="url(#s417)" transform="matrix(199.4202,-34.4862,-129.6099,-53.3610,1356.85,1205.22)"/>
<circle r="1" fill="url(#s418)" transform="matrix(195.3504,-33.7824,-126.9648,-52.2720,1356.85,1201.24)"/>
<circle r="1" fill="url(#s419)" transform="matrix(191.2806,-33.0786,-124.3197,-51.1830,1356.85,1197.27)"/>
<circle r="1" fill="url(#s420)" transform="matrix(187.2108,-32.3748,-121.6746,-50.0940,1356.85,1193.29)"/>
<circle r="1" fill="url(#s421)" transform="matrix(183.1410,-31.6710,-119.0295,-49.0050,1356.85,1189.31)"/>
<circle r="1" fill="url(#s422)" transform="matrix(179.0712,-30.9672,-116.3844,-47.9160,1356.85,1185.33)"/>
<circle r="1" fill="url(#s423)" transform="matrix(175.0014,-30.2634,-113.7393,-46.8270,1356.85,1181.36)"/>
<circle r="1" fill="url(#s424)" transform="matrix(170.9316,-29.5596,-111.0942,-45.7380,1356.85,1177.38)"/>
<circle r="1" fill="url(#s425)" transform="matrix(166.8618,-28.8558,-108.4491,-44.6490,1356.85,1173.40)"/>
<circle r="1" fill="url(#s426)" transform="matrix(162.7920,-28.1520,-105.8040,-43.5600,1356.85,1169.42)"/>
<circle r="1" fill="url(#s427)" transform="matrix(158.7222,-27.4482,-103.1589,-42.4710,1356.85,1165.44)"/>
<circle r="1" fill="url(#s428)" transform="matrix(154.6524,-26.7444,-100.5138,-41.3820,1356.85,1161.47)"/>
<circle r="1" fill="url(#s429)" transform="matrix(150.5826,-26.0406,-97.8687,-40.2930,1356.85,1157.49)"/>
<circle r="1" fill="url(#s430)" transform="matrix(146.5128,-25.3368,-95.2236,-39.2040,1356.85,1153.51)"/>
<circle r="1" fill="url(#s431)" transform="matrix(142.4430,-24.6330,-92.5785,-38.1150,1356.85,1149.53)"/>
<circle r="1" fill="url(#s432)" transform="matrix(138.3732,-23.9292,-89.9334,-37.0260,1356.85,1145.55)"/>
<circle r="1" fill="url(#s433)" transform="matrix(134.3034,-23.2254,-87.2883,-35.9370,1356.85,1141.58)"/>
<circle r="1" fill="url(#s434)" transform="matrix(130.2336,-22.5216,-84.6432,-34.8480,1356.85,1137.60)"/>
<circle r="1" fill="url(#s435)" transform="matrix(126.1638,-21.8178,-81.9981,-33.7590,1356.85,1133.62)"/>
<circle r="1" fill="url(#s436)" transform="matrix(122.0940,-21.1140,-79.3530,-32.6700,1356.85,1129.64)"/>
<circle r="1" fill="url(#s437)" transform="matrix(118.0242,-20.4102,-76.7079,-31.5810,1356.85,1125.67)"/>
<circle r="1" fill="url(#s438)" transform="matrix(113.9544,-19.7064,-74.0628,-30.4920,1356.85,1121.69)"/>
<circle r="1" fill="url(#s439)" transform="matrix(109.8846,-19.0026,-71.4177,-29.4030,1356.85,1117.71)"/>
<circle r="1" fill="url(#s440)" transform="matrix(105.8148,-18.2988,-68.7726,-28.3140,1356.85,1113.73)"/>
<circle r="1" fill="url(#s441)" transform="matrix(101.7450,-17.5950,-66.1275,-27.2250,1356.85,1109.75)"/>
<circle r="1" fill="url(#s442)" transform="matrix(97.6752,-16.8912,-63.4824,-26.1360,1356.85,1105.78)"/>
<circle r="1" fill="url(#s443)" transform="matrix(93.6054,-16.1874,-60.8373,-25.0470,1356.85,1101.80)"/>
<circle r="1" fill="url(#s444)" transform="matrix(89.5356,-15.4836,-58.1922,-23.9580,1356.85,1097.82)"/>
<circle r="1" fill="url(#s445)" transform="matrix(85.4658,-14.7798,-55.5471,-22.8690,1356.85,1093.84)"/>
<circle r="1" fill="url(#s446)" transform="matrix(81.3960,-14.0760,-52.9020,-21.7800,1356.85,1089.87)"/>
<circle r="1" fill="url(#s447)" transform="matrix(77.3262,-13.3722,-50.2569,-20.6910,1356.85,1085.89)"/>
<circle r="1" fill="url(#s448)" transform="matrix(73.2564,-12.6684,-47.6118,-19.6020,1356.85,1081.91)"/>
<circle r="1" fill="url(#s449)" transform="matrix(69.1866,-11.9646,-44.9667,-18.5130,1356.85,1077.93)"/>
<circle r="1" fill="url(#s450)" transform="matrix(65.1168,-11.2608,-42.3216,-17.4240,1356.85,1073.95)"/>
<circle r="1" fill="url(#s451)" transform="matrix(61.0470,-10.5570,-39.6765,-16.3350,1356.85,1069.98)"/>
<circle r="1" fill="url(#s452)" transform="matrix(56.9772,-9.8532,-37.0314,-15.2460,1356.85,1066.00)"/>
<circle r="1" fill="url(#s453)" transform="matrix(52.9074,-9.1494,-34.3863,-14.1570,1356.85,1062.02)"/>
<circle r="1" fill="url(#s454)" transform="matrix(48.8376,-8.4456,-31.7412,-13.0680,1356.85,1058.04)"/>
<circle r="1" fill="url(#s455)" transform="matrix(44.7678,-7.7418,-29.0961,-11.9790,1356.85,1054.07)"/>
<circle r="1" fill="url(#s456)" transform="matrix(40.6980,-7.0380,-26.4510,-10.8900,1356.85,1050.09)"/>
<circle r="1" fill="url(#s457)" transform="matrix(36.6282,-6.3342,-23.8059,-9.8010,1356.85,1046.11)"/>
<circle r="1" fill="url(#s458)" transform="matrix(32.5584,-5.6304,-21.1608,-8.7120,1356.85,1042.13)"/>
<circle r="1" fill="url(#s459)" transform="matrix(28.4886,-4.9266,-18.5157,-7.6230,1356.85,1038.15)"/>
<circle r="1" fill="url(#s460)" transform="matrix(24.4188,-4.2228,-15.8706,-6.5340,1356.85,1034.18)"/>
<circle r="1" fill="url(#s461)" transform="matrix(20.3490,-3.5190,-13.2255,-5.4450,1356.85,1030.20)"/>
<circle r="1" fill="url(#s462)" transform="matrix(16.2792,-2.8152,-10.5804,-4.3560,1356.85,1026.22)"/>
<circle r="1" fill="url(#s463)" transform="matrix(12.2094,-2.1114,-7.9353,-3.2670,1356.85,1022.24)"/>
<circle r="1" fill="url(#s464)" transform="matrix(8.1396,-1.4076,-5.2902,-2.1780,1356.85,1018.26)"/>
<circle r="1" fill="url(#s465)" transform="matrix(4.0698,-0.7038,-2.6451,-1.0890,1356.85,1014.29)"/>
<path d="M1391.1,1274.1 L1396.2,1273.9 L1401.4,1273.6 L1406.5,1273.4 L1411.6,1273.1 L1416.7,1272.7 L1421.8,1272.4 L1426.8,1272 L1431.8,1271.6 L1436.7,1271.2 L1441.7,1270.7 L1446.5,1270.2 L1451.4,1269.7 L1456.2,1269.1 L1461,1268.6 L1465.7,1267.9 L1470.3,1267.3 L1474.9,1266.7 L1479.5,1266 L1484,1265.3 L1488.4,1264.5 L1492.8,1263.8 L1497.1,1263 L1501.4,1262.2 L1505.6,1261.4 L1509.7,1260.5 L1513.7,1259.6 L1517.7,1258.7 L1521.6,1257.8 L1525.5,1256.8 L1529.2,1255.9 L1532.9,1254.9 L1536.5,1253.9 L1540,1252.8 L1543.5,1251.8 L1546.8,1250.7 L1550.1,1249.6 L1553.2,1248.5 L1556.3,1247.4 L1559.3,1246.3 L1562.2,1245.1 L1565,1243.9 L1567.7,1242.7 L1570.4,1241.5 L1572.9,1240.3 L1575.3,1239.1 L1577.6,1237.8 L1579.8,1236.5 L1582,1235.3 L1584,1234 L1585.9,1232.7 L1587.7,1231.4 L1589.4,1230.1 L1591,1228.7 L1592.5,1227.4 L1593.9,1226 L1595.2,1224.7 L1596.3,1223.3 L1597.4,1222 L1598.3,1220.6 L1599.2,1219.2 L1599.9,1217.8 L1600.5,1216.4 L1601,1215.1 L1601.4,1213.7 L1601.7,1212.3 L1601.9,1210.9 L1602,1209.5 L1601.9,1208.1 L1601.8,1206.7 L1601.5,1205.3 L1601.1,1203.9 L1600.6,1202.5 L1600,1201.1 L1599.3,1199.7 L1598.5,1198.3 L1597.5,1197 L1596.5,1195.6 L1595.3,1194.2 L1594.1,1192.9 L1592.7,1191.5 L1591.2,1190.2 L1589.6,1188.9 L1588,1187.5 L1586.2,1186.2 L1584.3,1184.9 L1582.3,1183.6 L1580.2,1182.4 L1577.9,1181.1 L1575.6,1179.8 L1573.2,1178.6" fill="none" stroke="#b0d8bc" stroke-width="1.4" stroke-dasharray="2 2" opacity="0.45"/>
<path d="M1441.7,1079 L1432.6,1077.8 L1423.4,1076.7 L1414.1,1075.7 L1404.6,1074.8 L1395.1,1074 L1385.5,1073.4 L1375.8,1072.8 L1366.2,1072.5 L1356.5,1072.2 L1346.9,1072.1 L1337.3,1072 L1327.8,1072.2 L1318.4,1072.4 L1309.1,1072.7 L1300,1073.2 L1291,1073.8 L1282.2,1074.5 L1273.6,1075.3 L1265.2,1076.2 M1389.6,1038.8 L1382,1038.3 L1374.3,1038 L1366.7,1037.7 L1359.1,1037.6 L1351.5,1037.6 L1344,1037.6 L1336.5,1037.8 L1329.1,1038 L1321.8,1038.4 L1314.6,1038.8 M1377.6,1026.9 L1373.1,1026.5 L1368.5,1026.1 L1364,1025.7 L1359.6,1025.5 L1355.2,1025.2 L1350.9,1025.1 L1346.6,1024.9 L1342.4,1024.9 L1338.4,1024.9 L1334.4,1024.9" fill="none" stroke="#3aa8a0" stroke-width="2.4" opacity="0.7" stroke-linejoin="round"/>
<path d="M1459.3,1081.9 L1450.6,1080.4 L1441.7,1079 M1265.2,1076.2 L1257.1,1077.3 L1249.2,1078.4 M1404.6,1040 L1397.1,1039.3 L1389.6,1038.8 M1314.6,1038.8 L1307.6,1039.3 L1300.7,1039.9 M1395.9,1029.4 L1391.3,1028.7 L1386.8,1028 L1382.2,1027.5 L1377.6,1026.9 M1334.4,1024.9 L1330.5,1025 L1326.8,1025.2 L1323.2,1025.3 L1319.7,1025.6" fill="none" stroke="#26c4ac" stroke-width="2.5" stroke-linejoin="round"/>
<path d="M1311.2,1210.7 L1321.6,1211.1 L1332.1,1211.5 L1342.8,1211.6 L1353.6,1211.7 L1364.4,1211.6 L1375.4,1211.3 L1386.5,1210.9 L1397.5,1210.3 L1408.6,1209.5 L1419.5,1208.5 L1430.3,1207.3 L1440.9,1205.8 L1451.2,1204.2 L1461.3,1202.4 L1470.9,1200.3 L1480.2,1198.1 L1489,1195.7 L1497.3,1193.2 L1505.1,1190.5 L1512.5,1187.7 L1519.5,1184.8 L1526,1181.9 L1532,1178.9 L1537.6,1175.8 L1542.7,1172.7 L1547.2,1169.5 L1551.3,1166.3 L1554.9,1163 L1557.9,1159.7 L1560.5,1156.4 L1562.5,1153 L1564.1,1149.7 L1565.2,1146.4 L1565.9,1143.1 L1566.1,1139.9 L1565.9,1136.7 L1565.3,1133.5 L1564.3,1130.4 L1562.8,1127.4 L1560.9,1124.4 L1558.7,1121.4 L1556,1118.5 L1552.9,1115.7 L1549.4,1113 L1545.4,1110.2 L1541,1107.6 L1536.1,1105 L1530.9,1102.4 L1525.3,1100 L1519.2,1097.6 L1512.8,1095.3 L1506.1,1093.1 L1499,1091 L1491.6,1089 L1483.9,1087 L1476,1085.2 L1467.7,1083.5 L1459.3,1081.9 M1249.2,1078.4 L1241.6,1079.6 L1234.3,1081 L1227.3,1082.4 L1220.6,1083.9 L1214.2,1085.5 L1208.3,1087.1 L1202.6,1088.9 L1197.4,1090.7 L1192.6,1092.5 L1188.1,1094.4 L1184.1,1096.4 L1180.5,1098.4 L1177.3,1100.5 L1174.6,1102.6 L1172.3,1104.7 L1170.4,1106.9 L1169,1109 L1168.1,1111.1 L1167.6,1113.2 L1167.5,1115.3 L1167.9,1117.4 L1168.8,1119.5 L1170.1,1121.5 L1171.9,1123.4 L1174.1,1125.4 L1176.7,1127.3 L1179.7,1129.1 L1183.1,1130.9 L1187,1132.6 L1191.2,1134.3 L1195.8,1136 L1200.8,1137.5 L1206.1,1139 L1211.7,1140.4 L1217.7,1141.8 L1224,1143 L1230.5,1144.2 L1237.4,1145.3 L1244.5,1146.3 L1251.8,1147.2 L1259.4,1148 L1267.1,1148.7 L1275.1,1149.2 L1283.2,1149.7 L1291.4,1150.1 L1299.8,1150.4 L1308.2,1150.5 L1316.8,1150.5 L1325.4,1150.5 L1334,1150.3 L1342.7,1149.9 L1351.4,1149.5 L1360,1148.9 L1368.7,1148.3 L1377.2,1147.5 L1385.7,1146.6 L1394.1,1145.5 L1402.3,1144.4 L1410.5,1143.2 L1418.4,1141.8 L1426.2,1140.3 L1433.9,1138.8 L1441.3,1137.1 L1448.4,1135.4 L1455.4,1133.6 L1462.1,1131.7 L1468.5,1129.7 L1474.6,1127.6 L1480.4,1125.4 L1485.9,1123.2 L1491.1,1120.9 L1496,1118.6 L1500.5,1116.1 L1504.6,1113.7 L1508.4,1111.2 L1511.9,1108.6 L1514.9,1106 L1517.6,1103.4 L1519.8,1100.7 L1521.7,1098 L1523.2,1095.4 L1524.2,1092.7 L1524.9,1090.1 L1525.2,1087.5 L1525,1085 L1524.5,1082.5 L1523.5,1080 L1522.2,1077.6 L1520.4,1075.3 L1518.3,1073 L1515.8,1070.8 L1512.9,1068.6 L1509.7,1066.5 L1506.2,1064.4 L1502.2,1062.4 L1498,1060.4 L1493.5,1058.5 L1488.6,1056.6 L1483.5,1054.9 L1478.1,1053.2 L1472.4,1051.5 L1466.5,1050 L1460.3,1048.5 L1453.9,1047.1 L1447.3,1045.8 L1440.6,1044.6 L1433.7,1043.5 L1426.6,1042.5 L1419.4,1041.5 L1412.1,1040.7 L1404.6,1040 M1300.7,1039.9 L1294,1040.6 L1287.4,1041.4 L1281.1,1042.3 L1274.9,1043.2 L1269,1044.3 L1263.3,1045.3 L1257.9,1046.5 L1252.7,1047.7 L1247.8,1049 L1243.2,1050.4 L1238.9,1051.8 L1234.9,1053.2 L1231.2,1054.7 L1227.8,1056.3 L1224.7,1057.9 L1221.9,1059.5 L1219.5,1061.1 L1217.4,1062.8 L1215.7,1064.5 L1214.3,1066.2 L1213.3,1068 L1212.6,1069.7 L1212.3,1071.5 L1212.4,1073.3 L1212.8,1075 L1213.6,1076.8 L1214.7,1078.6 L1216.2,1080.3 L1218,1082 L1220.2,1083.7 L1222.6,1085.4 L1225.4,1087 L1228.4,1088.6 L1231.8,1090.1 L1235.4,1091.6 L1239.2,1093 L1243.3,1094.4 L1247.7,1095.7 L1252.3,1097 L1257,1098.1 L1262,1099.2 L1267.2,1100.3 L1272.6,1101.2 L1278.1,1102.1 L1283.7,1103 L1289.5,1103.7 L1295.4,1104.4 L1301.4,1104.9 L1307.4,1105.4 L1313.6,1105.8 L1319.7,1106.2 L1326,1106.4 L1332.2,1106.6 L1338.5,1106.6 L1344.7,1106.5 L1350.9,1106.4 L1357.1,1106.1 L1363.2,1105.7 L1369.3,1105.2 L1375.3,1104.6 L1381.2,1103.9 L1387,1103.2 L1392.7,1102.3 L1398.2,1101.3 L1403.6,1100.3 L1408.9,1099.2 L1414,1098.1 L1418.9,1096.9 L1423.6,1095.6 L1428.2,1094.3 L1432.5,1092.9 L1436.6,1091.5 L1440.5,1090 L1444.1,1088.4 L1447.6,1086.9 L1450.7,1085.3 L1453.6,1083.6 L1456.3,1082 L1458.7,1080.3 L1460.9,1078.5 L1462.8,1076.8 L1464.4,1075 L1465.7,1073.3 L1466.8,1071.5 L1467.6,1069.7 L1468.1,1067.9 L1468.3,1066.1 L1468.2,1064.3 L1467.9,1062.5 L1467.3,1060.7 L1466.4,1058.9 L1465.2,1057.1 L1463.8,1055.4 L1462.1,1053.6 L1460.2,1051.9 L1458,1050.3 L1455.6,1048.7 L1453.1,1047.1 L1450.3,1045.5 L1447.3,1044 L1444.1,1042.6 L1440.8,1041.2 L1437.3,1039.8 L1433.6,1038.5 L1429.9,1037.3 L1425.9,1036.1 L1421.9,1034.9 L1417.8,1033.9 L1413.5,1032.9 L1409.2,1031.9 L1404.8,1031 L1400.4,1030.2 L1395.9,1029.4 M1319.7,1025.6 L1316.4,1025.8 L1313.2,1026.1 L1310.2,1026.5 L1307.3,1026.8 L1304.7,1027.3 L1302.1,1027.7 L1299.8,1028.1 L1297.6,1028.6 L1295.6,1029.1 L1293.8,1029.7 L1292.2,1030.2 L1290.8,1030.7 L1289.5,1031.3 L1288.5,1031.9 L1287.6,1032.5 L1286.9,1033 L1286.4,1033.6 L1286.1,1034.2 L1286.1,1034.8 L1286.3,1035.4 L1286.6,1036 L1287.2,1036.6 L1288,1037.2 L1289,1037.8 L1290.2,1038.4 L1291.6,1039 L1293.2,1039.6 L1294.9,1040.1 L1296.8,1040.6 L1298.8,1041.1 L1300.9,1041.5 L1303,1041.9 L1305.3,1042.2 L1307.6,1042.5 L1310,1042.8 L1312.5,1043 L1314.9,1043.1 L1317.4,1043.3 L1319.8,1043.5 L1322.1,1043.6 L1324.5,1043.8 L1326.8,1044" fill="none" stroke="#22e8e8" stroke-width="2.4" stroke-linejoin="round"/>
<path d="M1373.5,1012.3 C1370.6,1011.7 1364.3,1004 1356,1008.6 C1347.7,1013.2 1335,1031.2 1323.8,1039.7 C1312.6,1048.2 1303.5,1052 1289,1059.5 C1274.5,1067 1246.1,1079 1237,1084.4 C1227.9,1089.8 1229,1087.7 1234.4,1091.8 C1239.8,1095.9 1257.6,1100.5 1269.2,1109.2 C1280.8,1117.9 1293.2,1133.2 1304,1144 C1314.8,1154.8 1328,1166.8 1333.8,1173.8 C1339.6,1180.8 1339.5,1180.4 1338.7,1186.2 C1337.9,1192 1335.2,1201.5 1328.8,1208.5 C1322.4,1215.5 1305,1224.7 1300.2,1227.9" fill="none" stroke="#e020e0" stroke-width="2.2" stroke-linejoin="round" stroke-linecap="round"/>
<circle cx="1311.4" cy="1211" r="5" fill="#ff1010"/>
<circle cx="1356" cy="1008.6" r="6" fill="#ff1010"/>
<circle cx="1327.6" cy="1043.4" r="5.5" fill="#20f020"/>
<circle cx="1300.2" cy="1227.9" r="4.5" fill="#20d020"/>
<line x1="983.8" y1="986.9" x2="979.8" y2="986.9" stroke="#262626" stroke-width="1" />
<text x="976.3" y="991.5" font-size="18.3" text-anchor="end" font-weight="normal" fill="#262626" >0</text>
<line x1="983.8" y1="1037.1" x2="979.8" y2="1037.1" stroke="#262626" stroke-width="1" />
<text x="976.3" y="1041.7" font-size="18.3" text-anchor="end" font-weight="normal" fill="#262626" >-250</text>
<line x1="983.8" y1="1087.3" x2="979.8" y2="1087.3" stroke="#262626" stroke-width="1" />
<text x="976.3" y="1091.9" font-size="18.3" text-anchor="end" font-weight="normal" fill="#262626" >-500</text>
<line x1="983.8" y1="1137.6" x2="979.8" y2="1137.6" stroke="#262626" stroke-width="1" />
<text x="976.3" y="1142.2" font-size="18.3" text-anchor="end" font-weight="normal" fill="#262626" >-750</text>
<line x1="983.8" y1="1187.8" x2="979.8" y2="1187.8" stroke="#262626" stroke-width="1" />
<text x="976.3" y="1192.4" font-size="18.3" text-anchor="end" font-weight="normal" fill="#262626" >-1000</text>
<line x1="983.8" y1="1187.8" x2="978.8" y2="1188.7" stroke="#262626" stroke-width="1" />
<text x="975" y="1209.3" font-size="18.3" text-anchor="end" font-weight="normal" fill="#262626" >100</text>
<line x1="1057.3" y1="1218" x2="1052.3" y2="1218.9" stroke="#262626" stroke-width="1" />
<text x="1048.5" y="1239.5" font-size="18.3" text-anchor="end" font-weight="normal" fill="#262626" >50</text>
<line x1="1130.8" y1="1248.3" x2="1125.8" y2="1249.2" stroke="#262626" stroke-width="1" />
<text x="1122" y="1269.8" font-size="18.3" text-anchor="end" font-weight="normal" fill="#262626" >0</text>
<line x1="1204.2" y1="1278.5" x2="1199.3" y2="1279.4" stroke="#262626" stroke-width="1" />
<text x="1195.4" y="1300" font-size="18.3" text-anchor="end" font-weight="normal" fill="#262626" >-50</text>
<line x1="1277.7" y1="1308.8" x2="1272.7" y2="1309.7" stroke="#262626" stroke-width="1" />
<text x="1268.9" y="1330.3" font-size="18.3" text-anchor="end" font-weight="normal" fill="#262626" >-100</text>
<line x1="1277.7" y1="1308.8" x2="1280.9" y2="1310.1" stroke="#262626" stroke-width="1" />
<text x="1285.7" y="1330.8" font-size="18.3" text-anchor="start" font-weight="normal" fill="#262626" >-100</text>
<line x1="1390.8" y1="1289.2" x2="1394" y2="1290.6" stroke="#262626" stroke-width="1" />
<text x="1398.8" y="1311.2" font-size="18.3" text-anchor="start" font-weight="normal" fill="#262626" >-50</text>
<line x1="1503.8" y1="1269.7" x2="1507" y2="1271" stroke="#262626" stroke-width="1" />
<text x="1511.8" y="1291.7" font-size="18.3" text-anchor="start" font-weight="normal" fill="#262626" >0</text>
<line x1="1616.9" y1="1250.2" x2="1620.1" y2="1251.5" stroke="#262626" stroke-width="1" />
<text x="1624.9" y="1272.2" font-size="18.3" text-anchor="start" font-weight="normal" fill="#262626" >50</text>
<line x1="1729.9" y1="1230.6" x2="1733.1" y2="1231.9" stroke="#262626" stroke-width="1" />
<text x="1737.9" y="1252.6" font-size="18.3" text-anchor="start" font-weight="normal" fill="#262626" >100</text>
<text x="1075" y="1287" font-size="19.4" text-anchor="middle" font-weight="normal" fill="#262626" >y (km)</text>
<text x="1553" y="1313" font-size="19.4" text-anchor="middle" font-weight="normal" fill="#262626" >x (km)</text>
<text x="910" y="1084" font-size="19.4" text-anchor="middle" font-weight="normal" fill="#262626" transform="rotate(-90 910 1084)" dy="6">depth (m)</text>
<text x="2" y="24.6" font-size="28.5" text-anchor="start" font-weight="bold" fill="#000" >A</text>
<text x="903" y="24.6" font-size="28.5" text-anchor="start" font-weight="bold" fill="#000" >B</text>
<text x="2" y="476.5" font-size="28.5" text-anchor="start" font-weight="bold" fill="#000" >C</text>
<text x="903" y="476.5" font-size="28.5" text-anchor="start" font-weight="bold" fill="#000" >D</text>
<text x="2" y="913.5" font-size="28.5" text-anchor="start" font-weight="bold" fill="#000" >E</text>
<text x="903" y="913.5" font-size="28.5" text-anchor="start" font-weight="bold" fill="#000" >F</text></svg></body></html>
